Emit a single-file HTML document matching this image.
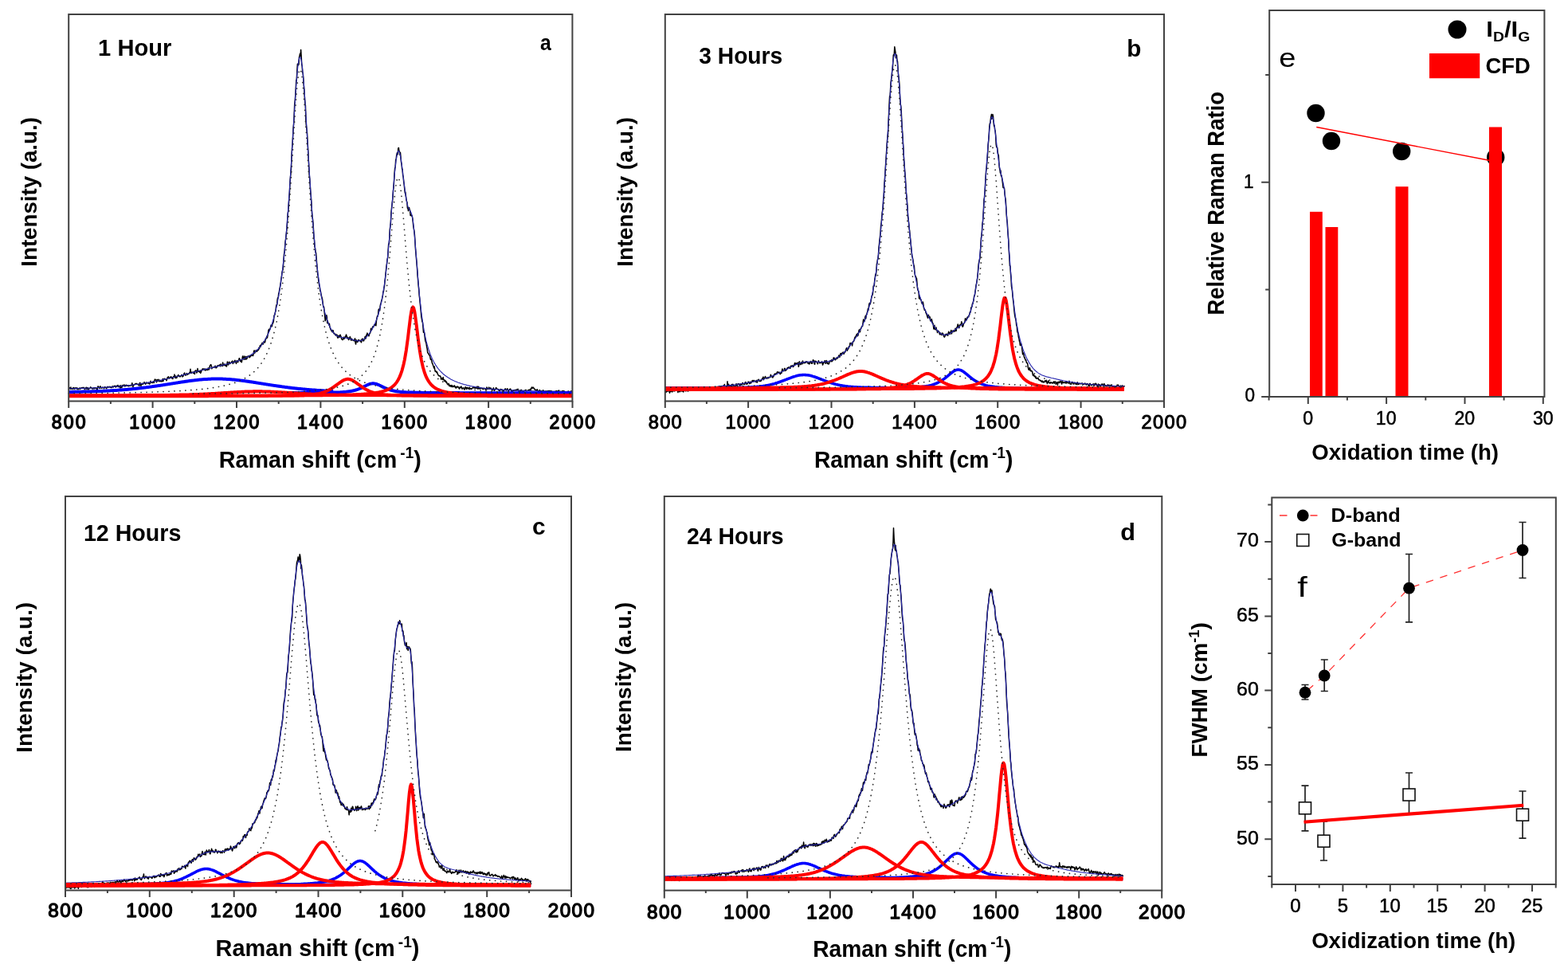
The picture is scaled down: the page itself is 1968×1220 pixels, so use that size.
<!DOCTYPE html>
<html lang="en"><head><meta charset="utf-8"><title>Raman spectra of oxidized carbon</title>
<style>
html,body{margin:0;padding:0;background:#fff;}
body{width:1968px;height:1220px;overflow:hidden;}
svg{display:block;font-family:'Liberation Sans', 'DejaVu Sans', sans-serif;filter:blur(0.5px);}
</style></head><body>
<svg width="1968" height="1220" viewBox="0 0 1968 1220">
<rect width="1968" height="1220" fill="#fff"/>
<g>
<polyline points="86.2,489 86.8,487.8 87.3,487.1 87.8,486.6 88.4,488.1 88.9,486.1 89.4,488.4 89.9,487.7 90.5,487.7 91,487.6 91.5,488.8 92,486.4 92.6,486.6 93.1,487.2 93.6,488.5 94.2,487.1 94.7,487 95.2,486.8 95.7,487.3 96.3,488.1 96.8,486.8 97.3,488.1 97.8,488.7 98.4,488.3 98.9,488.5 99.4,487.2 99.9,487.1 100.5,488.2 101,486.9 101.5,487.8 102.1,487 102.6,486.8 103.1,486.6 103.6,486.4 104.2,486.5 104.7,487.1 105.2,486.4 105.7,487.1 106.3,488.8 106.8,488.5 107.3,487.4 107.9,486.4 108.4,486.2 108.9,488.4 109.4,487.9 110,486.6 110.5,487.1 111,489 111.5,488 112.1,487.7 112.6,487.6 113.1,486.9 113.6,485.9 114.2,486.3 114.7,486.7 115.2,487.4 115.8,487.9 116.3,488.1 116.8,487.5 117.3,487.8 117.9,486.5 118.4,487.7 118.9,487.8 119.4,486.7 120,487.1 120.5,486.9 121,487.7 121.6,488.5 122.1,489.2 122.6,486.3 123.1,484.8 123.7,485.6 124.2,486.5 124.7,487.4 125.2,487.2 125.8,484.8 126.3,485.4 126.8,487.1 127.3,487 127.9,487.2 128.4,486.5 128.9,486.1 129.5,486.4 130,486.7 130.5,487.8 131,486.4 131.6,485.6 132.1,486.2 132.6,486.4 133.1,487.2 133.7,487.6 134.2,486.7 134.7,485.7 135.2,485.2 135.8,486.1 136.3,486.1 136.8,485.6 137.4,485.7 137.9,485.2 138.4,486.1 138.9,485.6 139.5,486.6 140,486.5 140.5,486.3 141,484.8 141.6,485.2 142.1,486.2 142.6,484.9 143.2,484.8 143.7,485.3 144.2,484.1 144.7,485 145.3,486.1 145.8,484.7 146.3,485.1 146.8,484 147.4,484.5 147.9,483.5 148.4,485.4 148.9,485.7 149.5,485 150,484.1 150.5,485.7 151.1,487.1 151.6,483.7 152.1,485 152.6,486.6 153.2,485.5 153.7,483.5 154.2,484.8 154.7,484.6 155.3,483.7 155.8,482.9 156.3,484.2 156.9,485.1 157.4,483.8 157.9,484.3 158.4,483.1 159,484.2 159.5,484.3 160,483.7 160.5,483.6 161.1,484.5 161.6,484.7 162.1,484.4 162.6,483.9 163.2,483.6 163.7,484 164.2,483.8 164.8,484 165.3,483.2 165.8,480.7 166.3,483.1 166.9,485.6 167.4,484.3 167.9,483 168.4,482.6 169,482.6 169.5,482.6 170,481.5 170.6,481.6 171.1,481.3 171.6,482.2 172.1,482.1 172.7,482.6 173.2,482.2 173.7,483 174.2,482.6 174.8,484.2 175.3,480.9 175.8,480.4 176.3,482.3 176.9,484.5 177.4,482.4 177.9,481.4 178.5,481.2 179,482.5 179.5,481.5 180,481.7 180.6,481 181.1,479.6 181.6,480.7 182.1,481.5 182.7,482.2 183.2,481.1 183.7,479.9 184.2,480.8 184.8,480.9 185.3,480.7 185.8,480.2 186.4,481.3 186.9,480.9 187.4,482 187.9,481.8 188.5,480.9 189,478.3 189.5,479.5 190,480.1 190.6,480.4 191.1,480.7 191.6,479.2 192.2,479.7 192.7,478.8 193.2,480.6 193.7,478.3 194.3,476.3 194.8,476.1 195.3,476.8 195.8,476.8 196.4,479.8 196.9,478.7 197.4,476.5 197.9,478.5 198.5,477.7 199,476.2 199.5,478 200.1,478.6 200.6,477.2 201.1,478.6 201.6,478 202.2,478.8 202.7,478.2 203.2,478.7 203.7,477.6 204.3,475.4 204.8,478.6 205.3,476.9 205.9,475.8 206.4,475.3 206.9,475.5 207.4,476.1 208,476.2 208.5,476.5 209,477.8 209.5,476.2 210.1,474 210.6,473.4 211.1,473.8 211.6,472.9 212.2,475 212.7,474.6 213.2,474.1 213.8,474.4 214.3,472.9 214.8,472.7 215.3,474.5 215.9,475 216.4,473.7 216.9,475.5 217.4,473.1 218,472.5 218.5,473 219,470.1 219.5,474 220.1,474.3 220.6,471.9 221.1,474.5 221.7,474.3 222.2,473.3 222.7,471.9 223.2,472.1 223.8,470.5 224.3,472.1 224.8,471.8 225.3,471.7 225.9,473 226.4,472.4 226.9,471.8 227.5,471.6 228,470.4 228.5,471.5 229,472.9 229.6,472.3 230.1,471.9 230.6,469.8 231.1,468.8 231.7,468.1 232.2,470.7 232.7,470.2 233.2,471.2 233.8,469.4 234.3,468.6 234.8,469.2 235.4,470.3 235.9,469.6 236.4,469.2 236.9,468.9 237.5,468.9 238,467.3 238.5,467.9 239,463.3 239.6,467.9 240.1,468.5 240.6,467.3 241.2,467.3 241.7,467.2 242.2,467.8 242.7,468.4 243.3,466.4 243.8,467.2 244.3,469.6 244.8,466.1 245.4,464.9 245.9,465 246.4,465.6 246.9,468 247.5,466.9 248,462.5 248.5,466.2 249.1,465.3 249.6,466.6 250.1,466.3 250.6,467.1 251.2,465.1 251.7,468.3 252.2,467.4 252.7,465.9 253.3,464.9 253.8,463.6 254.3,462.9 254.8,463.6 255.4,463 255.9,463.9 256.4,463 257,464 257.5,465 258,463.1 258.5,464.4 259.1,463.5 259.6,464.3 260.1,464 260.6,464.4 261.2,462 261.7,461.9 262.2,464.1 262.8,462.3 263.3,459.3 263.8,458.6 264.3,457.8 264.9,457.8 265.4,460 265.9,462.8 266.4,461.5 267,461.4 267.5,461.1 268,460.9 268.5,460.6 269.1,460.4 269.6,461.1 270.1,459.3 270.7,461 271.2,461.9 271.7,460.3 272.2,460.9 272.8,459.4 273.3,458.7 273.8,459.5 274.3,459.3 274.9,458.7 275.4,458.1 275.9,458 276.5,459.8 277,456.9 277.5,458.1 278,458.5 278.6,459.2 279.1,459.4 279.6,455 280.1,457.3 280.7,458.7 281.2,458 281.7,457.1 282.2,458.4 282.8,457.4 283.3,459.4 283.8,458.9 284.4,460 284.9,457.1 285.4,454.1 285.9,456.6 286.5,458 287,456.9 287.5,454.3 288,454.7 288.6,456.5 289.1,455.9 289.6,455.4 290.2,455.2 290.7,454.1 291.2,454 291.7,453 292.3,456.4 292.8,455.1 293.3,455 293.8,453.4 294.4,454.8 294.9,452.2 295.4,454.1 295.9,454.3 296.5,456.4 297,453 297.5,452.7 298.1,453.7 298.6,454.8 299.1,452.9 299.6,452.5 300.2,449.7 300.7,450 301.2,452.2 301.7,453.5 302.3,451.9 302.8,454 303.3,454.7 303.8,451.9 304.4,447.6 304.9,446.9 305.4,448.4 306,451.2 306.5,451 307,447.1 307.5,448 308.1,451.2 308.6,449.4 309.1,447.5 309.6,450.7 310.2,449.4 310.7,447.3 311.2,447.8 311.8,447.5 312.3,446.5 312.8,448.1 313.3,448.6 313.9,447.9 314.4,446.1 314.9,446.9 315.4,445.7 316,445.4 316.5,446.1 317,445.7 317.5,446.6 318.1,444.9 318.6,440.8 319.1,439.9 319.7,443.2 320.2,441.9 320.7,441.5 321.2,439.7 321.8,441.1 322.3,439.8 322.8,441.1 323.3,438.9 323.9,439.5 324.4,439.3 324.9,436.5 325.5,437.6 326,435.3 326.5,433.6 327,435.2 327.6,433.6 328.1,432.1 328.6,431.8 329.1,430.3 329.7,432.1 330.2,432 330.7,429.9 331.2,428.6 331.8,428.6 332.3,430 332.8,428.7 333.4,425.1 333.9,425.2 334.4,423.7 334.9,422 335.5,424 336,420.8 336.5,418 337,414.6 337.6,413.2 338.1,415.2 338.6,413.3 339.1,413.1 339.7,409.9 340.2,407.9 340.7,408.9 341.3,409.6 341.8,407.1 342.3,405.8 342.8,405.3 343.4,402.8 343.9,397.3 344.4,395.3 344.9,395 345.5,391.7 346,390.2 346.5,385.1 347.1,382.5 347.6,382.9 348.1,376.5 348.6,373.7 349.2,373.7 349.7,368.6 350.2,367.4 350.7,364.1 351.3,361.1 351.8,358.2 352.3,355.5 352.8,350.7 353.4,347.5 353.9,342.7 354.4,340.2 355,339 355.5,332.6 356,326.6 356.5,319.1 357.1,316.5 357.6,309.9 358.1,303.1 358.6,300.1 359.2,294.6 359.7,290.1 360.2,285.3 360.8,274.8 361.3,267.6 361.8,264.8 362.3,257.3 362.9,248.5 363.4,242 363.9,230.3 364.4,223.2 365,217.9 365.5,210.8 366,196.8 366.5,186.9 367.1,180.3 367.6,170.5 368.1,160.8 368.7,154.6 369.2,144.6 369.7,131.4 370.2,127.1 370.8,119.5 371.3,110.3 371.8,100.6 372.3,99.8 372.9,88.1 373.4,80.4 373.9,80.1 374.5,81.8 375,80.7 375.5,71.8 376,70.2 376.6,67.2 377.1,70.5 377.6,62.4 378.1,69.3 378.7,81.1 379.2,82.9 379.7,90.6 380.2,91.7 380.8,98.3 381.3,107.5 381.8,112.6 382.4,123 382.9,130.4 383.4,132.1 383.9,152.3 384.5,158.6 385,162.5 385.5,167 386,177.9 386.6,187 387.1,197.8 387.6,206.9 388.1,218.6 388.7,224.4 389.2,231.7 389.7,239.8 390.3,246.2 390.8,253.2 391.3,263.4 391.8,271 392.4,274.5 392.9,278.9 393.4,287.1 393.9,296.8 394.5,301.4 395,309.7 395.5,311.6 396.1,316.6 396.6,317.3 397.1,323.8 397.6,330.7 398.2,337 398.7,344.3 399.2,346.2 399.7,351.5 400.3,355 400.8,358.6 401.3,359.7 401.8,365.3 402.4,365.5 402.9,369.5 403.4,371.1 404,373.6 404.5,375 405,378.5 405.5,383.2 406.1,385.5 406.6,385.3 407.1,391.2 407.6,395.5 408.2,402.7 408.7,401.2 409.2,396.9 409.8,395.5 410.3,397.9 410.8,405.4 411.3,402.9 411.9,405.8 412.4,406.1 412.9,408 413.4,406.3 414,410.7 414.5,411.9 415,413.5 415.5,414 416.1,415.4 416.6,415.2 417.1,416.7 417.7,414.5 418.2,415 418.7,418.1 419.2,418.7 419.8,418.5 420.3,419 420.8,420.5 421.3,419.8 421.9,421.1 422.4,420 422.9,420.2 423.4,423 424,424.3 424.5,421.3 425,423 425.6,421.7 426.1,423.3 426.6,420.6 427.1,420.2 427.7,421.8 428.2,422.8 428.7,425.5 429.2,425.8 429.8,426.6 430.3,426.5 430.8,424.1 431.4,423.2 431.9,425.3 432.4,424.7 432.9,423.8 433.5,421.9 434,423.1 434.5,419.9 435,421.8 435.6,422.6 436.1,424.9 436.6,424.3 437.1,423.9 437.7,426.6 438.2,424.2 438.7,424.9 439.3,422.6 439.8,424.3 440.3,426.2 440.8,427.3 441.4,425.1 441.9,426 442.4,427 442.9,426.6 443.5,426.9 444,427.6 444.5,427.9 445.1,425.9 445.6,424.9 446.1,430.4 446.6,432 447.2,426.8 447.7,427.5 448.2,429 448.7,429.4 449.3,428.6 449.8,426.6 450.3,427 450.8,427 451.4,427.7 451.9,427.4 452.4,427.2 453,428.9 453.5,429.8 454,426.2 454.5,425.5 455.1,425.2 455.6,427.7 456.1,426.8 456.6,427.8 457.2,425.6 457.7,424.7 458.2,422.5 458.8,425.2 459.3,423.9 459.8,420.6 460.3,420.7 460.9,418.1 461.4,419.4 461.9,420.9 462.4,420.6 463,421.8 463.5,419.2 464,418.9 464.5,418.1 465.1,416.2 465.6,412.2 466.1,414.7 466.7,413.6 467.2,412.5 467.7,409.9 468.2,410.5 468.8,410.3 469.3,409 469.8,407.6 470.3,408.2 470.9,407.7 471.4,406.1 471.9,408.8 472.4,402.9 473,399.1 473.5,396.8 474,397.1 474.6,394.7 475.1,388.8 475.6,388 476.1,389.3 476.7,389.8 477.2,383.9 477.7,381.4 478.2,380.5 478.8,377.3 479.3,376.4 479.8,373.7 480.4,370.9 480.9,366.1 481.4,366.1 481.9,361.6 482.5,359.2 483,353.2 483.5,349.7 484,344 484.6,338 485.1,333.6 485.6,330.2 486.1,325.4 486.7,323.4 487.2,314.1 487.7,306.3 488.3,306.1 488.8,300.3 489.3,287.9 489.8,284.3 490.4,279.3 490.9,267.4 491.4,262.2 491.9,257.9 492.5,253.2 493,247.7 493.5,239.4 494.1,234.3 494.6,226.4 495.1,217.6 495.6,211.2 496.2,209.4 496.7,200.4 497.2,200 497.7,194.9 498.3,192 498.8,192.6 499.3,193.7 499.8,186.1 500.4,185.5 500.9,189.3 501.4,189.9 502,194.6 502.5,191.5 503,197.3 503.5,203.3 504.1,206.2 504.6,212.3 505.1,212.2 505.6,219.7 506.2,222.2 506.7,228.1 507.2,231.5 507.8,237.3 508.3,242.3 508.8,241 509.3,245.3 509.9,249.9 510.4,252.5 510.9,253.7 511.4,261.1 512,261.8 512.5,264.7 513,262.5 513.5,260.5 514.1,263.5 514.6,263.9 515.1,270.5 515.7,269.5 516.2,270.7 516.7,270.2 517.2,270.9 517.8,274.1 518.3,278.6 518.8,284 519.3,287 519.9,290.2 520.4,294.8 520.9,302.7 521.4,311.4 522,318.5 522.5,324.4 523,329.8 523.6,337.6 524.1,345.7 524.6,351.5 525.1,357.6 525.7,363.3 526.2,370.8 526.7,374.7 527.2,380.1 527.8,385.9 528.3,391.3 528.8,397.3 529.4,400.6 529.9,403.9 530.4,404.3 530.9,409.7 531.5,417.2 532,416.6 532.5,417.2 533,421.2 533.6,426.3 534.1,428.9 534.6,429.6 535.1,431.9 535.7,436 536.2,438.2 536.7,442.5 537.3,443.4 537.8,443.5 538.3,445.2 538.8,445.7 539.4,445.9 539.9,448.6 540.4,451.2 540.9,450.3 541.5,451.8 542,453.8 542.5,456 543.1,456.9 543.6,458.7 544.1,459.8 544.6,461.9 545.2,459.9 545.7,463.7 546.2,466.2 546.7,465.3 547.3,466.2 547.8,467.4 548.3,466.6 548.8,467.8 549.4,469.8 549.9,470.3 550.4,471.6 551,471.7 551.5,471.9 552,471.5 552.5,472.3 553.1,473 553.6,476.1 554.1,476 554.6,474.4 555.2,476 555.7,476.5 556.2,473.5 556.7,476.6 557.3,476.5 557.8,478.4 558.3,478.2 558.9,477.3 559.4,479.7 559.9,478.8 560.4,479.4 561,480.9 561.5,482.1 562,482.7 562.5,482.3 563.1,481.3 563.6,484.2 564.1,483.1 564.7,484.8 565.2,483.7 565.7,484.6 566.2,485.5 566.8,483.4 567.3,484.2 567.8,485.4 568.3,485.7 568.9,484.9 569.4,485.2 569.9,484.9 570.4,483.9 571,485.9 571.5,485.4 572,486.9 572.6,487 573.1,485.3 573.6,485.5 574.1,485.7 574.7,485.2 575.2,486.4 575.7,486.1 576.2,487.9 576.8,488.1 577.3,486 577.8,486.2 578.4,486.4 578.9,485 579.4,487 579.9,488.1 580.5,488.1 581,486.8 581.5,487.7 582,487.1 582.6,487.7 583.1,489.1 583.6,487.9 584.1,485.7 584.7,486.1 585.2,487.5 585.7,488.5 586.3,486.5 586.8,486.4 587.3,487.2 587.8,487.6 588.4,488.1 588.9,486.6 589.4,486.3 589.9,487.9 590.5,487.9 591,487.7 591.5,488.4 592,487.7 592.6,487.7 593.1,487.1 593.6,485.8 594.2,485.5 594.7,486.8 595.2,487.1 595.7,486.6 596.3,487.3 596.8,486.6 597.3,487.1 597.8,487.3 598.4,486.6 598.9,485 599.4,487.8 600,488.2 600.5,485.2 601,486 601.5,487.7 602.1,487.4 602.6,487.9 603.1,486.9 603.6,487.4 604.2,487.6 604.7,487.4 605.2,487.4 605.7,487.8 606.3,488.6 606.8,487.6 607.3,487.2 607.9,487.8 608.4,487.8 608.9,488.2 609.4,488.7 610,489.3 610.5,488.3 611,486 611.5,487.1 612.1,488.4 612.6,488.1 613.1,487.9 613.7,486.1 614.2,487.8 614.7,488.2 615.2,486.9 615.8,487 616.3,487.3 616.8,488.6 617.3,489.1 617.9,489.9 618.4,489.6 618.9,487.6 619.4,486.9 620,489 620.5,490.3 621,489 621.6,489.1 622.1,487.7 622.6,486.6 623.1,487.2 623.7,488.1 624.2,488.3 624.7,488.5 625.2,488.5 625.8,489.4 626.3,490.4 626.8,489.6 627.4,490.7 627.9,489.3 628.4,488.5 628.9,489.3 629.5,489 630,490 630.5,489.1 631,490.1 631.6,489.9 632.1,491.4 632.6,489.9 633.1,489.1 633.7,489.5 634.2,487.8 634.7,489.2 635.3,490.1 635.8,489.8 636.3,488.4 636.8,487.8 637.4,489.5 637.9,490.7 638.4,491.3 638.9,489.5 639.5,488.6 640,489.2 640.5,488.1 641,488.6 641.6,490.2 642.1,491.3 642.6,490.6 643.2,491.2 643.7,490.7 644.2,490.2 644.7,489.8 645.3,490 645.8,489.8 646.3,489.8 646.8,489.4 647.4,490 647.9,490.1 648.4,488.9 649,489.4 649.5,489.4 650,488.3 650.5,489.8 651.1,491.5 651.6,492.4 652.1,492.1 652.6,490.1 653.2,490.8 653.7,491.4 654.2,489.2 654.7,490.3 655.3,491 655.8,490.6 656.3,490.6 656.9,493.8 657.4,491.5 657.9,490.6 658.4,490.1 659,490.3 659.5,490.6 660,489.2 660.5,490.8 661.1,490.8 661.6,490.6 662.1,490.4 662.7,489.8 663.2,489.4 663.7,489.4 664.2,489.3 664.8,489.7 665.3,489.1 665.8,488.2 666.3,489.2 666.9,487.3 667.4,486 667.9,487.1 668.4,487.2 669,486 669.5,486.7 670,487.1 670.6,488.5 671.1,488.2 671.6,489.2 672.1,489.7 672.7,489.4 673.2,489.7 673.7,490.3 674.2,488.7 674.8,490 675.3,490.4 675.8,491.8 676.4,490.8 676.9,491.4 677.4,489.5 677.9,490.7 678.5,491.4 679,490.9 679.5,490.8 680,492.5 680.6,491.2 681.1,491.1 681.6,489.8 682.1,490.4 682.7,492.6 683.2,491.8 683.7,491.3 684.3,490.9 684.8,491.1 685.3,491.3 685.8,491 686.4,491.7 686.9,490.8 687.4,490.8 687.9,491.5 688.5,491.2 689,490.3 689.5,491.3 690,490.8 690.6,490.7 691.1,490.6 691.6,491 692.2,491 692.7,490.9 693.2,491.7 693.7,492.8 694.3,491.7 694.8,491.7 695.3,491.3 695.8,491.4 696.4,492.3 696.9,491.8 697.4,490.9 698,490.7 698.5,490.8 699,491.3 699.5,492.1 700.1,490.8 700.6,490.4 701.1,490.6 701.6,490.1 702.2,492 702.7,492 703.2,492.9 703.7,491.2 704.3,492.1 704.8,491.5 705.3,491.2 705.9,490.9 706.4,490.7 706.9,490.5 707.4,491.5 708,490.9 708.5,491.2 709,491.7 709.5,492.2 710.1,492 710.6,492 711.1,492.3 711.7,492 712.2,492.1 712.7,491.3 713.2,491 713.8,493 714.3,492.4 714.8,491.4 715.3,492.7 715.9,492.2 716.4,491.4 716.9,490.7 717.4,492.1 718,491.4 718.5,491.3" fill="none" stroke="#000" stroke-width="1.5" stroke-linejoin="round"/>
<polyline points="86.2,487.8 87.3,487.8 88.4,487.7 89.4,487.7 90.5,487.7 91.5,487.7 92.6,487.7 93.6,487.6 94.7,487.6 95.7,487.6 96.8,487.6 97.8,487.5 98.9,487.5 99.9,487.5 101,487.4 102.1,487.4 103.1,487.4 104.2,487.4 105.2,487.3 106.3,487.3 107.3,487.3 108.4,487.2 109.4,487.2 110.5,487.2 111.5,487.1 112.6,487.1 113.6,487 114.7,487 115.8,487 116.8,486.9 117.9,486.9 118.9,486.8 120,486.8 121,486.7 122.1,486.7 123.1,486.6 124.2,486.6 125.2,486.5 126.3,486.5 127.3,486.4 128.4,486.4 129.5,486.3 130.5,486.3 131.6,486.2 132.6,486.1 133.7,486.1 134.7,486 135.8,485.9 136.8,485.9 137.9,485.8 138.9,485.7 140,485.6 141,485.6 142.1,485.5 143.2,485.4 144.2,485.3 145.3,485.2 146.3,485.1 147.4,485.1 148.4,485 149.5,484.9 150.5,484.8 151.6,484.7 152.6,484.6 153.7,484.5 154.7,484.4 155.8,484.3 156.9,484.2 157.9,484.1 159,483.9 160,483.8 161.1,483.7 162.1,483.6 163.2,483.5 164.2,483.3 165.3,483.2 166.3,483.1 167.4,482.9 168.4,482.8 169.5,482.7 170.6,482.5 171.6,482.4 172.7,482.2 173.7,482.1 174.8,481.9 175.8,481.8 176.9,481.6 177.9,481.5 179,481.3 180,481.2 181.1,481 182.1,480.8 183.2,480.6 184.2,480.5 185.3,480.3 186.4,480.1 187.4,479.9 188.5,479.7 189.5,479.5 190.6,479.4 191.6,479.2 192.7,479 193.7,478.8 194.8,478.6 195.8,478.4 196.9,478.2 197.9,477.9 199,477.7 200.1,477.5 201.1,477.3 202.2,477.1 203.2,476.9 204.3,476.6 205.3,476.4 206.4,476.2 207.4,475.9 208.5,475.7 209.5,475.5 210.6,475.2 211.6,475 212.7,474.8 213.8,474.5 214.8,474.3 215.9,474 216.9,473.8 218,473.5 219,473.3 220.1,473 221.1,472.8 222.2,472.5 223.2,472.2 224.3,472 225.3,471.7 226.4,471.5 227.5,471.2 228.5,470.9 229.6,470.7 230.6,470.4 231.7,470.1 232.7,469.9 233.8,469.6 234.8,469.3 235.9,469 236.9,468.8 238,468.5 239,468.2 240.1,468 241.2,467.7 242.2,467.4 243.3,467.1 244.3,466.9 245.4,466.6 246.4,466.3 247.5,466.1 248.5,465.8 249.6,465.5 250.6,465.3 251.7,465 252.7,464.7 253.8,464.5 254.8,464.2 255.9,463.9 257,463.7 258,463.4 259.1,463.2 260.1,462.9 261.2,462.6 262.2,462.4 263.3,462.1 264.3,461.9 265.4,461.6 266.4,461.4 267.5,461.1 268.5,460.9 269.6,460.6 270.7,460.3 271.7,460.1 272.8,459.8 273.8,459.6 274.9,459.3 275.9,459.1 277,458.8 278,458.6 279.1,458.3 280.1,458.1 281.2,457.8 282.2,457.6 283.3,457.3 284.4,457 285.4,456.8 286.5,456.5 287.5,456.2 288.6,455.9 289.6,455.7 290.7,455.4 291.7,455.1 292.8,454.8 293.8,454.5 294.9,454.1 295.9,453.8 297,453.5 298.1,453.1 299.1,452.8 300.2,452.4 301.2,452 302.3,451.7 303.3,451.2 304.4,450.8 305.4,450.4 306.5,449.9 307.5,449.5 308.6,449 309.6,448.4 310.7,447.9 311.8,447.3 312.8,446.7 313.9,446.1 314.9,445.4 316,444.8 317,444 318.1,443.3 319.1,442.5 320.2,441.6 321.2,440.7 322.3,439.7 323.3,438.7 324.4,437.7 325.5,436.5 326.5,435.3 327.6,434 328.6,432.7 329.7,431.2 330.7,429.7 331.8,428 332.8,426.2 333.9,424.4 334.9,422.3 336,420.2 337,417.9 338.1,415.4 339.1,412.7 340.2,409.9 341.3,406.8 342.3,403.5 343.4,399.9 344.4,396.1 345.5,391.9 346.5,387.4 347.6,382.6 348.6,377.3 349.7,371.7 350.7,365.5 351.8,358.9 352.8,351.6 353.9,343.8 355,335.3 356,326.1 357.1,316.1 358.1,305.4 359.2,293.8 360.2,281.2 361.3,267.8 362.3,253.5 363.4,238.3 364.4,222.3 365.5,205.6 366.5,188.4 367.6,170.8 368.7,153.3 369.7,136.3 370.8,120.2 371.8,105.5 372.9,92.9 373.9,82.8 375,75.7 376,72 377.1,71.9 378.1,75.4 379.2,82.3 380.2,92.3 381.3,104.9 382.4,119.5 383.4,135.7 384.5,152.8 385.5,170.3 386.6,188 387.6,205.4 388.7,222.2 389.7,238.4 390.8,253.8 391.8,268.3 392.9,281.8 393.9,294.4 395,306.2 396.1,317 397.1,327 398.2,336.3 399.2,344.8 400.3,352.6 401.3,359.8 402.4,366.3 403.4,372.4 404.5,377.9 405.5,383 406.6,387.6 407.6,391.8 408.7,395.6 409.8,399.1 410.8,402.3 411.9,405.2 412.9,407.8 414,410.1 415,412.2 416.1,414 417.1,415.6 418.2,417.1 419.2,418.3 420.3,419.4 421.3,420.3 422.4,421.1 423.4,421.7 424.5,422.3 425.6,422.7 426.6,423 427.7,423.3 428.7,423.5 429.8,423.6 430.8,423.7 431.9,423.9 432.9,424 434,424.1 435,424.3 436.1,424.4 437.1,424.7 438.2,424.9 439.3,425.2 440.3,425.6 441.4,425.9 442.4,426.3 443.5,426.6 444.5,427 445.6,427.3 446.6,427.5 447.7,427.7 448.7,427.9 449.8,427.9 450.8,427.9 451.9,427.7 453,427.5 454,427.1 455.1,426.7 456.1,426.1 457.2,425.4 458.2,424.5 459.3,423.6 460.3,422.5 461.4,421.3 462.4,420 463.5,418.6 464.5,417.1 465.6,415.5 466.7,413.8 467.7,411.9 468.8,409.9 469.8,407.8 470.9,405.5 471.9,402.9 473,400.2 474,397.1 475.1,393.8 476.1,390 477.2,385.9 478.2,381.2 479.3,376 480.4,370.3 481.4,363.9 482.5,356.8 483.5,349 484.6,340.3 485.6,330.9 486.7,320.6 487.7,309.4 488.8,297.5 489.8,284.9 490.9,271.7 491.9,258.3 493,244.8 494.1,231.8 495.1,219.7 496.2,209 497.2,200.3 498.3,193.9 499.3,190.2 500.4,189.3 501.4,191.2 502.5,195.5 503.5,201.8 504.6,209.5 505.6,218.1 506.7,226.9 507.8,235.5 508.8,243.2 509.9,249.9 510.9,255.2 512,259.2 513,261.8 514.1,263.6 515.1,265.2 516.2,267.3 517.2,271 518.3,277 519.3,285.5 520.4,296.5 521.4,309.1 522.5,322.7 523.6,336.3 524.6,349.4 525.7,361.7 526.7,372.9 527.8,382.9 528.8,391.9 529.9,399.9 530.9,407 532,413.4 533,419 534.1,424.1 535.1,428.6 536.2,432.7 537.3,436.4 538.3,439.8 539.4,442.8 540.4,445.6 541.5,448.1 542.5,450.5 543.6,452.6 544.6,454.6 545.7,456.4 546.7,458.1 547.8,459.7 548.8,461.2 549.9,462.6 551,463.9 552,465.1 553.1,466.2 554.1,467.3 555.2,468.3 556.2,469.3 557.3,470.2 558.3,471 559.4,471.8 560.4,472.6 561.5,473.3 562.5,474 563.6,474.6 564.7,475.3 565.7,475.9 566.8,476.4 567.8,477 568.9,477.5 569.9,478 571,478.5 572,478.9 573.1,479.3 574.1,479.8 575.2,480.2 576.2,480.5 577.3,480.9 578.4,481.3 579.4,481.6 580.5,481.9 581.5,482.2 582.6,482.6 583.6,482.8 584.7,483.1 585.7,483.4 586.8,483.7 587.8,483.9 588.9,484.1 589.9,484.4 591,484.6 592,484.8 593.1,485 594.2,485.2 595.2,485.4 596.3,485.6 597.3,485.8 598.4,486 599.4,486.1 600.5,486.3 601.5,486.5 602.6,486.6 603.6,486.8 604.7,486.9 605.7,487 606.8,487.2 607.9,487.3 608.9,487.4 610,487.6 611,487.7 612.1,487.8 613.1,487.9 614.2,488 615.2,488.1 616.3,488.2 617.3,488.3 618.4,488.4 619.4,488.5 620.5,488.5 621.6,488.6 622.6,488.7 623.7,488.8 624.7,488.9 625.8,488.9 626.8,489 627.9,489.1 628.9,489.1 630,489.2 631,489.3 632.1,489.3 633.1,489.4 634.2,489.4 635.3,489.5 636.3,489.5 637.4,489.6 638.4,489.6 639.5,489.7 640.5,489.7 641.6,489.8 642.6,489.8 643.7,489.9 644.7,489.9 645.8,490 646.8,490 647.9,490 649,490.1 650,490.1 651.1,490.1 652.1,490.2 653.2,490.2 654.2,490.3 655.3,490.3 656.3,490.3 657.4,490.4 658.4,490.4 659.5,490.4 660.5,490.5 661.6,490.5 662.7,490.5 663.7,490.6 664.8,490.6 665.8,490.6 666.9,490.6 667.9,490.7 669,490.7 670,490.7 671.1,490.8 672.1,490.8 673.2,490.8 674.2,490.9 675.3,490.9 676.4,490.9 677.4,490.9 678.5,491 679.5,491 680.6,491 681.6,491.1 682.7,491.1 683.7,491.1 684.8,491.1 685.8,491.2 686.9,491.2 687.9,491.2 689,491.3 690,491.3 691.1,491.3 692.2,491.3 693.2,491.4 694.3,491.4 695.3,491.4 696.4,491.4 697.4,491.5 698.5,491.5 699.5,491.5 700.6,491.5 701.6,491.6 702.7,491.6 703.7,491.6 704.8,491.7 705.9,491.7 706.9,491.7 708,491.7 709,491.8 710.1,491.8 711.1,491.8 712.2,491.8 713.2,491.9 714.3,491.9 715.3,491.9 716.4,491.9 717.4,492 718.5,492" fill="none" stroke="#2a2ab0" stroke-width="1.15" stroke-linejoin="round"/>
<polyline points="86.2,491.9 87.3,491.9 88.4,491.9 89.4,491.9 90.5,491.9 91.5,491.9 92.6,491.9 93.6,491.8 94.7,491.8 95.7,491.8 96.8,491.8 97.8,491.8 98.9,491.7 99.9,491.7 101,491.7 102.1,491.7 103.1,491.7 104.2,491.6 105.2,491.6 106.3,491.6 107.3,491.6 108.4,491.5 109.4,491.5 110.5,491.5 111.5,491.4 112.6,491.4 113.6,491.4 114.7,491.4 115.8,491.3 116.8,491.3 117.9,491.3 118.9,491.2 120,491.2 121,491.1 122.1,491.1 123.1,491.1 124.2,491 125.2,491 126.3,490.9 127.3,490.9 128.4,490.9 129.5,490.8 130.5,490.8 131.6,490.7 132.6,490.7 133.7,490.6 134.7,490.6 135.8,490.5 136.8,490.4 137.9,490.4 138.9,490.3 140,490.3 141,490.2 142.1,490.1 143.2,490.1 144.2,490 145.3,489.9 146.3,489.9 147.4,489.8 148.4,489.7 149.5,489.6 150.5,489.6 151.6,489.5 152.6,489.4 153.7,489.3 154.7,489.2 155.8,489.2 156.9,489.1 157.9,489 159,488.9 160,488.8 161.1,488.7 162.1,488.6 163.2,488.5 164.2,488.4 165.3,488.3 166.3,488.2 167.4,488.1 168.4,488 169.5,487.9 170.6,487.8 171.6,487.7 172.7,487.5 173.7,487.4 174.8,487.3 175.8,487.2 176.9,487.1 177.9,486.9 179,486.8 180,486.7 181.1,486.5 182.1,486.4 183.2,486.3 184.2,486.1 185.3,486 186.4,485.9 187.4,485.7 188.5,485.6 189.5,485.4 190.6,485.3 191.6,485.1 192.7,485 193.7,484.8 194.8,484.7 195.8,484.5 196.9,484.4 197.9,484.2 199,484.1 200.1,483.9 201.1,483.8 202.2,483.6 203.2,483.4 204.3,483.3 205.3,483.1 206.4,482.9 207.4,482.8 208.5,482.6 209.5,482.4 210.6,482.3 211.6,482.1 212.7,481.9 213.8,481.8 214.8,481.6 215.9,481.4 216.9,481.3 218,481.1 219,480.9 220.1,480.8 221.1,480.6 222.2,480.4 223.2,480.3 224.3,480.1 225.3,480 226.4,479.8 227.5,479.6 228.5,479.5 229.6,479.3 230.6,479.2 231.7,479 232.7,478.8 233.8,478.7 234.8,478.5 235.9,478.4 236.9,478.2 238,478.1 239,478 240.1,477.8 241.2,477.7 242.2,477.6 243.3,477.4 244.3,477.3 245.4,477.2 246.4,477.1 247.5,476.9 248.5,476.8 249.6,476.7 250.6,476.6 251.7,476.5 252.7,476.4 253.8,476.3 254.8,476.2 255.9,476.1 257,476.1 258,476 259.1,475.9 260.1,475.9 261.2,475.8 262.2,475.7 263.3,475.7 264.3,475.7 265.4,475.6 266.4,475.6 267.5,475.6 268.5,475.5 269.6,475.5 270.7,475.5 271.7,475.5 272.8,475.5 273.8,475.5 274.9,475.5 275.9,475.5 277,475.6 278,475.6 279.1,475.6 280.1,475.7 281.2,475.7 282.2,475.7 283.3,475.8 284.4,475.9 285.4,475.9 286.5,476 287.5,476.1 288.6,476.1 289.6,476.2 290.7,476.3 291.7,476.4 292.8,476.5 293.8,476.6 294.9,476.7 295.9,476.8 297,476.9 298.1,477.1 299.1,477.2 300.2,477.3 301.2,477.4 302.3,477.6 303.3,477.7 304.4,477.8 305.4,478 306.5,478.1 307.5,478.2 308.6,478.4 309.6,478.5 310.7,478.7 311.8,478.8 312.8,479 313.9,479.2 314.9,479.3 316,479.5 317,479.6 318.1,479.8 319.1,480 320.2,480.1 321.2,480.3 322.3,480.4 323.3,480.6 324.4,480.8 325.5,480.9 326.5,481.1 327.6,481.3 328.6,481.4 329.7,481.6 330.7,481.8 331.8,481.9 332.8,482.1 333.9,482.3 334.9,482.4 336,482.6 337,482.8 338.1,482.9 339.1,483.1 340.2,483.3 341.3,483.4 342.3,483.6 343.4,483.8 344.4,483.9 345.5,484.1 346.5,484.2 347.6,484.4 348.6,484.5 349.7,484.7 350.7,484.8 351.8,485 352.8,485.1 353.9,485.3 355,485.4 356,485.6 357.1,485.7 358.1,485.9 359.2,486 360.2,486.1 361.3,486.3 362.3,486.4 363.4,486.5 364.4,486.7 365.5,486.8 366.5,486.9 367.6,487.1 368.7,487.2 369.7,487.3 370.8,487.4 371.8,487.5 372.9,487.7 373.9,487.8 375,487.9 376,488 377.1,488.1 378.1,488.2 379.2,488.3 380.2,488.4 381.3,488.5 382.4,488.6 383.4,488.7 384.5,488.8 385.5,488.9 386.6,489 387.6,489.1 388.7,489.2 389.7,489.2 390.8,489.3 391.8,489.4 392.9,489.5 393.9,489.6 395,489.6 396.1,489.7 397.1,489.8 398.2,489.9 399.2,489.9 400.3,490 401.3,490.1 402.4,490.1 403.4,490.2 404.5,490.3 405.5,490.3 406.6,490.4 407.6,490.4 408.7,490.5 409.8,490.6 410.8,490.6 411.9,490.7 412.9,490.7 414,490.8 415,490.8 416.1,490.9 417.1,490.9 418.2,490.9" fill="none" stroke="#0000ff" stroke-width="4" stroke-linejoin="round"/>
<polyline points="365.5,493.1 366.5,493.1 367.6,493.1 368.7,493.1 369.7,493.1 370.8,493.1 371.8,493.1 372.9,493.1 373.9,493.1 375,493.1 376,493.1 377.1,493.1 378.1,493.1 379.2,493.1 380.2,493.1 381.3,493.1 382.4,493.1 383.4,493.1 384.5,493.1 385.5,493 386.6,493 387.6,493 388.7,493 389.7,493 390.8,493 391.8,493 392.9,493 393.9,493 395,493 396.1,493 397.1,493 398.2,493 399.2,492.9 400.3,492.9 401.3,492.9 402.4,492.9 403.4,492.9 404.5,492.9 405.5,492.9 406.6,492.9 407.6,492.8 408.7,492.8 409.8,492.8 410.8,492.8 411.9,492.8 412.9,492.8 414,492.7 415,492.7 416.1,492.7 417.1,492.7 418.2,492.6 419.2,492.6 420.3,492.6 421.3,492.6 422.4,492.5 423.4,492.5 424.5,492.4 425.6,492.4 426.6,492.4 427.7,492.3 428.7,492.2 429.8,492.2 430.8,492.1 431.9,492 432.9,491.9 434,491.9 435,491.7 436.1,491.6 437.1,491.5 438.2,491.3 439.3,491.2 440.3,491 441.4,490.8 442.4,490.6 443.5,490.3 444.5,490.1 445.6,489.8 446.6,489.5 447.7,489.1 448.7,488.8 449.8,488.4 450.8,488 451.9,487.5 453,487.1 454,486.6 455.1,486.1 456.1,485.6 457.2,485.1 458.2,484.5 459.3,484 460.3,483.5 461.4,483 462.4,482.6 463.5,482.2 464.5,481.8 465.6,481.6 466.7,481.4 467.7,481.3 468.8,481.3 469.8,481.4 470.9,481.6 471.9,481.8 473,482.2 474,482.6 475.1,483 476.1,483.5 477.2,484 478.2,484.5 479.3,485.1 480.4,485.6 481.4,486.1 482.5,486.6 483.5,487.1 484.6,487.5 485.6,488 486.7,488.4 487.7,488.8 488.8,489.1 489.8,489.5 490.9,489.8 491.9,490.1 493,490.3 494.1,490.6 495.1,490.8 496.2,491 497.2,491.2 498.3,491.3 499.3,491.5 500.4,491.6 501.4,491.7 502.5,491.9 503.5,491.9 504.6,492 505.6,492.1 506.7,492.2 507.8,492.2 508.8,492.3 509.9,492.4 510.9,492.4 512,492.4 513,492.5 514.1,492.5 515.1,492.6 516.2,492.6 517.2,492.6 518.3,492.6 519.3,492.7 520.4,492.7 521.4,492.7 522.5,492.7 523.6,492.8 524.6,492.8 525.7,492.8 526.7,492.8 527.8,492.8 528.8,492.8 529.9,492.9 530.9,492.9 532,492.9 533,492.9 534.1,492.9 535.1,492.9 536.2,492.9 537.3,492.9 538.3,493 539.4,493 540.4,493 541.5,493 542.5,493 543.6,493 544.6,493 545.7,493 546.7,493 547.8,493 548.8,493 549.9,493 551,493 552,493.1 553.1,493.1 554.1,493.1 555.2,493.1 556.2,493.1 557.3,493.1 558.3,493.1 559.4,493.1 560.4,493.1 561.5,493.1 562.5,493.1 563.6,493.1 564.7,493.1 565.7,493.1 566.8,493.1 567.8,493.1 568.9,493.1 569.9,493.1 571,493.1 572,493.1 573.1,493.1 574.1,493.1 575.2,493.1 576.2,493.1 577.3,493.2 578.4,493.2 579.4,493.2 580.5,493.2 581.5,493.2 582.6,493.2 583.6,493.2 584.7,493.2 585.7,493.2 586.8,493.2 587.8,493.2 588.9,493.2 589.9,493.2 591,493.2 592,493.2 593.1,493.2 594.2,493.2 595.2,493.2 596.3,493.2 597.3,493.2 598.4,493.2 599.4,493.2 600.5,493.2 601.5,493.2 602.6,493.2 603.6,493.2 604.7,493.2 605.7,493.2 606.8,493.2 607.9,493.2 608.9,493.2 610,493.2 611,493.2 612.1,493.2 613.1,493.2 614.2,493.2 615.2,493.2 616.3,493.2 617.3,493.2 618.4,493.2 619.4,493.2 620.5,493.2 621.6,493.2 622.6,493.2 623.7,493.2 624.7,493.2 625.8,493.2 626.8,493.2 627.9,493.2 628.9,493.2 630,493.2 631,493.2 632.1,493.2 633.1,493.2 634.2,493.2 635.3,493.2 636.3,493.2 637.4,493.2 638.4,493.2 639.5,493.2 640.5,493.2 641.6,493.2 642.6,493.2 643.7,493.2 644.7,493.2 645.8,493.2 646.8,493.2 647.9,493.2 649,493.2 650,493.2 651.1,493.2 652.1,493.2 653.2,493.2 654.2,493.2 655.3,493.2 656.3,493.2 657.4,493.3 658.4,493.3 659.5,493.3 660.5,493.3 661.6,493.3 662.7,493.3 663.7,493.3 664.8,493.3 665.8,493.3 666.9,493.3 667.9,493.3 669,493.3 670,493.3 671.1,493.3 672.1,493.3 673.2,493.3 674.2,493.3 675.3,493.3 676.4,493.3 677.4,493.3 678.5,493.3 679.5,493.3 680.6,493.3 681.6,493.3 682.7,493.3 683.7,493.3 684.8,493.3 685.8,493.3 686.9,493.3 687.9,493.3 689,493.3 690,493.3 691.1,493.3 692.2,493.3 693.2,493.3 694.3,493.3 695.3,493.3 696.4,493.3 697.4,493.3 698.5,493.3 699.5,493.3 700.6,493.3 701.6,493.3 702.7,493.3 703.7,493.3 704.8,493.3 705.9,493.3 706.9,493.3 708,493.3 709,493.3 710.1,493.3 711.1,493.3 712.2,493.3 713.2,493.3 714.3,493.3 715.3,493.3 716.4,493.3 717.4,493.3 718.5,493.3" fill="none" stroke="#0000ff" stroke-width="4" stroke-linejoin="round"/>
<polyline points="86.2,496.2 87.3,496.2 88.4,496.2 89.4,496.2 90.5,496.2 91.5,496.2 92.6,496.2 93.6,496.2 94.7,496.2 95.7,496.2 96.8,496.2 97.8,496.2 98.9,496.2 99.9,496.2 101,496.2 102.1,496.2 103.1,496.2 104.2,496.2 105.2,496.2 106.3,496.2 107.3,496.2 108.4,496.2 109.4,496.2 110.5,496.2 111.5,496.2 112.6,496.2 113.6,496.2 114.7,496.2 115.8,496.2 116.8,496.2 117.9,496.2 118.9,496.2 120,496.2 121,496.2 122.1,496.2 123.1,496.2 124.2,496.2 125.2,496.2 126.3,496.2 127.3,496.2 128.4,496.2 129.5,496.2 130.5,496.2 131.6,496.2 132.6,496.2 133.7,496.2 134.7,496.2 135.8,496.2 136.8,496.2 137.9,496.2 138.9,496.2 140,496.2 141,496.2 142.1,496.2 143.2,496.2 144.2,496.2 145.3,496.2 146.3,496.2 147.4,496.2 148.4,496.2 149.5,496.2 150.5,496.2 151.6,496.2 152.6,496.2 153.7,496.2 154.7,496.2 155.8,496.2 156.9,496.2 157.9,496.2 159,496.2 160,496.2 161.1,496.2 162.1,496.1 163.2,496.1 164.2,496.1 165.3,496.1 166.3,496.1 167.4,496.1 168.4,496.1 169.5,496.1 170.6,496.1 171.6,496.1 172.7,496.1 173.7,496.1 174.8,496.1 175.8,496.1 176.9,496.1 177.9,496.1 179,496.1 180,496.1 181.1,496.1 182.1,496.1 183.2,496.1 184.2,496.1 185.3,496.1 186.4,496.1 187.4,496.1 188.5,496.1 189.5,496.1 190.6,496.1 191.6,496 192.7,496 193.7,496 194.8,496 195.8,496 196.9,496 197.9,496 199,496 200.1,496 201.1,496 202.2,496 203.2,496 204.3,496 205.3,495.9 206.4,495.9 207.4,495.9 208.5,495.9 209.5,495.9 210.6,495.9 211.6,495.9 212.7,495.9 213.8,495.8 214.8,495.8 215.9,495.8 216.9,495.8 218,495.8 219,495.8 220.1,495.7 221.1,495.7 222.2,495.7 223.2,495.7 224.3,495.7 225.3,495.6 226.4,495.6 227.5,495.6 228.5,495.6 229.6,495.6 230.6,495.5 231.7,495.5 232.7,495.5 233.8,495.4 234.8,495.4 235.9,495.4 236.9,495.4 238,495.3 239,495.3 240.1,495.3 241.2,495.2 242.2,495.2 243.3,495.1 244.3,495.1 245.4,495.1 246.4,495 247.5,495 248.5,494.9 249.6,494.9 250.6,494.8 251.7,494.8 252.7,494.8 253.8,494.7 254.8,494.7 255.9,494.6 257,494.6 258,494.5 259.1,494.4 260.1,494.4 261.2,494.3 262.2,494.3 263.3,494.2 264.3,494.2 265.4,494.1 266.4,494 267.5,494 268.5,493.9 269.6,493.9 270.7,493.8 271.7,493.7 272.8,493.7 273.8,493.6 274.9,493.5 275.9,493.5 277,493.4 278,493.3 279.1,493.3 280.1,493.2 281.2,493.1 282.2,493.1 283.3,493 284.4,492.9 285.4,492.9 286.5,492.8 287.5,492.7 288.6,492.7 289.6,492.6 290.7,492.5 291.7,492.5 292.8,492.4 293.8,492.3 294.9,492.3 295.9,492.2 297,492.2 298.1,492.1 299.1,492 300.2,492 301.2,491.9 302.3,491.9 303.3,491.8 304.4,491.8 305.4,491.7 306.5,491.7 307.5,491.6 308.6,491.6 309.6,491.6 310.7,491.5 311.8,491.5 312.8,491.5 313.9,491.4 314.9,491.4 316,491.4 317,491.4 318.1,491.3 319.1,491.3 320.2,491.3 321.2,491.3 322.3,491.3 323.3,491.3 324.4,491.3 325.5,491.3 326.5,491.3 327.6,491.3 328.6,491.3 329.7,491.4 330.7,491.4 331.8,491.4 332.8,491.4 333.9,491.5 334.9,491.5 336,491.5 337,491.6 338.1,491.6 339.1,491.6 340.2,491.7 341.3,491.7 342.3,491.8 343.4,491.8 344.4,491.9 345.5,491.9 346.5,492 347.6,492 348.6,492.1 349.7,492.2 350.7,492.2 351.8,492.3 352.8,492.3 353.9,492.4 355,492.5 356,492.5 357.1,492.6 358.1,492.7 359.2,492.7 360.2,492.8 361.3,492.9 362.3,492.9 363.4,493 364.4,493.1 365.5,493.1 366.5,493.2 367.6,493.3 368.7,493.3 369.7,493.4 370.8,493.5 371.8,493.5 372.9,493.6 373.9,493.7 375,493.7 376,493.8 377.1,493.9 378.1,493.9 379.2,494 380.2,494 381.3,494.1 382.4,494.2 383.4,494.2 384.5,494.3 385.5,494.3 386.6,494.4 387.6,494.4 388.7,494.5 389.7,494.6 390.8,494.6 391.8,494.7 392.9,494.7 393.9,494.8 395,494.8 396.1,494.8 397.1,494.9 398.2,494.9 399.2,495 400.3,495 401.3,495.1 402.4,495.1 403.4,495.1 404.5,495.2 405.5,495.2 406.6,495.3 407.6,495.3 408.7,495.3 409.8,495.4 410.8,495.4 411.9,495.4 412.9,495.4 414,495.5 415,495.5 416.1,495.5 417.1,495.6 418.2,495.6 419.2,495.6 420.3,495.6 421.3,495.6 422.4,495.7 423.4,495.7 424.5,495.7 425.6,495.7 426.6,495.7 427.7,495.8 428.7,495.8 429.8,495.8 430.8,495.8 431.9,495.8 432.9,495.8 434,495.9 435,495.9 436.1,495.9 437.1,495.9 438.2,495.9 439.3,495.9 440.3,495.9 441.4,495.9 442.4,496 443.5,496 444.5,496 445.6,496 446.6,496 447.7,496 448.7,496 449.8,496 450.8,496 451.9,496 453,496 454,496 455.1,496 456.1,496.1 457.2,496.1 458.2,496.1 459.3,496.1 460.3,496.1 461.4,496.1 462.4,496.1 463.5,496.1 464.5,496.1 465.6,496.1 466.7,496.1 467.7,496.1 468.8,496.1 469.8,496.1 470.9,496.1 471.9,496.1 473,496.1 474,496.1 475.1,496.1 476.1,496.1 477.2,496.1 478.2,496.1 479.3,496.1 480.4,496.1 481.4,496.1 482.5,496.1 483.5,496.1 484.6,496.1 485.6,496.2 486.7,496.2 487.7,496.2 488.8,496.2 489.8,496.2 490.9,496.2 491.9,496.2 493,496.2 494.1,496.2 495.1,496.2 496.2,496.2 497.2,496.2 498.3,496.2 499.3,496.2 500.4,496.2 501.4,496.2 502.5,496.2 503.5,496.2 504.6,496.2 505.6,496.2 506.7,496.2 507.8,496.2 508.8,496.2 509.9,496.2 510.9,496.2 512,496.2 513,496.2 514.1,496.2 515.1,496.2 516.2,496.2 517.2,496.2 518.3,496.2 519.3,496.2 520.4,496.2 521.4,496.2 522.5,496.2 523.6,496.2 524.6,496.2 525.7,496.2 526.7,496.2 527.8,496.2 528.8,496.2 529.9,496.2 530.9,496.2 532,496.2 533,496.2 534.1,496.2 535.1,496.2 536.2,496.2 537.3,496.2 538.3,496.2 539.4,496.2 540.4,496.2 541.5,496.2 542.5,496.2 543.6,496.2 544.6,496.2 545.7,496.2 546.7,496.2 547.8,496.2 548.8,496.2 549.9,496.2 551,496.2 552,496.2 553.1,496.2 554.1,496.2 555.2,496.2 556.2,496.2 557.3,496.2 558.3,496.2 559.4,496.2 560.4,496.2 561.5,496.2 562.5,496.2 563.6,496.2 564.7,496.2 565.7,496.2 566.8,496.2 567.8,496.2 568.9,496.2 569.9,496.2 571,496.2 572,496.2 573.1,496.2 574.1,496.2 575.2,496.2 576.2,496.2 577.3,496.2 578.4,496.2 579.4,496.2 580.5,496.2 581.5,496.2 582.6,496.2 583.6,496.2 584.7,496.2 585.7,496.2 586.8,496.2 587.8,496.2 588.9,496.2 589.9,496.2 591,496.2 592,496.2 593.1,496.2 594.2,496.2 595.2,496.2 596.3,496.2 597.3,496.2 598.4,496.2 599.4,496.2 600.5,496.2 601.5,496.2 602.6,496.2 603.6,496.2 604.7,496.2 605.7,496.2 606.8,496.2 607.9,496.3 608.9,496.3 610,496.3 611,496.3 612.1,496.3 613.1,496.3 614.2,496.3 615.2,496.3 616.3,496.3 617.3,496.3 618.4,496.3 619.4,496.3 620.5,496.3 621.6,496.3 622.6,496.3 623.7,496.3 624.7,496.3 625.8,496.3 626.8,496.3 627.9,496.3 628.9,496.3 630,496.3 631,496.3 632.1,496.3 633.1,496.3 634.2,496.3 635.3,496.3 636.3,496.3 637.4,496.3 638.4,496.3 639.5,496.3 640.5,496.3 641.6,496.3 642.6,496.3 643.7,496.3 644.7,496.3 645.8,496.3 646.8,496.3 647.9,496.3 649,496.3 650,496.3 651.1,496.3 652.1,496.3 653.2,496.3 654.2,496.3 655.3,496.3 656.3,496.3 657.4,496.3 658.4,496.3 659.5,496.3 660.5,496.3 661.6,496.3 662.7,496.3 663.7,496.3 664.8,496.3 665.8,496.3 666.9,496.3 667.9,496.3 669,496.3 670,496.3 671.1,496.3 672.1,496.3 673.2,496.3 674.2,496.3 675.3,496.3 676.4,496.3 677.4,496.3 678.5,496.3 679.5,496.3 680.6,496.3 681.6,496.3 682.7,496.3 683.7,496.3 684.8,496.3 685.8,496.3 686.9,496.3 687.9,496.3 689,496.3 690,496.3 691.1,496.3 692.2,496.3 693.2,496.3 694.3,496.3 695.3,496.3 696.4,496.3 697.4,496.3 698.5,496.3 699.5,496.3 700.6,496.3 701.6,496.3 702.7,496.3 703.7,496.3 704.8,496.3 705.9,496.3 706.9,496.3 708,496.3 709,496.3 710.1,496.3 711.1,496.3 712.2,496.3 713.2,496.3 714.3,496.3 715.3,496.3 716.4,496.3 717.4,496.3 718.5,496.3" fill="none" stroke="#ff0000" stroke-width="4" stroke-linejoin="round"/>
<polyline points="86.2,497.3 87.3,497.3 88.4,497.3 89.4,497.3 90.5,497.3 91.5,497.3 92.6,497.3 93.6,497.3 94.7,497.3 95.7,497.3 96.8,497.3 97.8,497.3 98.9,497.3 99.9,497.3 101,497.3 102.1,497.3 103.1,497.3 104.2,497.3 105.2,497.3 106.3,497.3 107.3,497.3 108.4,497.3 109.4,497.3 110.5,497.3 111.5,497.3 112.6,497.3 113.6,497.3 114.7,497.3 115.8,497.3 116.8,497.3 117.9,497.3 118.9,497.3 120,497.3 121,497.3 122.1,497.3 123.1,497.3 124.2,497.3 125.2,497.3 126.3,497.3 127.3,497.3 128.4,497.3 129.5,497.3 130.5,497.3 131.6,497.3 132.6,497.2 133.7,497.2 134.7,497.2 135.8,497.2 136.8,497.2 137.9,497.2 138.9,497.2 140,497.2 141,497.2 142.1,497.2 143.2,497.2 144.2,497.2 145.3,497.2 146.3,497.2 147.4,497.2 148.4,497.2 149.5,497.2 150.5,497.2 151.6,497.2 152.6,497.2 153.7,497.2 154.7,497.2 155.8,497.2 156.9,497.2 157.9,497.2 159,497.2 160,497.2 161.1,497.2 162.1,497.2 163.2,497.2 164.2,497.2 165.3,497.2 166.3,497.2 167.4,497.2 168.4,497.2 169.5,497.2 170.6,497.2 171.6,497.2 172.7,497.2 173.7,497.2 174.8,497.2 175.8,497.2 176.9,497.2 177.9,497.2 179,497.2 180,497.2 181.1,497.2 182.1,497.2 183.2,497.2 184.2,497.2 185.3,497.2 186.4,497.2 187.4,497.2 188.5,497.2 189.5,497.2 190.6,497.2 191.6,497.2 192.7,497.2 193.7,497.2 194.8,497.2 195.8,497.2 196.9,497.2 197.9,497.2 199,497.2 200.1,497.2 201.1,497.2 202.2,497.2 203.2,497.2 204.3,497.2 205.3,497.2 206.4,497.2 207.4,497.2 208.5,497.2 209.5,497.2 210.6,497.2 211.6,497.2 212.7,497.2 213.8,497.2 214.8,497.2 215.9,497.2 216.9,497.2 218,497.2 219,497.2 220.1,497.2 221.1,497.2 222.2,497.2 223.2,497.2 224.3,497.2 225.3,497.2 226.4,497.2 227.5,497.2 228.5,497.2 229.6,497.2 230.6,497.2 231.7,497.2 232.7,497.2 233.8,497.2 234.8,497.2 235.9,497.2 236.9,497.2 238,497.2 239,497.2 240.1,497.2 241.2,497.2 242.2,497.2 243.3,497.2 244.3,497.2 245.4,497.2 246.4,497.2 247.5,497.2 248.5,497.2 249.6,497.2 250.6,497.2 251.7,497.2 252.7,497.2 253.8,497.2 254.8,497.2 255.9,497.2 257,497.2 258,497.2 259.1,497.2 260.1,497.2 261.2,497.2 262.2,497.1 263.3,497.1 264.3,497.1 265.4,497.1 266.4,497.1 267.5,497.1 268.5,497.1 269.6,497.1 270.7,497.1 271.7,497.1 272.8,497.1 273.8,497.1 274.9,497.1 275.9,497.1 277,497.1 278,497.1 279.1,497.1 280.1,497.1 281.2,497.1 282.2,497.1 283.3,497.1 284.4,497.1 285.4,497.1 286.5,497.1 287.5,497.1 288.6,497.1 289.6,497.1 290.7,497.1 291.7,497.1 292.8,497.1 293.8,497.1 294.9,497.1 295.9,497.1 297,497.1 298.1,497.1 299.1,497.1 300.2,497.1 301.2,497.1 302.3,497 303.3,497 304.4,497 305.4,497 306.5,497 307.5,497 308.6,497 309.6,497 310.7,497 311.8,497 312.8,497 313.9,497 314.9,497 316,497 317,497 318.1,497 319.1,497 320.2,497 321.2,497 322.3,497 323.3,496.9 324.4,496.9 325.5,496.9 326.5,496.9 327.6,496.9 328.6,496.9 329.7,496.9 330.7,496.9 331.8,496.9 332.8,496.9 333.9,496.9 334.9,496.9 336,496.9 337,496.8 338.1,496.8 339.1,496.8 340.2,496.8 341.3,496.8 342.3,496.8 343.4,496.8 344.4,496.8 345.5,496.8 346.5,496.8 347.6,496.7 348.6,496.7 349.7,496.7 350.7,496.7 351.8,496.7 352.8,496.7 353.9,496.7 355,496.6 356,496.6 357.1,496.6 358.1,496.6 359.2,496.6 360.2,496.6 361.3,496.5 362.3,496.5 363.4,496.5 364.4,496.5 365.5,496.4 366.5,496.4 367.6,496.4 368.7,496.4 369.7,496.3 370.8,496.3 371.8,496.3 372.9,496.2 373.9,496.2 375,496.2 376,496.1 377.1,496.1 378.1,496.1 379.2,496 380.2,496 381.3,495.9 382.4,495.9 383.4,495.8 384.5,495.7 385.5,495.7 386.6,495.6 387.6,495.5 388.7,495.5 389.7,495.4 390.8,495.3 391.8,495.2 392.9,495 393.9,494.9 395,494.8 396.1,494.6 397.1,494.5 398.2,494.3 399.2,494.1 400.3,493.9 401.3,493.6 402.4,493.4 403.4,493.1 404.5,492.8 405.5,492.5 406.6,492.1 407.6,491.7 408.7,491.3 409.8,490.9 410.8,490.4 411.9,489.9 412.9,489.4 414,488.8 415,488.2 416.1,487.6 417.1,486.9 418.2,486.2 419.2,485.5 420.3,484.7 421.3,484 422.4,483.2 423.4,482.4 424.5,481.7 425.6,480.9 426.6,480.1 427.7,479.4 428.7,478.7 429.8,478 430.8,477.4 431.9,476.9 432.9,476.5 434,476.2 435,475.9 436.1,475.8 437.1,475.8 438.2,475.9 439.3,476.2 440.3,476.5 441.4,476.9 442.4,477.4 443.5,478 444.5,478.7 445.6,479.4 446.6,480.1 447.7,480.9 448.7,481.7 449.8,482.4 450.8,483.2 451.9,484 453,484.7 454,485.5 455.1,486.2 456.1,486.9 457.2,487.6 458.2,488.2 459.3,488.8 460.3,489.4 461.4,489.9 462.4,490.4 463.5,490.9 464.5,491.3 465.6,491.7 466.7,492.1 467.7,492.5 468.8,492.8 469.8,493.1 470.9,493.4 471.9,493.6 473,493.9 474,494.1 475.1,494.3 476.1,494.5 477.2,494.6 478.2,494.8 479.3,494.9 480.4,495 481.4,495.2 482.5,495.3 483.5,495.4 484.6,495.5 485.6,495.5 486.7,495.6 487.7,495.7 488.8,495.7 489.8,495.8 490.9,495.9 491.9,495.9 493,496 494.1,496 495.1,496.1 496.2,496.1 497.2,496.1 498.3,496.2 499.3,496.2 500.4,496.2 501.4,496.3 502.5,496.3 503.5,496.3 504.6,496.4 505.6,496.4 506.7,496.4 507.8,496.4 508.8,496.5 509.9,496.5 510.9,496.5 512,496.5 513,496.6 514.1,496.6 515.1,496.6 516.2,496.6 517.2,496.6 518.3,496.6 519.3,496.7 520.4,496.7 521.4,496.7 522.5,496.7 523.6,496.7 524.6,496.7 525.7,496.7 526.7,496.8 527.8,496.8 528.8,496.8 529.9,496.8 530.9,496.8 532,496.8 533,496.8 534.1,496.8 535.1,496.8 536.2,496.8 537.3,496.9 538.3,496.9 539.4,496.9 540.4,496.9 541.5,496.9 542.5,496.9 543.6,496.9 544.6,496.9 545.7,496.9 546.7,496.9 547.8,496.9 548.8,496.9 549.9,496.9 551,497 552,497 553.1,497 554.1,497 555.2,497 556.2,497 557.3,497 558.3,497 559.4,497 560.4,497 561.5,497 562.5,497 563.6,497 564.7,497 565.7,497 566.8,497 567.8,497 568.9,497 569.9,497 571,497 572,497.1 573.1,497.1 574.1,497.1 575.2,497.1 576.2,497.1 577.3,497.1 578.4,497.1 579.4,497.1 580.5,497.1 581.5,497.1 582.6,497.1 583.6,497.1 584.7,497.1 585.7,497.1 586.8,497.1 587.8,497.1 588.9,497.1 589.9,497.1 591,497.1 592,497.1 593.1,497.1 594.2,497.1 595.2,497.1 596.3,497.1 597.3,497.1 598.4,497.1 599.4,497.1 600.5,497.1 601.5,497.1 602.6,497.1 603.6,497.1 604.7,497.1 605.7,497.1 606.8,497.1 607.9,497.1 608.9,497.1 610,497.1 611,497.1 612.1,497.2 613.1,497.2 614.2,497.2 615.2,497.2 616.3,497.2 617.3,497.2 618.4,497.2 619.4,497.2 620.5,497.2 621.6,497.2 622.6,497.2 623.7,497.2 624.7,497.2 625.8,497.2 626.8,497.2 627.9,497.2 628.9,497.2 630,497.2 631,497.2 632.1,497.2 633.1,497.2 634.2,497.2 635.3,497.2 636.3,497.2 637.4,497.2 638.4,497.2 639.5,497.2 640.5,497.2 641.6,497.2 642.6,497.2 643.7,497.2 644.7,497.2 645.8,497.2 646.8,497.2 647.9,497.2 649,497.2 650,497.2 651.1,497.2 652.1,497.2 653.2,497.2 654.2,497.2 655.3,497.2 656.3,497.2 657.4,497.2 658.4,497.2 659.5,497.2 660.5,497.2 661.6,497.2 662.7,497.2 663.7,497.2 664.8,497.2 665.8,497.2 666.9,497.2 667.9,497.2 669,497.2 670,497.2 671.1,497.2 672.1,497.2 673.2,497.2 674.2,497.2 675.3,497.2 676.4,497.2 677.4,497.2 678.5,497.2 679.5,497.2 680.6,497.2 681.6,497.2 682.7,497.2 683.7,497.2 684.8,497.2 685.8,497.2 686.9,497.2 687.9,497.2 689,497.2 690,497.2 691.1,497.2 692.2,497.2 693.2,497.2 694.3,497.2 695.3,497.2 696.4,497.2 697.4,497.2 698.5,497.2 699.5,497.2 700.6,497.2 701.6,497.2 702.7,497.2 703.7,497.2 704.8,497.2 705.9,497.2 706.9,497.2 708,497.2 709,497.2 710.1,497.2 711.1,497.2 712.2,497.2 713.2,497.2 714.3,497.2 715.3,497.2 716.4,497.2 717.4,497.2 718.5,497.2" fill="none" stroke="#ff0000" stroke-width="4" stroke-linejoin="round"/>
<polyline points="86.2,496.8 87.3,496.8 88.4,496.8 89.4,496.8 90.5,496.8 91.5,496.8 92.6,496.8 93.6,496.8 94.7,496.8 95.7,496.8 96.8,496.8 97.8,496.8 98.9,496.8 99.9,496.8 101,496.8 102.1,496.8 103.1,496.8 104.2,496.8 105.2,496.8 106.3,496.8 107.3,496.8 108.4,496.7 109.4,496.7 110.5,496.7 111.5,496.7 112.6,496.7 113.6,496.7 114.7,496.7 115.8,496.7 116.8,496.7 117.9,496.7 118.9,496.7 120,496.7 121,496.7 122.1,496.7 123.1,496.7 124.2,496.7 125.2,496.7 126.3,496.7 127.3,496.7 128.4,496.7 129.5,496.7 130.5,496.7 131.6,496.7 132.6,496.7 133.7,496.7 134.7,496.7 135.8,496.7 136.8,496.7 137.9,496.7 138.9,496.7 140,496.7 141,496.7 142.1,496.7 143.2,496.7 144.2,496.7 145.3,496.7 146.3,496.7 147.4,496.7 148.4,496.7 149.5,496.7 150.5,496.7 151.6,496.7 152.6,496.7 153.7,496.7 154.7,496.7 155.8,496.7 156.9,496.7 157.9,496.7 159,496.7 160,496.7 161.1,496.7 162.1,496.7 163.2,496.7 164.2,496.7 165.3,496.7 166.3,496.7 167.4,496.7 168.4,496.7 169.5,496.7 170.6,496.7 171.6,496.7 172.7,496.7 173.7,496.7 174.8,496.7 175.8,496.7 176.9,496.7 177.9,496.7 179,496.7 180,496.7 181.1,496.7 182.1,496.7 183.2,496.7 184.2,496.7 185.3,496.7 186.4,496.7 187.4,496.7 188.5,496.7 189.5,496.7 190.6,496.7 191.6,496.7 192.7,496.7 193.7,496.7 194.8,496.7 195.8,496.7 196.9,496.7 197.9,496.7 199,496.7 200.1,496.7 201.1,496.7 202.2,496.7 203.2,496.7 204.3,496.7 205.3,496.7 206.4,496.7 207.4,496.7 208.5,496.7 209.5,496.7 210.6,496.7 211.6,496.7 212.7,496.7 213.8,496.7 214.8,496.7 215.9,496.7 216.9,496.7 218,496.7 219,496.7 220.1,496.7 221.1,496.7 222.2,496.7 223.2,496.7 224.3,496.7 225.3,496.7 226.4,496.7 227.5,496.7 228.5,496.7 229.6,496.7 230.6,496.7 231.7,496.7 232.7,496.7 233.8,496.7 234.8,496.7 235.9,496.7 236.9,496.7 238,496.7 239,496.7 240.1,496.7 241.2,496.7 242.2,496.7 243.3,496.7 244.3,496.7 245.4,496.7 246.4,496.7 247.5,496.7 248.5,496.7 249.6,496.7 250.6,496.7 251.7,496.7 252.7,496.7 253.8,496.7 254.8,496.7 255.9,496.7 257,496.7 258,496.7 259.1,496.7 260.1,496.7 261.2,496.7 262.2,496.7 263.3,496.7 264.3,496.7 265.4,496.7 266.4,496.7 267.5,496.7 268.5,496.7 269.6,496.7 270.7,496.7 271.7,496.7 272.8,496.7 273.8,496.7 274.9,496.7 275.9,496.7 277,496.7 278,496.7 279.1,496.7 280.1,496.7 281.2,496.7 282.2,496.6 283.3,496.6 284.4,496.6 285.4,496.6 286.5,496.6 287.5,496.6 288.6,496.6 289.6,496.6 290.7,496.6 291.7,496.6 292.8,496.6 293.8,496.6 294.9,496.6 295.9,496.6 297,496.6 298.1,496.6 299.1,496.6 300.2,496.6 301.2,496.6 302.3,496.6 303.3,496.6 304.4,496.6 305.4,496.6 306.5,496.6 307.5,496.6 308.6,496.6 309.6,496.6 310.7,496.6 311.8,496.6 312.8,496.6 313.9,496.6 314.9,496.6 316,496.6 317,496.6 318.1,496.6 319.1,496.6 320.2,496.6 321.2,496.6 322.3,496.6 323.3,496.6 324.4,496.6 325.5,496.6 326.5,496.6 327.6,496.6 328.6,496.6 329.7,496.6 330.7,496.6 331.8,496.6 332.8,496.6 333.9,496.6 334.9,496.5 336,496.5 337,496.5 338.1,496.5 339.1,496.5 340.2,496.5 341.3,496.5 342.3,496.5 343.4,496.5 344.4,496.5 345.5,496.5 346.5,496.5 347.6,496.5 348.6,496.5 349.7,496.5 350.7,496.5 351.8,496.5 352.8,496.5 353.9,496.5 355,496.5 356,496.5 357.1,496.5 358.1,496.5 359.2,496.5 360.2,496.5 361.3,496.5 362.3,496.5 363.4,496.4 364.4,496.4 365.5,496.4 366.5,496.4 367.6,496.4 368.7,496.4 369.7,496.4 370.8,496.4 371.8,496.4 372.9,496.4 373.9,496.4 375,496.4 376,496.4 377.1,496.4 378.1,496.4 379.2,496.4 380.2,496.4 381.3,496.4 382.4,496.3 383.4,496.3 384.5,496.3 385.5,496.3 386.6,496.3 387.6,496.3 388.7,496.3 389.7,496.3 390.8,496.3 391.8,496.3 392.9,496.3 393.9,496.3 395,496.2 396.1,496.2 397.1,496.2 398.2,496.2 399.2,496.2 400.3,496.2 401.3,496.2 402.4,496.2 403.4,496.2 404.5,496.2 405.5,496.1 406.6,496.1 407.6,496.1 408.7,496.1 409.8,496.1 410.8,496.1 411.9,496.1 412.9,496 414,496 415,496 416.1,496 417.1,496 418.2,496 419.2,495.9 420.3,495.9 421.3,495.9 422.4,495.9 423.4,495.9 424.5,495.9 425.6,495.8 426.6,495.8 427.7,495.8 428.7,495.8 429.8,495.7 430.8,495.7 431.9,495.7 432.9,495.7 434,495.6 435,495.6 436.1,495.6 437.1,495.5 438.2,495.5 439.3,495.5 440.3,495.4 441.4,495.4 442.4,495.4 443.5,495.3 444.5,495.3 445.6,495.2 446.6,495.2 447.7,495.1 448.7,495.1 449.8,495 450.8,495 451.9,494.9 453,494.9 454,494.8 455.1,494.7 456.1,494.7 457.2,494.6 458.2,494.5 459.3,494.4 460.3,494.3 461.4,494.3 462.4,494.2 463.5,494.1 464.5,494 465.6,493.8 466.7,493.7 467.7,493.6 468.8,493.5 469.8,493.3 470.9,493.2 471.9,493 473,492.8 474,492.7 475.1,492.5 476.1,492.3 477.2,492 478.2,491.8 479.3,491.5 480.4,491.2 481.4,490.9 482.5,490.6 483.5,490.2 484.6,489.9 485.6,489.4 486.7,489 487.7,488.5 488.8,487.9 489.8,487.3 490.9,486.6 491.9,485.9 493,485 494.1,484.1 495.1,483.1 496.2,481.9 497.2,480.6 498.3,479.1 499.3,477.4 500.4,475.5 501.4,473.4 502.5,470.9 503.5,468.1 504.6,464.8 505.6,461 506.7,456.7 507.8,451.6 508.8,445.9 509.9,439.3 510.9,432 512,423.9 513,415.3 514.1,406.5 515.1,398.3 516.2,391.5 517.2,386.9 518.3,385.3 519.3,386.9 520.4,391.5 521.4,398.3 522.5,406.5 523.6,415.3 524.6,423.9 525.7,432 526.7,439.3 527.8,445.9 528.8,451.6 529.9,456.7 530.9,461 532,464.8 533,468.1 534.1,470.9 535.1,473.4 536.2,475.5 537.3,477.4 538.3,479.1 539.4,480.6 540.4,481.9 541.5,483.1 542.5,484.1 543.6,485 544.6,485.9 545.7,486.6 546.7,487.3 547.8,487.9 548.8,488.5 549.9,489 551,489.4 552,489.9 553.1,490.2 554.1,490.6 555.2,490.9 556.2,491.2 557.3,491.5 558.3,491.8 559.4,492 560.4,492.3 561.5,492.5 562.5,492.7 563.6,492.8 564.7,493 565.7,493.2 566.8,493.3 567.8,493.5 568.9,493.6 569.9,493.7 571,493.8 572,494 573.1,494.1 574.1,494.2 575.2,494.3 576.2,494.3 577.3,494.4 578.4,494.5 579.4,494.6 580.5,494.7 581.5,494.7 582.6,494.8 583.6,494.9 584.7,494.9 585.7,495 586.8,495 587.8,495.1 588.9,495.1 589.9,495.2 591,495.2 592,495.3 593.1,495.3 594.2,495.4 595.2,495.4 596.3,495.4 597.3,495.5 598.4,495.5 599.4,495.5 600.5,495.6 601.5,495.6 602.6,495.6 603.6,495.7 604.7,495.7 605.7,495.7 606.8,495.7 607.9,495.8 608.9,495.8 610,495.8 611,495.8 612.1,495.9 613.1,495.9 614.2,495.9 615.2,495.9 616.3,495.9 617.3,495.9 618.4,496 619.4,496 620.5,496 621.6,496 622.6,496 623.7,496 624.7,496.1 625.8,496.1 626.8,496.1 627.9,496.1 628.9,496.1 630,496.1 631,496.1 632.1,496.2 633.1,496.2 634.2,496.2 635.3,496.2 636.3,496.2 637.4,496.2 638.4,496.2 639.5,496.2 640.5,496.2 641.6,496.2 642.6,496.3 643.7,496.3 644.7,496.3 645.8,496.3 646.8,496.3 647.9,496.3 649,496.3 650,496.3 651.1,496.3 652.1,496.3 653.2,496.3 654.2,496.3 655.3,496.4 656.3,496.4 657.4,496.4 658.4,496.4 659.5,496.4 660.5,496.4 661.6,496.4 662.7,496.4 663.7,496.4 664.8,496.4 665.8,496.4 666.9,496.4 667.9,496.4 669,496.4 670,496.4 671.1,496.4 672.1,496.4 673.2,496.4 674.2,496.5 675.3,496.5 676.4,496.5 677.4,496.5 678.5,496.5 679.5,496.5 680.6,496.5 681.6,496.5 682.7,496.5 683.7,496.5 684.8,496.5 685.8,496.5 686.9,496.5 687.9,496.5 689,496.5 690,496.5 691.1,496.5 692.2,496.5 693.2,496.5 694.3,496.5 695.3,496.5 696.4,496.5 697.4,496.5 698.5,496.5 699.5,496.5 700.6,496.5 701.6,496.5 702.7,496.6 703.7,496.6 704.8,496.6 705.9,496.6 706.9,496.6 708,496.6 709,496.6 710.1,496.6 711.1,496.6 712.2,496.6 713.2,496.6 714.3,496.6 715.3,496.6 716.4,496.6 717.4,496.6 718.5,496.6" fill="none" stroke="#ff0000" stroke-width="4" stroke-linejoin="round"/>
<polyline points="86.2,493.8 86.8,493.8 87.3,493.8 87.8,493.8 88.4,493.8 88.9,493.8 89.4,493.8 89.9,493.8 90.5,493.8 91,493.8 91.5,493.8 92,493.7 92.6,493.7 93.1,493.7 93.6,493.7 94.2,493.7 94.7,493.7 95.2,493.7 95.7,493.7 96.3,493.7 96.8,493.7 97.3,493.7 97.8,493.7 98.4,493.7 98.9,493.7 99.4,493.7 99.9,493.7 100.5,493.7 101,493.7 101.5,493.7 102.1,493.7 102.6,493.6 103.1,493.6 103.6,493.6 104.2,493.6 104.7,493.6 105.2,493.6 105.7,493.6 106.3,493.6 106.8,493.6 107.3,493.6 107.9,493.6 108.4,493.6 108.9,493.6 109.4,493.6 110,493.6 110.5,493.6 111,493.6 111.5,493.6 112.1,493.6 112.6,493.5 113.1,493.5 113.6,493.5 114.2,493.5 114.7,493.5 115.2,493.5 115.8,493.5 116.3,493.5 116.8,493.5 117.3,493.5 117.9,493.5 118.4,493.5 118.9,493.5 119.4,493.5 120,493.5 120.5,493.5 121,493.4 121.6,493.4 122.1,493.4 122.6,493.4 123.1,493.4 123.7,493.4 124.2,493.4 124.7,493.4 125.2,493.4 125.8,493.4 126.3,493.4 126.8,493.4 127.3,493.4 127.9,493.4 128.4,493.4 128.9,493.3 129.5,493.3 130,493.3 130.5,493.3 131,493.3 131.6,493.3 132.1,493.3 132.6,493.3 133.1,493.3 133.7,493.3 134.2,493.3 134.7,493.3 135.2,493.3 135.8,493.3 136.3,493.2 136.8,493.2 137.4,493.2 137.9,493.2 138.4,493.2 138.9,493.2 139.5,493.2 140,493.2 140.5,493.2 141,493.2 141.6,493.2 142.1,493.2 142.6,493.1 143.2,493.1 143.7,493.1 144.2,493.1 144.7,493.1 145.3,493.1 145.8,493.1 146.3,493.1 146.8,493.1 147.4,493.1 147.9,493.1 148.4,493.1 148.9,493 149.5,493 150,493 150.5,493 151.1,493 151.6,493 152.1,493 152.6,493 153.2,493 153.7,493 154.2,493 154.7,492.9 155.3,492.9 155.8,492.9 156.3,492.9 156.9,492.9 157.4,492.9 157.9,492.9 158.4,492.9 159,492.9 159.5,492.9 160,492.8 160.5,492.8 161.1,492.8 161.6,492.8 162.1,492.8 162.6,492.8 163.2,492.8 163.7,492.8 164.2,492.8 164.8,492.7 165.3,492.7 165.8,492.7 166.3,492.7 166.9,492.7 167.4,492.7 167.9,492.7 168.4,492.7 169,492.7 169.5,492.6 170,492.6 170.6,492.6 171.1,492.6 171.6,492.6 172.1,492.6 172.7,492.6 173.2,492.6 173.7,492.5 174.2,492.5 174.8,492.5 175.3,492.5 175.8,492.5 176.3,492.5 176.9,492.5 177.4,492.5 177.9,492.4 178.5,492.4 179,492.4 179.5,492.4 180,492.4 180.6,492.4 181.1,492.4 181.6,492.3 182.1,492.3 182.7,492.3 183.2,492.3 183.7,492.3 184.2,492.3 184.8,492.3 185.3,492.2 185.8,492.2 186.4,492.2 186.9,492.2 187.4,492.2 187.9,492.2 188.5,492.1 189,492.1 189.5,492.1 190,492.1 190.6,492.1 191.1,492.1 191.6,492 192.2,492 192.7,492 193.2,492 193.7,492 194.3,492 194.8,491.9 195.3,491.9 195.8,491.9 196.4,491.9 196.9,491.9 197.4,491.9 197.9,491.8 198.5,491.8 199,491.8 199.5,491.8 200.1,491.8 200.6,491.7 201.1,491.7 201.6,491.7 202.2,491.7 202.7,491.7 203.2,491.6 203.7,491.6 204.3,491.6 204.8,491.6 205.3,491.6 205.9,491.5 206.4,491.5 206.9,491.5 207.4,491.5 208,491.5 208.5,491.4 209,491.4 209.5,491.4 210.1,491.4 210.6,491.3 211.1,491.3 211.6,491.3 212.2,491.3 212.7,491.2 213.2,491.2 213.8,491.2 214.3,491.2 214.8,491.1 215.3,491.1 215.9,491.1 216.4,491.1 216.9,491 217.4,491 218,491 218.5,491 219,490.9 219.5,490.9 220.1,490.9 220.6,490.9 221.1,490.8 221.7,490.8 222.2,490.8 222.7,490.7 223.2,490.7 223.8,490.7 224.3,490.7 224.8,490.6 225.3,490.6 225.9,490.6 226.4,490.5 226.9,490.5 227.5,490.5 228,490.4 228.5,490.4 229,490.4 229.6,490.3 230.1,490.3 230.6,490.3 231.1,490.2 231.7,490.2 232.2,490.2 232.7,490.1 233.2,490.1 233.8,490.1 234.3,490 234.8,490 235.4,490 235.9,489.9 236.4,489.9 236.9,489.8 237.5,489.8 238,489.8 238.5,489.7 239,489.7 239.6,489.7 240.1,489.6 240.6,489.6 241.2,489.5 241.7,489.5 242.2,489.4 242.7,489.4 243.3,489.4 243.8,489.3 244.3,489.3 244.8,489.2 245.4,489.2 245.9,489.1 246.4,489.1 246.9,489 247.5,489 248,488.9 248.5,488.9 249.1,488.8 249.6,488.8 250.1,488.7 250.6,488.7 251.2,488.6 251.7,488.6 252.2,488.5 252.7,488.5 253.3,488.4 253.8,488.4 254.3,488.3 254.8,488.2 255.4,488.2 255.9,488.1 256.4,488.1 257,488 257.5,488 258,487.9 258.5,487.8 259.1,487.8 259.6,487.7 260.1,487.6 260.6,487.6 261.2,487.5 261.7,487.4 262.2,487.4 262.8,487.3 263.3,487.2 263.8,487.2 264.3,487.1 264.9,487 265.4,486.9 265.9,486.9 266.4,486.8 267,486.7 267.5,486.6 268,486.5 268.5,486.5 269.1,486.4 269.6,486.3 270.1,486.2 270.7,486.1 271.2,486 271.7,486 272.2,485.9 272.8,485.8 273.3,485.7 273.8,485.6 274.3,485.5 274.9,485.4 275.4,485.3 275.9,485.2 276.5,485.1 277,485 277.5,484.9 278,484.8 278.6,484.7 279.1,484.6 279.6,484.5 280.1,484.3 280.7,484.2 281.2,484.1 281.7,484 282.2,483.9 282.8,483.8 283.3,483.6 283.8,483.5 284.4,483.4 284.9,483.3 285.4,483.1 285.9,483 286.5,482.8 287,482.7 287.5,482.6 288,482.4 288.6,482.3 289.1,482.1 289.6,482 290.2,481.8 290.7,481.7 291.2,481.5 291.7,481.3 292.3,481.2 292.8,481 293.3,480.8 293.8,480.7 294.4,480.5 294.9,480.3 295.4,480.1 295.9,479.9 296.5,479.7 297,479.5 297.5,479.4 298.1,479.1 298.6,478.9 299.1,478.7 299.6,478.5 300.2,478.3 300.7,478.1 301.2,477.8 301.7,477.6 302.3,477.4 302.8,477.1 303.3,476.9 303.8,476.6 304.4,476.4 304.9,476.1 305.4,475.9 306,475.6 306.5,475.3 307,475 307.5,474.7 308.1,474.4 308.6,474.1 309.1,473.8 309.6,473.5 310.2,473.2 310.7,472.8 311.2,472.5 311.8,472.2 312.3,471.8 312.8,471.4 313.3,471.1 313.9,470.7 314.4,470.3 314.9,469.9 315.4,469.5 316,469.1 316.5,468.7 317,468.2 317.5,467.8 318.1,467.3 318.6,466.8 319.1,466.4 319.7,465.9 320.2,465.4 320.7,464.8 321.2,464.3 321.8,463.8 322.3,463.2 322.8,462.6 323.3,462 323.9,461.4 324.4,460.8 324.9,460.2 325.5,459.5 326,458.8 326.5,458.1 327,457.4 327.6,456.7 328.1,455.9 328.6,455.1 329.1,454.3 329.7,453.5 330.2,452.7 330.7,451.8 331.2,450.9 331.8,450 332.3,449 332.8,448 333.4,447 333.9,446 334.4,444.9 334.9,443.8 335.5,442.6 336,441.4 336.5,440.2 337,438.9 337.6,437.6 338.1,436.3 338.6,434.9 339.1,433.4 339.7,431.9 340.2,430.4 340.7,428.8 341.3,427.1 341.8,425.4 342.3,423.6 342.8,421.8 343.4,419.9 343.9,417.9 344.4,415.8 344.9,413.7 345.5,411.5 346,409.2 346.5,406.8 347.1,404.4 347.6,401.8 348.1,399.1 348.6,396.4 349.2,393.5 349.7,390.5 350.2,387.4 350.7,384.2 351.3,380.8 351.8,377.4 352.3,373.7 352.8,370 353.4,366 353.9,361.9 354.4,357.7 355,353.3 355.5,348.7 356,343.9 356.5,339 357.1,333.8 357.6,328.4 358.1,322.9 358.6,317.1 359.2,311.1 359.7,304.9 360.2,298.4 360.8,291.8 361.3,284.9 361.8,277.8 362.3,270.4 362.9,262.9 363.4,255.1 363.9,247.1 364.4,238.9 365,230.6 365.5,222.1 366,213.5 366.5,204.7 367.1,195.9 367.6,187.1 368.1,178.2 368.7,169.5 369.2,160.8 369.7,152.3 370.2,144.1 370.8,136.1 371.3,128.5 371.8,121.3 372.3,114.7 372.9,108.6 373.4,103.1 373.9,98.4 374.5,94.4 375,91.2 375.5,88.9 376,87.5 376.6,86.9 377.1,87.3 377.6,88.6 378.1,90.7 378.7,93.7 379.2,97.6 379.7,102.2 380.2,107.5 380.8,113.5 381.3,120 381.8,127.1 382.4,134.7 382.9,142.6 383.4,150.8 383.9,159.2 384.5,167.9 385,176.6 385.5,185.4 386,194.3 386.6,203.1 387.1,211.8 387.6,220.5 388.1,229 388.7,237.4 389.2,245.6 389.7,253.6 390.3,261.4 390.8,269 391.3,276.4 391.8,283.6 392.4,290.5 392.9,297.2 393.4,303.7 393.9,310 394.5,316 395,321.8 395.5,327.4 396.1,332.8 396.6,338 397.1,343 397.6,347.8 398.2,352.5 398.7,356.9 399.2,361.2 399.7,365.3 400.3,369.2 400.8,373 401.3,376.7 401.8,380.2 402.4,383.6 402.9,386.8 403.4,390 404,393 404.5,395.9 405,398.6 405.5,401.3 406.1,403.9 406.6,406.4 407.1,408.8 407.6,411.1 408.2,413.3 408.7,415.4 409.2,417.5 409.8,419.5 410.3,421.4 410.8,423.3 411.3,425.1 411.9,426.8 412.4,428.5 412.9,430.1 413.4,431.6 414,433.1 414.5,434.6 415,436 415.5,437.4 416.1,438.7 416.6,440 417.1,441.2 417.7,442.4 418.2,443.5 418.7,444.7 419.2,445.8 419.8,446.8 420.3,447.8 420.8,448.8 421.3,449.8 421.9,450.7 422.4,451.6 422.9,452.5 423.4,453.4 424,454.2 424.5,455 425,455.8 425.6,456.5 426.1,457.3 426.6,458 427.1,458.7 427.7,459.4 428.2,460 428.7,460.7 429.2,461.3 429.8,461.9 430.3,462.5 430.8,463.1 431.4,463.7 431.9,464.2 432.4,464.7 432.9,465.3 433.5,465.8 434,466.3 434.5,466.8 435,467.2 435.6,467.7 436.1,468.1 436.6,468.6 437.1,469 437.7,469.4 438.2,469.8 438.7,470.2 439.3,470.6 439.8,471 440.3,471.4 440.8,471.7 441.4,472.1 441.9,472.4 442.4,472.8 442.9,473.1 443.5,473.4 444,473.8 444.5,474.1 445.1,474.4 445.6,474.7 446.1,475 446.6,475.3 447.2,475.5 447.7,475.8 448.2,476.1 448.7,476.3 449.3,476.6 449.8,476.8 450.3,477.1 450.8,477.3 451.4,477.6 451.9,477.8 452.4,478 453,478.3 453.5,478.5 454,478.7 454.5,478.9 455.1,479.1 455.6,479.3 456.1,479.5 456.6,479.7 457.2,479.9 457.7,480.1 458.2,480.3 458.8,480.5 459.3,480.6 459.8,480.8 460.3,481 460.9,481.1 461.4,481.3 461.9,481.5 462.4,481.6 463,481.8 463.5,482 464,482.1 464.5,482.3 465.1,482.4 465.6,482.5 466.1,482.7 466.7,482.8 467.2,483 467.7,483.1 468.2,483.2 468.8,483.4 469.3,483.5 469.8,483.6 470.3,483.7 470.9,483.9 471.4,484 471.9,484.1 472.4,484.2 473,484.3 473.5,484.4 474,484.6 474.6,484.7 475.1,484.8 475.6,484.9 476.1,485 476.7,485.1 477.2,485.2 477.7,485.3 478.2,485.4 478.8,485.5 479.3,485.6 479.8,485.7 480.4,485.8 480.9,485.9 481.4,485.9 481.9,486 482.5,486.1 483,486.2 483.5,486.3 484,486.4 484.6,486.5 485.1,486.5 485.6,486.6 486.1,486.7 486.7,486.8 487.2,486.8 487.7,486.9 488.3,487 488.8,487.1 489.3,487.1 489.8,487.2 490.4,487.3 490.9,487.4 491.4,487.4 491.9,487.5 492.5,487.6 493,487.6 493.5,487.7 494.1,487.8 494.6,487.8 495.1,487.9 495.6,487.9 496.2,488 496.7,488.1 497.2,488.1 497.7,488.2 498.3,488.2 498.8,488.3 499.3,488.4 499.8,488.4 500.4,488.5 500.9,488.5 501.4,488.6 502,488.6 502.5,488.7 503,488.7 503.5,488.8 504.1,488.8 504.6,488.9 505.1,488.9 505.6,489 506.2,489 506.7,489.1 507.2,489.1 507.8,489.2 508.3,489.2 508.8,489.3 509.3,489.3 509.9,489.3 510.4,489.4 510.9,489.4 511.4,489.5 512,489.5 512.5,489.6 513,489.6 513.5,489.6 514.1,489.7 514.6,489.7 515.1,489.8 515.7,489.8 516.2,489.8 516.7,489.9 517.2,489.9 517.8,490 518.3,490 518.8,490 519.3,490.1 519.9,490.1 520.4,490.1 520.9,490.2 521.4,490.2 522,490.2 522.5,490.3 523,490.3 523.6,490.3 524.1,490.4 524.6,490.4 525.1,490.4 525.7,490.5 526.2,490.5 526.7,490.5 527.2,490.6 527.8,490.6 528.3,490.6 528.8,490.7 529.4,490.7 529.9,490.7 530.4,490.7 530.9,490.8 531.5,490.8 532,490.8 532.5,490.9 533,490.9 533.6,490.9 534.1,490.9 534.6,491 535.1,491 535.7,491 536.2,491 536.7,491.1 537.3,491.1 537.8,491.1 538.3,491.1 538.8,491.2 539.4,491.2 539.9,491.2 540.4,491.2 540.9,491.3 541.5,491.3 542,491.3 542.5,491.3 543.1,491.4 543.6,491.4 544.1,491.4 544.6,491.4 545.2,491.4 545.7,491.5 546.2,491.5 546.7,491.5 547.3,491.5 547.8,491.6 548.3,491.6 548.8,491.6 549.4,491.6 549.9,491.6 550.4,491.7 551,491.7 551.5,491.7 552,491.7 552.5,491.7 553.1,491.8 553.6,491.8 554.1,491.8 554.6,491.8 555.2,491.8 555.7,491.9 556.2,491.9 556.7,491.9 557.3,491.9 557.8,491.9 558.3,491.9 558.9,492 559.4,492 559.9,492 560.4,492 561,492 561.5,492 562,492.1 562.5,492.1 563.1,492.1 563.6,492.1 564.1,492.1 564.7,492.1 565.2,492.2 565.7,492.2 566.2,492.2 566.8,492.2 567.3,492.2 567.8,492.2 568.3,492.3 568.9,492.3 569.4,492.3 569.9,492.3 570.4,492.3 571,492.3 571.5,492.3 572,492.4 572.6,492.4 573.1,492.4 573.6,492.4 574.1,492.4 574.7,492.4 575.2,492.4 575.7,492.4 576.2,492.5 576.8,492.5 577.3,492.5 577.8,492.5 578.4,492.5 578.9,492.5 579.4,492.5 579.9,492.6 580.5,492.6 581,492.6 581.5,492.6 582,492.6 582.6,492.6 583.1,492.6 583.6,492.6 584.1,492.7 584.7,492.7 585.2,492.7 585.7,492.7 586.3,492.7 586.8,492.7 587.3,492.7 587.8,492.7 588.4,492.7 588.9,492.8 589.4,492.8 589.9,492.8 590.5,492.8 591,492.8 591.5,492.8 592,492.8 592.6,492.8 593.1,492.8 593.6,492.9 594.2,492.9 594.7,492.9 595.2,492.9 595.7,492.9 596.3,492.9 596.8,492.9 597.3,492.9 597.8,492.9 598.4,492.9 598.9,493 599.4,493 600,493 600.5,493 601,493 601.5,493 602.1,493 602.6,493 603.1,493 603.6,493 604.2,493 604.7,493.1 605.2,493.1 605.7,493.1 606.3,493.1 606.8,493.1 607.3,493.1 607.9,493.1 608.4,493.1 608.9,493.1 609.4,493.1 610,493.1 610.5,493.1 611,493.2 611.5,493.2 612.1,493.2 612.6,493.2 613.1,493.2 613.7,493.2 614.2,493.2 614.7,493.2 615.2,493.2 615.8,493.2 616.3,493.2 616.8,493.2 617.3,493.3 617.9,493.3 618.4,493.3 618.9,493.3 619.4,493.3 620,493.3 620.5,493.3 621,493.3 621.6,493.3 622.1,493.3 622.6,493.3 623.1,493.3 623.7,493.3 624.2,493.3 624.7,493.4 625.2,493.4 625.8,493.4 626.3,493.4 626.8,493.4 627.4,493.4 627.9,493.4 628.4,493.4 628.9,493.4 629.5,493.4 630,493.4 630.5,493.4 631,493.4 631.6,493.4 632.1,493.4 632.6,493.5 633.1,493.5 633.7,493.5 634.2,493.5 634.7,493.5 635.3,493.5 635.8,493.5 636.3,493.5 636.8,493.5 637.4,493.5 637.9,493.5 638.4,493.5 638.9,493.5 639.5,493.5 640,493.5 640.5,493.5 641,493.5 641.6,493.6 642.1,493.6 642.6,493.6 643.2,493.6 643.7,493.6 644.2,493.6 644.7,493.6 645.3,493.6 645.8,493.6 646.3,493.6 646.8,493.6 647.4,493.6 647.9,493.6 648.4,493.6 649,493.6 649.5,493.6 650,493.6 650.5,493.6 651.1,493.7 651.6,493.7 652.1,493.7 652.6,493.7 653.2,493.7 653.7,493.7 654.2,493.7 654.7,493.7 655.3,493.7 655.8,493.7 656.3,493.7 656.9,493.7 657.4,493.7 657.9,493.7 658.4,493.7 659,493.7 659.5,493.7 660,493.7 660.5,493.7 661.1,493.7 661.6,493.8 662.1,493.8 662.7,493.8 663.2,493.8 663.7,493.8 664.2,493.8 664.8,493.8 665.3,493.8 665.8,493.8 666.3,493.8 666.9,493.8 667.4,493.8 667.9,493.8 668.4,493.8 669,493.8 669.5,493.8 670,493.8 670.6,493.8 671.1,493.8 671.6,493.8 672.1,493.8 672.7,493.8 673.2,493.8 673.7,493.9 674.2,493.9 674.8,493.9 675.3,493.9 675.8,493.9 676.4,493.9 676.9,493.9 677.4,493.9 677.9,493.9 678.5,493.9 679,493.9 679.5,493.9 680,493.9 680.6,493.9 681.1,493.9 681.6,493.9 682.1,493.9 682.7,493.9 683.2,493.9 683.7,493.9 684.3,493.9 684.8,493.9 685.3,493.9 685.8,493.9 686.4,493.9 686.9,493.9 687.4,493.9 687.9,494 688.5,494 689,494 689.5,494 690,494 690.6,494 691.1,494 691.6,494 692.2,494 692.7,494 693.2,494 693.7,494 694.3,494 694.8,494 695.3,494 695.8,494 696.4,494 696.9,494 697.4,494 698,494 698.5,494 699,494 699.5,494 700.1,494 700.6,494 701.1,494 701.6,494 702.2,494 702.7,494 703.2,494 703.7,494.1 704.3,494.1 704.8,494.1 705.3,494.1 705.9,494.1 706.4,494.1 706.9,494.1 707.4,494.1 708,494.1 708.5,494.1 709,494.1 709.5,494.1 710.1,494.1 710.6,494.1 711.1,494.1 711.7,494.1 712.2,494.1 712.7,494.1 713.2,494.1 713.8,494.1 714.3,494.1 714.8,494.1 715.3,494.1 715.9,494.1 716.4,494.1 716.9,494.1 717.4,494.1 718,494.1 718.5,494.1" fill="none" stroke="#2a2a2a" stroke-width="1.7" stroke-linejoin="round" stroke-dasharray="0.1 6.9" stroke-linecap="round"/>
<polyline points="242.2,494.2 242.7,494.2 243.3,494.2 243.8,494.2 244.3,494.2 244.8,494.2 245.4,494.2 245.9,494.2 246.4,494.2 246.9,494.2 247.5,494.2 248,494.2 248.5,494.2 249.1,494.2 249.6,494.2 250.1,494.1 250.6,494.1 251.2,494.1 251.7,494.1 252.2,494.1 252.7,494.1 253.3,494.1 253.8,494.1 254.3,494.1 254.8,494.1 255.4,494.1 255.9,494.1 256.4,494.1 257,494.1 257.5,494.1 258,494.1 258.5,494.1 259.1,494.1 259.6,494.1 260.1,494.1 260.6,494.1 261.2,494.1 261.7,494.1 262.2,494.1 262.8,494.1 263.3,494.1 263.8,494 264.3,494 264.9,494 265.4,494 265.9,494 266.4,494 267,494 267.5,494 268,494 268.5,494 269.1,494 269.6,494 270.1,494 270.7,494 271.2,494 271.7,494 272.2,494 272.8,494 273.3,494 273.8,494 274.3,494 274.9,494 275.4,493.9 275.9,493.9 276.5,493.9 277,493.9 277.5,493.9 278,493.9 278.6,493.9 279.1,493.9 279.6,493.9 280.1,493.9 280.7,493.9 281.2,493.9 281.7,493.9 282.2,493.9 282.8,493.9 283.3,493.9 283.8,493.9 284.4,493.9 284.9,493.9 285.4,493.8 285.9,493.8 286.5,493.8 287,493.8 287.5,493.8 288,493.8 288.6,493.8 289.1,493.8 289.6,493.8 290.2,493.8 290.7,493.8 291.2,493.8 291.7,493.8 292.3,493.8 292.8,493.8 293.3,493.8 293.8,493.7 294.4,493.7 294.9,493.7 295.4,493.7 295.9,493.7 296.5,493.7 297,493.7 297.5,493.7 298.1,493.7 298.6,493.7 299.1,493.7 299.6,493.7 300.2,493.7 300.7,493.7 301.2,493.7 301.7,493.6 302.3,493.6 302.8,493.6 303.3,493.6 303.8,493.6 304.4,493.6 304.9,493.6 305.4,493.6 306,493.6 306.5,493.6 307,493.6 307.5,493.6 308.1,493.6 308.6,493.5 309.1,493.5 309.6,493.5 310.2,493.5 310.7,493.5 311.2,493.5 311.8,493.5 312.3,493.5 312.8,493.5 313.3,493.5 313.9,493.5 314.4,493.5 314.9,493.4 315.4,493.4 316,493.4 316.5,493.4 317,493.4 317.5,493.4 318.1,493.4 318.6,493.4 319.1,493.4 319.7,493.4 320.2,493.4 320.7,493.3 321.2,493.3 321.8,493.3 322.3,493.3 322.8,493.3 323.3,493.3 323.9,493.3 324.4,493.3 324.9,493.3 325.5,493.3 326,493.2 326.5,493.2 327,493.2 327.6,493.2 328.1,493.2 328.6,493.2 329.1,493.2 329.7,493.2 330.2,493.2 330.7,493.1 331.2,493.1 331.8,493.1 332.3,493.1 332.8,493.1 333.4,493.1 333.9,493.1 334.4,493.1 334.9,493.1 335.5,493 336,493 336.5,493 337,493 337.6,493 338.1,493 338.6,493 339.1,492.9 339.7,492.9 340.2,492.9 340.7,492.9 341.3,492.9 341.8,492.9 342.3,492.9 342.8,492.9 343.4,492.8 343.9,492.8 344.4,492.8 344.9,492.8 345.5,492.8 346,492.8 346.5,492.7 347.1,492.7 347.6,492.7 348.1,492.7 348.6,492.7 349.2,492.7 349.7,492.7 350.2,492.6 350.7,492.6 351.3,492.6 351.8,492.6 352.3,492.6 352.8,492.6 353.4,492.5 353.9,492.5 354.4,492.5 355,492.5 355.5,492.5 356,492.4 356.5,492.4 357.1,492.4 357.6,492.4 358.1,492.4 358.6,492.3 359.2,492.3 359.7,492.3 360.2,492.3 360.8,492.3 361.3,492.2 361.8,492.2 362.3,492.2 362.9,492.2 363.4,492.2 363.9,492.1 364.4,492.1 365,492.1 365.5,492.1 366,492.1 366.5,492 367.1,492 367.6,492 368.1,492 368.7,491.9 369.2,491.9 369.7,491.9 370.2,491.9 370.8,491.8 371.3,491.8 371.8,491.8 372.3,491.8 372.9,491.7 373.4,491.7 373.9,491.7 374.5,491.6 375,491.6 375.5,491.6 376,491.6 376.6,491.5 377.1,491.5 377.6,491.5 378.1,491.4 378.7,491.4 379.2,491.4 379.7,491.3 380.2,491.3 380.8,491.3 381.3,491.3 381.8,491.2 382.4,491.2 382.9,491.2 383.4,491.1 383.9,491.1 384.5,491 385,491 385.5,491 386,490.9 386.6,490.9 387.1,490.9 387.6,490.8 388.1,490.8 388.7,490.7 389.2,490.7 389.7,490.7 390.3,490.6 390.8,490.6 391.3,490.5 391.8,490.5 392.4,490.5 392.9,490.4 393.4,490.4 393.9,490.3 394.5,490.3 395,490.2 395.5,490.2 396.1,490.1 396.6,490.1 397.1,490 397.6,490 398.2,489.9 398.7,489.9 399.2,489.8 399.7,489.8 400.3,489.7 400.8,489.7 401.3,489.6 401.8,489.5 402.4,489.5 402.9,489.4 403.4,489.4 404,489.3 404.5,489.2 405,489.2 405.5,489.1 406.1,489.1 406.6,489 407.1,488.9 407.6,488.9 408.2,488.8 408.7,488.7 409.2,488.6 409.8,488.6 410.3,488.5 410.8,488.4 411.3,488.3 411.9,488.3 412.4,488.2 412.9,488.1 413.4,488 414,487.9 414.5,487.9 415,487.8 415.5,487.7 416.1,487.6 416.6,487.5 417.1,487.4 417.7,487.3 418.2,487.2 418.7,487.1 419.2,487 419.8,486.9 420.3,486.8 420.8,486.7 421.3,486.6 421.9,486.5 422.4,486.4 422.9,486.2 423.4,486.1 424,486 424.5,485.9 425,485.8 425.6,485.6 426.1,485.5 426.6,485.4 427.1,485.2 427.7,485.1 428.2,485 428.7,484.8 429.2,484.7 429.8,484.5 430.3,484.4 430.8,484.2 431.4,484 431.9,483.9 432.4,483.7 432.9,483.5 433.5,483.4 434,483.2 434.5,483 435,482.8 435.6,482.6 436.1,482.4 436.6,482.2 437.1,482 437.7,481.8 438.2,481.6 438.7,481.4 439.3,481.1 439.8,480.9 440.3,480.7 440.8,480.4 441.4,480.2 441.9,479.9 442.4,479.7 442.9,479.4 443.5,479.1 444,478.8 444.5,478.5 445.1,478.2 445.6,477.9 446.1,477.6 446.6,477.3 447.2,477 447.7,476.6 448.2,476.3 448.7,475.9 449.3,475.5 449.8,475.1 450.3,474.7 450.8,474.3 451.4,473.9 451.9,473.5 452.4,473 453,472.6 453.5,472.1 454,471.6 454.5,471.1 455.1,470.6 455.6,470.1 456.1,469.5 456.6,469 457.2,468.4 457.7,467.8 458.2,467.1 458.8,466.5 459.3,465.8 459.8,465.1 460.3,464.4 460.9,463.7 461.4,462.9 461.9,462.1 462.4,461.3 463,460.4 463.5,459.6 464,458.6 464.5,457.7 465.1,456.7 465.6,455.7 466.1,454.6 466.7,453.5 467.2,452.4 467.7,451.2 468.2,450 468.8,448.7 469.3,447.3 469.8,445.9 470.3,444.5 470.9,443 471.4,441.4 471.9,439.8 472.4,438.1 473,436.3 473.5,434.4 474,432.5 474.6,430.4 475.1,428.3 475.6,426.1 476.1,423.8 476.7,421.4 477.2,418.9 477.7,416.2 478.2,413.5 478.8,410.6 479.3,407.6 479.8,404.5 480.4,401.2 480.9,397.7 481.4,394.2 481.9,390.4 482.5,386.5 483,382.4 483.5,378.1 484,373.7 484.6,369 485.1,364.2 485.6,359.2 486.1,354 486.7,348.6 487.2,343 487.7,337.2 488.3,331.2 488.8,325.1 489.3,318.8 489.8,312.4 490.4,305.9 490.9,299.3 491.4,292.6 491.9,286 492.5,279.3 493,272.8 493.5,266.4 494.1,260.2 494.6,254.2 495.1,248.6 495.6,243.4 496.2,238.6 496.7,234.3 497.2,230.7 497.7,227.6 498.3,225.3 498.8,223.7 499.3,222.9 499.8,222.8 500.4,223.5 500.9,225 501.4,227.2 502,230.1 502.5,233.6 503,237.7 503.5,242.4 504.1,247.6 504.6,253.1 505.1,259 505.6,265.2 506.2,271.6 506.7,278.1 507.2,284.7 507.8,291.4 508.3,298 508.8,304.7 509.3,311.2 509.9,317.6 510.4,323.9 510.9,330.1 511.4,336.1 512,341.9 512.5,347.5 513,353 513.5,358.2 514.1,363.3 514.6,368.1 515.1,372.8 515.7,377.3 516.2,381.6 516.7,385.7 517.2,389.7 517.8,393.5 518.3,397.1 518.8,400.5 519.3,403.9 519.9,407 520.4,410.1 520.9,413 521.4,415.7 522,418.4 522.5,420.9 523,423.4 523.6,425.7 524.1,427.9 524.6,430.1 525.1,432.1 525.7,434.1 526.2,435.9 526.7,437.7 527.2,439.4 527.8,441.1 528.3,442.7 528.8,444.2 529.4,445.7 529.9,447.1 530.4,448.4 530.9,449.7 531.5,451 532,452.2 532.5,453.3 533,454.4 533.6,455.5 534.1,456.5 534.6,457.5 535.1,458.5 535.7,459.4 536.2,460.3 536.7,461.1 537.3,462 537.8,462.8 538.3,463.5 538.8,464.3 539.4,465 539.9,465.7 540.4,466.4 540.9,467 541.5,467.7 542,468.3 542.5,468.9 543.1,469.4 543.6,470 544.1,470.5 544.6,471 545.2,471.5 545.7,472 546.2,472.5 546.7,473 547.3,473.4 547.8,473.8 548.3,474.3 548.8,474.7 549.4,475.1 549.9,475.5 550.4,475.8 551,476.2 551.5,476.5 552,476.9 552.5,477.2 553.1,477.6 553.6,477.9 554.1,478.2 554.6,478.5 555.2,478.8 555.7,479.1 556.2,479.3 556.7,479.6 557.3,479.9 557.8,480.1 558.3,480.4 558.9,480.6 559.4,480.9 559.9,481.1 560.4,481.3 561,481.6 561.5,481.8 562,482 562.5,482.2 563.1,482.4 563.6,482.6 564.1,482.8 564.7,483 565.2,483.2 565.7,483.3 566.2,483.5 566.8,483.7 567.3,483.9 567.8,484 568.3,484.2 568.9,484.3 569.4,484.5 569.9,484.6 570.4,484.8 571,484.9 571.5,485.1 572,485.2 572.6,485.3 573.1,485.5 573.6,485.6 574.1,485.7 574.7,485.9 575.2,486 575.7,486.1 576.2,486.2 576.8,486.3 577.3,486.5 577.8,486.6 578.4,486.7 578.9,486.8 579.4,486.9 579.9,487 580.5,487.1 581,487.2 581.5,487.3 582,487.4 582.6,487.5 583.1,487.6 583.6,487.7 584.1,487.7 584.7,487.8 585.2,487.9 585.7,488 586.3,488.1 586.8,488.2 587.3,488.2 587.8,488.3 588.4,488.4 588.9,488.5 589.4,488.6 589.9,488.6 590.5,488.7 591,488.8 591.5,488.8 592,488.9 592.6,489 593.1,489 593.6,489.1 594.2,489.2 594.7,489.2 595.2,489.3 595.7,489.4 596.3,489.4 596.8,489.5 597.3,489.5 597.8,489.6 598.4,489.6 598.9,489.7 599.4,489.8 600,489.8 600.5,489.9 601,489.9 601.5,490 602.1,490 602.6,490.1 603.1,490.1 603.6,490.2 604.2,490.2 604.7,490.3 605.2,490.3 605.7,490.4 606.3,490.4 606.8,490.4 607.3,490.5 607.9,490.5 608.4,490.6 608.9,490.6 609.4,490.7 610,490.7 610.5,490.7 611,490.8 611.5,490.8 612.1,490.9 612.6,490.9 613.1,490.9 613.7,491 614.2,491 614.7,491 615.2,491.1 615.8,491.1 616.3,491.1 616.8,491.2 617.3,491.2 617.9,491.2 618.4,491.3 618.9,491.3 619.4,491.3 620,491.4 620.5,491.4 621,491.4 621.6,491.5 622.1,491.5 622.6,491.5 623.1,491.6 623.7,491.6 624.2,491.6 624.7,491.6 625.2,491.7 625.8,491.7 626.3,491.7 626.8,491.7 627.4,491.8 627.9,491.8 628.4,491.8 628.9,491.9 629.5,491.9 630,491.9 630.5,491.9 631,492 631.6,492 632.1,492 632.6,492 633.1,492 633.7,492.1 634.2,492.1 634.7,492.1 635.3,492.1 635.8,492.2 636.3,492.2 636.8,492.2 637.4,492.2 637.9,492.2 638.4,492.3 638.9,492.3 639.5,492.3 640,492.3 640.5,492.3 641,492.4 641.6,492.4 642.1,492.4 642.6,492.4 643.2,492.4 643.7,492.5 644.2,492.5 644.7,492.5 645.3,492.5 645.8,492.5 646.3,492.5 646.8,492.6 647.4,492.6 647.9,492.6 648.4,492.6 649,492.6 649.5,492.7 650,492.7 650.5,492.7 651.1,492.7 651.6,492.7 652.1,492.7 652.6,492.7 653.2,492.8 653.7,492.8 654.2,492.8 654.7,492.8 655.3,492.8 655.8,492.8 656.3,492.8 656.9,492.9 657.4,492.9 657.9,492.9 658.4,492.9 659,492.9 659.5,492.9 660,492.9 660.5,493 661.1,493 661.6,493 662.1,493 662.7,493 663.2,493 663.7,493 664.2,493 664.8,493.1 665.3,493.1 665.8,493.1 666.3,493.1 666.9,493.1 667.4,493.1 667.9,493.1 668.4,493.1 669,493.2 669.5,493.2 670,493.2 670.6,493.2 671.1,493.2 671.6,493.2 672.1,493.2 672.7,493.2 673.2,493.2 673.7,493.3 674.2,493.3 674.8,493.3 675.3,493.3 675.8,493.3 676.4,493.3 676.9,493.3 677.4,493.3 677.9,493.3 678.5,493.3 679,493.4 679.5,493.4 680,493.4 680.6,493.4 681.1,493.4 681.6,493.4 682.1,493.4 682.7,493.4 683.2,493.4 683.7,493.4 684.3,493.4 684.8,493.5 685.3,493.5 685.8,493.5 686.4,493.5 686.9,493.5 687.4,493.5 687.9,493.5 688.5,493.5 689,493.5 689.5,493.5 690,493.5 690.6,493.5 691.1,493.6 691.6,493.6 692.2,493.6 692.7,493.6 693.2,493.6 693.7,493.6 694.3,493.6 694.8,493.6 695.3,493.6 695.8,493.6 696.4,493.6 696.9,493.6 697.4,493.6 698,493.7 698.5,493.7 699,493.7 699.5,493.7 700.1,493.7 700.6,493.7 701.1,493.7 701.6,493.7 702.2,493.7 702.7,493.7 703.2,493.7 703.7,493.7 704.3,493.7 704.8,493.7 705.3,493.7 705.9,493.8 706.4,493.8 706.9,493.8 707.4,493.8 708,493.8 708.5,493.8 709,493.8 709.5,493.8 710.1,493.8 710.6,493.8 711.1,493.8 711.7,493.8 712.2,493.8 712.7,493.8 713.2,493.8 713.8,493.8 714.3,493.8 714.8,493.9 715.3,493.9 715.9,493.9 716.4,493.9 716.9,493.9 717.4,493.9 718,493.9 718.5,493.9" fill="none" stroke="#2a2a2a" stroke-width="1.7" stroke-linejoin="round" stroke-dasharray="0.1 6.9" stroke-linecap="round"/>
<rect x="86.2" y="18" width="632.2" height="485.5" fill="none" stroke="#424242" stroke-width="2"/>
<path d="M86.2 503.5v8.5M138.9 503.5v3.5M191.6 503.5v8.5M244.3 503.5v3.5M297 503.5v8.5M349.7 503.5v3.5M402.4 503.5v8.5M455.1 503.5v3.5M507.8 503.5v8.5M560.4 503.5v3.5M613.1 503.5v8.5M665.8 503.5v3.5M718.5 503.5v8.5" stroke="#424242" stroke-width="2" fill="none"/>
<text x="64.86" y="537.90" font-size="23.1" font-weight="normal" fill="#000" stroke="#000" stroke-width="1.3" stroke-linejoin="round" letter-spacing="2.1">800</text>
<text x="162.37" y="537.90" font-size="23.1" font-weight="normal" fill="#000" stroke="#000" stroke-width="1.3" stroke-linejoin="round" letter-spacing="2.1">1000</text>
<text x="267.75" y="537.90" font-size="23.1" font-weight="normal" fill="#000" stroke="#000" stroke-width="1.3" stroke-linejoin="round" letter-spacing="2.1">1200</text>
<text x="373.12" y="537.90" font-size="23.1" font-weight="normal" fill="#000" stroke="#000" stroke-width="1.3" stroke-linejoin="round" letter-spacing="2.1">1400</text>
<text x="478.50" y="537.90" font-size="23.1" font-weight="normal" fill="#000" stroke="#000" stroke-width="1.3" stroke-linejoin="round" letter-spacing="2.1">1600</text>
<text x="583.87" y="537.90" font-size="23.1" font-weight="normal" fill="#000" stroke="#000" stroke-width="1.3" stroke-linejoin="round" letter-spacing="2.1">1800</text>
<text x="689.54" y="537.90" font-size="23.1" font-weight="normal" fill="#000" stroke="#000" stroke-width="1.3" stroke-linejoin="round" letter-spacing="2.1">2000</text>
<text transform="translate(274.63 587.00) scale(0.9752 1.0000)" font-size="29.5" font-weight="bold" fill="#000" xml:space="preserve">Raman shift (cm<tspan font-size="14.8"> </tspan><tspan font-size="19.5" dy="-11.8">-1</tspan><tspan dy="11.8">)</tspan></text>
<text transform="translate(45.60 334.70) rotate(-90) scale(0.9545 0.9600)" font-size="29" font-weight="bold" fill="#000" xml:space="preserve">Intensity (a.u.)</text>
<text transform="translate(678.01 63.00) scale(0.9006 1.0000)" font-size="27.5" font-weight="bold" fill="#000" xml:space="preserve">a</text>
<text transform="translate(123.11 70.30) scale(0.9709 1.0000)" font-size="30" font-weight="bold" fill="#000" xml:space="preserve">1 Hour</text>
</g>
<g>
<polyline points="834.8,490.5 835.3,491 835.8,492.5 836.3,491.8 836.8,490.3 837.4,489.8 837.9,491.3 838.4,490.3 838.9,489.8 839.4,490 840,491.2 840.5,493.2 841,491.9 841.5,490.1 842.1,491.1 842.6,490.7 843.1,490.8 843.6,492 844.1,490.7 844.7,490.7 845.2,490.2 845.7,490.4 846.2,491 846.8,490.1 847.3,490.2 847.8,490.5 848.3,490.1 848.8,489.5 849.4,489.1 849.9,490 850.4,490.4 850.9,492.5 851.5,489.4 852,489.8 852.5,490.9 853,491.8 853.5,491.4 854.1,489.9 854.6,490.1 855.1,490.9 855.6,490.3 856.1,490.9 856.7,489 857.2,491.1 857.7,492 858.2,490.5 858.8,490.6 859.3,490.4 859.8,489.4 860.3,489.9 860.8,491 861.4,490.1 861.9,489.5 862.4,489.7 862.9,490.3 863.5,491.1 864,489.8 864.5,490 865,490.1 865.5,488.2 866.1,488.6 866.6,489.4 867.1,489.5 867.6,489.8 868.1,487.9 868.7,488.8 869.2,488.9 869.7,487.9 870.2,489.3 870.8,490.1 871.3,489 871.8,489.7 872.3,489.2 872.8,489 873.4,488.1 873.9,490 874.4,487.2 874.9,487.9 875.5,489.5 876,487.3 876.5,487.9 877,488.6 877.5,489.4 878.1,490.1 878.6,488.7 879.1,487.2 879.6,489.2 880.2,490.1 880.7,488.5 881.2,488.5 881.7,488.8 882.2,488.9 882.8,488.6 883.3,489.5 883.8,487.1 884.3,488.3 884.9,488.7 885.4,487.9 885.9,488.9 886.4,486.2 886.9,487.9 887.5,488.5 888,486.8 888.5,487.6 889,487.4 889.5,489.7 890.1,490.1 890.6,488.5 891.1,486.8 891.6,486.5 892.2,486.7 892.7,486.5 893.2,486.1 893.7,486.1 894.2,486.5 894.8,486.3 895.3,486 895.8,485.7 896.3,488.7 896.9,486.3 897.4,485.1 897.9,486.5 898.4,486.4 898.9,486.7 899.5,487.3 900,487.8 900.5,487.4 901,485.6 901.5,486.7 902.1,484.9 902.6,485.2 903.1,485.4 903.6,484.7 904.2,485.9 904.7,485.8 905.2,486.5 905.7,484.6 906.2,485.7 906.8,486.3 907.3,485.7 907.8,484 908.3,484.4 908.9,483.6 909.4,482.5 909.9,487.3 910.4,487.2 910.9,487 911.5,485.2 912,485.2 912.5,485.6 913,478.7 913.6,484.8 914.1,484.3 914.6,482.3 915.1,484.1 915.6,484.9 916.2,485.4 916.7,484.3 917.2,485.6 917.7,484.2 918.2,482.5 918.8,484.2 919.3,483.7 919.8,482.3 920.3,483.2 920.9,484.3 921.4,484 921.9,483.9 922.4,487.5 922.9,485.7 923.5,484.9 924,481.7 924.5,482.5 925,483.8 925.6,482.8 926.1,481.7 926.6,482.6 927.1,482.4 927.6,481.7 928.2,483.2 928.7,484.1 929.2,483.1 929.7,481.8 930.3,482.3 930.8,483 931.3,482.8 931.8,480.6 932.3,480.7 932.9,481.8 933.4,482.3 933.9,482.6 934.4,482.5 935,480.4 935.5,479.9 936,479.5 936.5,482.2 937,481.8 937.6,481.4 938.1,481.9 938.6,480.7 939.1,479.1 939.6,479.4 940.2,479.9 940.7,481.6 941.2,481.6 941.7,479.2 942.3,480 942.8,480.8 943.3,478.9 943.8,478.9 944.3,477.5 944.9,478.8 945.4,479 945.9,477.5 946.4,477.6 947,478.8 947.5,478.3 948,478.7 948.5,479.2 949,477.7 949.6,477.5 950.1,480.2 950.6,479.1 951.1,477 951.6,477.4 952.2,476.2 952.7,478.1 953.2,478.2 953.7,478.5 954.3,478.5 954.8,477.7 955.3,478 955.8,477.3 956.3,475.9 956.9,474.9 957.4,475.2 957.9,473.1 958.4,476.7 959,474.7 959.5,474.7 960,473.9 960.5,472.4 961,474 961.6,474.5 962.1,474.4 962.6,475.1 963.1,473.9 963.7,474.3 964.2,474.7 964.7,473.7 965.2,473.2 965.7,473.9 966.3,473.6 966.8,473.3 967.3,470.3 967.8,471.6 968.4,472.9 968.9,472.3 969.4,472.3 969.9,474.1 970.4,472.6 971,472.2 971.5,470.5 972,469.6 972.5,469.7 973,469.1 973.6,469.7 974.1,468.9 974.6,469.1 975.1,467.8 975.7,466.7 976.2,467.4 976.7,467.2 977.2,467.3 977.7,467.3 978.3,467.3 978.8,468.8 979.3,469.7 979.8,468.8 980.4,466.9 980.9,468.3 981.4,465.4 981.9,463 982.4,465.2 983,465.8 983.5,465.2 984,465.4 984.5,462.9 985,462.4 985.6,465.2 986.1,465.3 986.6,463.4 987.1,464.2 987.7,462.9 988.2,461.7 988.7,462.7 989.2,461.1 989.7,460.9 990.3,461.4 990.8,461 991.3,462.2 991.8,462.3 992.4,459.8 992.9,459.1 993.4,460.1 993.9,460 994.4,458.8 995,459.6 995.5,460.5 996,458.7 996.5,459.4 997.1,456.9 997.6,455.4 998.1,457.8 998.6,457.1 999.1,455.9 999.7,456.6 1000.2,456.2 1000.7,457.1 1001.2,455.2 1001.8,455.4 1002.3,460.3 1002.8,458.1 1003.3,453.7 1003.8,455.6 1004.4,456.8 1004.9,457.7 1005.4,456.4 1005.9,454.6 1006.4,456.6 1007,456.8 1007.5,453 1008,454.8 1008.5,454.9 1009.1,455.9 1009.6,454.7 1010.1,455.3 1010.6,454.1 1011.1,455.2 1011.7,454.6 1012.2,453.7 1012.7,454 1013.2,455 1013.8,455 1014.3,456.4 1014.8,455.5 1015.3,455.1 1015.8,457.1 1016.4,455.3 1016.9,454.7 1017.4,453.5 1017.9,453.7 1018.5,456.2 1019,455.3 1019.5,456.1 1020,453.5 1020.5,451.7 1021.1,453.7 1021.6,452.5 1022.1,456.8 1022.6,457.3 1023.1,453.3 1023.7,453.3 1024.2,453.4 1024.7,454.5 1025.2,454.5 1025.8,455.5 1026.3,456.8 1026.8,454.9 1027.3,452.8 1027.8,454.5 1028.4,454.5 1028.9,455.8 1029.4,454.9 1029.9,455.4 1030.5,455.3 1031,454.4 1031.5,453.8 1032,455.1 1032.5,458.1 1033.1,456.9 1033.6,454.7 1034.1,455.2 1034.6,454.8 1035.2,452.6 1035.7,453.9 1036.2,456.3 1036.7,454.5 1037.2,452.4 1037.8,453.9 1038.3,456.4 1038.8,455.9 1039.3,455.4 1039.8,457 1040.4,456.8 1040.9,455.1 1041.4,453.2 1041.9,453 1042.5,452.7 1043,453.7 1043.5,451.8 1044,453.8 1044.5,453.1 1045.1,451.4 1045.6,452.5 1046.1,449.2 1046.6,448.9 1047.2,449.6 1047.7,451.4 1048.2,450.3 1048.7,451.8 1049.2,450.1 1049.8,450 1050.3,448.7 1050.8,450.1 1051.3,449 1051.8,448.9 1052.4,447.6 1052.9,445.9 1053.4,446.3 1053.9,448.2 1054.5,445.7 1055,443.4 1055.5,444.4 1056,446.1 1056.5,443.8 1057.1,443 1057.6,443.8 1058.1,442 1058.6,443.2 1059.2,444.3 1059.7,442.7 1060.2,441.4 1060.7,442 1061.2,440.8 1061.8,438.5 1062.3,437.3 1062.8,436.6 1063.3,440.2 1063.9,438.7 1064.4,437.8 1064.9,437.7 1065.4,434.9 1065.9,435.4 1066.5,434.1 1067,430.5 1067.5,431.6 1068,430.8 1068.5,430.6 1069.1,431.4 1069.6,433.9 1070.1,430.4 1070.6,428.4 1071.2,428.7 1071.7,428 1072.2,426.6 1072.7,424.2 1073.2,423 1073.8,423.4 1074.3,421.6 1074.8,420.9 1075.3,419.5 1075.9,421.9 1076.4,418.5 1076.9,421.1 1077.4,418.6 1077.9,415.4 1078.5,413.9 1079,415.9 1079.5,416.6 1080,412.8 1080.6,412.4 1081.1,411.4 1081.6,409.8 1082.1,409.3 1082.6,409.4 1083.2,404.4 1083.7,400.9 1084.2,403.3 1084.7,403.3 1085.2,403 1085.8,398.3 1086.3,396.4 1086.8,399.7 1087.3,395.3 1087.9,394.5 1088.4,392.2 1088.9,390.4 1089.4,387.4 1089.9,389.3 1090.5,384.1 1091,381.2 1091.5,380.3 1092,382.1 1092.6,380 1093.1,377.9 1093.6,374.7 1094.1,372.3 1094.6,370.5 1095.2,370.1 1095.7,366 1096.2,359.1 1096.7,359.7 1097.3,358.7 1097.8,350.7 1098.3,348.3 1098.8,344.2 1099.3,345.8 1099.9,340.1 1100.4,331.2 1100.9,330.3 1101.4,325.9 1102,324.8 1102.5,319.9 1103,310.5 1103.5,306.6 1104,301.5 1104.6,296.4 1105.1,291.5 1105.6,283.1 1106.1,280.7 1106.6,274.4 1107.2,267.1 1107.7,264.2 1108.2,261.5 1108.7,250.2 1109.3,246.5 1109.8,232.4 1110.3,227.1 1110.8,219.3 1111.3,211.4 1111.9,201.7 1112.4,193.5 1112.9,186.3 1113.4,178.1 1114,171.4 1114.5,168.5 1115,154.8 1115.5,144.4 1116,132.6 1116.6,120.7 1117.1,122.1 1117.6,111.8 1118.1,103 1118.7,98.9 1119.2,95.8 1119.7,89.5 1120.2,87.9 1120.7,79.7 1121.3,69.1 1121.8,69.6 1122.3,67.5 1122.8,58.7 1123.3,61.9 1123.9,65.6 1124.4,72.8 1124.9,71.1 1125.4,69.1 1126,76.4 1126.5,77 1127,85.6 1127.5,93.7 1128,96.6 1128.6,102.6 1129.1,109.9 1129.6,123.1 1130.1,130.2 1130.7,132.8 1131.2,139.2 1131.7,150.4 1132.2,160.2 1132.7,166.9 1133.3,177.1 1133.8,185.4 1134.3,196.2 1134.8,204.1 1135.3,210.2 1135.9,218.1 1136.4,223.6 1136.9,234.2 1137.4,242 1138,246.8 1138.5,254.1 1139,259.8 1139.5,272.1 1140,274.7 1140.6,280.1 1141.1,286.3 1141.6,289.3 1142.1,295.2 1142.7,300.3 1143.2,306.1 1143.7,311.3 1144.2,316.7 1144.7,321.5 1145.3,323.2 1145.8,325.9 1146.3,329.5 1146.8,332.5 1147.4,334 1147.9,341 1148.4,344.8 1148.9,347 1149.4,347 1150,348.9 1150.5,349.7 1151,355.8 1151.5,361.5 1152,364.2 1152.6,365 1153.1,366.8 1153.6,374.8 1154.1,374 1154.7,373.5 1155.2,375.9 1155.7,375.7 1156.2,376.9 1156.7,379.8 1157.3,381.3 1157.8,381.4 1158.3,378.9 1158.8,381.3 1159.4,386.2 1159.9,387.3 1160.4,389.3 1160.9,388.8 1161.4,389.7 1162,392.3 1162.5,393.6 1163,394.1 1163.5,396.1 1164.1,398 1164.6,399.2 1165.1,395.2 1165.6,396 1166.1,398 1166.7,399 1167.2,397.9 1167.7,402.7 1168.2,401.9 1168.8,403 1169.3,400.6 1169.8,402.9 1170.3,405.4 1170.8,405.4 1171.4,408.4 1171.9,413 1172.4,409.7 1172.9,408.3 1173.4,413.2 1174,413.8 1174.5,412.3 1175,410.9 1175.5,414.1 1176.1,415.2 1176.6,417.5 1177.1,415.2 1177.6,415.2 1178.1,416 1178.7,416.5 1179.2,419 1179.7,419.9 1180.2,417.9 1180.8,418.1 1181.3,420 1181.8,420.4 1182.3,419.8 1182.8,417.9 1183.4,418.6 1183.9,419.8 1184.4,421.5 1184.9,422.8 1185.5,423.1 1186,421.8 1186.5,419.8 1187,420.9 1187.5,420.4 1188.1,419.1 1188.6,420.1 1189.1,420.7 1189.6,421.3 1190.1,418.7 1190.7,416.2 1191.2,418.8 1191.7,417.7 1192.2,419.4 1192.8,417.2 1193.3,416.3 1193.8,414.4 1194.3,419.1 1194.8,417.5 1195.4,416 1195.9,415.2 1196.4,414.9 1196.9,416.4 1197.5,415.5 1198,414.5 1198.5,415.8 1199,412.3 1199.5,414 1200.1,415.4 1200.6,411.3 1201.1,411.5 1201.6,409.8 1202.2,407 1202.7,408.1 1203.2,410.7 1203.7,411.7 1204.2,409.7 1204.8,407.8 1205.3,407.8 1205.8,407.3 1206.3,406.8 1206.8,403.7 1207.4,405.5 1207.9,410 1208.4,410.1 1208.9,408.9 1209.5,406.1 1210,405.4 1210.5,405.4 1211,403.3 1211.5,399.8 1212.1,400.4 1212.6,401.4 1213.1,401.6 1213.6,399.6 1214.2,397.9 1214.7,397.8 1215.2,397.8 1215.7,397.8 1216.2,395.7 1216.8,395 1217.3,391.8 1217.8,392.3 1218.3,390.7 1218.8,386.2 1219.4,385.4 1219.9,385 1220.4,381.3 1220.9,381.4 1221.5,378.7 1222,377 1222.5,372.5 1223,371.1 1223.5,370 1224.1,365.3 1224.6,361.7 1225.1,357.9 1225.6,355.8 1226.2,352.3 1226.7,349.1 1227.2,344.3 1227.7,337.3 1228.2,331.7 1228.8,328.5 1229.3,326.1 1229.8,325.2 1230.3,318.6 1230.9,308.7 1231.4,298.6 1231.9,296.4 1232.4,291.2 1232.9,281.5 1233.5,277.9 1234,270.9 1234.5,261.8 1235,250.6 1235.5,247.9 1236.1,241 1236.6,231.6 1237.1,221.8 1237.6,214.6 1238.2,211.2 1238.7,203.6 1239.2,199 1239.7,191.2 1240.2,181.8 1240.8,176.1 1241.3,169.1 1241.8,159.2 1242.3,155 1242.9,154.4 1243.4,149.1 1243.9,146.1 1244.4,143.6 1244.9,149.5 1245.5,145.2 1246,143.6 1246.5,145.9 1247,153 1247.6,158.2 1248.1,157.6 1248.6,162.4 1249.1,164.1 1249.6,169.2 1250.2,181.1 1250.7,184.4 1251.2,184.9 1251.7,185.4 1252.2,191 1252.8,193.9 1253.3,194.8 1253.8,204.3 1254.3,210.4 1254.9,212.6 1255.4,216.8 1255.9,213.9 1256.4,220.6 1256.9,220 1257.5,223 1258,226.6 1258.5,230.3 1259,235.4 1259.6,235.3 1260.1,235.2 1260.6,236.7 1261.1,243.5 1261.6,247.4 1262.2,250.9 1262.7,259.3 1263.2,269 1263.7,274.9 1264.3,279.9 1264.8,289.5 1265.3,295.5 1265.8,301.5 1266.3,315 1266.9,322.6 1267.4,333.7 1267.9,334 1268.4,342.7 1269,348.9 1269.5,359.4 1270,362.2 1270.5,365 1271,371.7 1271.6,376.9 1272.1,380.3 1272.6,386.7 1273.1,391.5 1273.6,395.6 1274.2,398.7 1274.7,400.1 1275.2,402.8 1275.7,408.1 1276.3,409.6 1276.8,415.7 1277.3,417.6 1277.8,417.9 1278.3,422.7 1278.9,424.7 1279.4,428.1 1279.9,429.6 1280.4,433.4 1281,433.3 1281.5,431.2 1282,433 1282.5,435.1 1283,439.9 1283.6,444.7 1284.1,444.2 1284.6,443 1285.1,446.6 1285.7,449 1286.2,449.1 1286.7,451.1 1287.2,452.3 1287.7,451.8 1288.3,454.8 1288.8,455.5 1289.3,455.4 1289.8,457.2 1290.3,461 1290.9,463.6 1291.4,464.1 1291.9,462.3 1292.4,461.6 1293,463.9 1293.5,464.9 1294,465.9 1294.5,465.3 1295,465.7 1295.6,466.4 1296.1,469.3 1296.6,471.3 1297.1,470 1297.7,471.3 1298.2,472.6 1298.7,471.6 1299.2,472.4 1299.7,474.2 1300.3,473 1300.8,475.2 1301.3,475.1 1301.8,475.1 1302.3,475.3 1302.9,474.1 1303.4,476 1303.9,476.9 1304.4,476.6 1305,476.9 1305.5,478 1306,477.9 1306.5,477.5 1307,478.2 1307.6,479.5 1308.1,479.2 1308.6,478.1 1309.1,479.7 1309.7,479.3 1310.2,479.9 1310.7,479.6 1311.2,478.5 1311.7,477.8 1312.3,478.2 1312.8,479.2 1313.3,477.3 1313.8,479.4 1314.4,481.5 1314.9,480.4 1315.4,478.8 1315.9,477.8 1316.4,479.7 1317,480.8 1317.5,480.5 1318,481.1 1318.5,479.9 1319,479.7 1319.6,480.5 1320.1,480.2 1320.6,480.8 1321.1,481.1 1321.7,480.3 1322.2,479.2 1322.7,479.1 1323.2,481.2 1323.7,479.5 1324.3,479.8 1324.8,479.3 1325.3,482.3 1325.8,480.7 1326.4,480.7 1326.9,479.5 1327.4,483.2 1327.9,480.3 1328.4,480 1329,479.1 1329.5,480.6 1330,479.3 1330.5,479.2 1331.1,478.4 1331.6,479.1 1332.1,480.1 1332.6,482.1 1333.1,478.6 1333.7,479.8 1334.2,480.6 1334.7,479.7 1335.2,479.8 1335.8,480.6 1336.3,480.4 1336.8,480.3 1337.3,479.5 1337.8,479.2 1338.4,480.7 1338.9,479.6 1339.4,479.5 1339.9,480.3 1340.4,480.8 1341,481 1341.5,480.4 1342,478.3 1342.5,480.4 1343.1,481.9 1343.6,482.2 1344.1,481.5 1344.6,481.6 1345.1,480.7 1345.7,479.4 1346.2,480.1 1346.7,480.4 1347.2,481.7 1347.8,482.1 1348.3,480.7 1348.8,480.2 1349.3,480.7 1349.8,481 1350.4,482.5 1350.9,481.2 1351.4,482.2 1351.9,480.3 1352.4,479.9 1353,482.6 1353.5,482.3 1354,481.5 1354.5,481.9 1355.1,481.4 1355.6,481.4 1356.1,481.7 1356.6,481.8 1357.1,481.6 1357.7,481.1 1358.2,481.7 1358.7,481.1 1359.2,482 1359.8,481.8 1360.3,482 1360.8,482.2 1361.3,481.3 1361.8,481.1 1362.4,481.6 1362.9,482.4 1363.4,483.2 1363.9,482.4 1364.5,481.5 1365,482.1 1365.5,482.3 1366,483 1366.5,483.8 1367.1,484.8 1367.6,481.6 1368.1,481.3 1368.6,482.2 1369.2,483.3 1369.7,483.6 1370.2,483 1370.7,483.4 1371.2,482.5 1371.8,482.2 1372.3,482.9 1372.8,481.9 1373.3,483.9 1373.8,482.8 1374.4,481.5 1374.9,482.8 1375.4,481.3 1375.9,481.9 1376.5,482.8 1377,484.3 1377.5,486.6 1378,484.6 1378.5,482.1 1379.1,483 1379.6,484.1 1380.1,482.8 1380.6,483.4 1381.2,485.1 1381.7,484.6 1382.2,483 1382.7,482.7 1383.2,481.8 1383.8,482.5 1384.3,482.9 1384.8,484.8 1385.3,482.8 1385.8,481.6 1386.4,483.3 1386.9,484.4 1387.4,483.6 1387.9,483.8 1388.5,484.6 1389,484.9 1389.5,484.6 1390,484.6 1390.5,482.8 1391.1,484.2 1391.6,484.5 1392.1,483.4 1392.6,483.4 1393.2,483.7 1393.7,483.6 1394.2,483.8 1394.7,483.8 1395.2,482.8 1395.8,485.7 1396.3,485.5 1396.8,486.6 1397.3,485 1397.9,485.8 1398.4,484.9 1398.9,485.9 1399.4,486 1399.9,485.6 1400.5,484.7 1401,484.7 1401.5,485.9 1402,483.3 1402.5,483.2 1403.1,483.2 1403.6,483.3 1404.1,484.9 1404.6,485.7 1405.2,484.9 1405.7,485.7 1406.2,484.6 1406.7,484 1407.2,484.7 1407.8,485.3 1408.3,484.9 1408.8,483.9 1409.3,485 1409.9,486.7 1410.4,485.3 1410.9,484.9 1411.4,484" fill="none" stroke="#000" stroke-width="1.5" stroke-linejoin="round"/>
<polyline points="834.8,488.2 835.8,488.2 836.8,488.2 837.9,488.2 838.9,488.1 840,488.1 841,488.1 842.1,488.1 843.1,488 844.1,488 845.2,488 846.2,488 847.3,487.9 848.3,487.9 849.4,487.9 850.4,487.9 851.5,487.8 852.5,487.8 853.5,487.8 854.6,487.7 855.6,487.7 856.7,487.7 857.7,487.6 858.8,487.6 859.8,487.6 860.8,487.5 861.9,487.5 862.9,487.5 864,487.4 865,487.4 866.1,487.3 867.1,487.3 868.1,487.3 869.2,487.2 870.2,487.2 871.3,487.1 872.3,487.1 873.4,487 874.4,487 875.5,486.9 876.5,486.9 877.5,486.8 878.6,486.8 879.6,486.7 880.7,486.7 881.7,486.6 882.8,486.5 883.8,486.5 884.9,486.4 885.9,486.3 886.9,486.3 888,486.2 889,486.1 890.1,486.1 891.1,486 892.2,485.9 893.2,485.8 894.2,485.8 895.3,485.7 896.3,485.6 897.4,485.5 898.4,485.4 899.5,485.3 900.5,485.2 901.5,485.1 902.6,485.1 903.6,485 904.7,484.9 905.7,484.8 906.8,484.7 907.8,484.5 908.9,484.4 909.9,484.3 910.9,484.2 912,484.1 913,484 914.1,483.9 915.1,483.8 916.2,483.6 917.2,483.5 918.2,483.4 919.3,483.2 920.3,483.1 921.4,483 922.4,482.8 923.5,482.7 924.5,482.6 925.6,482.4 926.6,482.3 927.6,482.1 928.7,482 929.7,481.8 930.8,481.7 931.8,481.5 932.9,481.3 933.9,481.2 935,481 936,480.8 937,480.6 938.1,480.5 939.1,480.3 940.2,480.1 941.2,479.9 942.3,479.7 943.3,479.5 944.3,479.3 945.4,479.1 946.4,478.8 947.5,478.6 948.5,478.4 949.6,478.1 950.6,477.9 951.6,477.6 952.7,477.4 953.7,477.1 954.8,476.8 955.8,476.6 956.9,476.3 957.9,476 959,475.7 960,475.3 961,475 962.1,474.7 963.1,474.3 964.2,474 965.2,473.6 966.3,473.2 967.3,472.8 968.4,472.4 969.4,472 970.4,471.6 971.5,471.1 972.5,470.7 973.6,470.2 974.6,469.7 975.7,469.3 976.7,468.8 977.7,468.3 978.8,467.8 979.8,467.3 980.9,466.7 981.9,466.2 983,465.7 984,465.1 985,464.6 986.1,464 987.1,463.5 988.2,462.9 989.2,462.4 990.3,461.9 991.3,461.3 992.4,460.8 993.4,460.3 994.4,459.8 995.5,459.3 996.5,458.8 997.6,458.3 998.6,457.9 999.7,457.4 1000.7,457 1001.8,456.6 1002.8,456.3 1003.8,455.9 1004.9,455.6 1005.9,455.3 1007,455.1 1008,454.8 1009.1,454.6 1010.1,454.5 1011.1,454.3 1012.2,454.2 1013.2,454.1 1014.3,454.1 1015.3,454 1016.4,454 1017.4,454 1018.5,454 1019.5,454.1 1020.5,454.1 1021.6,454.1 1022.6,454.2 1023.7,454.2 1024.7,454.3 1025.8,454.3 1026.8,454.4 1027.8,454.4 1028.9,454.4 1029.9,454.5 1031,454.5 1032,454.4 1033.1,454.4 1034.1,454.3 1035.2,454.2 1036.2,454.1 1037.2,454 1038.3,453.8 1039.3,453.6 1040.4,453.4 1041.4,453.1 1042.5,452.8 1043.5,452.5 1044.5,452.1 1045.6,451.7 1046.6,451.2 1047.7,450.7 1048.7,450.2 1049.8,449.6 1050.8,449 1051.8,448.3 1052.9,447.6 1053.9,446.9 1055,446.1 1056,445.2 1057.1,444.4 1058.1,443.4 1059.2,442.5 1060.2,441.5 1061.2,440.4 1062.3,439.3 1063.3,438.2 1064.4,437 1065.4,435.8 1066.5,434.5 1067.5,433.2 1068.5,431.8 1069.6,430.4 1070.6,429 1071.7,427.5 1072.7,425.9 1073.8,424.3 1074.8,422.7 1075.9,421 1076.9,419.2 1077.9,417.4 1079,415.5 1080,413.5 1081.1,411.4 1082.1,409.2 1083.2,406.9 1084.2,404.5 1085.2,402 1086.3,399.3 1087.3,396.4 1088.4,393.3 1089.4,390 1090.5,386.5 1091.5,382.7 1092.6,378.6 1093.6,374.2 1094.6,369.5 1095.7,364.3 1096.7,358.8 1097.8,352.7 1098.8,346.2 1099.9,339.1 1100.9,331.4 1102,323 1103,313.9 1104,304.1 1105.1,293.5 1106.1,282.1 1107.2,269.8 1108.2,256.7 1109.3,242.6 1110.3,227.8 1111.3,212.2 1112.4,195.9 1113.4,179.2 1114.5,162.3 1115.5,145.5 1116.6,129.1 1117.6,113.7 1118.7,99.7 1119.7,87.7 1120.7,78 1121.8,71.3 1122.8,67.8 1123.9,67.6 1124.9,70.8 1126,77.2 1127,86.5 1128,98.3 1129.1,112.1 1130.1,127.4 1131.2,143.6 1132.2,160.3 1133.3,177.2 1134.3,193.8 1135.3,210 1136.4,225.5 1137.4,240.3 1138.5,254.2 1139.5,267.2 1140.6,279.4 1141.6,290.6 1142.7,301 1143.7,310.5 1144.7,319.3 1145.8,327.3 1146.8,334.6 1147.9,341.3 1148.9,347.4 1150,353 1151,358 1152,362.6 1153.1,366.7 1154.1,370.5 1155.2,374 1156.2,377.1 1157.3,380 1158.3,382.7 1159.4,385.2 1160.4,387.6 1161.4,389.8 1162.5,391.9 1163.5,394 1164.6,396 1165.6,397.9 1166.7,399.8 1167.7,401.7 1168.8,403.5 1169.8,405.3 1170.8,407 1171.9,408.7 1172.9,410.3 1174,411.7 1175,413.1 1176.1,414.4 1177.1,415.5 1178.1,416.6 1179.2,417.5 1180.2,418.3 1181.3,419 1182.3,419.5 1183.4,419.9 1184.4,420.2 1185.5,420.3 1186.5,420.4 1187.5,420.3 1188.6,420.1 1189.6,419.8 1190.7,419.3 1191.7,418.8 1192.8,418.2 1193.8,417.6 1194.8,416.8 1195.9,416.1 1196.9,415.3 1198,414.4 1199,413.6 1200.1,412.8 1201.1,412 1202.2,411.3 1203.2,410.5 1204.2,409.8 1205.3,409.1 1206.3,408.4 1207.4,407.6 1208.4,406.8 1209.5,405.9 1210.5,404.9 1211.5,403.7 1212.6,402.3 1213.6,400.8 1214.7,399 1215.7,396.9 1216.8,394.5 1217.8,391.8 1218.8,388.6 1219.9,385.1 1220.9,381 1222,376.5 1223,371.3 1224.1,365.6 1225.1,359.2 1226.2,352 1227.2,344.1 1228.2,335.3 1229.3,325.6 1230.3,314.9 1231.4,303.3 1232.4,290.7 1233.5,277.2 1234.5,262.8 1235.5,247.7 1236.6,232.1 1237.6,216.4 1238.7,201.1 1239.7,186.6 1240.8,173.6 1241.8,162.6 1242.9,154.2 1243.9,148.8 1244.9,146.6 1246,147.5 1247,151.4 1248.1,157.6 1249.1,165.6 1250.2,174.6 1251.2,183.9 1252.2,192.9 1253.3,201.1 1254.3,208.1 1255.4,213.9 1256.4,218.6 1257.5,222.7 1258.5,226.8 1259.6,231.9 1260.6,238.8 1261.6,248.2 1262.7,260.1 1263.7,274 1264.8,289 1265.8,304.5 1266.9,319.5 1267.9,333.7 1269,346.8 1270,358.7 1271,369.3 1272.1,378.8 1273.1,387.3 1274.2,394.9 1275.2,401.7 1276.3,407.8 1277.3,413.3 1278.3,418.2 1279.4,422.7 1280.4,426.8 1281.5,430.5 1282.5,434 1283.6,437.2 1284.6,440.1 1285.7,442.8 1286.7,445.3 1287.7,447.7 1288.8,449.9 1289.8,451.9 1290.9,453.8 1291.9,455.6 1293,457.3 1294,458.8 1295,460.2 1296.1,461.6 1297.1,462.8 1298.2,464 1299.2,465 1300.3,466 1301.3,466.8 1302.3,467.6 1303.4,468.4 1304.4,469 1305.5,469.6 1306.5,470.2 1307.6,470.7 1308.6,471.1 1309.7,471.5 1310.7,471.9 1311.7,472.2 1312.8,472.6 1313.8,472.9 1314.9,473.2 1315.9,473.4 1317,473.7 1318,473.9 1319,474.2 1320.1,474.5 1321.1,474.7 1322.2,474.9 1323.2,475.2 1324.3,475.4 1325.3,475.7 1326.4,475.9 1327.4,476.2 1328.4,476.4 1329.5,476.6 1330.5,476.9 1331.6,477.1 1332.6,477.3 1333.7,477.5 1334.7,477.8 1335.8,478 1336.8,478.2 1337.8,478.4 1338.9,478.6 1339.9,478.8 1341,479 1342,479.1 1343.1,479.3 1344.1,479.5 1345.1,479.7 1346.2,479.8 1347.2,480 1348.3,480.1 1349.3,480.3 1350.4,480.4 1351.4,480.6 1352.4,480.7 1353.5,480.9 1354.5,481 1355.6,481.1 1356.6,481.2 1357.7,481.4 1358.7,481.5 1359.8,481.6 1360.8,481.7 1361.8,481.8 1362.9,481.9 1363.9,482 1365,482.1 1366,482.2 1367.1,482.3 1368.1,482.4 1369.2,482.5 1370.2,482.6 1371.2,482.7 1372.3,482.8 1373.3,482.9 1374.4,483 1375.4,483 1376.5,483.1 1377.5,483.2 1378.5,483.3 1379.6,483.3 1380.6,483.4 1381.7,483.5 1382.7,483.6 1383.8,483.6 1384.8,483.7 1385.8,483.8 1386.9,483.8 1387.9,483.9 1389,483.9 1390,484 1391.1,484.1 1392.1,484.1 1393.2,484.2 1394.2,484.2 1395.2,484.3 1396.3,484.3 1397.3,484.4 1398.4,484.4 1399.4,484.5 1400.5,484.5 1401.5,484.6 1402.5,484.6 1403.6,484.7 1404.6,484.7 1405.7,484.8 1406.7,484.8 1407.8,484.9 1408.8,484.9 1409.9,485 1410.9,485" fill="none" stroke="#2a2ab0" stroke-width="1.15" stroke-linejoin="round"/>
<polyline points="834.8,486.9 835.8,486.9 836.8,486.9 837.9,486.9 838.9,486.9 840,486.9 841,486.9 842.1,486.9 843.1,486.9 844.1,486.9 845.2,486.9 846.2,486.9 847.3,486.8 848.3,486.8 849.4,486.8 850.4,486.8 851.5,486.8 852.5,486.8 853.5,486.8 854.6,486.8 855.6,486.8 856.7,486.8 857.7,486.8 858.8,486.8 859.8,486.8 860.8,486.8 861.9,486.8 862.9,486.8 864,486.8 865,486.8 866.1,486.8 867.1,486.8 868.1,486.8 869.2,486.8 870.2,486.8 871.3,486.8 872.3,486.8 873.4,486.8 874.4,486.8 875.5,486.8 876.5,486.8 877.5,486.8 878.6,486.8 879.6,486.8 880.7,486.8 881.7,486.8 882.8,486.8 883.8,486.8 884.9,486.7 885.9,486.7 886.9,486.7 888,486.7 889,486.7 890.1,486.7 891.1,486.7 892.2,486.7 893.2,486.7 894.2,486.7 895.3,486.7 896.3,486.7 897.4,486.7 898.4,486.7 899.5,486.7 900.5,486.7 901.5,486.7 902.6,486.7 903.6,486.7 904.7,486.7 905.7,486.6 906.8,486.6 907.8,486.6 908.9,486.6 909.9,486.6 910.9,486.6 912,486.6 913,486.6 914.1,486.6 915.1,486.6 916.2,486.6 917.2,486.6 918.2,486.5 919.3,486.5 920.3,486.5 921.4,486.5 922.4,486.5 923.5,486.5 924.5,486.5 925.6,486.4 926.6,486.4 927.6,486.4 928.7,486.4 929.7,486.4 930.8,486.3 931.8,486.3 932.9,486.3 933.9,486.3 935,486.2 936,486.2 937,486.2 938.1,486.1 939.1,486.1 940.2,486.1 941.2,486 942.3,486 943.3,485.9 944.3,485.8 945.4,485.8 946.4,485.7 947.5,485.6 948.5,485.6 949.6,485.5 950.6,485.4 951.6,485.3 952.7,485.2 953.7,485.1 954.8,484.9 955.8,484.8 956.9,484.7 957.9,484.5 959,484.4 960,484.2 961,484 962.1,483.8 963.1,483.7 964.2,483.4 965.2,483.2 966.3,483 967.3,482.7 968.4,482.5 969.4,482.2 970.4,481.9 971.5,481.7 972.5,481.4 973.6,481 974.6,480.7 975.7,480.4 976.7,480 977.7,479.7 978.8,479.3 979.8,478.9 980.9,478.6 981.9,478.2 983,477.8 984,477.4 985,477 986.1,476.6 987.1,476.2 988.2,475.8 989.2,475.4 990.3,475 991.3,474.6 992.4,474.2 993.4,473.8 994.4,473.4 995.5,473.1 996.5,472.7 997.6,472.4 998.6,472.1 999.7,471.8 1000.7,471.5 1001.8,471.3 1002.8,471.1 1003.8,470.9 1004.9,470.8 1005.9,470.7 1007,470.6 1008,470.5 1009.1,470.5 1010.1,470.5 1011.1,470.6 1012.2,470.7 1013.2,470.8 1014.3,470.9 1015.3,471.1 1016.4,471.3 1017.4,471.5 1018.5,471.8 1019.5,472.1 1020.5,472.4 1021.6,472.7 1022.6,473.1 1023.7,473.4 1024.7,473.8 1025.8,474.2 1026.8,474.6 1027.8,475 1028.9,475.4 1029.9,475.8 1031,476.2 1032,476.6 1033.1,477 1034.1,477.4 1035.2,477.8 1036.2,478.2 1037.2,478.6 1038.3,478.9 1039.3,479.3 1040.4,479.7 1041.4,480 1042.5,480.4 1043.5,480.7 1044.5,481 1045.6,481.4 1046.6,481.7 1047.7,481.9 1048.7,482.2 1049.8,482.5 1050.8,482.7 1051.8,483 1052.9,483.2 1053.9,483.4 1055,483.7 1056,483.8 1057.1,484 1058.1,484.2 1059.2,484.4 1060.2,484.5 1061.2,484.7 1062.3,484.8 1063.3,484.9 1064.4,485.1 1065.4,485.2 1066.5,485.3 1067.5,485.4 1068.5,485.5 1069.6,485.6 1070.6,485.6 1071.7,485.7 1072.7,485.8 1073.8,485.8 1074.8,485.9 1075.9,486 1076.9,486 1077.9,486.1 1079,486.1 1080,486.1 1081.1,486.2 1082.1,486.2 1083.2,486.2 1084.2,486.3 1085.2,486.3 1086.3,486.3 1087.3,486.3 1088.4,486.4 1089.4,486.4 1090.5,486.4 1091.5,486.4 1092.6,486.4 1093.6,486.5 1094.6,486.5 1095.7,486.5 1096.7,486.5 1097.8,486.5 1098.8,486.5 1099.9,486.5 1100.9,486.6 1102,486.6 1103,486.6 1104,486.6 1105.1,486.6 1106.1,486.6 1107.2,486.6 1108.2,486.6 1109.3,486.6 1110.3,486.6 1111.3,486.6 1112.4,486.6 1113.4,486.7 1114.5,486.7 1115.5,486.7 1116.6,486.7 1117.6,486.7 1118.7,486.7 1119.7,486.7 1120.7,486.7 1121.8,486.7 1122.8,486.7 1123.9,486.7 1124.9,486.7 1126,486.7 1127,486.7 1128,486.7 1129.1,486.7 1130.1,486.7 1131.2,486.7 1132.2,486.7 1133.3,486.7 1134.3,486.8 1135.3,486.8 1136.4,486.8 1137.4,486.8 1138.5,486.8 1139.5,486.8 1140.6,486.8 1141.6,486.8 1142.7,486.8 1143.7,486.8 1144.7,486.8 1145.8,486.8 1146.8,486.8 1147.9,486.8 1148.9,486.8 1150,486.8 1151,486.8 1152,486.8 1153.1,486.8 1154.1,486.8 1155.2,486.8 1156.2,486.8 1157.3,486.8 1158.3,486.8 1159.4,486.8 1160.4,486.8 1161.4,486.8 1162.5,486.8 1163.5,486.8 1164.6,486.8 1165.6,486.8 1166.7,486.8 1167.7,486.8 1168.8,486.8 1169.8,486.8 1170.8,486.8 1171.9,486.9 1172.9,486.9 1174,486.9" fill="none" stroke="#0000ff" stroke-width="3.6" stroke-linejoin="round"/>
<polyline points="1095.7,487.9 1096.7,487.9 1097.8,487.9 1098.8,487.9 1099.9,487.9 1100.9,487.9 1102,487.8 1103,487.8 1104,487.8 1105.1,487.8 1106.1,487.8 1107.2,487.8 1108.2,487.8 1109.3,487.7 1110.3,487.7 1111.3,487.7 1112.4,487.7 1113.4,487.7 1114.5,487.6 1115.5,487.6 1116.6,487.6 1117.6,487.6 1118.7,487.6 1119.7,487.5 1120.7,487.5 1121.8,487.5 1122.8,487.5 1123.9,487.4 1124.9,487.4 1126,487.4 1127,487.4 1128,487.3 1129.1,487.3 1130.1,487.3 1131.2,487.2 1132.2,487.2 1133.3,487.2 1134.3,487.1 1135.3,487.1 1136.4,487 1137.4,487 1138.5,487 1139.5,486.9 1140.6,486.9 1141.6,486.8 1142.7,486.7 1143.7,486.7 1144.7,486.6 1145.8,486.6 1146.8,486.5 1147.9,486.4 1148.9,486.3 1150,486.3 1151,486.2 1152,486.1 1153.1,486 1154.1,485.9 1155.2,485.8 1156.2,485.7 1157.3,485.5 1158.3,485.4 1159.4,485.3 1160.4,485.1 1161.4,485 1162.5,484.8 1163.5,484.6 1164.6,484.4 1165.6,484.2 1166.7,483.9 1167.7,483.7 1168.8,483.4 1169.8,483.1 1170.8,482.8 1171.9,482.4 1172.9,482 1174,481.6 1175,481.2 1176.1,480.8 1177.1,480.3 1178.1,479.7 1179.2,479.2 1180.2,478.6 1181.3,478 1182.3,477.3 1183.4,476.6 1184.4,475.9 1185.5,475.1 1186.5,474.3 1187.5,473.5 1188.6,472.6 1189.6,471.8 1190.7,470.9 1191.7,470 1192.8,469.1 1193.8,468.3 1194.8,467.5 1195.9,466.7 1196.9,466 1198,465.4 1199,464.8 1200.1,464.4 1201.1,464.2 1202.2,464 1203.2,464 1204.2,464.2 1205.3,464.4 1206.3,464.8 1207.4,465.4 1208.4,466 1209.5,466.7 1210.5,467.5 1211.5,468.3 1212.6,469.1 1213.6,470 1214.7,470.9 1215.7,471.8 1216.8,472.6 1217.8,473.5 1218.8,474.3 1219.9,475.1 1220.9,475.9 1222,476.6 1223,477.3 1224.1,478 1225.1,478.6 1226.2,479.2 1227.2,479.7 1228.2,480.3 1229.3,480.8 1230.3,481.2 1231.4,481.6 1232.4,482 1233.5,482.4 1234.5,482.8 1235.5,483.1 1236.6,483.4 1237.6,483.7 1238.7,483.9 1239.7,484.2 1240.8,484.4 1241.8,484.6 1242.9,484.8 1243.9,485 1244.9,485.1 1246,485.3 1247,485.4 1248.1,485.5 1249.1,485.7 1250.2,485.8 1251.2,485.9 1252.2,486 1253.3,486.1 1254.3,486.2 1255.4,486.3 1256.4,486.3 1257.5,486.4 1258.5,486.5 1259.6,486.6 1260.6,486.6 1261.6,486.7 1262.7,486.7 1263.7,486.8 1264.8,486.9 1265.8,486.9 1266.9,487 1267.9,487 1269,487 1270,487.1 1271,487.1 1272.1,487.2 1273.1,487.2 1274.2,487.2 1275.2,487.3 1276.3,487.3 1277.3,487.3 1278.3,487.4 1279.4,487.4 1280.4,487.4 1281.5,487.4 1282.5,487.5 1283.6,487.5 1284.6,487.5 1285.7,487.5 1286.7,487.6 1287.7,487.6 1288.8,487.6 1289.8,487.6 1290.9,487.6 1291.9,487.7 1293,487.7 1294,487.7 1295,487.7 1296.1,487.7 1297.1,487.8 1298.2,487.8 1299.2,487.8 1300.3,487.8 1301.3,487.8 1302.3,487.8 1303.4,487.8 1304.4,487.9 1305.5,487.9 1306.5,487.9 1307.6,487.9 1308.6,487.9 1309.7,487.9 1310.7,487.9 1311.7,487.9 1312.8,487.9 1313.8,488 1314.9,488 1315.9,488 1317,488 1318,488 1319,488 1320.1,488 1321.1,488 1322.2,488 1323.2,488 1324.3,488 1325.3,488.1 1326.4,488.1 1327.4,488.1 1328.4,488.1 1329.5,488.1 1330.5,488.1 1331.6,488.1 1332.6,488.1 1333.7,488.1 1334.7,488.1 1335.8,488.1 1336.8,488.1 1337.8,488.1 1338.9,488.1 1339.9,488.1 1341,488.1 1342,488.2 1343.1,488.2 1344.1,488.2 1345.1,488.2 1346.2,488.2 1347.2,488.2 1348.3,488.2 1349.3,488.2 1350.4,488.2 1351.4,488.2 1352.4,488.2 1353.5,488.2 1354.5,488.2 1355.6,488.2 1356.6,488.2 1357.7,488.2 1358.7,488.2 1359.8,488.2 1360.8,488.2 1361.8,488.2 1362.9,488.2 1363.9,488.2 1365,488.2 1366,488.2 1367.1,488.2 1368.1,488.3 1369.2,488.3 1370.2,488.3 1371.2,488.3 1372.3,488.3 1373.3,488.3 1374.4,488.3 1375.4,488.3 1376.5,488.3 1377.5,488.3 1378.5,488.3 1379.6,488.3 1380.6,488.3 1381.7,488.3 1382.7,488.3 1383.8,488.3 1384.8,488.3 1385.8,488.3 1386.9,488.3 1387.9,488.3 1389,488.3 1390,488.3 1391.1,488.3 1392.1,488.3 1393.2,488.3 1394.2,488.3 1395.2,488.3 1396.3,488.3 1397.3,488.3 1398.4,488.3 1399.4,488.3 1400.5,488.3 1401.5,488.3 1402.5,488.3 1403.6,488.3 1404.6,488.3 1405.7,488.3 1406.7,488.3 1407.8,488.3 1408.8,488.3 1409.9,488.3 1410.9,488.3" fill="none" stroke="#0000ff" stroke-width="3.6" stroke-linejoin="round"/>
<polyline points="834.8,487.3 835.8,487.3 836.8,487.3 837.9,487.3 838.9,487.3 840,487.3 841,487.3 842.1,487.3 843.1,487.3 844.1,487.3 845.2,487.3 846.2,487.3 847.3,487.3 848.3,487.3 849.4,487.3 850.4,487.3 851.5,487.3 852.5,487.3 853.5,487.3 854.6,487.3 855.6,487.3 856.7,487.3 857.7,487.2 858.8,487.2 859.8,487.2 860.8,487.2 861.9,487.2 862.9,487.2 864,487.2 865,487.2 866.1,487.2 867.1,487.2 868.1,487.2 869.2,487.2 870.2,487.2 871.3,487.2 872.3,487.2 873.4,487.2 874.4,487.2 875.5,487.2 876.5,487.2 877.5,487.2 878.6,487.2 879.6,487.2 880.7,487.2 881.7,487.2 882.8,487.2 883.8,487.2 884.9,487.2 885.9,487.2 886.9,487.2 888,487.2 889,487.2 890.1,487.2 891.1,487.2 892.2,487.2 893.2,487.1 894.2,487.1 895.3,487.1 896.3,487.1 897.4,487.1 898.4,487.1 899.5,487.1 900.5,487.1 901.5,487.1 902.6,487.1 903.6,487.1 904.7,487.1 905.7,487.1 906.8,487.1 907.8,487.1 908.9,487.1 909.9,487.1 910.9,487.1 912,487.1 913,487.1 914.1,487.1 915.1,487.1 916.2,487 917.2,487 918.2,487 919.3,487 920.3,487 921.4,487 922.4,487 923.5,487 924.5,487 925.6,487 926.6,487 927.6,487 928.7,487 929.7,487 930.8,487 931.8,486.9 932.9,486.9 933.9,486.9 935,486.9 936,486.9 937,486.9 938.1,486.9 939.1,486.9 940.2,486.9 941.2,486.9 942.3,486.9 943.3,486.9 944.3,486.8 945.4,486.8 946.4,486.8 947.5,486.8 948.5,486.8 949.6,486.8 950.6,486.8 951.6,486.8 952.7,486.8 953.7,486.8 954.8,486.7 955.8,486.7 956.9,486.7 957.9,486.7 959,486.7 960,486.7 961,486.7 962.1,486.7 963.1,486.6 964.2,486.6 965.2,486.6 966.3,486.6 967.3,486.6 968.4,486.6 969.4,486.5 970.4,486.5 971.5,486.5 972.5,486.5 973.6,486.5 974.6,486.5 975.7,486.4 976.7,486.4 977.7,486.4 978.8,486.4 979.8,486.3 980.9,486.3 981.9,486.3 983,486.3 984,486.2 985,486.2 986.1,486.2 987.1,486.2 988.2,486.1 989.2,486.1 990.3,486.1 991.3,486 992.4,486 993.4,486 994.4,485.9 995.5,485.9 996.5,485.8 997.6,485.8 998.6,485.8 999.7,485.7 1000.7,485.7 1001.8,485.6 1002.8,485.6 1003.8,485.5 1004.9,485.4 1005.9,485.4 1007,485.3 1008,485.2 1009.1,485.2 1010.1,485.1 1011.1,485 1012.2,484.9 1013.2,484.8 1014.3,484.7 1015.3,484.6 1016.4,484.5 1017.4,484.4 1018.5,484.3 1019.5,484.1 1020.5,484 1021.6,483.9 1022.6,483.7 1023.7,483.5 1024.7,483.4 1025.8,483.2 1026.8,483 1027.8,482.8 1028.9,482.6 1029.9,482.4 1031,482.2 1032,482 1033.1,481.7 1034.1,481.5 1035.2,481.2 1036.2,480.9 1037.2,480.6 1038.3,480.3 1039.3,480 1040.4,479.7 1041.4,479.4 1042.5,479 1043.5,478.7 1044.5,478.3 1045.6,477.9 1046.6,477.6 1047.7,477.2 1048.7,476.8 1049.8,476.3 1050.8,475.9 1051.8,475.5 1052.9,475 1053.9,474.6 1055,474.1 1056,473.7 1057.1,473.2 1058.1,472.7 1059.2,472.2 1060.2,471.8 1061.2,471.3 1062.3,470.9 1063.3,470.4 1064.4,469.9 1065.4,469.5 1066.5,469.1 1067.5,468.7 1068.5,468.3 1069.6,467.9 1070.6,467.6 1071.7,467.3 1072.7,467 1073.8,466.7 1074.8,466.5 1075.9,466.3 1076.9,466.2 1077.9,466.1 1079,466 1080,466 1081.1,466 1082.1,466.1 1083.2,466.2 1084.2,466.3 1085.2,466.5 1086.3,466.7 1087.3,467 1088.4,467.3 1089.4,467.6 1090.5,467.9 1091.5,468.3 1092.6,468.7 1093.6,469.1 1094.6,469.5 1095.7,469.9 1096.7,470.4 1097.8,470.9 1098.8,471.3 1099.9,471.8 1100.9,472.2 1102,472.7 1103,473.2 1104,473.7 1105.1,474.1 1106.1,474.6 1107.2,475 1108.2,475.5 1109.3,475.9 1110.3,476.3 1111.3,476.8 1112.4,477.2 1113.4,477.6 1114.5,477.9 1115.5,478.3 1116.6,478.7 1117.6,479 1118.7,479.4 1119.7,479.7 1120.7,480 1121.8,480.3 1122.8,480.6 1123.9,480.9 1124.9,481.2 1126,481.5 1127,481.7 1128,482 1129.1,482.2 1130.1,482.4 1131.2,482.6 1132.2,482.8 1133.3,483 1134.3,483.2 1135.3,483.4 1136.4,483.5 1137.4,483.7 1138.5,483.9 1139.5,484 1140.6,484.1 1141.6,484.3 1142.7,484.4 1143.7,484.5 1144.7,484.6 1145.8,484.7 1146.8,484.8 1147.9,484.9 1148.9,485 1150,485.1 1151,485.2 1152,485.2 1153.1,485.3 1154.1,485.4 1155.2,485.4 1156.2,485.5 1157.3,485.6 1158.3,485.6 1159.4,485.7 1160.4,485.7 1161.4,485.8 1162.5,485.8 1163.5,485.8 1164.6,485.9 1165.6,485.9 1166.7,486 1167.7,486 1168.8,486 1169.8,486.1 1170.8,486.1 1171.9,486.1 1172.9,486.2 1174,486.2 1175,486.2 1176.1,486.2 1177.1,486.3 1178.1,486.3 1179.2,486.3 1180.2,486.3 1181.3,486.4 1182.3,486.4 1183.4,486.4 1184.4,486.4 1185.5,486.5 1186.5,486.5 1187.5,486.5 1188.6,486.5 1189.6,486.5 1190.7,486.5 1191.7,486.6 1192.8,486.6 1193.8,486.6 1194.8,486.6 1195.9,486.6 1196.9,486.6 1198,486.7 1199,486.7 1200.1,486.7 1201.1,486.7 1202.2,486.7 1203.2,486.7 1204.2,486.7 1205.3,486.7 1206.3,486.8 1207.4,486.8 1208.4,486.8 1209.5,486.8 1210.5,486.8 1211.5,486.8 1212.6,486.8 1213.6,486.8 1214.7,486.8 1215.7,486.8 1216.8,486.9 1217.8,486.9 1218.8,486.9 1219.9,486.9 1220.9,486.9 1222,486.9 1223,486.9 1224.1,486.9 1225.1,486.9 1226.2,486.9 1227.2,486.9 1228.2,486.9 1229.3,487 1230.3,487 1231.4,487 1232.4,487 1233.5,487 1234.5,487 1235.5,487 1236.6,487 1237.6,487 1238.7,487 1239.7,487 1240.8,487 1241.8,487 1242.9,487 1243.9,487 1244.9,487.1 1246,487.1 1247,487.1 1248.1,487.1 1249.1,487.1 1250.2,487.1 1251.2,487.1 1252.2,487.1 1253.3,487.1 1254.3,487.1 1255.4,487.1 1256.4,487.1 1257.5,487.1 1258.5,487.1 1259.6,487.1 1260.6,487.1 1261.6,487.1 1262.7,487.1 1263.7,487.1 1264.8,487.1 1265.8,487.1 1266.9,487.1 1267.9,487.2 1269,487.2 1270,487.2 1271,487.2 1272.1,487.2 1273.1,487.2 1274.2,487.2 1275.2,487.2 1276.3,487.2 1277.3,487.2 1278.3,487.2 1279.4,487.2 1280.4,487.2 1281.5,487.2 1282.5,487.2 1283.6,487.2 1284.6,487.2 1285.7,487.2 1286.7,487.2 1287.7,487.2 1288.8,487.2 1289.8,487.2 1290.9,487.2 1291.9,487.2 1293,487.2 1294,487.2 1295,487.2 1296.1,487.2 1297.1,487.2 1298.2,487.2 1299.2,487.2 1300.3,487.2 1301.3,487.2 1302.3,487.2 1303.4,487.3 1304.4,487.3 1305.5,487.3 1306.5,487.3 1307.6,487.3 1308.6,487.3 1309.7,487.3 1310.7,487.3 1311.7,487.3 1312.8,487.3 1313.8,487.3 1314.9,487.3 1315.9,487.3 1317,487.3 1318,487.3 1319,487.3 1320.1,487.3 1321.1,487.3 1322.2,487.3 1323.2,487.3 1324.3,487.3 1325.3,487.3 1326.4,487.3 1327.4,487.3 1328.4,487.3 1329.5,487.3 1330.5,487.3 1331.6,487.3 1332.6,487.3 1333.7,487.3 1334.7,487.3 1335.8,487.3 1336.8,487.3 1337.8,487.3 1338.9,487.3 1339.9,487.3 1341,487.3 1342,487.3 1343.1,487.3 1344.1,487.3 1345.1,487.3 1346.2,487.3 1347.2,487.3 1348.3,487.3 1349.3,487.3 1350.4,487.3 1351.4,487.3 1352.4,487.3 1353.5,487.3 1354.5,487.3 1355.6,487.3 1356.6,487.3 1357.7,487.3 1358.7,487.3 1359.8,487.3 1360.8,487.3 1361.8,487.3 1362.9,487.3 1363.9,487.3 1365,487.3 1366,487.3 1367.1,487.3 1368.1,487.3 1369.2,487.4 1370.2,487.4 1371.2,487.4 1372.3,487.4 1373.3,487.4 1374.4,487.4 1375.4,487.4 1376.5,487.4 1377.5,487.4 1378.5,487.4 1379.6,487.4 1380.6,487.4 1381.7,487.4 1382.7,487.4 1383.8,487.4 1384.8,487.4 1385.8,487.4 1386.9,487.4 1387.9,487.4 1389,487.4 1390,487.4 1391.1,487.4 1392.1,487.4 1393.2,487.4 1394.2,487.4 1395.2,487.4 1396.3,487.4 1397.3,487.4 1398.4,487.4 1399.4,487.4 1400.5,487.4 1401.5,487.4 1402.5,487.4 1403.6,487.4 1404.6,487.4 1405.7,487.4 1406.7,487.4 1407.8,487.4 1408.8,487.4 1409.9,487.4 1410.9,487.4" fill="none" stroke="#ff0000" stroke-width="4" stroke-linejoin="round"/>
<polyline points="834.8,489 835.8,489 836.8,489 837.9,488.9 838.9,488.9 840,488.9 841,488.9 842.1,488.9 843.1,488.9 844.1,488.9 845.2,488.9 846.2,488.9 847.3,488.9 848.3,488.9 849.4,488.9 850.4,488.9 851.5,488.9 852.5,488.9 853.5,488.9 854.6,488.9 855.6,488.9 856.7,488.9 857.7,488.9 858.8,488.9 859.8,488.9 860.8,488.9 861.9,488.9 862.9,488.9 864,488.9 865,488.9 866.1,488.9 867.1,488.9 868.1,488.9 869.2,488.9 870.2,488.9 871.3,488.9 872.3,488.9 873.4,488.9 874.4,488.9 875.5,488.9 876.5,488.9 877.5,488.9 878.6,488.9 879.6,488.9 880.7,488.9 881.7,488.9 882.8,488.9 883.8,488.9 884.9,488.9 885.9,488.9 886.9,488.9 888,488.9 889,488.9 890.1,488.9 891.1,488.9 892.2,488.9 893.2,488.9 894.2,488.9 895.3,488.9 896.3,488.9 897.4,488.9 898.4,488.9 899.5,488.9 900.5,488.9 901.5,488.9 902.6,488.9 903.6,488.9 904.7,488.9 905.7,488.9 906.8,488.9 907.8,488.9 908.9,488.9 909.9,488.9 910.9,488.9 912,488.9 913,488.9 914.1,488.9 915.1,488.9 916.2,488.9 917.2,488.9 918.2,488.9 919.3,488.9 920.3,488.9 921.4,488.9 922.4,488.9 923.5,488.9 924.5,488.9 925.6,488.9 926.6,488.9 927.6,488.9 928.7,488.9 929.7,488.9 930.8,488.9 931.8,488.9 932.9,488.9 933.9,488.9 935,488.9 936,488.9 937,488.9 938.1,488.9 939.1,488.9 940.2,488.9 941.2,488.9 942.3,488.9 943.3,488.9 944.3,488.9 945.4,488.9 946.4,488.9 947.5,488.9 948.5,488.9 949.6,488.9 950.6,488.9 951.6,488.9 952.7,488.9 953.7,488.9 954.8,488.9 955.8,488.9 956.9,488.9 957.9,488.9 959,488.9 960,488.9 961,488.9 962.1,488.9 963.1,488.9 964.2,488.9 965.2,488.9 966.3,488.9 967.3,488.9 968.4,488.9 969.4,488.9 970.4,488.9 971.5,488.9 972.5,488.9 973.6,488.9 974.6,488.9 975.7,488.9 976.7,488.8 977.7,488.8 978.8,488.8 979.8,488.8 980.9,488.8 981.9,488.8 983,488.8 984,488.8 985,488.8 986.1,488.8 987.1,488.8 988.2,488.8 989.2,488.8 990.3,488.8 991.3,488.8 992.4,488.8 993.4,488.8 994.4,488.8 995.5,488.8 996.5,488.8 997.6,488.8 998.6,488.8 999.7,488.8 1000.7,488.8 1001.8,488.8 1002.8,488.8 1003.8,488.8 1004.9,488.8 1005.9,488.8 1007,488.8 1008,488.8 1009.1,488.8 1010.1,488.8 1011.1,488.8 1012.2,488.8 1013.2,488.8 1014.3,488.8 1015.3,488.8 1016.4,488.8 1017.4,488.8 1018.5,488.8 1019.5,488.7 1020.5,488.7 1021.6,488.7 1022.6,488.7 1023.7,488.7 1024.7,488.7 1025.8,488.7 1026.8,488.7 1027.8,488.7 1028.9,488.7 1029.9,488.7 1031,488.7 1032,488.7 1033.1,488.7 1034.1,488.7 1035.2,488.7 1036.2,488.7 1037.2,488.7 1038.3,488.7 1039.3,488.7 1040.4,488.7 1041.4,488.7 1042.5,488.6 1043.5,488.6 1044.5,488.6 1045.6,488.6 1046.6,488.6 1047.7,488.6 1048.7,488.6 1049.8,488.6 1050.8,488.6 1051.8,488.6 1052.9,488.6 1053.9,488.6 1055,488.6 1056,488.6 1057.1,488.5 1058.1,488.5 1059.2,488.5 1060.2,488.5 1061.2,488.5 1062.3,488.5 1063.3,488.5 1064.4,488.5 1065.4,488.5 1066.5,488.5 1067.5,488.4 1068.5,488.4 1069.6,488.4 1070.6,488.4 1071.7,488.4 1072.7,488.4 1073.8,488.4 1074.8,488.4 1075.9,488.3 1076.9,488.3 1077.9,488.3 1079,488.3 1080,488.3 1081.1,488.3 1082.1,488.2 1083.2,488.2 1084.2,488.2 1085.2,488.2 1086.3,488.2 1087.3,488.1 1088.4,488.1 1089.4,488.1 1090.5,488.1 1091.5,488 1092.6,488 1093.6,488 1094.6,488 1095.7,487.9 1096.7,487.9 1097.8,487.9 1098.8,487.8 1099.9,487.8 1100.9,487.8 1102,487.7 1103,487.7 1104,487.6 1105.1,487.6 1106.1,487.5 1107.2,487.5 1108.2,487.4 1109.3,487.4 1110.3,487.3 1111.3,487.3 1112.4,487.2 1113.4,487.1 1114.5,487.1 1115.5,487 1116.6,486.9 1117.6,486.8 1118.7,486.7 1119.7,486.6 1120.7,486.5 1121.8,486.4 1122.8,486.3 1123.9,486.1 1124.9,486 1126,485.8 1127,485.6 1128,485.5 1129.1,485.3 1130.1,485 1131.2,484.8 1132.2,484.6 1133.3,484.3 1134.3,484 1135.3,483.7 1136.4,483.3 1137.4,483 1138.5,482.6 1139.5,482.1 1140.6,481.7 1141.6,481.2 1142.7,480.7 1143.7,480.2 1144.7,479.6 1145.8,479 1146.8,478.4 1147.9,477.7 1148.9,477 1150,476.3 1151,475.6 1152,474.9 1153.1,474.1 1154.1,473.4 1155.2,472.7 1156.2,472 1157.3,471.3 1158.3,470.7 1159.4,470.2 1160.4,469.7 1161.4,469.4 1162.5,469.1 1163.5,469 1164.6,469 1165.6,469.1 1166.7,469.4 1167.7,469.7 1168.8,470.2 1169.8,470.7 1170.8,471.3 1171.9,472 1172.9,472.7 1174,473.4 1175,474.1 1176.1,474.9 1177.1,475.6 1178.1,476.3 1179.2,477 1180.2,477.7 1181.3,478.4 1182.3,479 1183.4,479.6 1184.4,480.2 1185.5,480.7 1186.5,481.2 1187.5,481.7 1188.6,482.1 1189.6,482.6 1190.7,483 1191.7,483.3 1192.8,483.7 1193.8,484 1194.8,484.3 1195.9,484.6 1196.9,484.8 1198,485 1199,485.3 1200.1,485.5 1201.1,485.6 1202.2,485.8 1203.2,486 1204.2,486.1 1205.3,486.3 1206.3,486.4 1207.4,486.5 1208.4,486.6 1209.5,486.7 1210.5,486.8 1211.5,486.9 1212.6,487 1213.6,487.1 1214.7,487.1 1215.7,487.2 1216.8,487.3 1217.8,487.3 1218.8,487.4 1219.9,487.4 1220.9,487.5 1222,487.5 1223,487.6 1224.1,487.6 1225.1,487.7 1226.2,487.7 1227.2,487.8 1228.2,487.8 1229.3,487.8 1230.3,487.9 1231.4,487.9 1232.4,487.9 1233.5,488 1234.5,488 1235.5,488 1236.6,488 1237.6,488.1 1238.7,488.1 1239.7,488.1 1240.8,488.1 1241.8,488.2 1242.9,488.2 1243.9,488.2 1244.9,488.2 1246,488.2 1247,488.3 1248.1,488.3 1249.1,488.3 1250.2,488.3 1251.2,488.3 1252.2,488.3 1253.3,488.4 1254.3,488.4 1255.4,488.4 1256.4,488.4 1257.5,488.4 1258.5,488.4 1259.6,488.4 1260.6,488.4 1261.6,488.5 1262.7,488.5 1263.7,488.5 1264.8,488.5 1265.8,488.5 1266.9,488.5 1267.9,488.5 1269,488.5 1270,488.5 1271,488.5 1272.1,488.6 1273.1,488.6 1274.2,488.6 1275.2,488.6 1276.3,488.6 1277.3,488.6 1278.3,488.6 1279.4,488.6 1280.4,488.6 1281.5,488.6 1282.5,488.6 1283.6,488.6 1284.6,488.6 1285.7,488.6 1286.7,488.7 1287.7,488.7 1288.8,488.7 1289.8,488.7 1290.9,488.7 1291.9,488.7 1293,488.7 1294,488.7 1295,488.7 1296.1,488.7 1297.1,488.7 1298.2,488.7 1299.2,488.7 1300.3,488.7 1301.3,488.7 1302.3,488.7 1303.4,488.7 1304.4,488.7 1305.5,488.7 1306.5,488.7 1307.6,488.7 1308.6,488.7 1309.7,488.8 1310.7,488.8 1311.7,488.8 1312.8,488.8 1313.8,488.8 1314.9,488.8 1315.9,488.8 1317,488.8 1318,488.8 1319,488.8 1320.1,488.8 1321.1,488.8 1322.2,488.8 1323.2,488.8 1324.3,488.8 1325.3,488.8 1326.4,488.8 1327.4,488.8 1328.4,488.8 1329.5,488.8 1330.5,488.8 1331.6,488.8 1332.6,488.8 1333.7,488.8 1334.7,488.8 1335.8,488.8 1336.8,488.8 1337.8,488.8 1338.9,488.8 1339.9,488.8 1341,488.8 1342,488.8 1343.1,488.8 1344.1,488.8 1345.1,488.8 1346.2,488.8 1347.2,488.8 1348.3,488.8 1349.3,488.8 1350.4,488.8 1351.4,488.8 1352.4,488.9 1353.5,488.9 1354.5,488.9 1355.6,488.9 1356.6,488.9 1357.7,488.9 1358.7,488.9 1359.8,488.9 1360.8,488.9 1361.8,488.9 1362.9,488.9 1363.9,488.9 1365,488.9 1366,488.9 1367.1,488.9 1368.1,488.9 1369.2,488.9 1370.2,488.9 1371.2,488.9 1372.3,488.9 1373.3,488.9 1374.4,488.9 1375.4,488.9 1376.5,488.9 1377.5,488.9 1378.5,488.9 1379.6,488.9 1380.6,488.9 1381.7,488.9 1382.7,488.9 1383.8,488.9 1384.8,488.9 1385.8,488.9 1386.9,488.9 1387.9,488.9 1389,488.9 1390,488.9 1391.1,488.9 1392.1,488.9 1393.2,488.9 1394.2,488.9 1395.2,488.9 1396.3,488.9 1397.3,488.9 1398.4,488.9 1399.4,488.9 1400.5,488.9 1401.5,488.9 1402.5,488.9 1403.6,488.9 1404.6,488.9 1405.7,488.9 1406.7,488.9 1407.8,488.9 1408.8,488.9 1409.9,488.9 1410.9,488.9" fill="none" stroke="#ff0000" stroke-width="4" stroke-linejoin="round"/>
<polyline points="834.8,488.5 835.8,488.5 836.8,488.5 837.9,488.5 838.9,488.5 840,488.5 841,488.5 842.1,488.5 843.1,488.5 844.1,488.5 845.2,488.5 846.2,488.5 847.3,488.5 848.3,488.4 849.4,488.4 850.4,488.4 851.5,488.4 852.5,488.4 853.5,488.4 854.6,488.4 855.6,488.4 856.7,488.4 857.7,488.4 858.8,488.4 859.8,488.4 860.8,488.4 861.9,488.4 862.9,488.4 864,488.4 865,488.4 866.1,488.4 867.1,488.4 868.1,488.4 869.2,488.4 870.2,488.4 871.3,488.4 872.3,488.4 873.4,488.4 874.4,488.4 875.5,488.4 876.5,488.4 877.5,488.4 878.6,488.4 879.6,488.4 880.7,488.4 881.7,488.4 882.8,488.4 883.8,488.4 884.9,488.4 885.9,488.4 886.9,488.4 888,488.4 889,488.4 890.1,488.4 891.1,488.4 892.2,488.4 893.2,488.4 894.2,488.4 895.3,488.4 896.3,488.4 897.4,488.4 898.4,488.4 899.5,488.4 900.5,488.4 901.5,488.4 902.6,488.4 903.6,488.4 904.7,488.4 905.7,488.4 906.8,488.4 907.8,488.4 908.9,488.4 909.9,488.4 910.9,488.4 912,488.4 913,488.4 914.1,488.4 915.1,488.4 916.2,488.4 917.2,488.4 918.2,488.4 919.3,488.4 920.3,488.4 921.4,488.4 922.4,488.4 923.5,488.4 924.5,488.4 925.6,488.4 926.6,488.4 927.6,488.4 928.7,488.4 929.7,488.4 930.8,488.4 931.8,488.4 932.9,488.4 933.9,488.4 935,488.4 936,488.4 937,488.4 938.1,488.4 939.1,488.4 940.2,488.4 941.2,488.4 942.3,488.4 943.3,488.4 944.3,488.4 945.4,488.4 946.4,488.4 947.5,488.4 948.5,488.4 949.6,488.4 950.6,488.4 951.6,488.4 952.7,488.4 953.7,488.4 954.8,488.4 955.8,488.4 956.9,488.4 957.9,488.4 959,488.4 960,488.4 961,488.4 962.1,488.4 963.1,488.4 964.2,488.4 965.2,488.4 966.3,488.4 967.3,488.4 968.4,488.4 969.4,488.4 970.4,488.4 971.5,488.4 972.5,488.4 973.6,488.4 974.6,488.4 975.7,488.4 976.7,488.4 977.7,488.4 978.8,488.4 979.8,488.4 980.9,488.4 981.9,488.4 983,488.4 984,488.4 985,488.4 986.1,488.4 987.1,488.4 988.2,488.4 989.2,488.4 990.3,488.4 991.3,488.4 992.4,488.4 993.4,488.4 994.4,488.4 995.5,488.4 996.5,488.4 997.6,488.4 998.6,488.4 999.7,488.4 1000.7,488.4 1001.8,488.4 1002.8,488.4 1003.8,488.4 1004.9,488.4 1005.9,488.4 1007,488.4 1008,488.4 1009.1,488.4 1010.1,488.4 1011.1,488.4 1012.2,488.4 1013.2,488.4 1014.3,488.4 1015.3,488.4 1016.4,488.4 1017.4,488.4 1018.5,488.4 1019.5,488.4 1020.5,488.4 1021.6,488.4 1022.6,488.4 1023.7,488.3 1024.7,488.3 1025.8,488.3 1026.8,488.3 1027.8,488.3 1028.9,488.3 1029.9,488.3 1031,488.3 1032,488.3 1033.1,488.3 1034.1,488.3 1035.2,488.3 1036.2,488.3 1037.2,488.3 1038.3,488.3 1039.3,488.3 1040.4,488.3 1041.4,488.3 1042.5,488.3 1043.5,488.3 1044.5,488.3 1045.6,488.3 1046.6,488.3 1047.7,488.3 1048.7,488.3 1049.8,488.3 1050.8,488.3 1051.8,488.3 1052.9,488.3 1053.9,488.3 1055,488.3 1056,488.3 1057.1,488.3 1058.1,488.3 1059.2,488.3 1060.2,488.3 1061.2,488.3 1062.3,488.3 1063.3,488.3 1064.4,488.3 1065.4,488.3 1066.5,488.3 1067.5,488.3 1068.5,488.3 1069.6,488.3 1070.6,488.3 1071.7,488.3 1072.7,488.3 1073.8,488.3 1074.8,488.3 1075.9,488.3 1076.9,488.2 1077.9,488.2 1079,488.2 1080,488.2 1081.1,488.2 1082.1,488.2 1083.2,488.2 1084.2,488.2 1085.2,488.2 1086.3,488.2 1087.3,488.2 1088.4,488.2 1089.4,488.2 1090.5,488.2 1091.5,488.2 1092.6,488.2 1093.6,488.2 1094.6,488.2 1095.7,488.2 1096.7,488.2 1097.8,488.2 1098.8,488.2 1099.9,488.2 1100.9,488.2 1102,488.2 1103,488.2 1104,488.2 1105.1,488.2 1106.1,488.1 1107.2,488.1 1108.2,488.1 1109.3,488.1 1110.3,488.1 1111.3,488.1 1112.4,488.1 1113.4,488.1 1114.5,488.1 1115.5,488.1 1116.6,488.1 1117.6,488.1 1118.7,488.1 1119.7,488.1 1120.7,488.1 1121.8,488.1 1122.8,488.1 1123.9,488 1124.9,488 1126,488 1127,488 1128,488 1129.1,488 1130.1,488 1131.2,488 1132.2,488 1133.3,488 1134.3,488 1135.3,488 1136.4,488 1137.4,487.9 1138.5,487.9 1139.5,487.9 1140.6,487.9 1141.6,487.9 1142.7,487.9 1143.7,487.9 1144.7,487.9 1145.8,487.9 1146.8,487.9 1147.9,487.8 1148.9,487.8 1150,487.8 1151,487.8 1152,487.8 1153.1,487.8 1154.1,487.8 1155.2,487.7 1156.2,487.7 1157.3,487.7 1158.3,487.7 1159.4,487.7 1160.4,487.7 1161.4,487.6 1162.5,487.6 1163.5,487.6 1164.6,487.6 1165.6,487.6 1166.7,487.6 1167.7,487.5 1168.8,487.5 1169.8,487.5 1170.8,487.5 1171.9,487.4 1172.9,487.4 1174,487.4 1175,487.4 1176.1,487.3 1177.1,487.3 1178.1,487.3 1179.2,487.2 1180.2,487.2 1181.3,487.2 1182.3,487.1 1183.4,487.1 1184.4,487.1 1185.5,487 1186.5,487 1187.5,486.9 1188.6,486.9 1189.6,486.9 1190.7,486.8 1191.7,486.8 1192.8,486.7 1193.8,486.6 1194.8,486.6 1195.9,486.5 1196.9,486.5 1198,486.4 1199,486.3 1200.1,486.3 1201.1,486.2 1202.2,486.1 1203.2,486 1204.2,485.9 1205.3,485.8 1206.3,485.7 1207.4,485.6 1208.4,485.5 1209.5,485.4 1210.5,485.3 1211.5,485.1 1212.6,485 1213.6,484.8 1214.7,484.7 1215.7,484.5 1216.8,484.3 1217.8,484.1 1218.8,483.9 1219.9,483.7 1220.9,483.5 1222,483.2 1223,482.9 1224.1,482.6 1225.1,482.3 1226.2,481.9 1227.2,481.5 1228.2,481.1 1229.3,480.7 1230.3,480.2 1231.4,479.6 1232.4,479 1233.5,478.3 1234.5,477.6 1235.5,476.8 1236.6,475.9 1237.6,474.9 1238.7,473.7 1239.7,472.5 1240.8,471 1241.8,469.4 1242.9,467.6 1243.9,465.5 1244.9,463.1 1246,460.4 1247,457.2 1248.1,453.6 1249.1,449.4 1250.2,444.6 1251.2,439.1 1252.2,432.7 1253.3,425.5 1254.3,417.5 1255.4,408.9 1256.4,399.9 1257.5,391 1258.5,383.2 1259.6,377.2 1260.6,373.9 1261.6,373.9 1262.7,377.2 1263.7,383.2 1264.8,391 1265.8,399.9 1266.9,408.9 1267.9,417.5 1269,425.5 1270,432.7 1271,439.1 1272.1,444.6 1273.1,449.4 1274.2,453.6 1275.2,457.2 1276.3,460.4 1277.3,463.1 1278.3,465.5 1279.4,467.6 1280.4,469.4 1281.5,471 1282.5,472.5 1283.6,473.7 1284.6,474.9 1285.7,475.9 1286.7,476.8 1287.7,477.6 1288.8,478.3 1289.8,479 1290.9,479.6 1291.9,480.2 1293,480.7 1294,481.1 1295,481.5 1296.1,481.9 1297.1,482.3 1298.2,482.6 1299.2,482.9 1300.3,483.2 1301.3,483.5 1302.3,483.7 1303.4,483.9 1304.4,484.1 1305.5,484.3 1306.5,484.5 1307.6,484.7 1308.6,484.8 1309.7,485 1310.7,485.1 1311.7,485.3 1312.8,485.4 1313.8,485.5 1314.9,485.6 1315.9,485.7 1317,485.8 1318,485.9 1319,486 1320.1,486.1 1321.1,486.2 1322.2,486.3 1323.2,486.3 1324.3,486.4 1325.3,486.5 1326.4,486.5 1327.4,486.6 1328.4,486.6 1329.5,486.7 1330.5,486.8 1331.6,486.8 1332.6,486.9 1333.7,486.9 1334.7,486.9 1335.8,487 1336.8,487 1337.8,487.1 1338.9,487.1 1339.9,487.1 1341,487.2 1342,487.2 1343.1,487.2 1344.1,487.3 1345.1,487.3 1346.2,487.3 1347.2,487.4 1348.3,487.4 1349.3,487.4 1350.4,487.4 1351.4,487.5 1352.4,487.5 1353.5,487.5 1354.5,487.5 1355.6,487.6 1356.6,487.6 1357.7,487.6 1358.7,487.6 1359.8,487.6 1360.8,487.6 1361.8,487.7 1362.9,487.7 1363.9,487.7 1365,487.7 1366,487.7 1367.1,487.7 1368.1,487.8 1369.2,487.8 1370.2,487.8 1371.2,487.8 1372.3,487.8 1373.3,487.8 1374.4,487.8 1375.4,487.9 1376.5,487.9 1377.5,487.9 1378.5,487.9 1379.6,487.9 1380.6,487.9 1381.7,487.9 1382.7,487.9 1383.8,487.9 1384.8,487.9 1385.8,488 1386.9,488 1387.9,488 1389,488 1390,488 1391.1,488 1392.1,488 1393.2,488 1394.2,488 1395.2,488 1396.3,488 1397.3,488 1398.4,488 1399.4,488.1 1400.5,488.1 1401.5,488.1 1402.5,488.1 1403.6,488.1 1404.6,488.1 1405.7,488.1 1406.7,488.1 1407.8,488.1 1408.8,488.1 1409.9,488.1 1410.9,488.1" fill="none" stroke="#ff0000" stroke-width="4" stroke-linejoin="round"/>
<polyline points="834.8,486.3 835.3,486.2 835.8,486.2 836.3,486.2 836.8,486.2 837.4,486.2 837.9,486.2 838.4,486.2 838.9,486.2 839.4,486.2 840,486.2 840.5,486.2 841,486.2 841.5,486.2 842.1,486.2 842.6,486.2 843.1,486.2 843.6,486.2 844.1,486.2 844.7,486.2 845.2,486.2 845.7,486.2 846.2,486.1 846.8,486.1 847.3,486.1 847.8,486.1 848.3,486.1 848.8,486.1 849.4,486.1 849.9,486.1 850.4,486.1 850.9,486.1 851.5,486.1 852,486.1 852.5,486.1 853,486.1 853.5,486.1 854.1,486.1 854.6,486.1 855.1,486.1 855.6,486 856.1,486 856.7,486 857.2,486 857.7,486 858.2,486 858.8,486 859.3,486 859.8,486 860.3,486 860.8,486 861.4,486 861.9,486 862.4,486 862.9,486 863.5,486 864,486 864.5,485.9 865,485.9 865.5,485.9 866.1,485.9 866.6,485.9 867.1,485.9 867.6,485.9 868.1,485.9 868.7,485.9 869.2,485.9 869.7,485.9 870.2,485.9 870.8,485.9 871.3,485.9 871.8,485.9 872.3,485.9 872.8,485.8 873.4,485.8 873.9,485.8 874.4,485.8 874.9,485.8 875.5,485.8 876,485.8 876.5,485.8 877,485.8 877.5,485.8 878.1,485.8 878.6,485.8 879.1,485.8 879.6,485.8 880.2,485.7 880.7,485.7 881.2,485.7 881.7,485.7 882.2,485.7 882.8,485.7 883.3,485.7 883.8,485.7 884.3,485.7 884.9,485.7 885.4,485.7 885.9,485.7 886.4,485.6 886.9,485.6 887.5,485.6 888,485.6 888.5,485.6 889,485.6 889.5,485.6 890.1,485.6 890.6,485.6 891.1,485.6 891.6,485.6 892.2,485.6 892.7,485.5 893.2,485.5 893.7,485.5 894.2,485.5 894.8,485.5 895.3,485.5 895.8,485.5 896.3,485.5 896.9,485.5 897.4,485.5 897.9,485.5 898.4,485.4 898.9,485.4 899.5,485.4 900,485.4 900.5,485.4 901,485.4 901.5,485.4 902.1,485.4 902.6,485.4 903.1,485.4 903.6,485.3 904.2,485.3 904.7,485.3 905.2,485.3 905.7,485.3 906.2,485.3 906.8,485.3 907.3,485.3 907.8,485.3 908.3,485.3 908.9,485.2 909.4,485.2 909.9,485.2 910.4,485.2 910.9,485.2 911.5,485.2 912,485.2 912.5,485.2 913,485.2 913.6,485.1 914.1,485.1 914.6,485.1 915.1,485.1 915.6,485.1 916.2,485.1 916.7,485.1 917.2,485.1 917.7,485 918.2,485 918.8,485 919.3,485 919.8,485 920.3,485 920.9,485 921.4,485 921.9,484.9 922.4,484.9 922.9,484.9 923.5,484.9 924,484.9 924.5,484.9 925,484.9 925.6,484.9 926.1,484.8 926.6,484.8 927.1,484.8 927.6,484.8 928.2,484.8 928.7,484.8 929.2,484.8 929.7,484.7 930.3,484.7 930.8,484.7 931.3,484.7 931.8,484.7 932.3,484.7 932.9,484.6 933.4,484.6 933.9,484.6 934.4,484.6 935,484.6 935.5,484.6 936,484.5 936.5,484.5 937,484.5 937.6,484.5 938.1,484.5 938.6,484.5 939.1,484.4 939.6,484.4 940.2,484.4 940.7,484.4 941.2,484.4 941.7,484.4 942.3,484.3 942.8,484.3 943.3,484.3 943.8,484.3 944.3,484.3 944.9,484.3 945.4,484.2 945.9,484.2 946.4,484.2 947,484.2 947.5,484.2 948,484.1 948.5,484.1 949,484.1 949.6,484.1 950.1,484.1 950.6,484 951.1,484 951.6,484 952.2,484 952.7,483.9 953.2,483.9 953.7,483.9 954.3,483.9 954.8,483.9 955.3,483.8 955.8,483.8 956.3,483.8 956.9,483.8 957.4,483.7 957.9,483.7 958.4,483.7 959,483.7 959.5,483.7 960,483.6 960.5,483.6 961,483.6 961.6,483.6 962.1,483.5 962.6,483.5 963.1,483.5 963.7,483.4 964.2,483.4 964.7,483.4 965.2,483.4 965.7,483.3 966.3,483.3 966.8,483.3 967.3,483.3 967.8,483.2 968.4,483.2 968.9,483.2 969.4,483.1 969.9,483.1 970.4,483.1 971,483.1 971.5,483 972,483 972.5,483 973,482.9 973.6,482.9 974.1,482.9 974.6,482.8 975.1,482.8 975.7,482.8 976.2,482.7 976.7,482.7 977.2,482.7 977.7,482.6 978.3,482.6 978.8,482.6 979.3,482.5 979.8,482.5 980.4,482.5 980.9,482.4 981.4,482.4 981.9,482.4 982.4,482.3 983,482.3 983.5,482.2 984,482.2 984.5,482.2 985,482.1 985.6,482.1 986.1,482 986.6,482 987.1,482 987.7,481.9 988.2,481.9 988.7,481.8 989.2,481.8 989.7,481.7 990.3,481.7 990.8,481.6 991.3,481.6 991.8,481.6 992.4,481.5 992.9,481.5 993.4,481.4 993.9,481.4 994.4,481.3 995,481.3 995.5,481.2 996,481.2 996.5,481.1 997.1,481.1 997.6,481 998.1,481 998.6,480.9 999.1,480.8 999.7,480.8 1000.2,480.7 1000.7,480.7 1001.2,480.6 1001.8,480.6 1002.3,480.5 1002.8,480.4 1003.3,480.4 1003.8,480.3 1004.4,480.3 1004.9,480.2 1005.4,480.1 1005.9,480.1 1006.4,480 1007,479.9 1007.5,479.9 1008,479.8 1008.5,479.7 1009.1,479.7 1009.6,479.6 1010.1,479.5 1010.6,479.5 1011.1,479.4 1011.7,479.3 1012.2,479.2 1012.7,479.2 1013.2,479.1 1013.8,479 1014.3,478.9 1014.8,478.8 1015.3,478.8 1015.8,478.7 1016.4,478.6 1016.9,478.5 1017.4,478.4 1017.9,478.3 1018.5,478.2 1019,478.1 1019.5,478.1 1020,478 1020.5,477.9 1021.1,477.8 1021.6,477.7 1022.1,477.6 1022.6,477.5 1023.1,477.4 1023.7,477.3 1024.2,477.2 1024.7,477.1 1025.2,476.9 1025.8,476.8 1026.3,476.7 1026.8,476.6 1027.3,476.5 1027.8,476.4 1028.4,476.3 1028.9,476.1 1029.4,476 1029.9,475.9 1030.5,475.8 1031,475.6 1031.5,475.5 1032,475.4 1032.5,475.2 1033.1,475.1 1033.6,475 1034.1,474.8 1034.6,474.7 1035.2,474.5 1035.7,474.4 1036.2,474.2 1036.7,474.1 1037.2,473.9 1037.8,473.7 1038.3,473.6 1038.8,473.4 1039.3,473.2 1039.8,473.1 1040.4,472.9 1040.9,472.7 1041.4,472.5 1041.9,472.4 1042.5,472.2 1043,472 1043.5,471.8 1044,471.6 1044.5,471.4 1045.1,471.2 1045.6,471 1046.1,470.7 1046.6,470.5 1047.2,470.3 1047.7,470.1 1048.2,469.8 1048.7,469.6 1049.2,469.4 1049.8,469.1 1050.3,468.9 1050.8,468.6 1051.3,468.3 1051.8,468.1 1052.4,467.8 1052.9,467.5 1053.4,467.2 1053.9,467 1054.5,466.7 1055,466.4 1055.5,466 1056,465.7 1056.5,465.4 1057.1,465.1 1057.6,464.7 1058.1,464.4 1058.6,464 1059.2,463.7 1059.7,463.3 1060.2,462.9 1060.7,462.6 1061.2,462.2 1061.8,461.8 1062.3,461.3 1062.8,460.9 1063.3,460.5 1063.9,460 1064.4,459.6 1064.9,459.1 1065.4,458.6 1065.9,458.2 1066.5,457.7 1067,457.1 1067.5,456.6 1068,456.1 1068.5,455.5 1069.1,455 1069.6,454.4 1070.1,453.8 1070.6,453.2 1071.2,452.5 1071.7,451.9 1072.2,451.2 1072.7,450.5 1073.2,449.8 1073.8,449.1 1074.3,448.4 1074.8,447.6 1075.3,446.8 1075.9,446 1076.4,445.2 1076.9,444.3 1077.4,443.5 1077.9,442.6 1078.5,441.6 1079,440.7 1079.5,439.7 1080,438.7 1080.6,437.6 1081.1,436.5 1081.6,435.4 1082.1,434.3 1082.6,433.1 1083.2,431.8 1083.7,430.6 1084.2,429.3 1084.7,427.9 1085.2,426.5 1085.8,425.1 1086.3,423.6 1086.8,422.1 1087.3,420.5 1087.9,418.8 1088.4,417.1 1088.9,415.4 1089.4,413.5 1089.9,411.6 1090.5,409.7 1091,407.6 1091.5,405.5 1092,403.4 1092.6,401.1 1093.1,398.8 1093.6,396.3 1094.1,393.8 1094.6,391.2 1095.2,388.5 1095.7,385.6 1096.2,382.7 1096.7,379.7 1097.3,376.5 1097.8,373.2 1098.3,369.8 1098.8,366.3 1099.3,362.6 1099.9,358.8 1100.4,354.8 1100.9,350.7 1101.4,346.4 1102,341.9 1102.5,337.3 1103,332.5 1103.5,327.5 1104,322.3 1104.6,316.9 1105.1,311.3 1105.6,305.6 1106.1,299.6 1106.6,293.4 1107.2,286.9 1107.7,280.3 1108.2,273.5 1108.7,266.4 1109.3,259.1 1109.8,251.7 1110.3,244 1110.8,236.1 1111.3,228.1 1111.9,219.9 1112.4,211.6 1112.9,203.2 1113.4,194.7 1114,186.1 1114.5,177.5 1115,169 1115.5,160.5 1116,152.2 1116.6,144 1117.1,136.1 1117.6,128.4 1118.1,121.2 1118.7,114.3 1119.2,108 1119.7,102.2 1120.2,97 1120.7,92.5 1121.3,88.7 1121.8,85.7 1122.3,83.5 1122.8,82.1 1123.3,81.6 1123.9,82 1124.4,83.2 1124.9,85.2 1125.4,88.1 1126,91.7 1126.5,96.1 1127,101.1 1127.5,106.8 1128,113.1 1128.6,119.8 1129.1,127 1129.6,134.6 1130.1,142.5 1130.7,150.6 1131.2,158.9 1131.7,167.4 1132.2,175.9 1132.7,184.5 1133.3,193 1133.8,201.6 1134.3,210 1134.8,218.4 1135.3,226.6 1135.9,234.6 1136.4,242.5 1136.9,250.2 1137.4,257.7 1138,265 1138.5,272.1 1139,279 1139.5,285.7 1140,292.2 1140.6,298.4 1141.1,304.4 1141.6,310.3 1142.1,315.9 1142.7,321.3 1143.2,326.5 1143.7,331.5 1144.2,336.4 1144.7,341.1 1145.3,345.5 1145.8,349.9 1146.3,354 1146.8,358 1147.4,361.9 1147.9,365.6 1148.4,369.2 1148.9,372.6 1149.4,375.9 1150,379.1 1150.5,382.1 1151,385.1 1151.5,387.9 1152,390.7 1152.6,393.3 1153.1,395.8 1153.6,398.3 1154.1,400.7 1154.7,402.9 1155.2,405.1 1155.7,407.2 1156.2,409.3 1156.7,411.3 1157.3,413.2 1157.8,415 1158.3,416.8 1158.8,418.5 1159.4,420.2 1159.9,421.8 1160.4,423.3 1160.9,424.8 1161.4,426.3 1162,427.7 1162.5,429 1163,430.3 1163.5,431.6 1164.1,432.8 1164.6,434 1165.1,435.2 1165.6,436.3 1166.1,437.4 1166.7,438.5 1167.2,439.5 1167.7,440.5 1168.2,441.4 1168.8,442.4 1169.3,443.3 1169.8,444.2 1170.3,445 1170.8,445.9 1171.4,446.7 1171.9,447.5 1172.4,448.2 1172.9,449 1173.4,449.7 1174,450.4 1174.5,451.1 1175,451.8 1175.5,452.4 1176.1,453 1176.6,453.7 1177.1,454.3 1177.6,454.8 1178.1,455.4 1178.7,456 1179.2,456.5 1179.7,457 1180.2,457.6 1180.8,458.1 1181.3,458.6 1181.8,459 1182.3,459.5 1182.8,460 1183.4,460.4 1183.9,460.8 1184.4,461.3 1184.9,461.7 1185.5,462.1 1186,462.5 1186.5,462.9 1187,463.2 1187.5,463.6 1188.1,464 1188.6,464.3 1189.1,464.7 1189.6,465 1190.1,465.3 1190.7,465.7 1191.2,466 1191.7,466.3 1192.2,466.6 1192.8,466.9 1193.3,467.2 1193.8,467.5 1194.3,467.8 1194.8,468 1195.4,468.3 1195.9,468.6 1196.4,468.8 1196.9,469.1 1197.5,469.3 1198,469.6 1198.5,469.8 1199,470 1199.5,470.3 1200.1,470.5 1200.6,470.7 1201.1,470.9 1201.6,471.1 1202.2,471.3 1202.7,471.5 1203.2,471.7 1203.7,471.9 1204.2,472.1 1204.8,472.3 1205.3,472.5 1205.8,472.7 1206.3,472.9 1206.8,473 1207.4,473.2 1207.9,473.4 1208.4,473.6 1208.9,473.7 1209.5,473.9 1210,474 1210.5,474.2 1211,474.3 1211.5,474.5 1212.1,474.6 1212.6,474.8 1213.1,474.9 1213.6,475.1 1214.2,475.2 1214.7,475.3 1215.2,475.5 1215.7,475.6 1216.2,475.7 1216.8,475.9 1217.3,476 1217.8,476.1 1218.3,476.2 1218.8,476.4 1219.4,476.5 1219.9,476.6 1220.4,476.7 1220.9,476.8 1221.5,476.9 1222,477 1222.5,477.1 1223,477.2 1223.5,477.4 1224.1,477.5 1224.6,477.6 1225.1,477.7 1225.6,477.8 1226.2,477.8 1226.7,477.9 1227.2,478 1227.7,478.1 1228.2,478.2 1228.8,478.3 1229.3,478.4 1229.8,478.5 1230.3,478.6 1230.9,478.7 1231.4,478.7 1231.9,478.8 1232.4,478.9 1232.9,479 1233.5,479.1 1234,479.1 1234.5,479.2 1235,479.3 1235.5,479.4 1236.1,479.4 1236.6,479.5 1237.1,479.6 1237.6,479.7 1238.2,479.7 1238.7,479.8 1239.2,479.9 1239.7,479.9 1240.2,480 1240.8,480.1 1241.3,480.1 1241.8,480.2 1242.3,480.3 1242.9,480.3 1243.4,480.4 1243.9,480.4 1244.4,480.5 1244.9,480.6 1245.5,480.6 1246,480.7 1246.5,480.7 1247,480.8 1247.6,480.8 1248.1,480.9 1248.6,480.9 1249.1,481 1249.6,481.1 1250.2,481.1 1250.7,481.2 1251.2,481.2 1251.7,481.3 1252.2,481.3 1252.8,481.4 1253.3,481.4 1253.8,481.5 1254.3,481.5 1254.9,481.5 1255.4,481.6 1255.9,481.6 1256.4,481.7 1256.9,481.7 1257.5,481.8 1258,481.8 1258.5,481.9 1259,481.9 1259.6,481.9 1260.1,482 1260.6,482 1261.1,482.1 1261.6,482.1 1262.2,482.1 1262.7,482.2 1263.2,482.2 1263.7,482.3 1264.3,482.3 1264.8,482.3 1265.3,482.4 1265.8,482.4 1266.3,482.5 1266.9,482.5 1267.4,482.5 1267.9,482.6 1268.4,482.6 1269,482.6 1269.5,482.7 1270,482.7 1270.5,482.7 1271,482.8 1271.6,482.8 1272.1,482.8 1272.6,482.9 1273.1,482.9 1273.6,482.9 1274.2,483 1274.7,483 1275.2,483 1275.7,483.1 1276.3,483.1 1276.8,483.1 1277.3,483.1 1277.8,483.2 1278.3,483.2 1278.9,483.2 1279.4,483.3 1279.9,483.3 1280.4,483.3 1281,483.3 1281.5,483.4 1282,483.4 1282.5,483.4 1283,483.4 1283.6,483.5 1284.1,483.5 1284.6,483.5 1285.1,483.5 1285.7,483.6 1286.2,483.6 1286.7,483.6 1287.2,483.6 1287.7,483.7 1288.3,483.7 1288.8,483.7 1289.3,483.7 1289.8,483.8 1290.3,483.8 1290.9,483.8 1291.4,483.8 1291.9,483.9 1292.4,483.9 1293,483.9 1293.5,483.9 1294,483.9 1294.5,484 1295,484 1295.6,484 1296.1,484 1296.6,484 1297.1,484.1 1297.7,484.1 1298.2,484.1 1298.7,484.1 1299.2,484.2 1299.7,484.2 1300.3,484.2 1300.8,484.2 1301.3,484.2 1301.8,484.2 1302.3,484.3 1302.9,484.3 1303.4,484.3 1303.9,484.3 1304.4,484.3 1305,484.4 1305.5,484.4 1306,484.4 1306.5,484.4 1307,484.4 1307.6,484.4 1308.1,484.5 1308.6,484.5 1309.1,484.5 1309.7,484.5 1310.2,484.5 1310.7,484.5 1311.2,484.6 1311.7,484.6 1312.3,484.6 1312.8,484.6 1313.3,484.6 1313.8,484.6 1314.4,484.7 1314.9,484.7 1315.4,484.7 1315.9,484.7 1316.4,484.7 1317,484.7 1317.5,484.7 1318,484.8 1318.5,484.8 1319,484.8 1319.6,484.8 1320.1,484.8 1320.6,484.8 1321.1,484.8 1321.7,484.9 1322.2,484.9 1322.7,484.9 1323.2,484.9 1323.7,484.9 1324.3,484.9 1324.8,484.9 1325.3,485 1325.8,485 1326.4,485 1326.9,485 1327.4,485 1327.9,485 1328.4,485 1329,485 1329.5,485.1 1330,485.1 1330.5,485.1 1331.1,485.1 1331.6,485.1 1332.1,485.1 1332.6,485.1 1333.1,485.1 1333.7,485.2 1334.2,485.2 1334.7,485.2 1335.2,485.2 1335.8,485.2 1336.3,485.2 1336.8,485.2 1337.3,485.2 1337.8,485.2 1338.4,485.3 1338.9,485.3 1339.4,485.3 1339.9,485.3 1340.4,485.3 1341,485.3 1341.5,485.3 1342,485.3 1342.5,485.3 1343.1,485.3 1343.6,485.4 1344.1,485.4 1344.6,485.4 1345.1,485.4 1345.7,485.4 1346.2,485.4 1346.7,485.4 1347.2,485.4 1347.8,485.4 1348.3,485.4 1348.8,485.5 1349.3,485.5 1349.8,485.5 1350.4,485.5 1350.9,485.5 1351.4,485.5 1351.9,485.5 1352.4,485.5 1353,485.5 1353.5,485.5 1354,485.5 1354.5,485.6 1355.1,485.6 1355.6,485.6 1356.1,485.6 1356.6,485.6 1357.1,485.6 1357.7,485.6 1358.2,485.6 1358.7,485.6 1359.2,485.6 1359.8,485.6 1360.3,485.6 1360.8,485.7 1361.3,485.7 1361.8,485.7 1362.4,485.7 1362.9,485.7 1363.4,485.7 1363.9,485.7 1364.5,485.7 1365,485.7 1365.5,485.7 1366,485.7 1366.5,485.7 1367.1,485.7 1367.6,485.8 1368.1,485.8 1368.6,485.8 1369.2,485.8 1369.7,485.8 1370.2,485.8 1370.7,485.8 1371.2,485.8 1371.8,485.8 1372.3,485.8 1372.8,485.8 1373.3,485.8 1373.8,485.8 1374.4,485.8 1374.9,485.9 1375.4,485.9 1375.9,485.9 1376.5,485.9 1377,485.9 1377.5,485.9 1378,485.9 1378.5,485.9 1379.1,485.9 1379.6,485.9 1380.1,485.9 1380.6,485.9 1381.2,485.9 1381.7,485.9 1382.2,485.9 1382.7,486 1383.2,486 1383.8,486 1384.3,486 1384.8,486 1385.3,486 1385.8,486 1386.4,486 1386.9,486 1387.4,486 1387.9,486 1388.5,486 1389,486 1389.5,486 1390,486 1390.5,486 1391.1,486 1391.6,486.1 1392.1,486.1 1392.6,486.1 1393.2,486.1 1393.7,486.1 1394.2,486.1 1394.7,486.1 1395.2,486.1 1395.8,486.1 1396.3,486.1 1396.8,486.1 1397.3,486.1 1397.9,486.1 1398.4,486.1 1398.9,486.1 1399.4,486.1 1399.9,486.1 1400.5,486.1 1401,486.1 1401.5,486.2 1402,486.2 1402.5,486.2 1403.1,486.2 1403.6,486.2 1404.1,486.2 1404.6,486.2 1405.2,486.2 1405.7,486.2 1406.2,486.2 1406.7,486.2 1407.2,486.2 1407.8,486.2 1408.3,486.2 1408.8,486.2 1409.3,486.2 1409.9,486.2 1410.4,486.2 1410.9,486.2 1411.4,486.2" fill="none" stroke="#2a2a2a" stroke-width="1.7" stroke-linejoin="round" stroke-dasharray="0.1 6.9" stroke-linecap="round"/>
<polyline points="978.3,486.7 978.8,486.7 979.3,486.7 979.8,486.7 980.4,486.7 980.9,486.7 981.4,486.7 981.9,486.7 982.4,486.7 983,486.7 983.5,486.7 984,486.7 984.5,486.7 985,486.7 985.6,486.7 986.1,486.6 986.6,486.6 987.1,486.6 987.7,486.6 988.2,486.6 988.7,486.6 989.2,486.6 989.7,486.6 990.3,486.6 990.8,486.6 991.3,486.6 991.8,486.6 992.4,486.6 992.9,486.6 993.4,486.6 993.9,486.6 994.4,486.6 995,486.6 995.5,486.6 996,486.6 996.5,486.6 997.1,486.6 997.6,486.6 998.1,486.6 998.6,486.6 999.1,486.6 999.7,486.6 1000.2,486.5 1000.7,486.5 1001.2,486.5 1001.8,486.5 1002.3,486.5 1002.8,486.5 1003.3,486.5 1003.8,486.5 1004.4,486.5 1004.9,486.5 1005.4,486.5 1005.9,486.5 1006.4,486.5 1007,486.5 1007.5,486.5 1008,486.5 1008.5,486.5 1009.1,486.5 1009.6,486.5 1010.1,486.5 1010.6,486.5 1011.1,486.5 1011.7,486.5 1012.2,486.4 1012.7,486.4 1013.2,486.4 1013.8,486.4 1014.3,486.4 1014.8,486.4 1015.3,486.4 1015.8,486.4 1016.4,486.4 1016.9,486.4 1017.4,486.4 1017.9,486.4 1018.5,486.4 1019,486.4 1019.5,486.4 1020,486.4 1020.5,486.4 1021.1,486.4 1021.6,486.4 1022.1,486.4 1022.6,486.3 1023.1,486.3 1023.7,486.3 1024.2,486.3 1024.7,486.3 1025.2,486.3 1025.8,486.3 1026.3,486.3 1026.8,486.3 1027.3,486.3 1027.8,486.3 1028.4,486.3 1028.9,486.3 1029.4,486.3 1029.9,486.3 1030.5,486.3 1031,486.3 1031.5,486.2 1032,486.2 1032.5,486.2 1033.1,486.2 1033.6,486.2 1034.1,486.2 1034.6,486.2 1035.2,486.2 1035.7,486.2 1036.2,486.2 1036.7,486.2 1037.2,486.2 1037.8,486.2 1038.3,486.2 1038.8,486.2 1039.3,486.2 1039.8,486.1 1040.4,486.1 1040.9,486.1 1041.4,486.1 1041.9,486.1 1042.5,486.1 1043,486.1 1043.5,486.1 1044,486.1 1044.5,486.1 1045.1,486.1 1045.6,486.1 1046.1,486.1 1046.6,486 1047.2,486 1047.7,486 1048.2,486 1048.7,486 1049.2,486 1049.8,486 1050.3,486 1050.8,486 1051.3,486 1051.8,486 1052.4,486 1052.9,486 1053.4,485.9 1053.9,485.9 1054.5,485.9 1055,485.9 1055.5,485.9 1056,485.9 1056.5,485.9 1057.1,485.9 1057.6,485.9 1058.1,485.9 1058.6,485.9 1059.2,485.8 1059.7,485.8 1060.2,485.8 1060.7,485.8 1061.2,485.8 1061.8,485.8 1062.3,485.8 1062.8,485.8 1063.3,485.8 1063.9,485.8 1064.4,485.8 1064.9,485.7 1065.4,485.7 1065.9,485.7 1066.5,485.7 1067,485.7 1067.5,485.7 1068,485.7 1068.5,485.7 1069.1,485.7 1069.6,485.6 1070.1,485.6 1070.6,485.6 1071.2,485.6 1071.7,485.6 1072.2,485.6 1072.7,485.6 1073.2,485.6 1073.8,485.6 1074.3,485.5 1074.8,485.5 1075.3,485.5 1075.9,485.5 1076.4,485.5 1076.9,485.5 1077.4,485.5 1077.9,485.5 1078.5,485.4 1079,485.4 1079.5,485.4 1080,485.4 1080.6,485.4 1081.1,485.4 1081.6,485.4 1082.1,485.4 1082.6,485.3 1083.2,485.3 1083.7,485.3 1084.2,485.3 1084.7,485.3 1085.2,485.3 1085.8,485.3 1086.3,485.2 1086.8,485.2 1087.3,485.2 1087.9,485.2 1088.4,485.2 1088.9,485.2 1089.4,485.1 1089.9,485.1 1090.5,485.1 1091,485.1 1091.5,485.1 1092,485.1 1092.6,485 1093.1,485 1093.6,485 1094.1,485 1094.6,485 1095.2,485 1095.7,484.9 1096.2,484.9 1096.7,484.9 1097.3,484.9 1097.8,484.9 1098.3,484.9 1098.8,484.8 1099.3,484.8 1099.9,484.8 1100.4,484.8 1100.9,484.8 1101.4,484.7 1102,484.7 1102.5,484.7 1103,484.7 1103.5,484.7 1104,484.6 1104.6,484.6 1105.1,484.6 1105.6,484.6 1106.1,484.5 1106.6,484.5 1107.2,484.5 1107.7,484.5 1108.2,484.5 1108.7,484.4 1109.3,484.4 1109.8,484.4 1110.3,484.4 1110.8,484.3 1111.3,484.3 1111.9,484.3 1112.4,484.3 1112.9,484.2 1113.4,484.2 1114,484.2 1114.5,484.2 1115,484.1 1115.5,484.1 1116,484.1 1116.6,484.1 1117.1,484 1117.6,484 1118.1,484 1118.7,483.9 1119.2,483.9 1119.7,483.9 1120.2,483.8 1120.7,483.8 1121.3,483.8 1121.8,483.8 1122.3,483.7 1122.8,483.7 1123.3,483.7 1123.9,483.6 1124.4,483.6 1124.9,483.6 1125.4,483.5 1126,483.5 1126.5,483.5 1127,483.4 1127.5,483.4 1128,483.3 1128.6,483.3 1129.1,483.3 1129.6,483.2 1130.1,483.2 1130.7,483.2 1131.2,483.1 1131.7,483.1 1132.2,483 1132.7,483 1133.3,483 1133.8,482.9 1134.3,482.9 1134.8,482.8 1135.3,482.8 1135.9,482.7 1136.4,482.7 1136.9,482.6 1137.4,482.6 1138,482.6 1138.5,482.5 1139,482.5 1139.5,482.4 1140,482.4 1140.6,482.3 1141.1,482.3 1141.6,482.2 1142.1,482.1 1142.7,482.1 1143.2,482 1143.7,482 1144.2,481.9 1144.7,481.9 1145.3,481.8 1145.8,481.7 1146.3,481.7 1146.8,481.6 1147.4,481.6 1147.9,481.5 1148.4,481.4 1148.9,481.4 1149.4,481.3 1150,481.2 1150.5,481.2 1151,481.1 1151.5,481 1152,481 1152.6,480.9 1153.1,480.8 1153.6,480.7 1154.1,480.7 1154.7,480.6 1155.2,480.5 1155.7,480.4 1156.2,480.3 1156.7,480.3 1157.3,480.2 1157.8,480.1 1158.3,480 1158.8,479.9 1159.4,479.8 1159.9,479.7 1160.4,479.6 1160.9,479.5 1161.4,479.4 1162,479.3 1162.5,479.2 1163,479.1 1163.5,479 1164.1,478.9 1164.6,478.8 1165.1,478.7 1165.6,478.6 1166.1,478.5 1166.7,478.4 1167.2,478.2 1167.7,478.1 1168.2,478 1168.8,477.9 1169.3,477.7 1169.8,477.6 1170.3,477.5 1170.8,477.3 1171.4,477.2 1171.9,477 1172.4,476.9 1172.9,476.7 1173.4,476.6 1174,476.4 1174.5,476.3 1175,476.1 1175.5,475.9 1176.1,475.8 1176.6,475.6 1177.1,475.4 1177.6,475.2 1178.1,475.1 1178.7,474.9 1179.2,474.7 1179.7,474.5 1180.2,474.3 1180.8,474.1 1181.3,473.8 1181.8,473.6 1182.3,473.4 1182.8,473.2 1183.4,472.9 1183.9,472.7 1184.4,472.5 1184.9,472.2 1185.5,471.9 1186,471.7 1186.5,471.4 1187,471.1 1187.5,470.8 1188.1,470.6 1188.6,470.3 1189.1,469.9 1189.6,469.6 1190.1,469.3 1190.7,469 1191.2,468.6 1191.7,468.3 1192.2,467.9 1192.8,467.5 1193.3,467.2 1193.8,466.8 1194.3,466.4 1194.8,466 1195.4,465.5 1195.9,465.1 1196.4,464.6 1196.9,464.2 1197.5,463.7 1198,463.2 1198.5,462.7 1199,462.2 1199.5,461.6 1200.1,461.1 1200.6,460.5 1201.1,459.9 1201.6,459.3 1202.2,458.6 1202.7,458 1203.2,457.3 1203.7,456.6 1204.2,455.9 1204.8,455.1 1205.3,454.4 1205.8,453.5 1206.3,452.7 1206.8,451.9 1207.4,451 1207.9,450.1 1208.4,449.1 1208.9,448.1 1209.5,447.1 1210,446 1210.5,444.9 1211,443.8 1211.5,442.6 1212.1,441.3 1212.6,440 1213.1,438.7 1213.6,437.3 1214.2,435.9 1214.7,434.3 1215.2,432.8 1215.7,431.1 1216.2,429.4 1216.8,427.7 1217.3,425.8 1217.8,423.9 1218.3,421.9 1218.8,419.7 1219.4,417.5 1219.9,415.3 1220.4,412.9 1220.9,410.4 1221.5,407.7 1222,405 1222.5,402.1 1223,399.1 1223.5,396 1224.1,392.7 1224.6,389.3 1225.1,385.7 1225.6,382 1226.2,378.1 1226.7,373.9 1227.2,369.7 1227.7,365.2 1228.2,360.5 1228.8,355.6 1229.3,350.5 1229.8,345.2 1230.3,339.7 1230.9,333.9 1231.4,327.9 1231.9,321.7 1232.4,315.3 1232.9,308.6 1233.5,301.8 1234,294.8 1234.5,287.6 1235,280.2 1235.5,272.8 1236.1,265.2 1236.6,257.6 1237.1,250 1237.6,242.5 1238.2,235.1 1238.7,227.8 1239.2,220.8 1239.7,214.2 1240.2,207.9 1240.8,202.2 1241.3,197 1241.8,192.4 1242.3,188.6 1242.9,185.5 1243.4,183.3 1243.9,181.9 1244.4,181.4 1244.9,181.7 1245.5,183 1246,185.2 1246.5,188.1 1247,191.9 1247.6,196.3 1248.1,201.5 1248.6,207.1 1249.1,213.3 1249.6,219.9 1250.2,226.9 1250.7,234.1 1251.2,241.5 1251.7,249 1252.2,256.6 1252.8,264.2 1253.3,271.8 1253.8,279.2 1254.3,286.6 1254.9,293.8 1255.4,300.9 1255.9,307.7 1256.4,314.4 1256.9,320.9 1257.5,327.1 1258,333.1 1258.5,338.9 1259,344.5 1259.6,349.8 1260.1,354.9 1260.6,359.9 1261.1,364.6 1261.6,369.1 1262.2,373.4 1262.7,377.5 1263.2,381.5 1263.7,385.2 1264.3,388.8 1264.8,392.3 1265.3,395.6 1265.8,398.7 1266.3,401.7 1266.9,404.6 1267.4,407.4 1267.9,410 1268.4,412.5 1269,414.9 1269.5,417.2 1270,419.5 1270.5,421.6 1271,423.6 1271.6,425.5 1272.1,427.4 1272.6,429.2 1273.1,430.9 1273.6,432.6 1274.2,434.1 1274.7,435.7 1275.2,437.1 1275.7,438.5 1276.3,439.9 1276.8,441.2 1277.3,442.4 1277.8,443.6 1278.3,444.8 1278.9,445.9 1279.4,446.9 1279.9,448 1280.4,449 1281,449.9 1281.5,450.9 1282,451.7 1282.5,452.6 1283,453.4 1283.6,454.2 1284.1,455 1284.6,455.8 1285.1,456.5 1285.7,457.2 1286.2,457.9 1286.7,458.5 1287.2,459.2 1287.7,459.8 1288.3,460.4 1288.8,461 1289.3,461.5 1289.8,462.1 1290.3,462.6 1290.9,463.1 1291.4,463.6 1291.9,464.1 1292.4,464.6 1293,465 1293.5,465.5 1294,465.9 1294.5,466.3 1295,466.7 1295.6,467.1 1296.1,467.5 1296.6,467.9 1297.1,468.2 1297.7,468.6 1298.2,468.9 1298.7,469.3 1299.2,469.6 1299.7,469.9 1300.3,470.2 1300.8,470.5 1301.3,470.8 1301.8,471.1 1302.3,471.4 1302.9,471.6 1303.4,471.9 1303.9,472.2 1304.4,472.4 1305,472.7 1305.5,472.9 1306,473.1 1306.5,473.4 1307,473.6 1307.6,473.8 1308.1,474 1308.6,474.2 1309.1,474.4 1309.7,474.6 1310.2,474.8 1310.7,475 1311.2,475.2 1311.7,475.4 1312.3,475.6 1312.8,475.8 1313.3,475.9 1313.8,476.1 1314.4,476.3 1314.9,476.4 1315.4,476.6 1315.9,476.7 1316.4,476.9 1317,477 1317.5,477.2 1318,477.3 1318.5,477.4 1319,477.6 1319.6,477.7 1320.1,477.8 1320.6,478 1321.1,478.1 1321.7,478.2 1322.2,478.3 1322.7,478.5 1323.2,478.6 1323.7,478.7 1324.3,478.8 1324.8,478.9 1325.3,479 1325.8,479.1 1326.4,479.2 1326.9,479.3 1327.4,479.4 1327.9,479.5 1328.4,479.6 1329,479.7 1329.5,479.8 1330,479.9 1330.5,480 1331.1,480.1 1331.6,480.2 1332.1,480.2 1332.6,480.3 1333.1,480.4 1333.7,480.5 1334.2,480.6 1334.7,480.7 1335.2,480.7 1335.8,480.8 1336.3,480.9 1336.8,481 1337.3,481 1337.8,481.1 1338.4,481.2 1338.9,481.2 1339.4,481.3 1339.9,481.4 1340.4,481.4 1341,481.5 1341.5,481.6 1342,481.6 1342.5,481.7 1343.1,481.7 1343.6,481.8 1344.1,481.9 1344.6,481.9 1345.1,482 1345.7,482 1346.2,482.1 1346.7,482.1 1347.2,482.2 1347.8,482.2 1348.3,482.3 1348.8,482.3 1349.3,482.4 1349.8,482.4 1350.4,482.5 1350.9,482.5 1351.4,482.6 1351.9,482.6 1352.4,482.7 1353,482.7 1353.5,482.8 1354,482.8 1354.5,482.9 1355.1,482.9 1355.6,482.9 1356.1,483 1356.6,483 1357.1,483.1 1357.7,483.1 1358.2,483.2 1358.7,483.2 1359.2,483.2 1359.8,483.3 1360.3,483.3 1360.8,483.3 1361.3,483.4 1361.8,483.4 1362.4,483.5 1362.9,483.5 1363.4,483.5 1363.9,483.6 1364.5,483.6 1365,483.6 1365.5,483.7 1366,483.7 1366.5,483.7 1367.1,483.8 1367.6,483.8 1368.1,483.8 1368.6,483.8 1369.2,483.9 1369.7,483.9 1370.2,483.9 1370.7,484 1371.2,484 1371.8,484 1372.3,484 1372.8,484.1 1373.3,484.1 1373.8,484.1 1374.4,484.2 1374.9,484.2 1375.4,484.2 1375.9,484.2 1376.5,484.3 1377,484.3 1377.5,484.3 1378,484.3 1378.5,484.4 1379.1,484.4 1379.6,484.4 1380.1,484.4 1380.6,484.5 1381.2,484.5 1381.7,484.5 1382.2,484.5 1382.7,484.5 1383.2,484.6 1383.8,484.6 1384.3,484.6 1384.8,484.6 1385.3,484.7 1385.8,484.7 1386.4,484.7 1386.9,484.7 1387.4,484.7 1387.9,484.8 1388.5,484.8 1389,484.8 1389.5,484.8 1390,484.8 1390.5,484.8 1391.1,484.9 1391.6,484.9 1392.1,484.9 1392.6,484.9 1393.2,484.9 1393.7,485 1394.2,485 1394.7,485 1395.2,485 1395.8,485 1396.3,485 1396.8,485.1 1397.3,485.1 1397.9,485.1 1398.4,485.1 1398.9,485.1 1399.4,485.1 1399.9,485.2 1400.5,485.2 1401,485.2 1401.5,485.2 1402,485.2 1402.5,485.2 1403.1,485.2 1403.6,485.3 1404.1,485.3 1404.6,485.3 1405.2,485.3 1405.7,485.3 1406.2,485.3 1406.7,485.3 1407.2,485.4 1407.8,485.4 1408.3,485.4 1408.8,485.4 1409.3,485.4 1409.9,485.4 1410.4,485.4 1410.9,485.5 1411.4,485.5" fill="none" stroke="#2a2a2a" stroke-width="1.7" stroke-linejoin="round" stroke-dasharray="0.1 6.9" stroke-linecap="round"/>
<rect x="834.8" y="18" width="626.2" height="485.5" fill="none" stroke="#424242" stroke-width="2"/>
<path d="M834.8 503.5v8.5M886.9 503.5v3.5M939.1 503.5v8.5M991.3 503.5v3.5M1043.5 503.5v8.5M1095.7 503.5v3.5M1147.9 503.5v8.5M1200.1 503.5v3.5M1252.2 503.5v8.5M1304.4 503.5v3.5M1356.6 503.5v8.5M1408.8 503.5v3.5M1461 503.5v8.5" stroke="#424242" stroke-width="2" fill="none"/>
<text x="813.66" y="537.80" font-size="23.7" font-weight="normal" fill="#000" stroke="#000" stroke-width="1" stroke-linejoin="round" letter-spacing="1.3">800</text>
<text x="910.39" y="537.80" font-size="23.7" font-weight="normal" fill="#000" stroke="#000" stroke-width="1" stroke-linejoin="round" letter-spacing="1.3">1000</text>
<text x="1014.77" y="537.80" font-size="23.7" font-weight="normal" fill="#000" stroke="#000" stroke-width="1" stroke-linejoin="round" letter-spacing="1.3">1200</text>
<text x="1119.14" y="537.80" font-size="23.7" font-weight="normal" fill="#000" stroke="#000" stroke-width="1" stroke-linejoin="round" letter-spacing="1.3">1400</text>
<text x="1223.52" y="537.80" font-size="23.7" font-weight="normal" fill="#000" stroke="#000" stroke-width="1" stroke-linejoin="round" letter-spacing="1.3">1600</text>
<text x="1327.89" y="537.80" font-size="23.7" font-weight="normal" fill="#000" stroke="#000" stroke-width="1" stroke-linejoin="round" letter-spacing="1.3">1800</text>
<text x="1432.57" y="537.80" font-size="23.7" font-weight="normal" fill="#000" stroke="#000" stroke-width="1" stroke-linejoin="round" letter-spacing="1.3">2000</text>
<text transform="translate(1021.92 587.00) scale(0.9567 1.0000)" font-size="29.5" font-weight="bold" fill="#000" xml:space="preserve">Raman shift (cm<tspan font-size="14.8"> </tspan><tspan font-size="19.5" dy="-11.8">-1</tspan><tspan dy="11.8">)</tspan></text>
<text transform="translate(794.35 334.70) rotate(-90) scale(0.9545 0.9600)" font-size="29" font-weight="bold" fill="#000" xml:space="preserve">Intensity (a.u.)</text>
<text transform="translate(1414.32 71.00) scale(1.0242 1.0000)" font-size="29" font-weight="bold" fill="#000" xml:space="preserve">b</text>
<text transform="translate(877.30 80.40) scale(0.9394 1.0000)" font-size="30" font-weight="bold" fill="#000" xml:space="preserve">3 Hours</text>
</g>
<g>
<polyline points="82,1115.5 82.5,1115.2 83.1,1114.4 83.6,1112.6 84.1,1113.2 84.6,1113.7 85.2,1113.9 85.7,1113.5 86.2,1113.8 86.8,1113.6 87.3,1112.7 87.8,1114.3 88.3,1115.1 88.9,1115.5 89.4,1114.6 89.9,1113.5 90.5,1113.2 91,1112.2 91.5,1114.1 92.1,1113.1 92.6,1112.2 93.1,1113 93.6,1114.9 94.2,1114.4 94.7,1112.7 95.2,1112.5 95.8,1113.8 96.3,1113.5 96.8,1112.7 97.3,1112.9 97.9,1113.9 98.4,1115.3 98.9,1112.9 99.5,1112.2 100,1112.2 100.5,1110.6 101,1111.3 101.6,1111.7 102.1,1113.6 102.6,1113.2 103.2,1111.3 103.7,1112.7 104.2,1112.7 104.8,1111 105.3,1111.4 105.8,1111.8 106.3,1111.5 106.9,1112.2 107.4,1110.4 107.9,1111.2 108.5,1113.1 109,1113.4 109.5,1113.5 110,1113.5 110.6,1113.8 111.1,1111.6 111.6,1112.3 112.2,1110.5 112.7,1110.5 113.2,1109.8 113.8,1111.9 114.3,1113.2 114.8,1111.9 115.3,1113 115.9,1111.5 116.4,1111.2 116.9,1111.5 117.5,1110.3 118,1111.1 118.5,1113 119,1110.8 119.6,1111.3 120.1,1111.1 120.6,1112.3 121.2,1111.8 121.7,1111.4 122.2,1111.4 122.7,1111 123.3,1109.2 123.8,1111.1 124.3,1109.6 124.9,1109.9 125.4,1110.8 125.9,1109.5 126.5,1109.8 127,1111 127.5,1110.3 128,1108.9 128.6,1106.6 129.1,1107.6 129.6,1108.6 130.2,1108.7 130.7,1108.3 131.2,1109.3 131.7,1108.8 132.3,1108.8 132.8,1109.7 133.3,1108.5 133.9,1108.3 134.4,1110.7 134.9,1110.4 135.4,1107.8 136,1108 136.5,1109 137,1109.8 137.6,1109 138.1,1107.9 138.6,1107.3 139.2,1108.4 139.7,1108.6 140.2,1107.6 140.7,1107.5 141.3,1107.4 141.8,1108.3 142.3,1107.3 142.9,1107.8 143.4,1108.5 143.9,1108.2 144.4,1106.8 145,1108.2 145.5,1107.1 146,1107.2 146.6,1106.5 147.1,1105 147.6,1106.4 148.1,1107.2 148.7,1106.8 149.2,1106.9 149.7,1106.1 150.3,1105.5 150.8,1105.9 151.3,1108.1 151.8,1107.8 152.4,1106 152.9,1106.4 153.4,1105.8 154,1105.3 154.5,1106.5 155,1105.6 155.6,1103.9 156.1,1104.1 156.6,1105.3 157.1,1105.6 157.7,1106.6 158.2,1105.1 158.7,1105.6 159.3,1105.9 159.8,1105.1 160.3,1105.8 160.8,1105.8 161.4,1104.2 161.9,1105.5 162.4,1104 163,1104.2 163.5,1104.6 164,1104.9 164.6,1103.9 165.1,1104 165.6,1104.1 166.1,1105.1 166.7,1103.7 167.2,1103.7 167.7,1103.7 168.3,1102.5 168.8,1105.8 169.3,1104.7 169.8,1102.1 170.4,1104.3 170.9,1103 171.4,1103.3 172,1104.3 172.5,1102.9 173,1102.4 173.5,1102.3 174.1,1102.6 174.6,1101.2 175.1,1100.9 175.7,1102.1 176.2,1103.6 176.7,1103.7 177.2,1104.5 177.8,1103.9 178.3,1102.1 178.8,1101.9 179.4,1100.1 179.9,1100.3 180.4,1096.9 181,1101.8 181.5,1102.6 182,1101.5 182.5,1100.9 183.1,1099.8 183.6,1100.8 184.1,1101.7 184.7,1102 185.2,1100.7 185.7,1102.9 186.2,1103.2 186.8,1101.5 187.3,1100.4 187.8,1100.3 188.4,1100.8 188.9,1100.8 189.4,1101.1 189.9,1101.5 190.5,1102.2 191,1102.2 191.5,1100.7 192.1,1100.5 192.6,1099.9 193.1,1099.2 193.7,1101.6 194.2,1100.2 194.7,1101.6 195.2,1100.2 195.8,1099.7 196.3,1100.7 196.8,1099.9 197.4,1099.7 197.9,1099.1 198.4,1098.4 198.9,1098.6 199.5,1098.1 200,1100.2 200.5,1099.2 201.1,1100.3 201.6,1096.4 202.1,1097.1 202.7,1098.8 203.2,1098 203.7,1099 204.2,1099 204.8,1097.7 205.3,1097.9 205.8,1100.7 206.4,1098.9 206.9,1097.7 207.4,1096.8 207.9,1096.9 208.5,1095.5 209,1095.9 209.5,1099.1 210.1,1098.7 210.6,1097.4 211.1,1097.6 211.6,1098.5 212.2,1097.3 212.7,1098.2 213.2,1097.6 213.8,1096 214.3,1097.1 214.8,1097.3 215.3,1093 215.9,1094.6 216.4,1093.5 216.9,1093.6 217.5,1093.2 218,1092.8 218.5,1096.3 219.1,1095.4 219.6,1093.4 220.1,1094.4 220.6,1093.1 221.2,1093.4 221.7,1093.1 222.2,1094.1 222.8,1091 223.3,1091.8 223.8,1091.9 224.3,1089.8 224.9,1091.5 225.4,1090.1 225.9,1091.7 226.5,1091.4 227,1090.8 227.5,1089.9 228.1,1090.3 228.6,1087.2 229.1,1087.7 229.6,1087.6 230.2,1088 230.7,1087.8 231.2,1088 231.8,1086.3 232.3,1088.5 232.8,1090.1 233.3,1087 233.9,1085.6 234.4,1085.7 234.9,1086.7 235.5,1087.6 236,1083.8 236.5,1082.6 237,1082 237.6,1081.3 238.1,1080.2 238.6,1082 239.2,1080.8 239.7,1082.9 240.2,1083.2 240.8,1080.2 241.3,1078.7 241.8,1078.9 242.3,1081.2 242.9,1079.1 243.4,1076.7 243.9,1077.8 244.5,1078.7 245,1077.2 245.5,1079.2 246,1078.3 246.6,1077.5 247.1,1075.5 247.6,1075.5 248.2,1075.4 248.7,1072.3 249.2,1074.1 249.7,1072.4 250.3,1073.2 250.8,1072 251.3,1075.4 251.9,1074.8 252.4,1074.3 252.9,1074.4 253.4,1071.2 254,1068.4 254.5,1070.1 255,1072.6 255.6,1072 256.1,1072.2 256.6,1072.6 257.2,1069.2 257.7,1070 258.2,1073.1 258.7,1070.5 259.3,1067 259.8,1068.4 260.3,1068.9 260.9,1069.9 261.4,1068.5 261.9,1069 262.4,1066.4 263,1069.1 263.5,1071.7 264,1071.7 264.6,1067.7 265.1,1068.5 265.6,1065.2 266.1,1067.6 266.7,1069 267.2,1067.5 267.7,1068.8 268.3,1069.3 268.8,1070.2 269.3,1069.6 269.9,1069.3 270.4,1066.4 270.9,1066.2 271.4,1067.6 272,1069.1 272.5,1069.1 273,1070.9 273.6,1068.6 274.1,1068.1 274.6,1069.1 275.1,1068.8 275.7,1069.5 276.2,1068.4 276.7,1070.5 277.3,1069.2 277.8,1070.1 278.3,1069.4 278.9,1070.7 279.4,1067.7 279.9,1068.5 280.4,1068.3 281,1068.5 281.5,1070.1 282,1067.4 282.6,1065.7 283.1,1065.9 283.6,1067.7 284.1,1065.4 284.7,1066.7 285.2,1065.8 285.7,1065 286.3,1065.9 286.8,1067.2 287.3,1066.1 287.8,1065.5 288.4,1065.9 288.9,1065.6 289.4,1062 290,1063.4 290.5,1065.1 291,1066.5 291.6,1068.1 292.1,1066.4 292.6,1064.5 293.1,1062.4 293.7,1062.9 294.2,1064.1 294.7,1064.8 295.3,1061.7 295.8,1061.6 296.3,1062.6 296.8,1064 297.4,1060 297.9,1059.4 298.4,1058.3 299,1058.2 299.5,1057.5 300,1058.9 300.5,1059.6 301.1,1058.7 301.6,1058.7 302.1,1056 302.7,1055.7 303.2,1054.5 303.7,1054 304.2,1055.4 304.8,1053.7 305.3,1049.6 305.8,1050.2 306.4,1049.9 306.9,1047.7 307.4,1047.6 308,1049.9 308.5,1051.4 309,1048 309.5,1048.1 310.1,1048.5 310.6,1044.4 311.1,1043.8 311.7,1043.8 312.2,1043.3 312.7,1040 313.2,1039.9 313.8,1042 314.3,1042.4 314.8,1042.6 315.4,1038.8 315.9,1039.9 316.4,1038.6 317,1033.8 317.5,1034.8 318,1033.6 318.5,1033.3 319.1,1032 319.6,1032.7 320.1,1031.1 320.7,1028.6 321.2,1029.2 321.7,1028 322.2,1025.4 322.8,1026.6 323.3,1024.1 323.8,1021.5 324.4,1020.4 324.9,1017.9 325.4,1017.6 325.9,1021.1 326.5,1017.2 327,1015.6 327.5,1013.2 328.1,1012.1 328.6,1014.8 329.1,1014.1 329.6,1009.9 330.2,1008.7 330.7,1006.5 331.2,1004.6 331.8,1003.2 332.3,1001.8 332.8,1002.5 333.4,1002.6 333.9,1001.2 334.4,998.6 334.9,994.6 335.5,994.4 336,992.4 336.5,993.4 337.1,992.6 337.6,991.1 338.1,987.7 338.6,982.5 339.2,984.7 339.7,985.5 340.2,979 340.8,978 341.3,979.3 341.8,974 342.4,975.4 342.9,971.7 343.4,966.5 343.9,968.2 344.5,965.9 345,960.9 345.5,960.6 346.1,953.9 346.6,956.2 347.1,951.6 347.6,948.7 348.2,945.4 348.7,943.5 349.2,942 349.8,935.8 350.3,934.3 350.8,930.1 351.3,924.8 351.9,921.7 352.4,916.7 352.9,912.5 353.5,912.3 354,907.4 354.5,904.8 355.1,900 355.6,891.6 356.1,883.6 356.6,880.4 357.2,878.5 357.7,873.6 358.2,866.2 358.8,863.9 359.3,853.8 359.8,846.4 360.3,844.1 360.9,844.1 361.4,835.9 361.9,824.5 362.5,820.4 363,815.7 363.5,809.9 364,800.3 364.6,791.3 365.1,786.5 365.6,781.6 366.2,778.3 366.7,774.3 367.2,761.4 367.8,752.6 368.3,748 368.8,742.2 369.3,738.3 369.9,733.9 370.4,728.4 370.9,726.5 371.5,719.7 372,712 372.5,706.4 373,704.6 373.6,703 374.1,699.1 374.6,703.9 375.2,705.1 375.7,701.2 376.2,695.7 376.7,697.6 377.3,703.3 377.8,713.7 378.3,708.9 378.9,713.8 379.4,721.7 379.9,724.9 380.4,727.5 381,734.5 381.5,736 382,743.5 382.6,753.1 383.1,753.4 383.6,757.1 384.2,765.6 384.7,774.8 385.2,782.5 385.7,787.3 386.3,789.2 386.8,792.7 387.3,801.4 387.9,809 388.4,811.3 388.9,818.1 389.4,825.5 390,832.7 390.5,833.9 391,840.5 391.6,843 392.1,847.8 392.6,854 393.1,862.4 393.7,872.3 394.2,871.3 394.7,872.9 395.3,878.2 395.8,877.2 396.3,882.1 396.9,884.4 397.4,892.2 397.9,897.7 398.4,898.7 399,898.1 399.5,905.2 400,907.3 400.6,908.6 401.1,912.2 401.6,910.6 402.1,915.6 402.7,921.3 403.2,923 403.7,924.5 404.3,924.6 404.8,929.3 405.3,934.9 405.9,942.8 406.4,939.4 406.9,939.6 407.4,943.9 408,944.8 408.5,947.4 409,950.9 409.6,954 410.1,953.8 410.6,954 411.1,955.4 411.7,958.2 412.2,961.7 412.7,965 413.3,964.8 413.8,966.9 414.3,967.2 414.8,972.5 415.4,973.2 415.9,975.1 416.4,975.6 417,977.4 417.5,978.8 418,984.6 418.6,985.7 419.1,985.4 419.6,985.2 420.1,986.8 420.7,990.7 421.2,995.1 421.7,991.9 422.3,991.8 422.8,994.9 423.3,996 423.8,995.1 424.4,998.5 424.9,1002.1 425.4,999.8 426,1002.2 426.5,1005.9 427,1007.4 427.5,1006 428.1,1010.5 428.6,1010.3 429.1,1007.6 429.7,1010.4 430.2,1008.8 430.7,1011.4 431.2,1009.8 431.8,1012.3 432.3,1012.1 432.8,1014.4 433.4,1015.5 433.9,1015.2 434.4,1014.7 435,1016.5 435.5,1012.7 436,1014.7 436.5,1016.5 437.1,1017 437.6,1017.7 438.1,1022.8 438.7,1019 439.2,1017.7 439.7,1017.2 440.2,1019.2 440.8,1014.3 441.3,1017.9 441.8,1016.6 442.4,1012.2 442.9,1013 443.4,1015.3 443.9,1016.5 444.5,1016.3 445,1017.4 445.5,1016.6 446.1,1015.8 446.6,1012.2 447.1,1015 447.7,1017.7 448.2,1015.6 448.7,1012.1 449.2,1011.8 449.8,1017.1 450.3,1015.4 450.8,1013.6 451.4,1013.3 451.9,1015.6 452.4,1014.5 452.9,1013.2 453.5,1011.9 454,1013.7 454.5,1016.6 455.1,1015.4 455.6,1016.3 456.1,1015.9 456.6,1015.3 457.2,1015.3 457.7,1015.1 458.2,1016.6 458.8,1016.4 459.3,1014.1 459.8,1014.5 460.4,1014.5 460.9,1015.2 461.4,1014.9 461.9,1014.9 462.5,1011.7 463,1013.2 463.5,1015.7 464.1,1011.6 464.6,1014.2 465.1,1013.7 465.6,1011.5 466.2,1007.9 466.7,1011 467.2,1008.9 467.8,1007.5 468.3,1008.8 468.8,1006 469.4,1004 469.9,1002.7 470.4,1003.2 470.9,1004 471.5,1002.9 472,1001.4 472.5,998.7 473.1,997.4 473.6,994.7 474.1,997 474.6,994 475.2,986.8 475.7,984.6 476.2,987.9 476.8,982.3 477.3,979.1 477.8,978.8 478.3,973.9 478.9,973.9 479.4,973.7 479.9,966.3 480.5,964.6 481,958.9 481.5,953.3 482.1,951.8 482.6,948.8 483.1,942.9 483.6,940.7 484.2,932.7 484.7,927.2 485.2,922.4 485.8,920.8 486.3,917.3 486.8,911.6 487.3,901.8 487.9,897.2 488.4,893.3 488.9,883.1 489.5,876.7 490,874.4 490.5,869.6 491,862.3 491.6,856.1 492.1,849.5 492.6,842.6 493.2,835.5 493.7,827.3 494.2,822.1 494.8,816.6 495.3,817.4 495.8,810.1 496.3,802.5 496.9,797.3 497.4,793.3 497.9,789.5 498.5,788.4 499,785.3 499.5,784.9 500,780.7 500.6,780.8 501.1,782.9 501.6,778.7 502.2,780.5 502.7,783.3 503.2,783.5 503.7,784.5 504.3,783.1 504.8,791.5 505.3,792.2 505.9,792 506.4,799 506.9,797.6 507.4,804.3 508,808.2 508.5,810.1 509,810.2 509.6,808.3 510.1,806.6 510.6,814.6 511.2,813.7 511.7,811.6 512.2,816.4 512.7,813.1 513.3,811.8 513.8,812.6 514.3,813.9 514.9,813.9 515.4,817.2 515.9,826.5 516.4,832.9 517,830.7 517.5,837.6 518,853 518.6,864 519.1,873.2 519.6,886.4 520.2,891.9 520.7,905.7 521.2,915.9 521.7,925.1 522.3,933.8 522.8,943.1 523.3,949.3 523.9,955.3 524.4,964.5 524.9,970.9 525.4,973.9 526,983.3 526.5,990.5 527,995.8 527.6,1001 528.1,1002.3 528.6,1005.4 529.1,1007.9 529.7,1013.1 530.2,1017.6 530.7,1019.7 531.3,1026.5 531.8,1025.8 532.3,1021.6 532.9,1031.3 533.4,1037.2 533.9,1038.7 534.4,1040.1 535,1041.6 535.5,1043.7 536,1045.2 536.6,1050.5 537.1,1053.4 537.6,1055.6 538.1,1055.4 538.7,1060.8 539.2,1059.5 539.7,1057.6 540.3,1061.1 540.8,1064.4 541.3,1067 541.8,1066.5 542.4,1069.1 542.9,1072.9 543.4,1071.4 544,1071.4 544.5,1071.5 545,1074.7 545.5,1077.7 546.1,1079.1 546.6,1080.2 547.1,1082 547.7,1081.6 548.2,1082.9 548.7,1081.8 549.3,1081.8 549.8,1084 550.3,1084 550.8,1085.9 551.4,1088.3 551.9,1088.2 552.4,1087 553,1086.9 553.5,1090 554,1089 554.5,1085.7 555.1,1090 555.6,1090.6 556.1,1092.4 556.7,1091.3 557.2,1089.8 557.7,1093 558.2,1093.3 558.8,1093.5 559.3,1093.2 559.8,1093.9 560.4,1095.1 560.9,1095.6 561.4,1093.9 562,1093.1 562.5,1094.1 563,1094.3 563.5,1094.7 564.1,1093.5 564.6,1091.1 565.1,1093.5 565.7,1095.3 566.2,1095.4 566.7,1096.5 567.2,1096.1 567.8,1094.3 568.3,1095.3 568.8,1094.7 569.4,1095.7 569.9,1095.2 570.4,1094.9 571,1094.8 571.5,1094.5 572,1092.6 572.5,1093.6 573.1,1091.7 573.6,1093.7 574.1,1095.6 574.7,1097 575.2,1095.6 575.7,1093.6 576.2,1092.1 576.8,1095.6 577.3,1093.5 577.8,1094.5 578.4,1092 578.9,1093 579.4,1094.9 579.9,1094.8 580.5,1094.3 581,1093.2 581.5,1092.8 582.1,1094.9 582.6,1095.2 583.1,1094.3 583.7,1094.4 584.2,1093.4 584.7,1095 585.2,1096.2 585.8,1094.1 586.3,1094.1 586.8,1095.6 587.4,1094.2 587.9,1096.4 588.4,1097.1 588.9,1095 589.5,1095.5 590,1096.9 590.5,1094.1 591.1,1094.8 591.6,1094.9 592.1,1094.5 592.6,1095.5 593.2,1094.7 593.7,1093.3 594.2,1092.9 594.8,1094.4 595.3,1095.8 595.8,1095.4 596.4,1095.1 596.9,1095.2 597.4,1096.7 597.9,1096.5 598.5,1094.9 599,1094.9 599.5,1096.7 600.1,1095.6 600.6,1095 601.1,1095.6 601.6,1094.7 602.2,1096.4 602.7,1094.1 603.2,1096.6 603.8,1096.3 604.3,1094.7 604.8,1096 605.3,1094.7 605.9,1096.2 606.4,1097.5 606.9,1096.3 607.5,1095.9 608,1097.5 608.5,1096.5 609,1096.5 609.6,1097.3 610.1,1098.7 610.6,1097.2 611.2,1096.9 611.7,1098.4 612.2,1095.2 612.8,1096 613.3,1095.4 613.8,1094.8 614.3,1098.8 614.9,1098.7 615.4,1099.3 615.9,1098.2 616.5,1098.4 617,1097.8 617.5,1097.4 618,1097.9 618.6,1098.4 619.1,1099.9 619.6,1098.9 620.2,1098.8 620.7,1098.5 621.2,1098.8 621.8,1097.6 622.3,1099.4 622.8,1098.9 623.3,1098.9 623.9,1099 624.4,1100.2 624.9,1100.3 625.5,1099.7 626,1099.7 626.5,1100.1 627,1100.6 627.6,1100.7 628.1,1101.4 628.6,1102.1 629.2,1101.4 629.7,1099.2 630.2,1101.5 630.7,1103.2 631.3,1101 631.8,1100 632.3,1098.5 632.9,1100.7 633.4,1100.2 633.9,1102.3 634.5,1099.4 635,1100.2 635.5,1101.9 636,1101.3 636.6,1100.5 637.1,1101.5 637.6,1101.2 638.2,1101.2 638.7,1101.6 639.2,1101.4 639.7,1101.6 640.3,1102.8 640.8,1102.1 641.3,1102.3 641.9,1101.7 642.4,1100.8 642.9,1101.7 643.4,1103 644,1100.2 644.5,1100.7 645,1101 645.6,1103.3 646.1,1103.7 646.6,1102 647.1,1102.1 647.7,1104.3 648.2,1103.9 648.7,1103.9 649.3,1102.3 649.8,1101.6 650.3,1103.6 650.9,1106.1 651.4,1104.2 651.9,1104.2 652.4,1103.3 653,1104.9 653.5,1104.2 654,1103.6 654.6,1102.3 655.1,1103.1 655.6,1104.4 656.1,1105.8 656.7,1103.9 657.2,1105 657.7,1104.7 658.3,1104.3 658.8,1103.7 659.3,1102.8 659.9,1103 660.4,1105.9 660.9,1104.5 661.4,1104.1 662,1105.9 662.5,1103.6 663,1104.7 663.6,1104.9 664.1,1105.2 664.6,1106.2 665.1,1105.6 665.7,1107.8 666.2,1106 666.7,1106.4" fill="none" stroke="#000" stroke-width="1.5" stroke-linejoin="round"/>
<polyline points="82,1108.2 83.1,1108.2 84.1,1108.1 85.2,1108.1 86.2,1108.1 87.3,1108 88.3,1108 89.4,1108 90.5,1107.9 91.5,1107.9 92.6,1107.9 93.6,1107.8 94.7,1107.8 95.8,1107.8 96.8,1107.7 97.9,1107.7 98.9,1107.6 100,1107.6 101,1107.6 102.1,1107.5 103.2,1107.5 104.2,1107.4 105.3,1107.4 106.3,1107.3 107.4,1107.3 108.5,1107.2 109.5,1107.2 110.6,1107.1 111.6,1107.1 112.7,1107 113.8,1107 114.8,1106.9 115.9,1106.9 116.9,1106.8 118,1106.8 119,1106.7 120.1,1106.7 121.2,1106.6 122.2,1106.6 123.3,1106.5 124.3,1106.4 125.4,1106.4 126.5,1106.3 127.5,1106.2 128.6,1106.2 129.6,1106.1 130.7,1106 131.7,1106 132.8,1105.9 133.9,1105.8 134.9,1105.8 136,1105.7 137,1105.6 138.1,1105.5 139.2,1105.5 140.2,1105.4 141.3,1105.3 142.3,1105.2 143.4,1105.1 144.4,1105.1 145.5,1105 146.6,1104.9 147.6,1104.8 148.7,1104.7 149.7,1104.6 150.8,1104.6 151.8,1104.5 152.9,1104.4 154,1104.3 155,1104.2 156.1,1104.1 157.1,1104 158.2,1103.9 159.3,1103.8 160.3,1103.7 161.4,1103.6 162.4,1103.5 163.5,1103.4 164.6,1103.3 165.6,1103.2 166.7,1103.1 167.7,1102.9 168.8,1102.8 169.8,1102.7 170.9,1102.6 172,1102.5 173,1102.4 174.1,1102.2 175.1,1102.1 176.2,1102 177.2,1101.9 178.3,1101.8 179.4,1101.6 180.4,1101.5 181.5,1101.4 182.5,1101.2 183.6,1101.1 184.7,1100.9 185.7,1100.8 186.8,1100.7 187.8,1100.5 188.9,1100.4 189.9,1100.2 191,1100.1 192.1,1099.9 193.1,1099.7 194.2,1099.6 195.2,1099.4 196.3,1099.2 197.4,1099 198.4,1098.8 199.5,1098.7 200.5,1098.5 201.6,1098.2 202.7,1098 203.7,1097.8 204.8,1097.6 205.8,1097.3 206.9,1097.1 207.9,1096.8 209,1096.6 210.1,1096.3 211.1,1096 212.2,1095.7 213.2,1095.4 214.3,1095 215.3,1094.7 216.4,1094.3 217.5,1094 218.5,1093.6 219.6,1093.1 220.6,1092.7 221.7,1092.3 222.8,1091.8 223.8,1091.3 224.9,1090.8 225.9,1090.3 227,1089.7 228.1,1089.1 229.1,1088.6 230.2,1088 231.2,1087.3 232.3,1086.7 233.3,1086 234.4,1085.3 235.5,1084.6 236.5,1083.9 237.6,1083.2 238.6,1082.4 239.7,1081.7 240.8,1080.9 241.8,1080.2 242.9,1079.4 243.9,1078.6 245,1077.9 246,1077.1 247.1,1076.4 248.2,1075.6 249.2,1074.9 250.3,1074.2 251.3,1073.6 252.4,1073 253.4,1072.4 254.5,1071.8 255.6,1071.3 256.6,1070.9 257.7,1070.5 258.7,1070.1 259.8,1069.8 260.9,1069.6 261.9,1069.4 263,1069.2 264,1069.1 265.1,1069 266.1,1068.9 267.2,1068.9 268.3,1068.9 269.3,1068.9 270.4,1068.9 271.4,1068.9 272.5,1068.9 273.6,1068.9 274.6,1068.9 275.7,1068.9 276.7,1068.9 277.8,1068.8 278.9,1068.7 279.9,1068.6 281,1068.5 282,1068.3 283.1,1068 284.1,1067.8 285.2,1067.5 286.3,1067.1 287.3,1066.7 288.4,1066.3 289.4,1065.8 290.5,1065.2 291.6,1064.6 292.6,1064 293.7,1063.3 294.7,1062.6 295.8,1061.8 296.8,1060.9 297.9,1060 299,1059.1 300,1058.1 301.1,1057.1 302.1,1056 303.2,1054.8 304.2,1053.6 305.3,1052.4 306.4,1051.1 307.4,1049.7 308.5,1048.3 309.5,1046.9 310.6,1045.4 311.7,1043.9 312.7,1042.3 313.8,1040.6 314.8,1039 315.9,1037.2 317,1035.5 318,1033.6 319.1,1031.8 320.1,1029.9 321.2,1027.9 322.2,1025.9 323.3,1023.8 324.4,1021.7 325.4,1019.6 326.5,1017.4 327.5,1015.1 328.6,1012.7 329.6,1010.3 330.7,1007.8 331.8,1005.3 332.8,1002.6 333.9,999.9 334.9,997.1 336,994.1 337.1,991 338.1,987.7 339.2,984.3 340.2,980.8 341.3,977 342.4,973 343.4,968.7 344.5,964.2 345.5,959.4 346.6,954.3 347.6,948.8 348.7,943 349.8,936.7 350.8,930 351.9,922.8 352.9,915.1 354,906.8 355.1,898 356.1,888.6 357.2,878.6 358.2,868 359.3,856.8 360.3,845 361.4,832.7 362.5,820 363.5,806.9 364.6,793.7 365.6,780.4 366.7,767.3 367.8,754.8 368.8,742.9 369.9,732.1 370.9,722.7 372,714.9 373,709.1 374.1,705.3 375.2,703.8 376.2,704.6 377.3,707.6 378.3,712.7 379.4,719.6 380.4,728.1 381.5,738 382.6,748.8 383.6,760.3 384.7,772.1 385.7,784.2 386.8,796.1 387.9,807.8 388.9,819.1 390,830 391,840.2 392.1,849.9 393.1,859 394.2,867.5 395.3,875.5 396.3,882.9 397.4,889.8 398.4,896.3 399.5,902.4 400.6,908.1 401.6,913.6 402.7,918.9 403.7,923.9 404.8,928.8 405.9,933.7 406.9,938.4 408,943 409,947.5 410.1,952 411.1,956.4 412.2,960.7 413.3,964.9 414.3,968.9 415.4,972.9 416.4,976.7 417.5,980.3 418.6,983.8 419.6,987.1 420.7,990.2 421.7,993.1 422.8,995.9 423.8,998.4 424.9,1000.8 426,1003 427,1005 428.1,1006.9 429.1,1008.5 430.2,1010 431.2,1011.3 432.3,1012.5 433.4,1013.4 434.4,1014.3 435.5,1015 436.5,1015.5 437.6,1015.9 438.7,1016.2 439.7,1016.4 440.8,1016.5 441.8,1016.5 442.9,1016.4 443.9,1016.3 445,1016.1 446.1,1015.9 447.1,1015.7 448.2,1015.6 449.2,1015.4 450.3,1015.2 451.4,1015.1 452.4,1015 453.5,1015 454.5,1015 455.6,1015 456.6,1014.9 457.7,1014.9 458.8,1014.8 459.8,1014.7 460.9,1014.4 461.9,1014.1 463,1013.6 464.1,1012.9 465.1,1012.1 466.2,1011 467.2,1009.8 468.3,1008.2 469.4,1006.4 470.4,1004.3 471.5,1001.8 472.5,999 473.6,995.8 474.6,992.1 475.7,988.1 476.8,983.5 477.8,978.4 478.9,972.8 479.9,966.5 481,959.6 482.1,952.1 483.1,943.9 484.2,935 485.2,925.3 486.3,915 487.3,903.9 488.4,892.2 489.5,880 490.5,867.4 491.6,854.6 492.6,841.9 493.7,829.5 494.8,817.8 495.8,807.1 496.9,797.8 497.9,790.3 499,784.8 500,781.5 501.1,780.4 502.2,781.3 503.2,784.1 504.3,788.2 505.3,793.3 506.4,798.7 507.4,803.8 508.5,808.2 509.6,811.3 510.6,813 511.7,813.3 512.7,812.9 513.8,813.3 514.9,816.4 515.9,823.9 517,836.7 518,854 519.1,873.9 520.2,894.5 521.2,914.3 522.3,932.4 523.3,948.7 524.4,963 525.4,975.6 526.5,986.6 527.6,996.4 528.6,1005 529.7,1012.7 530.7,1019.7 531.8,1025.9 532.9,1031.6 533.9,1036.8 535,1041.5 536,1045.9 537.1,1049.9 538.1,1053.6 539.2,1057.1 540.3,1060.3 541.3,1063.3 542.4,1066 543.4,1068.6 544.5,1070.9 545.5,1073.1 546.6,1075.1 547.7,1076.9 548.7,1078.6 549.8,1080.1 550.8,1081.5 551.9,1082.8 553,1083.9 554,1084.9 555.1,1085.8 556.1,1086.6 557.2,1087.3 558.2,1087.9 559.3,1088.5 560.4,1088.9 561.4,1089.4 562.5,1089.8 563.5,1090.1 564.6,1090.4 565.7,1090.7 566.7,1091 567.8,1091.2 568.8,1091.5 569.9,1091.8 571,1092 572,1092.3 573.1,1092.5 574.1,1092.8 575.2,1093 576.2,1093.3 577.3,1093.6 578.4,1093.9 579.4,1094.1 580.5,1094.4 581.5,1094.7 582.6,1095 583.7,1095.3 584.7,1095.6 585.8,1095.8 586.8,1096.1 587.9,1096.4 588.9,1096.7 590,1096.9 591.1,1097.2 592.1,1097.4 593.2,1097.7 594.2,1097.9 595.3,1098.2 596.4,1098.4 597.4,1098.6 598.5,1098.9 599.5,1099.1 600.6,1099.3 601.6,1099.5 602.7,1099.7 603.8,1099.9 604.8,1100.1 605.9,1100.3 606.9,1100.4 608,1100.6 609,1100.8 610.1,1100.9 611.2,1101.1 612.2,1101.3 613.3,1101.4 614.3,1101.6 615.4,1101.7 616.5,1101.9 617.5,1102 618.6,1102.1 619.6,1102.3 620.7,1102.4 621.8,1102.5 622.8,1102.6 623.9,1102.8 624.9,1102.9 626,1103 627,1103.1 628.1,1103.2 629.2,1103.3 630.2,1103.4 631.3,1103.5 632.3,1103.6 633.4,1103.7 634.5,1103.8 635.5,1103.9 636.6,1104 637.6,1104.1 638.7,1104.2 639.7,1104.3 640.8,1104.4 641.9,1104.5 642.9,1104.5 644,1104.6 645,1104.7 646.1,1104.8 647.1,1104.9 648.2,1104.9 649.3,1105 650.3,1105.1 651.4,1105.1 652.4,1105.2 653.5,1105.3 654.6,1105.4 655.6,1105.4 656.7,1105.5 657.7,1105.5 658.8,1105.6 659.9,1105.7 660.9,1105.7 662,1105.8 663,1105.8 664.1,1105.9 665.1,1106 666.2,1106" fill="none" stroke="#2a2ab0" stroke-width="1.15" stroke-linejoin="round"/>
<polyline points="82,1110.3 83.1,1110.3 84.1,1110.3 85.2,1110.3 86.2,1110.3 87.3,1110.3 88.3,1110.3 89.4,1110.3 90.5,1110.3 91.5,1110.3 92.6,1110.3 93.6,1110.3 94.7,1110.3 95.8,1110.3 96.8,1110.3 97.9,1110.3 98.9,1110.3 100,1110.3 101,1110.3 102.1,1110.3 103.2,1110.3 104.2,1110.2 105.3,1110.2 106.3,1110.2 107.4,1110.2 108.5,1110.2 109.5,1110.2 110.6,1110.2 111.6,1110.2 112.7,1110.2 113.8,1110.2 114.8,1110.2 115.9,1110.2 116.9,1110.2 118,1110.2 119,1110.2 120.1,1110.2 121.2,1110.2 122.2,1110.2 123.3,1110.2 124.3,1110.2 125.4,1110.2 126.5,1110.2 127.5,1110.2 128.6,1110.1 129.6,1110.1 130.7,1110.1 131.7,1110.1 132.8,1110.1 133.9,1110.1 134.9,1110.1 136,1110.1 137,1110.1 138.1,1110.1 139.2,1110.1 140.2,1110.1 141.3,1110.1 142.3,1110.1 143.4,1110.1 144.4,1110 145.5,1110 146.6,1110 147.6,1110 148.7,1110 149.7,1110 150.8,1110 151.8,1110 152.9,1110 154,1110 155,1110 156.1,1109.9 157.1,1109.9 158.2,1109.9 159.3,1109.9 160.3,1109.9 161.4,1109.9 162.4,1109.9 163.5,1109.9 164.6,1109.8 165.6,1109.8 166.7,1109.8 167.7,1109.8 168.8,1109.8 169.8,1109.8 170.9,1109.8 172,1109.7 173,1109.7 174.1,1109.7 175.1,1109.7 176.2,1109.7 177.2,1109.6 178.3,1109.6 179.4,1109.6 180.4,1109.6 181.5,1109.5 182.5,1109.5 183.6,1109.5 184.7,1109.5 185.7,1109.4 186.8,1109.4 187.8,1109.4 188.9,1109.3 189.9,1109.3 191,1109.3 192.1,1109.2 193.1,1109.2 194.2,1109.1 195.2,1109.1 196.3,1109 197.4,1108.9 198.4,1108.9 199.5,1108.8 200.5,1108.7 201.6,1108.7 202.7,1108.6 203.7,1108.5 204.8,1108.4 205.8,1108.3 206.9,1108.1 207.9,1108 209,1107.9 210.1,1107.7 211.1,1107.6 212.2,1107.4 213.2,1107.2 214.3,1107 215.3,1106.8 216.4,1106.6 217.5,1106.4 218.5,1106.1 219.6,1105.8 220.6,1105.5 221.7,1105.2 222.8,1104.9 223.8,1104.6 224.9,1104.2 225.9,1103.9 227,1103.5 228.1,1103.1 229.1,1102.6 230.2,1102.2 231.2,1101.7 232.3,1101.2 233.3,1100.8 234.4,1100.2 235.5,1099.7 236.5,1099.2 237.6,1098.6 238.6,1098.1 239.7,1097.5 240.8,1097 241.8,1096.4 242.9,1095.9 243.9,1095.3 245,1094.8 246,1094.2 247.1,1093.7 248.2,1093.2 249.2,1092.7 250.3,1092.3 251.3,1091.9 252.4,1091.6 253.4,1091.2 254.5,1091 255.6,1090.8 256.6,1090.6 257.7,1090.5 258.7,1090.5 259.8,1090.5 260.9,1090.6 261.9,1090.8 263,1091 264,1091.2 265.1,1091.6 266.1,1091.9 267.2,1092.3 268.3,1092.7 269.3,1093.2 270.4,1093.7 271.4,1094.2 272.5,1094.8 273.6,1095.3 274.6,1095.9 275.7,1096.4 276.7,1097 277.8,1097.5 278.9,1098.1 279.9,1098.6 281,1099.2 282,1099.7 283.1,1100.2 284.1,1100.8 285.2,1101.2 286.3,1101.7 287.3,1102.2 288.4,1102.6 289.4,1103.1 290.5,1103.5 291.6,1103.9 292.6,1104.2 293.7,1104.6 294.7,1104.9 295.8,1105.2 296.8,1105.5 297.9,1105.8 299,1106.1 300,1106.4 301.1,1106.6 302.1,1106.8 303.2,1107 304.2,1107.2 305.3,1107.4 306.4,1107.6 307.4,1107.7 308.5,1107.9 309.5,1108 310.6,1108.1 311.7,1108.3 312.7,1108.4 313.8,1108.5 314.8,1108.6 315.9,1108.7 317,1108.7 318,1108.8 319.1,1108.9 320.1,1108.9 321.2,1109 322.2,1109.1 323.3,1109.1 324.4,1109.2 325.4,1109.2 326.5,1109.3 327.5,1109.3 328.6,1109.3 329.6,1109.4 330.7,1109.4 331.8,1109.4 332.8,1109.5 333.9,1109.5 334.9,1109.5 336,1109.5 337.1,1109.6 338.1,1109.6 339.2,1109.6 340.2,1109.6 341.3,1109.7 342.4,1109.7 343.4,1109.7 344.5,1109.7 345.5,1109.7 346.6,1109.8 347.6,1109.8 348.7,1109.8 349.8,1109.8 350.8,1109.8 351.9,1109.8 352.9,1109.8 354,1109.9 355.1,1109.9 356.1,1109.9 357.2,1109.9 358.2,1109.9 359.3,1109.9 360.3,1109.9 361.4,1109.9 362.5,1110 363.5,1110 364.6,1110 365.6,1110 366.7,1110 367.8,1110 368.8,1110 369.9,1110 370.9,1110 372,1110 373,1110 374.1,1110.1 375.2,1110.1 376.2,1110.1 377.3,1110.1 378.3,1110.1 379.4,1110.1 380.4,1110.1 381.5,1110.1 382.6,1110.1 383.6,1110.1 384.7,1110.1 385.7,1110.1 386.8,1110.1 387.9,1110.1 388.9,1110.1 390,1110.2 391,1110.2 392.1,1110.2 393.1,1110.2 394.2,1110.2 395.3,1110.2 396.3,1110.2 397.4,1110.2 398.4,1110.2 399.5,1110.2 400.6,1110.2 401.6,1110.2 402.7,1110.2 403.7,1110.2 404.8,1110.2 405.9,1110.2 406.9,1110.2 408,1110.2 409,1110.2 410.1,1110.2 411.1,1110.2 412.2,1110.2 413.3,1110.2 414.3,1110.3 415.4,1110.3 416.4,1110.3 417.5,1110.3 418.6,1110.3 419.6,1110.3 420.7,1110.3 421.7,1110.3 422.8,1110.3 423.8,1110.3 424.9,1110.3 426,1110.3" fill="none" stroke="#0000ff" stroke-width="3.6" stroke-linejoin="round"/>
<polyline points="320.1,1110.9 321.2,1110.9 322.2,1110.9 323.3,1110.8 324.4,1110.8 325.4,1110.8 326.5,1110.8 327.5,1110.8 328.6,1110.8 329.6,1110.8 330.7,1110.8 331.8,1110.8 332.8,1110.7 333.9,1110.7 334.9,1110.7 336,1110.7 337.1,1110.7 338.1,1110.7 339.2,1110.7 340.2,1110.6 341.3,1110.6 342.4,1110.6 343.4,1110.6 344.5,1110.6 345.5,1110.6 346.6,1110.5 347.6,1110.5 348.7,1110.5 349.8,1110.5 350.8,1110.5 351.9,1110.4 352.9,1110.4 354,1110.4 355.1,1110.4 356.1,1110.3 357.2,1110.3 358.2,1110.3 359.3,1110.3 360.3,1110.2 361.4,1110.2 362.5,1110.2 363.5,1110.2 364.6,1110.1 365.6,1110.1 366.7,1110.1 367.8,1110 368.8,1110 369.9,1110 370.9,1109.9 372,1109.9 373,1109.8 374.1,1109.8 375.2,1109.7 376.2,1109.7 377.3,1109.7 378.3,1109.6 379.4,1109.6 380.4,1109.5 381.5,1109.4 382.6,1109.4 383.6,1109.3 384.7,1109.3 385.7,1109.2 386.8,1109.1 387.9,1109 388.9,1109 390,1108.9 391,1108.8 392.1,1108.7 393.1,1108.6 394.2,1108.5 395.3,1108.4 396.3,1108.3 397.4,1108.2 398.4,1108.1 399.5,1107.9 400.6,1107.8 401.6,1107.6 402.7,1107.5 403.7,1107.3 404.8,1107.1 405.9,1106.9 406.9,1106.7 408,1106.5 409,1106.3 410.1,1106 411.1,1105.8 412.2,1105.5 413.3,1105.2 414.3,1104.8 415.4,1104.5 416.4,1104.1 417.5,1103.7 418.6,1103.3 419.6,1102.8 420.7,1102.3 421.7,1101.8 422.8,1101.2 423.8,1100.7 424.9,1100 426,1099.4 427,1098.7 428.1,1098 429.1,1097.2 430.2,1096.4 431.2,1095.6 432.3,1094.7 433.4,1093.8 434.4,1092.9 435.5,1091.9 436.5,1090.9 437.6,1089.9 438.7,1088.9 439.7,1087.9 440.8,1086.9 441.8,1086 442.9,1085 443.9,1084.1 445,1083.3 446.1,1082.6 447.1,1081.9 448.2,1081.4 449.2,1080.9 450.3,1080.7 451.4,1080.5 452.4,1080.5 453.5,1080.7 454.5,1080.9 455.6,1081.4 456.6,1081.9 457.7,1082.6 458.8,1083.3 459.8,1084.1 460.9,1085 461.9,1086 463,1086.9 464.1,1087.9 465.1,1088.9 466.2,1089.9 467.2,1090.9 468.3,1091.9 469.4,1092.9 470.4,1093.8 471.5,1094.7 472.5,1095.6 473.6,1096.4 474.6,1097.2 475.7,1098 476.8,1098.7 477.8,1099.4 478.9,1100 479.9,1100.7 481,1101.2 482.1,1101.8 483.1,1102.3 484.2,1102.8 485.2,1103.3 486.3,1103.7 487.3,1104.1 488.4,1104.5 489.5,1104.8 490.5,1105.2 491.6,1105.5 492.6,1105.8 493.7,1106 494.8,1106.3 495.8,1106.5 496.9,1106.7 497.9,1106.9 499,1107.1 500,1107.3 501.1,1107.5 502.2,1107.6 503.2,1107.8 504.3,1107.9 505.3,1108.1 506.4,1108.2 507.4,1108.3 508.5,1108.4 509.6,1108.5 510.6,1108.6 511.7,1108.7 512.7,1108.8 513.8,1108.9 514.9,1109 515.9,1109 517,1109.1 518,1109.2 519.1,1109.3 520.2,1109.3 521.2,1109.4 522.3,1109.4 523.3,1109.5 524.4,1109.6 525.4,1109.6 526.5,1109.7 527.6,1109.7 528.6,1109.7 529.7,1109.8 530.7,1109.8 531.8,1109.9 532.9,1109.9 533.9,1110 535,1110 536,1110 537.1,1110.1 538.1,1110.1 539.2,1110.1 540.3,1110.2 541.3,1110.2 542.4,1110.2 543.4,1110.2 544.5,1110.3 545.5,1110.3 546.6,1110.3 547.7,1110.3 548.7,1110.4 549.8,1110.4 550.8,1110.4 551.9,1110.4 553,1110.5 554,1110.5 555.1,1110.5 556.1,1110.5 557.2,1110.5 558.2,1110.6 559.3,1110.6 560.4,1110.6 561.4,1110.6 562.5,1110.6 563.5,1110.6 564.6,1110.7 565.7,1110.7 566.7,1110.7 567.8,1110.7 568.8,1110.7 569.9,1110.7 571,1110.7 572,1110.8 573.1,1110.8 574.1,1110.8 575.2,1110.8 576.2,1110.8 577.3,1110.8 578.4,1110.8 579.4,1110.8 580.5,1110.8 581.5,1110.9 582.6,1110.9 583.7,1110.9 584.7,1110.9 585.8,1110.9 586.8,1110.9 587.9,1110.9 588.9,1110.9 590,1110.9 591.1,1110.9 592.1,1110.9 593.2,1111 594.2,1111 595.3,1111 596.4,1111 597.4,1111 598.5,1111 599.5,1111 600.6,1111 601.6,1111 602.7,1111 603.8,1111 604.8,1111 605.9,1111 606.9,1111 608,1111.1 609,1111.1 610.1,1111.1 611.2,1111.1 612.2,1111.1 613.3,1111.1 614.3,1111.1 615.4,1111.1 616.5,1111.1 617.5,1111.1 618.6,1111.1 619.6,1111.1 620.7,1111.1 621.8,1111.1 622.8,1111.1 623.9,1111.1 624.9,1111.1 626,1111.1 627,1111.1 628.1,1111.1 629.2,1111.2 630.2,1111.2 631.3,1111.2 632.3,1111.2 633.4,1111.2 634.5,1111.2 635.5,1111.2 636.6,1111.2 637.6,1111.2 638.7,1111.2 639.7,1111.2 640.8,1111.2 641.9,1111.2 642.9,1111.2 644,1111.2 645,1111.2 646.1,1111.2 647.1,1111.2 648.2,1111.2 649.3,1111.2 650.3,1111.2 651.4,1111.2 652.4,1111.2 653.5,1111.2 654.6,1111.2 655.6,1111.2 656.7,1111.2 657.7,1111.2 658.8,1111.2 659.9,1111.2 660.9,1111.2 662,1111.3 663,1111.3 664.1,1111.3 665.1,1111.3 666.2,1111.3" fill="none" stroke="#0000ff" stroke-width="3.6" stroke-linejoin="round"/>
<polyline points="82,1110.1 83.1,1110.1 84.1,1110.1 85.2,1110.1 86.2,1110.1 87.3,1110.1 88.3,1110.1 89.4,1110.1 90.5,1110.1 91.5,1110.1 92.6,1110.1 93.6,1110.1 94.7,1110.1 95.8,1110.1 96.8,1110.1 97.9,1110 98.9,1110 100,1110 101,1110 102.1,1110 103.2,1110 104.2,1110 105.3,1110 106.3,1110 107.4,1110 108.5,1110 109.5,1110 110.6,1110 111.6,1110 112.7,1110 113.8,1110 114.8,1110 115.9,1110 116.9,1110 118,1110 119,1110 120.1,1110 121.2,1109.9 122.2,1109.9 123.3,1109.9 124.3,1109.9 125.4,1109.9 126.5,1109.9 127.5,1109.9 128.6,1109.9 129.6,1109.9 130.7,1109.9 131.7,1109.9 132.8,1109.9 133.9,1109.9 134.9,1109.9 136,1109.9 137,1109.9 138.1,1109.9 139.2,1109.8 140.2,1109.8 141.3,1109.8 142.3,1109.8 143.4,1109.8 144.4,1109.8 145.5,1109.8 146.6,1109.8 147.6,1109.8 148.7,1109.8 149.7,1109.8 150.8,1109.8 151.8,1109.8 152.9,1109.7 154,1109.7 155,1109.7 156.1,1109.7 157.1,1109.7 158.2,1109.7 159.3,1109.7 160.3,1109.7 161.4,1109.7 162.4,1109.7 163.5,1109.7 164.6,1109.6 165.6,1109.6 166.7,1109.6 167.7,1109.6 168.8,1109.6 169.8,1109.6 170.9,1109.6 172,1109.6 173,1109.6 174.1,1109.5 175.1,1109.5 176.2,1109.5 177.2,1109.5 178.3,1109.5 179.4,1109.5 180.4,1109.5 181.5,1109.5 182.5,1109.4 183.6,1109.4 184.7,1109.4 185.7,1109.4 186.8,1109.4 187.8,1109.4 188.9,1109.4 189.9,1109.3 191,1109.3 192.1,1109.3 193.1,1109.3 194.2,1109.3 195.2,1109.3 196.3,1109.2 197.4,1109.2 198.4,1109.2 199.5,1109.2 200.5,1109.2 201.6,1109.1 202.7,1109.1 203.7,1109.1 204.8,1109.1 205.8,1109.1 206.9,1109 207.9,1109 209,1109 210.1,1109 211.1,1108.9 212.2,1108.9 213.2,1108.9 214.3,1108.9 215.3,1108.8 216.4,1108.8 217.5,1108.8 218.5,1108.7 219.6,1108.7 220.6,1108.7 221.7,1108.7 222.8,1108.6 223.8,1108.6 224.9,1108.5 225.9,1108.5 227,1108.5 228.1,1108.4 229.1,1108.4 230.2,1108.3 231.2,1108.3 232.3,1108.3 233.3,1108.2 234.4,1108.2 235.5,1108.1 236.5,1108 237.6,1108 238.6,1107.9 239.7,1107.9 240.8,1107.8 241.8,1107.7 242.9,1107.7 243.9,1107.6 245,1107.5 246,1107.4 247.1,1107.3 248.2,1107.2 249.2,1107.2 250.3,1107.1 251.3,1106.9 252.4,1106.8 253.4,1106.7 254.5,1106.6 255.6,1106.5 256.6,1106.3 257.7,1106.2 258.7,1106 259.8,1105.9 260.9,1105.7 261.9,1105.5 263,1105.3 264,1105.2 265.1,1104.9 266.1,1104.7 267.2,1104.5 268.3,1104.3 269.3,1104 270.4,1103.8 271.4,1103.5 272.5,1103.2 273.6,1102.9 274.6,1102.6 275.7,1102.3 276.7,1101.9 277.8,1101.6 278.9,1101.2 279.9,1100.8 281,1100.4 282,1100 283.1,1099.5 284.1,1099.1 285.2,1098.6 286.3,1098.1 287.3,1097.6 288.4,1097.1 289.4,1096.6 290.5,1096 291.6,1095.5 292.6,1094.9 293.7,1094.3 294.7,1093.6 295.8,1093 296.8,1092.4 297.9,1091.7 299,1091 300,1090.3 301.1,1089.6 302.1,1088.9 303.2,1088.2 304.2,1087.4 305.3,1086.7 306.4,1085.9 307.4,1085.2 308.5,1084.4 309.5,1083.6 310.6,1082.9 311.7,1082.1 312.7,1081.3 313.8,1080.6 314.8,1079.8 315.9,1079 317,1078.3 318,1077.6 319.1,1076.9 320.1,1076.2 321.2,1075.6 322.2,1074.9 323.3,1074.3 324.4,1073.8 325.4,1073.2 326.5,1072.7 327.5,1072.3 328.6,1071.9 329.6,1071.5 330.7,1071.2 331.8,1071 332.8,1070.8 333.9,1070.6 334.9,1070.5 336,1070.5 337.1,1070.5 338.1,1070.6 339.2,1070.8 340.2,1071 341.3,1071.2 342.4,1071.5 343.4,1071.9 344.5,1072.3 345.5,1072.7 346.6,1073.2 347.6,1073.8 348.7,1074.3 349.8,1074.9 350.8,1075.6 351.9,1076.2 352.9,1076.9 354,1077.6 355.1,1078.3 356.1,1079 357.2,1079.8 358.2,1080.6 359.3,1081.3 360.3,1082.1 361.4,1082.9 362.5,1083.6 363.5,1084.4 364.6,1085.2 365.6,1085.9 366.7,1086.7 367.8,1087.4 368.8,1088.2 369.9,1088.9 370.9,1089.6 372,1090.3 373,1091 374.1,1091.7 375.2,1092.4 376.2,1093 377.3,1093.6 378.3,1094.3 379.4,1094.9 380.4,1095.5 381.5,1096 382.6,1096.6 383.6,1097.1 384.7,1097.6 385.7,1098.1 386.8,1098.6 387.9,1099.1 388.9,1099.5 390,1100 391,1100.4 392.1,1100.8 393.1,1101.2 394.2,1101.6 395.3,1101.9 396.3,1102.3 397.4,1102.6 398.4,1102.9 399.5,1103.2 400.6,1103.5 401.6,1103.8 402.7,1104 403.7,1104.3 404.8,1104.5 405.9,1104.7 406.9,1104.9 408,1105.2 409,1105.3 410.1,1105.5 411.1,1105.7 412.2,1105.9 413.3,1106 414.3,1106.2 415.4,1106.3 416.4,1106.5 417.5,1106.6 418.6,1106.7 419.6,1106.8 420.7,1106.9 421.7,1107.1 422.8,1107.2 423.8,1107.2 424.9,1107.3 426,1107.4 427,1107.5 428.1,1107.6 429.1,1107.7 430.2,1107.7 431.2,1107.8 432.3,1107.9 433.4,1107.9 434.4,1108 435.5,1108 436.5,1108.1 437.6,1108.2 438.7,1108.2 439.7,1108.3 440.8,1108.3 441.8,1108.3 442.9,1108.4 443.9,1108.4 445,1108.5 446.1,1108.5 447.1,1108.5 448.2,1108.6 449.2,1108.6 450.3,1108.7 451.4,1108.7 452.4,1108.7 453.5,1108.7 454.5,1108.8 455.6,1108.8 456.6,1108.8 457.7,1108.9 458.8,1108.9 459.8,1108.9 460.9,1108.9 461.9,1109 463,1109 464.1,1109 465.1,1109 466.2,1109.1 467.2,1109.1 468.3,1109.1 469.4,1109.1 470.4,1109.1 471.5,1109.2 472.5,1109.2 473.6,1109.2 474.6,1109.2 475.7,1109.2 476.8,1109.3 477.8,1109.3 478.9,1109.3 479.9,1109.3 481,1109.3 482.1,1109.3 483.1,1109.4 484.2,1109.4 485.2,1109.4 486.3,1109.4 487.3,1109.4 488.4,1109.4 489.5,1109.4 490.5,1109.5 491.6,1109.5 492.6,1109.5 493.7,1109.5 494.8,1109.5 495.8,1109.5 496.9,1109.5 497.9,1109.5 499,1109.6 500,1109.6 501.1,1109.6 502.2,1109.6 503.2,1109.6 504.3,1109.6 505.3,1109.6 506.4,1109.6 507.4,1109.6 508.5,1109.7 509.6,1109.7 510.6,1109.7 511.7,1109.7 512.7,1109.7 513.8,1109.7 514.9,1109.7 515.9,1109.7 517,1109.7 518,1109.7 519.1,1109.7 520.2,1109.8 521.2,1109.8 522.3,1109.8 523.3,1109.8 524.4,1109.8 525.4,1109.8 526.5,1109.8 527.6,1109.8 528.6,1109.8 529.7,1109.8 530.7,1109.8 531.8,1109.8 532.9,1109.8 533.9,1109.9 535,1109.9 536,1109.9 537.1,1109.9 538.1,1109.9 539.2,1109.9 540.3,1109.9 541.3,1109.9 542.4,1109.9 543.4,1109.9 544.5,1109.9 545.5,1109.9 546.6,1109.9 547.7,1109.9 548.7,1109.9 549.8,1109.9 550.8,1109.9 551.9,1110 553,1110 554,1110 555.1,1110 556.1,1110 557.2,1110 558.2,1110 559.3,1110 560.4,1110 561.4,1110 562.5,1110 563.5,1110 564.6,1110 565.7,1110 566.7,1110 567.8,1110 568.8,1110 569.9,1110 571,1110 572,1110 573.1,1110 574.1,1110 575.2,1110.1 576.2,1110.1 577.3,1110.1 578.4,1110.1 579.4,1110.1 580.5,1110.1 581.5,1110.1 582.6,1110.1 583.7,1110.1 584.7,1110.1 585.8,1110.1 586.8,1110.1 587.9,1110.1 588.9,1110.1 590,1110.1 591.1,1110.1 592.1,1110.1 593.2,1110.1 594.2,1110.1 595.3,1110.1 596.4,1110.1 597.4,1110.1 598.5,1110.1 599.5,1110.1 600.6,1110.1 601.6,1110.1 602.7,1110.1 603.8,1110.1 604.8,1110.1 605.9,1110.1 606.9,1110.1 608,1110.2 609,1110.2 610.1,1110.2 611.2,1110.2 612.2,1110.2 613.3,1110.2 614.3,1110.2 615.4,1110.2 616.5,1110.2 617.5,1110.2 618.6,1110.2 619.6,1110.2 620.7,1110.2 621.8,1110.2 622.8,1110.2 623.9,1110.2 624.9,1110.2 626,1110.2 627,1110.2 628.1,1110.2 629.2,1110.2 630.2,1110.2 631.3,1110.2 632.3,1110.2 633.4,1110.2 634.5,1110.2 635.5,1110.2 636.6,1110.2 637.6,1110.2 638.7,1110.2 639.7,1110.2 640.8,1110.2 641.9,1110.2 642.9,1110.2 644,1110.2 645,1110.2 646.1,1110.2 647.1,1110.2 648.2,1110.2 649.3,1110.2 650.3,1110.2 651.4,1110.2 652.4,1110.2 653.5,1110.2 654.6,1110.2 655.6,1110.2 656.7,1110.2 657.7,1110.2 658.8,1110.3 659.9,1110.3 660.9,1110.3 662,1110.3 663,1110.3 664.1,1110.3 665.1,1110.3 666.2,1110.3" fill="none" stroke="#ff0000" stroke-width="4" stroke-linejoin="round"/>
<polyline points="82,1111.8 83.1,1111.8 84.1,1111.8 85.2,1111.8 86.2,1111.8 87.3,1111.8 88.3,1111.8 89.4,1111.8 90.5,1111.8 91.5,1111.8 92.6,1111.8 93.6,1111.8 94.7,1111.8 95.8,1111.8 96.8,1111.8 97.9,1111.8 98.9,1111.8 100,1111.8 101,1111.8 102.1,1111.8 103.2,1111.8 104.2,1111.8 105.3,1111.8 106.3,1111.8 107.4,1111.8 108.5,1111.8 109.5,1111.8 110.6,1111.8 111.6,1111.8 112.7,1111.8 113.8,1111.8 114.8,1111.8 115.9,1111.8 116.9,1111.8 118,1111.8 119,1111.8 120.1,1111.8 121.2,1111.8 122.2,1111.8 123.3,1111.8 124.3,1111.8 125.4,1111.7 126.5,1111.7 127.5,1111.7 128.6,1111.7 129.6,1111.7 130.7,1111.7 131.7,1111.7 132.8,1111.7 133.9,1111.7 134.9,1111.7 136,1111.7 137,1111.7 138.1,1111.7 139.2,1111.7 140.2,1111.7 141.3,1111.7 142.3,1111.7 143.4,1111.7 144.4,1111.7 145.5,1111.7 146.6,1111.7 147.6,1111.7 148.7,1111.7 149.7,1111.7 150.8,1111.7 151.8,1111.7 152.9,1111.7 154,1111.7 155,1111.7 156.1,1111.7 157.1,1111.7 158.2,1111.7 159.3,1111.7 160.3,1111.7 161.4,1111.7 162.4,1111.7 163.5,1111.7 164.6,1111.7 165.6,1111.7 166.7,1111.7 167.7,1111.7 168.8,1111.6 169.8,1111.6 170.9,1111.6 172,1111.6 173,1111.6 174.1,1111.6 175.1,1111.6 176.2,1111.6 177.2,1111.6 178.3,1111.6 179.4,1111.6 180.4,1111.6 181.5,1111.6 182.5,1111.6 183.6,1111.6 184.7,1111.6 185.7,1111.6 186.8,1111.6 187.8,1111.6 188.9,1111.6 189.9,1111.6 191,1111.6 192.1,1111.6 193.1,1111.6 194.2,1111.6 195.2,1111.6 196.3,1111.6 197.4,1111.5 198.4,1111.5 199.5,1111.5 200.5,1111.5 201.6,1111.5 202.7,1111.5 203.7,1111.5 204.8,1111.5 205.8,1111.5 206.9,1111.5 207.9,1111.5 209,1111.5 210.1,1111.5 211.1,1111.5 212.2,1111.5 213.2,1111.5 214.3,1111.5 215.3,1111.5 216.4,1111.5 217.5,1111.4 218.5,1111.4 219.6,1111.4 220.6,1111.4 221.7,1111.4 222.8,1111.4 223.8,1111.4 224.9,1111.4 225.9,1111.4 227,1111.4 228.1,1111.4 229.1,1111.4 230.2,1111.4 231.2,1111.4 232.3,1111.3 233.3,1111.3 234.4,1111.3 235.5,1111.3 236.5,1111.3 237.6,1111.3 238.6,1111.3 239.7,1111.3 240.8,1111.3 241.8,1111.3 242.9,1111.3 243.9,1111.3 245,1111.2 246,1111.2 247.1,1111.2 248.2,1111.2 249.2,1111.2 250.3,1111.2 251.3,1111.2 252.4,1111.2 253.4,1111.2 254.5,1111.1 255.6,1111.1 256.6,1111.1 257.7,1111.1 258.7,1111.1 259.8,1111.1 260.9,1111.1 261.9,1111.1 263,1111 264,1111 265.1,1111 266.1,1111 267.2,1111 268.3,1111 269.3,1111 270.4,1110.9 271.4,1110.9 272.5,1110.9 273.6,1110.9 274.6,1110.9 275.7,1110.8 276.7,1110.8 277.8,1110.8 278.9,1110.8 279.9,1110.8 281,1110.8 282,1110.7 283.1,1110.7 284.1,1110.7 285.2,1110.7 286.3,1110.6 287.3,1110.6 288.4,1110.6 289.4,1110.6 290.5,1110.5 291.6,1110.5 292.6,1110.5 293.7,1110.5 294.7,1110.4 295.8,1110.4 296.8,1110.4 297.9,1110.3 299,1110.3 300,1110.3 301.1,1110.2 302.1,1110.2 303.2,1110.2 304.2,1110.1 305.3,1110.1 306.4,1110.1 307.4,1110 308.5,1110 309.5,1109.9 310.6,1109.9 311.7,1109.8 312.7,1109.8 313.8,1109.7 314.8,1109.7 315.9,1109.6 317,1109.6 318,1109.5 319.1,1109.5 320.1,1109.4 321.2,1109.3 322.2,1109.3 323.3,1109.2 324.4,1109.1 325.4,1109.1 326.5,1109 327.5,1108.9 328.6,1108.8 329.6,1108.8 330.7,1108.7 331.8,1108.6 332.8,1108.5 333.9,1108.4 334.9,1108.3 336,1108.2 337.1,1108.1 338.1,1108 339.2,1107.8 340.2,1107.7 341.3,1107.6 342.4,1107.4 343.4,1107.3 344.5,1107.1 345.5,1107 346.6,1106.8 347.6,1106.6 348.7,1106.4 349.8,1106.2 350.8,1106 351.9,1105.8 352.9,1105.5 354,1105.3 355.1,1105 356.1,1104.7 357.2,1104.4 358.2,1104.1 359.3,1103.7 360.3,1103.3 361.4,1102.9 362.5,1102.5 363.5,1102 364.6,1101.6 365.6,1101 366.7,1100.5 367.8,1099.9 368.8,1099.2 369.9,1098.5 370.9,1097.8 372,1097 373,1096.1 374.1,1095.3 375.2,1094.3 376.2,1093.3 377.3,1092.2 378.3,1091.1 379.4,1089.9 380.4,1088.7 381.5,1087.3 382.6,1085.9 383.6,1084.5 384.7,1083 385.7,1081.4 386.8,1079.8 387.9,1078.1 388.9,1076.4 390,1074.6 391,1072.9 392.1,1071.1 393.1,1069.3 394.2,1067.6 395.3,1065.9 396.3,1064.2 397.4,1062.7 398.4,1061.3 399.5,1060.1 400.6,1059 401.6,1058.1 402.7,1057.5 403.7,1057.1 404.8,1057 405.9,1057.1 406.9,1057.5 408,1058.1 409,1059 410.1,1060.1 411.1,1061.3 412.2,1062.7 413.3,1064.2 414.3,1065.9 415.4,1067.6 416.4,1069.3 417.5,1071.1 418.6,1072.9 419.6,1074.6 420.7,1076.4 421.7,1078.1 422.8,1079.8 423.8,1081.4 424.9,1083 426,1084.5 427,1085.9 428.1,1087.3 429.1,1088.7 430.2,1089.9 431.2,1091.1 432.3,1092.2 433.4,1093.3 434.4,1094.3 435.5,1095.3 436.5,1096.1 437.6,1097 438.7,1097.8 439.7,1098.5 440.8,1099.2 441.8,1099.9 442.9,1100.5 443.9,1101 445,1101.6 446.1,1102 447.1,1102.5 448.2,1102.9 449.2,1103.3 450.3,1103.7 451.4,1104.1 452.4,1104.4 453.5,1104.7 454.5,1105 455.6,1105.3 456.6,1105.5 457.7,1105.8 458.8,1106 459.8,1106.2 460.9,1106.4 461.9,1106.6 463,1106.8 464.1,1107 465.1,1107.1 466.2,1107.3 467.2,1107.4 468.3,1107.6 469.4,1107.7 470.4,1107.8 471.5,1108 472.5,1108.1 473.6,1108.2 474.6,1108.3 475.7,1108.4 476.8,1108.5 477.8,1108.6 478.9,1108.7 479.9,1108.8 481,1108.8 482.1,1108.9 483.1,1109 484.2,1109.1 485.2,1109.1 486.3,1109.2 487.3,1109.3 488.4,1109.3 489.5,1109.4 490.5,1109.5 491.6,1109.5 492.6,1109.6 493.7,1109.6 494.8,1109.7 495.8,1109.7 496.9,1109.8 497.9,1109.8 499,1109.9 500,1109.9 501.1,1110 502.2,1110 503.2,1110.1 504.3,1110.1 505.3,1110.1 506.4,1110.2 507.4,1110.2 508.5,1110.2 509.6,1110.3 510.6,1110.3 511.7,1110.3 512.7,1110.4 513.8,1110.4 514.9,1110.4 515.9,1110.5 517,1110.5 518,1110.5 519.1,1110.5 520.2,1110.6 521.2,1110.6 522.3,1110.6 523.3,1110.6 524.4,1110.7 525.4,1110.7 526.5,1110.7 527.6,1110.7 528.6,1110.8 529.7,1110.8 530.7,1110.8 531.8,1110.8 532.9,1110.8 533.9,1110.8 535,1110.9 536,1110.9 537.1,1110.9 538.1,1110.9 539.2,1110.9 540.3,1111 541.3,1111 542.4,1111 543.4,1111 544.5,1111 545.5,1111 546.6,1111 547.7,1111.1 548.7,1111.1 549.8,1111.1 550.8,1111.1 551.9,1111.1 553,1111.1 554,1111.1 555.1,1111.1 556.1,1111.2 557.2,1111.2 558.2,1111.2 559.3,1111.2 560.4,1111.2 561.4,1111.2 562.5,1111.2 563.5,1111.2 564.6,1111.2 565.7,1111.3 566.7,1111.3 567.8,1111.3 568.8,1111.3 569.9,1111.3 571,1111.3 572,1111.3 573.1,1111.3 574.1,1111.3 575.2,1111.3 576.2,1111.3 577.3,1111.3 578.4,1111.4 579.4,1111.4 580.5,1111.4 581.5,1111.4 582.6,1111.4 583.7,1111.4 584.7,1111.4 585.8,1111.4 586.8,1111.4 587.9,1111.4 588.9,1111.4 590,1111.4 591.1,1111.4 592.1,1111.4 593.2,1111.5 594.2,1111.5 595.3,1111.5 596.4,1111.5 597.4,1111.5 598.5,1111.5 599.5,1111.5 600.6,1111.5 601.6,1111.5 602.7,1111.5 603.8,1111.5 604.8,1111.5 605.9,1111.5 606.9,1111.5 608,1111.5 609,1111.5 610.1,1111.5 611.2,1111.5 612.2,1111.5 613.3,1111.6 614.3,1111.6 615.4,1111.6 616.5,1111.6 617.5,1111.6 618.6,1111.6 619.6,1111.6 620.7,1111.6 621.8,1111.6 622.8,1111.6 623.9,1111.6 624.9,1111.6 626,1111.6 627,1111.6 628.1,1111.6 629.2,1111.6 630.2,1111.6 631.3,1111.6 632.3,1111.6 633.4,1111.6 634.5,1111.6 635.5,1111.6 636.6,1111.6 637.6,1111.6 638.7,1111.6 639.7,1111.6 640.8,1111.6 641.9,1111.7 642.9,1111.7 644,1111.7 645,1111.7 646.1,1111.7 647.1,1111.7 648.2,1111.7 649.3,1111.7 650.3,1111.7 651.4,1111.7 652.4,1111.7 653.5,1111.7 654.6,1111.7 655.6,1111.7 656.7,1111.7 657.7,1111.7 658.8,1111.7 659.9,1111.7 660.9,1111.7 662,1111.7 663,1111.7 664.1,1111.7 665.1,1111.7 666.2,1111.7" fill="none" stroke="#ff0000" stroke-width="4" stroke-linejoin="round"/>
<polyline points="82,1111.5 83.1,1111.5 84.1,1111.5 85.2,1111.5 86.2,1111.5 87.3,1111.5 88.3,1111.5 89.4,1111.5 90.5,1111.5 91.5,1111.5 92.6,1111.5 93.6,1111.5 94.7,1111.5 95.8,1111.5 96.8,1111.5 97.9,1111.5 98.9,1111.5 100,1111.5 101,1111.5 102.1,1111.5 103.2,1111.5 104.2,1111.5 105.3,1111.5 106.3,1111.5 107.4,1111.5 108.5,1111.5 109.5,1111.5 110.6,1111.5 111.6,1111.5 112.7,1111.5 113.8,1111.5 114.8,1111.5 115.9,1111.5 116.9,1111.5 118,1111.5 119,1111.5 120.1,1111.5 121.2,1111.5 122.2,1111.5 123.3,1111.5 124.3,1111.5 125.4,1111.5 126.5,1111.5 127.5,1111.5 128.6,1111.5 129.6,1111.5 130.7,1111.5 131.7,1111.5 132.8,1111.5 133.9,1111.5 134.9,1111.5 136,1111.5 137,1111.5 138.1,1111.5 139.2,1111.5 140.2,1111.5 141.3,1111.5 142.3,1111.5 143.4,1111.5 144.4,1111.5 145.5,1111.5 146.6,1111.5 147.6,1111.5 148.7,1111.5 149.7,1111.5 150.8,1111.5 151.8,1111.5 152.9,1111.5 154,1111.5 155,1111.5 156.1,1111.5 157.1,1111.5 158.2,1111.5 159.3,1111.5 160.3,1111.5 161.4,1111.5 162.4,1111.5 163.5,1111.5 164.6,1111.5 165.6,1111.5 166.7,1111.5 167.7,1111.5 168.8,1111.5 169.8,1111.4 170.9,1111.4 172,1111.4 173,1111.4 174.1,1111.4 175.1,1111.4 176.2,1111.4 177.2,1111.4 178.3,1111.4 179.4,1111.4 180.4,1111.4 181.5,1111.4 182.5,1111.4 183.6,1111.4 184.7,1111.4 185.7,1111.4 186.8,1111.4 187.8,1111.4 188.9,1111.4 189.9,1111.4 191,1111.4 192.1,1111.4 193.1,1111.4 194.2,1111.4 195.2,1111.4 196.3,1111.4 197.4,1111.4 198.4,1111.4 199.5,1111.4 200.5,1111.4 201.6,1111.4 202.7,1111.4 203.7,1111.4 204.8,1111.4 205.8,1111.4 206.9,1111.4 207.9,1111.4 209,1111.4 210.1,1111.4 211.1,1111.4 212.2,1111.4 213.2,1111.4 214.3,1111.4 215.3,1111.4 216.4,1111.4 217.5,1111.4 218.5,1111.4 219.6,1111.4 220.6,1111.4 221.7,1111.4 222.8,1111.4 223.8,1111.4 224.9,1111.4 225.9,1111.4 227,1111.4 228.1,1111.4 229.1,1111.4 230.2,1111.4 231.2,1111.4 232.3,1111.4 233.3,1111.4 234.4,1111.4 235.5,1111.4 236.5,1111.4 237.6,1111.4 238.6,1111.4 239.7,1111.4 240.8,1111.4 241.8,1111.4 242.9,1111.4 243.9,1111.4 245,1111.4 246,1111.4 247.1,1111.4 248.2,1111.4 249.2,1111.4 250.3,1111.4 251.3,1111.4 252.4,1111.4 253.4,1111.4 254.5,1111.4 255.6,1111.4 256.6,1111.4 257.7,1111.4 258.7,1111.4 259.8,1111.4 260.9,1111.4 261.9,1111.4 263,1111.4 264,1111.4 265.1,1111.4 266.1,1111.4 267.2,1111.4 268.3,1111.4 269.3,1111.4 270.4,1111.4 271.4,1111.4 272.5,1111.4 273.6,1111.4 274.6,1111.4 275.7,1111.4 276.7,1111.4 277.8,1111.4 278.9,1111.4 279.9,1111.4 281,1111.4 282,1111.4 283.1,1111.4 284.1,1111.4 285.2,1111.4 286.3,1111.4 287.3,1111.4 288.4,1111.4 289.4,1111.4 290.5,1111.4 291.6,1111.4 292.6,1111.4 293.7,1111.4 294.7,1111.4 295.8,1111.4 296.8,1111.4 297.9,1111.4 299,1111.4 300,1111.4 301.1,1111.4 302.1,1111.4 303.2,1111.4 304.2,1111.4 305.3,1111.4 306.4,1111.4 307.4,1111.4 308.5,1111.4 309.5,1111.4 310.6,1111.4 311.7,1111.4 312.7,1111.4 313.8,1111.4 314.8,1111.4 315.9,1111.3 317,1111.3 318,1111.3 319.1,1111.3 320.1,1111.3 321.2,1111.3 322.2,1111.3 323.3,1111.3 324.4,1111.3 325.4,1111.3 326.5,1111.3 327.5,1111.3 328.6,1111.3 329.6,1111.3 330.7,1111.3 331.8,1111.3 332.8,1111.3 333.9,1111.3 334.9,1111.3 336,1111.3 337.1,1111.3 338.1,1111.3 339.2,1111.3 340.2,1111.3 341.3,1111.3 342.4,1111.3 343.4,1111.3 344.5,1111.3 345.5,1111.3 346.6,1111.3 347.6,1111.3 348.7,1111.3 349.8,1111.3 350.8,1111.3 351.9,1111.3 352.9,1111.3 354,1111.3 355.1,1111.3 356.1,1111.3 357.2,1111.3 358.2,1111.3 359.3,1111.3 360.3,1111.3 361.4,1111.2 362.5,1111.2 363.5,1111.2 364.6,1111.2 365.6,1111.2 366.7,1111.2 367.8,1111.2 368.8,1111.2 369.9,1111.2 370.9,1111.2 372,1111.2 373,1111.2 374.1,1111.2 375.2,1111.2 376.2,1111.2 377.3,1111.2 378.3,1111.2 379.4,1111.2 380.4,1111.2 381.5,1111.2 382.6,1111.2 383.6,1111.2 384.7,1111.2 385.7,1111.1 386.8,1111.1 387.9,1111.1 388.9,1111.1 390,1111.1 391,1111.1 392.1,1111.1 393.1,1111.1 394.2,1111.1 395.3,1111.1 396.3,1111.1 397.4,1111.1 398.4,1111.1 399.5,1111.1 400.6,1111 401.6,1111 402.7,1111 403.7,1111 404.8,1111 405.9,1111 406.9,1111 408,1111 409,1111 410.1,1111 411.1,1111 412.2,1110.9 413.3,1110.9 414.3,1110.9 415.4,1110.9 416.4,1110.9 417.5,1110.9 418.6,1110.9 419.6,1110.9 420.7,1110.8 421.7,1110.8 422.8,1110.8 423.8,1110.8 424.9,1110.8 426,1110.8 427,1110.7 428.1,1110.7 429.1,1110.7 430.2,1110.7 431.2,1110.7 432.3,1110.6 433.4,1110.6 434.4,1110.6 435.5,1110.6 436.5,1110.6 437.6,1110.5 438.7,1110.5 439.7,1110.5 440.8,1110.4 441.8,1110.4 442.9,1110.4 443.9,1110.4 445,1110.3 446.1,1110.3 447.1,1110.2 448.2,1110.2 449.2,1110.2 450.3,1110.1 451.4,1110.1 452.4,1110 453.5,1110 454.5,1109.9 455.6,1109.9 456.6,1109.8 457.7,1109.8 458.8,1109.7 459.8,1109.6 460.9,1109.5 461.9,1109.5 463,1109.4 464.1,1109.3 465.1,1109.2 466.2,1109.1 467.2,1109 468.3,1108.9 469.4,1108.8 470.4,1108.7 471.5,1108.5 472.5,1108.4 473.6,1108.2 474.6,1108.1 475.7,1107.9 476.8,1107.7 477.8,1107.5 478.9,1107.3 479.9,1107 481,1106.8 482.1,1106.5 483.1,1106.2 484.2,1105.8 485.2,1105.4 486.3,1105 487.3,1104.5 488.4,1104 489.5,1103.5 490.5,1102.8 491.6,1102.1 492.6,1101.3 493.7,1100.4 494.8,1099.4 495.8,1098.2 496.9,1096.8 497.9,1095.3 499,1093.5 500,1091.4 501.1,1089 502.2,1086.1 503.2,1082.7 504.3,1078.6 505.3,1073.8 506.4,1068 507.4,1061 508.5,1052.7 509.6,1042.9 510.6,1031.7 511.7,1019.4 512.7,1006.8 513.8,995.5 514.9,987.4 515.9,984.5 517,987.4 518,995.5 519.1,1006.8 520.2,1019.4 521.2,1031.7 522.3,1042.9 523.3,1052.7 524.4,1061 525.4,1068 526.5,1073.8 527.6,1078.6 528.6,1082.7 529.7,1086.1 530.7,1089 531.8,1091.4 532.9,1093.5 533.9,1095.3 535,1096.8 536,1098.2 537.1,1099.4 538.1,1100.4 539.2,1101.3 540.3,1102.1 541.3,1102.8 542.4,1103.5 543.4,1104 544.5,1104.5 545.5,1105 546.6,1105.4 547.7,1105.8 548.7,1106.2 549.8,1106.5 550.8,1106.8 551.9,1107 553,1107.3 554,1107.5 555.1,1107.7 556.1,1107.9 557.2,1108.1 558.2,1108.2 559.3,1108.4 560.4,1108.5 561.4,1108.7 562.5,1108.8 563.5,1108.9 564.6,1109 565.7,1109.1 566.7,1109.2 567.8,1109.3 568.8,1109.4 569.9,1109.5 571,1109.5 572,1109.6 573.1,1109.7 574.1,1109.8 575.2,1109.8 576.2,1109.9 577.3,1109.9 578.4,1110 579.4,1110 580.5,1110.1 581.5,1110.1 582.6,1110.2 583.7,1110.2 584.7,1110.2 585.8,1110.3 586.8,1110.3 587.9,1110.4 588.9,1110.4 590,1110.4 591.1,1110.4 592.1,1110.5 593.2,1110.5 594.2,1110.5 595.3,1110.6 596.4,1110.6 597.4,1110.6 598.5,1110.6 599.5,1110.6 600.6,1110.7 601.6,1110.7 602.7,1110.7 603.8,1110.7 604.8,1110.7 605.9,1110.8 606.9,1110.8 608,1110.8 609,1110.8 610.1,1110.8 611.2,1110.8 612.2,1110.9 613.3,1110.9 614.3,1110.9 615.4,1110.9 616.5,1110.9 617.5,1110.9 618.6,1110.9 619.6,1110.9 620.7,1111 621.8,1111 622.8,1111 623.9,1111 624.9,1111 626,1111 627,1111 628.1,1111 629.2,1111 630.2,1111 631.3,1111 632.3,1111.1 633.4,1111.1 634.5,1111.1 635.5,1111.1 636.6,1111.1 637.6,1111.1 638.7,1111.1 639.7,1111.1 640.8,1111.1 641.9,1111.1 642.9,1111.1 644,1111.1 645,1111.1 646.1,1111.1 647.1,1111.2 648.2,1111.2 649.3,1111.2 650.3,1111.2 651.4,1111.2 652.4,1111.2 653.5,1111.2 654.6,1111.2 655.6,1111.2 656.7,1111.2 657.7,1111.2 658.8,1111.2 659.9,1111.2 660.9,1111.2 662,1111.2 663,1111.2 664.1,1111.2 665.1,1111.2 666.2,1111.2" fill="none" stroke="#ff0000" stroke-width="4" stroke-linejoin="round"/>
<polyline points="82,1109.1 82.5,1109.1 83.1,1109.1 83.6,1109.1 84.1,1109.1 84.6,1109.1 85.2,1109.1 85.7,1109.1 86.2,1109.1 86.8,1109 87.3,1109 87.8,1109 88.3,1109 88.9,1109 89.4,1109 89.9,1109 90.5,1109 91,1109 91.5,1109 92.1,1109 92.6,1109 93.1,1109 93.6,1109 94.2,1109 94.7,1109 95.2,1109 95.8,1109 96.3,1108.9 96.8,1108.9 97.3,1108.9 97.9,1108.9 98.4,1108.9 98.9,1108.9 99.5,1108.9 100,1108.9 100.5,1108.9 101,1108.9 101.6,1108.9 102.1,1108.9 102.6,1108.9 103.2,1108.9 103.7,1108.9 104.2,1108.9 104.8,1108.9 105.3,1108.8 105.8,1108.8 106.3,1108.8 106.9,1108.8 107.4,1108.8 107.9,1108.8 108.5,1108.8 109,1108.8 109.5,1108.8 110,1108.8 110.6,1108.8 111.1,1108.8 111.6,1108.8 112.2,1108.8 112.7,1108.8 113.2,1108.7 113.8,1108.7 114.3,1108.7 114.8,1108.7 115.3,1108.7 115.9,1108.7 116.4,1108.7 116.9,1108.7 117.5,1108.7 118,1108.7 118.5,1108.7 119,1108.7 119.6,1108.7 120.1,1108.6 120.6,1108.6 121.2,1108.6 121.7,1108.6 122.2,1108.6 122.7,1108.6 123.3,1108.6 123.8,1108.6 124.3,1108.6 124.9,1108.6 125.4,1108.6 125.9,1108.6 126.5,1108.6 127,1108.5 127.5,1108.5 128,1108.5 128.6,1108.5 129.1,1108.5 129.6,1108.5 130.2,1108.5 130.7,1108.5 131.2,1108.5 131.7,1108.5 132.3,1108.5 132.8,1108.4 133.3,1108.4 133.9,1108.4 134.4,1108.4 134.9,1108.4 135.4,1108.4 136,1108.4 136.5,1108.4 137,1108.4 137.6,1108.4 138.1,1108.4 138.6,1108.3 139.2,1108.3 139.7,1108.3 140.2,1108.3 140.7,1108.3 141.3,1108.3 141.8,1108.3 142.3,1108.3 142.9,1108.3 143.4,1108.3 143.9,1108.2 144.4,1108.2 145,1108.2 145.5,1108.2 146,1108.2 146.6,1108.2 147.1,1108.2 147.6,1108.2 148.1,1108.2 148.7,1108.2 149.2,1108.1 149.7,1108.1 150.3,1108.1 150.8,1108.1 151.3,1108.1 151.8,1108.1 152.4,1108.1 152.9,1108.1 153.4,1108.1 154,1108 154.5,1108 155,1108 155.6,1108 156.1,1108 156.6,1108 157.1,1108 157.7,1108 158.2,1107.9 158.7,1107.9 159.3,1107.9 159.8,1107.9 160.3,1107.9 160.8,1107.9 161.4,1107.9 161.9,1107.9 162.4,1107.8 163,1107.8 163.5,1107.8 164,1107.8 164.6,1107.8 165.1,1107.8 165.6,1107.8 166.1,1107.7 166.7,1107.7 167.2,1107.7 167.7,1107.7 168.3,1107.7 168.8,1107.7 169.3,1107.7 169.8,1107.6 170.4,1107.6 170.9,1107.6 171.4,1107.6 172,1107.6 172.5,1107.6 173,1107.6 173.5,1107.5 174.1,1107.5 174.6,1107.5 175.1,1107.5 175.7,1107.5 176.2,1107.5 176.7,1107.4 177.2,1107.4 177.8,1107.4 178.3,1107.4 178.8,1107.4 179.4,1107.4 179.9,1107.4 180.4,1107.3 181,1107.3 181.5,1107.3 182,1107.3 182.5,1107.3 183.1,1107.2 183.6,1107.2 184.1,1107.2 184.7,1107.2 185.2,1107.2 185.7,1107.2 186.2,1107.1 186.8,1107.1 187.3,1107.1 187.8,1107.1 188.4,1107.1 188.9,1107 189.4,1107 189.9,1107 190.5,1107 191,1107 191.5,1106.9 192.1,1106.9 192.6,1106.9 193.1,1106.9 193.7,1106.9 194.2,1106.8 194.7,1106.8 195.2,1106.8 195.8,1106.8 196.3,1106.8 196.8,1106.7 197.4,1106.7 197.9,1106.7 198.4,1106.7 198.9,1106.6 199.5,1106.6 200,1106.6 200.5,1106.6 201.1,1106.5 201.6,1106.5 202.1,1106.5 202.7,1106.5 203.2,1106.4 203.7,1106.4 204.2,1106.4 204.8,1106.4 205.3,1106.3 205.8,1106.3 206.4,1106.3 206.9,1106.3 207.4,1106.2 207.9,1106.2 208.5,1106.2 209,1106.2 209.5,1106.1 210.1,1106.1 210.6,1106.1 211.1,1106.1 211.6,1106 212.2,1106 212.7,1106 213.2,1105.9 213.8,1105.9 214.3,1105.9 214.8,1105.8 215.3,1105.8 215.9,1105.8 216.4,1105.8 216.9,1105.7 217.5,1105.7 218,1105.7 218.5,1105.6 219.1,1105.6 219.6,1105.6 220.1,1105.5 220.6,1105.5 221.2,1105.5 221.7,1105.4 222.2,1105.4 222.8,1105.4 223.3,1105.3 223.8,1105.3 224.3,1105.3 224.9,1105.2 225.4,1105.2 225.9,1105.1 226.5,1105.1 227,1105.1 227.5,1105 228.1,1105 228.6,1104.9 229.1,1104.9 229.6,1104.9 230.2,1104.8 230.7,1104.8 231.2,1104.7 231.8,1104.7 232.3,1104.7 232.8,1104.6 233.3,1104.6 233.9,1104.5 234.4,1104.5 234.9,1104.4 235.5,1104.4 236,1104.4 236.5,1104.3 237,1104.3 237.6,1104.2 238.1,1104.2 238.6,1104.1 239.2,1104.1 239.7,1104 240.2,1104 240.8,1103.9 241.3,1103.9 241.8,1103.8 242.3,1103.8 242.9,1103.7 243.4,1103.7 243.9,1103.6 244.5,1103.5 245,1103.5 245.5,1103.4 246,1103.4 246.6,1103.3 247.1,1103.3 247.6,1103.2 248.2,1103.1 248.7,1103.1 249.2,1103 249.7,1103 250.3,1102.9 250.8,1102.8 251.3,1102.8 251.9,1102.7 252.4,1102.6 252.9,1102.6 253.4,1102.5 254,1102.4 254.5,1102.4 255,1102.3 255.6,1102.2 256.1,1102.2 256.6,1102.1 257.2,1102 257.7,1101.9 258.2,1101.9 258.7,1101.8 259.3,1101.7 259.8,1101.6 260.3,1101.5 260.9,1101.5 261.4,1101.4 261.9,1101.3 262.4,1101.2 263,1101.1 263.5,1101 264,1100.9 264.6,1100.9 265.1,1100.8 265.6,1100.7 266.1,1100.6 266.7,1100.5 267.2,1100.4 267.7,1100.3 268.3,1100.2 268.8,1100.1 269.3,1100 269.9,1099.9 270.4,1099.8 270.9,1099.7 271.4,1099.6 272,1099.5 272.5,1099.4 273,1099.2 273.6,1099.1 274.1,1099 274.6,1098.9 275.1,1098.8 275.7,1098.7 276.2,1098.5 276.7,1098.4 277.3,1098.3 277.8,1098.2 278.3,1098 278.9,1097.9 279.4,1097.8 279.9,1097.6 280.4,1097.5 281,1097.3 281.5,1097.2 282,1097.1 282.6,1096.9 283.1,1096.8 283.6,1096.6 284.1,1096.4 284.7,1096.3 285.2,1096.1 285.7,1096 286.3,1095.8 286.8,1095.6 287.3,1095.5 287.8,1095.3 288.4,1095.1 288.9,1094.9 289.4,1094.7 290,1094.5 290.5,1094.4 291,1094.2 291.6,1094 292.1,1093.8 292.6,1093.6 293.1,1093.3 293.7,1093.1 294.2,1092.9 294.7,1092.7 295.3,1092.5 295.8,1092.2 296.3,1092 296.8,1091.8 297.4,1091.5 297.9,1091.3 298.4,1091 299,1090.8 299.5,1090.5 300,1090.2 300.5,1090 301.1,1089.7 301.6,1089.4 302.1,1089.1 302.7,1088.8 303.2,1088.5 303.7,1088.2 304.2,1087.9 304.8,1087.6 305.3,1087.3 305.8,1086.9 306.4,1086.6 306.9,1086.3 307.4,1085.9 308,1085.5 308.5,1085.2 309,1084.8 309.5,1084.4 310.1,1084 310.6,1083.6 311.1,1083.2 311.7,1082.8 312.2,1082.3 312.7,1081.9 313.2,1081.4 313.8,1081 314.3,1080.5 314.8,1080 315.4,1079.5 315.9,1079 316.4,1078.5 317,1078 317.5,1077.4 318,1076.9 318.5,1076.3 319.1,1075.7 319.6,1075.1 320.1,1074.5 320.7,1073.9 321.2,1073.2 321.7,1072.6 322.2,1071.9 322.8,1071.2 323.3,1070.5 323.8,1069.7 324.4,1069 324.9,1068.2 325.4,1067.4 325.9,1066.6 326.5,1065.8 327,1064.9 327.5,1064 328.1,1063.1 328.6,1062.2 329.1,1061.2 329.6,1060.2 330.2,1059.2 330.7,1058.1 331.2,1057.1 331.8,1056 332.3,1054.8 332.8,1053.6 333.4,1052.4 333.9,1051.2 334.4,1049.9 334.9,1048.6 335.5,1047.2 336,1045.8 336.5,1044.3 337.1,1042.8 337.6,1041.3 338.1,1039.7 338.6,1038 339.2,1036.3 339.7,1034.6 340.2,1032.8 340.8,1030.9 341.3,1029 341.8,1027 342.4,1024.9 342.9,1022.8 343.4,1020.6 343.9,1018.3 344.5,1016 345,1013.5 345.5,1011 346.1,1008.4 346.6,1005.7 347.1,1002.9 347.6,1000.1 348.2,997.1 348.7,994 349.2,990.8 349.8,987.5 350.3,984.1 350.8,980.6 351.3,977 351.9,973.2 352.4,969.3 352.9,965.3 353.5,961.2 354,956.9 354.5,952.5 355.1,947.9 355.6,943.2 356.1,938.3 356.6,933.4 357.2,928.2 357.7,922.9 358.2,917.5 358.8,912 359.3,906.3 359.8,900.4 360.3,894.5 360.9,888.4 361.4,882.2 361.9,875.9 362.5,869.6 363,863.1 363.5,856.6 364,850.1 364.6,843.6 365.1,837 365.6,830.5 366.2,824.1 366.7,817.7 367.2,811.5 367.8,805.4 368.3,799.6 368.8,793.9 369.3,788.6 369.9,783.5 370.4,778.8 370.9,774.5 371.5,770.6 372,767.2 372.5,764.2 373,761.8 373.6,759.9 374.1,758.5 374.6,757.7 375.2,757.5 375.7,757.9 376.2,758.8 376.7,760.3 377.3,762.3 377.8,764.9 378.3,768 378.9,771.6 379.4,775.6 379.9,780 380.4,784.8 381,789.9 381.5,795.3 382,801 382.6,807 383.1,813.1 383.6,819.3 384.2,825.7 384.7,832.2 385.2,838.7 385.7,845.2 386.3,851.8 386.8,858.3 387.3,864.8 387.9,871.2 388.4,877.6 388.9,883.8 389.4,890 390,896 390.5,901.9 391,907.7 391.6,913.4 392.1,918.9 392.6,924.3 393.1,929.5 393.7,934.6 394.2,939.6 394.7,944.4 395.3,949.1 395.8,953.6 396.3,958 396.9,962.2 397.4,966.3 397.9,970.3 398.4,974.2 399,977.9 399.5,981.5 400,985 400.6,988.4 401.1,991.6 401.6,994.8 402.1,997.9 402.7,1000.8 403.2,1003.7 403.7,1006.4 404.3,1009.1 404.8,1011.7 405.3,1014.2 405.9,1016.6 406.4,1018.9 406.9,1021.2 407.4,1023.3 408,1025.5 408.5,1027.5 409,1029.5 409.6,1031.4 410.1,1033.2 410.6,1035 411.1,1036.8 411.7,1038.5 412.2,1040.1 412.7,1041.7 413.3,1043.2 413.8,1044.7 414.3,1046.1 414.8,1047.5 415.4,1048.9 415.9,1050.2 416.4,1051.5 417,1052.7 417.5,1053.9 418,1055.1 418.6,1056.2 419.1,1057.3 419.6,1058.4 420.1,1059.5 420.7,1060.5 421.2,1061.4 421.7,1062.4 422.3,1063.3 422.8,1064.2 423.3,1065.1 423.8,1066 424.4,1066.8 424.9,1067.6 425.4,1068.4 426,1069.2 426.5,1069.9 427,1070.7 427.5,1071.4 428.1,1072.1 428.6,1072.7 429.1,1073.4 429.7,1074 430.2,1074.7 430.7,1075.3 431.2,1075.9 431.8,1076.5 432.3,1077 432.8,1077.6 433.4,1078.1 433.9,1078.6 434.4,1079.2 435,1079.7 435.5,1080.2 436,1080.6 436.5,1081.1 437.1,1081.6 437.6,1082 438.1,1082.4 438.7,1082.9 439.2,1083.3 439.7,1083.7 440.2,1084.1 440.8,1084.5 441.3,1084.9 441.8,1085.3 442.4,1085.6 442.9,1086 443.4,1086.3 443.9,1086.7 444.5,1087 445,1087.4 445.5,1087.7 446.1,1088 446.6,1088.3 447.1,1088.6 447.7,1088.9 448.2,1089.2 448.7,1089.5 449.2,1089.8 449.8,1090 450.3,1090.3 450.8,1090.6 451.4,1090.8 451.9,1091.1 452.4,1091.3 452.9,1091.6 453.5,1091.8 454,1092.1 454.5,1092.3 455.1,1092.5 455.6,1092.8 456.1,1093 456.6,1093.2 457.2,1093.4 457.7,1093.6 458.2,1093.8 458.8,1094 459.3,1094.2 459.8,1094.4 460.4,1094.6 460.9,1094.8 461.4,1095 461.9,1095.1 462.5,1095.3 463,1095.5 463.5,1095.7 464.1,1095.8 464.6,1096 465.1,1096.2 465.6,1096.3 466.2,1096.5 466.7,1096.6 467.2,1096.8 467.8,1096.9 468.3,1097.1 468.8,1097.2 469.4,1097.4 469.9,1097.5 470.4,1097.7 470.9,1097.8 471.5,1097.9 472,1098.1 472.5,1098.2 473.1,1098.3 473.6,1098.4 474.1,1098.6 474.6,1098.7 475.2,1098.8 475.7,1098.9 476.2,1099 476.8,1099.2 477.3,1099.3 477.8,1099.4 478.3,1099.5 478.9,1099.6 479.4,1099.7 479.9,1099.8 480.5,1099.9 481,1100 481.5,1100.1 482.1,1100.2 482.6,1100.3 483.1,1100.4 483.6,1100.5 484.2,1100.6 484.7,1100.7 485.2,1100.8 485.8,1100.9 486.3,1101 486.8,1101.1 487.3,1101.1 487.9,1101.2 488.4,1101.3 488.9,1101.4 489.5,1101.5 490,1101.6 490.5,1101.6 491,1101.7 491.6,1101.8 492.1,1101.9 492.6,1101.9 493.2,1102 493.7,1102.1 494.2,1102.2 494.8,1102.2 495.3,1102.3 495.8,1102.4 496.3,1102.5 496.9,1102.5 497.4,1102.6 497.9,1102.7 498.5,1102.7 499,1102.8 499.5,1102.8 500,1102.9 500.6,1103 501.1,1103 501.6,1103.1 502.2,1103.2 502.7,1103.2 503.2,1103.3 503.7,1103.3 504.3,1103.4 504.8,1103.4 505.3,1103.5 505.9,1103.6 506.4,1103.6 506.9,1103.7 507.4,1103.7 508,1103.8 508.5,1103.8 509,1103.9 509.6,1103.9 510.1,1104 510.6,1104 511.2,1104.1 511.7,1104.1 512.2,1104.2 512.7,1104.2 513.3,1104.3 513.8,1104.3 514.3,1104.4 514.9,1104.4 515.4,1104.5 515.9,1104.5 516.4,1104.5 517,1104.6 517.5,1104.6 518,1104.7 518.6,1104.7 519.1,1104.8 519.6,1104.8 520.2,1104.8 520.7,1104.9 521.2,1104.9 521.7,1105 522.3,1105 522.8,1105 523.3,1105.1 523.9,1105.1 524.4,1105.1 524.9,1105.2 525.4,1105.2 526,1105.3 526.5,1105.3 527,1105.3 527.6,1105.4 528.1,1105.4 528.6,1105.4 529.1,1105.5 529.7,1105.5 530.2,1105.5 530.7,1105.6 531.3,1105.6 531.8,1105.6 532.3,1105.7 532.9,1105.7 533.4,1105.7 533.9,1105.8 534.4,1105.8 535,1105.8 535.5,1105.9 536,1105.9 536.6,1105.9 537.1,1105.9 537.6,1106 538.1,1106 538.7,1106 539.2,1106.1 539.7,1106.1 540.3,1106.1 540.8,1106.1 541.3,1106.2 541.8,1106.2 542.4,1106.2 542.9,1106.3 543.4,1106.3 544,1106.3 544.5,1106.3 545,1106.4 545.5,1106.4 546.1,1106.4 546.6,1106.4 547.1,1106.5 547.7,1106.5 548.2,1106.5 548.7,1106.5 549.3,1106.6 549.8,1106.6 550.3,1106.6 550.8,1106.6 551.4,1106.6 551.9,1106.7 552.4,1106.7 553,1106.7 553.5,1106.7 554,1106.8 554.5,1106.8 555.1,1106.8 555.6,1106.8 556.1,1106.8 556.7,1106.9 557.2,1106.9 557.7,1106.9 558.2,1106.9 558.8,1106.9 559.3,1107 559.8,1107 560.4,1107 560.9,1107 561.4,1107 562,1107.1 562.5,1107.1 563,1107.1 563.5,1107.1 564.1,1107.1 564.6,1107.2 565.1,1107.2 565.7,1107.2 566.2,1107.2 566.7,1107.2 567.2,1107.3 567.8,1107.3 568.3,1107.3 568.8,1107.3 569.4,1107.3 569.9,1107.3 570.4,1107.4 571,1107.4 571.5,1107.4 572,1107.4 572.5,1107.4 573.1,1107.4 573.6,1107.5 574.1,1107.5 574.7,1107.5 575.2,1107.5 575.7,1107.5 576.2,1107.5 576.8,1107.5 577.3,1107.6 577.8,1107.6 578.4,1107.6 578.9,1107.6 579.4,1107.6 579.9,1107.6 580.5,1107.7 581,1107.7 581.5,1107.7 582.1,1107.7 582.6,1107.7 583.1,1107.7 583.7,1107.7 584.2,1107.8 584.7,1107.8 585.2,1107.8 585.8,1107.8 586.3,1107.8 586.8,1107.8 587.4,1107.8 587.9,1107.8 588.4,1107.9 588.9,1107.9 589.5,1107.9 590,1107.9 590.5,1107.9 591.1,1107.9 591.6,1107.9 592.1,1107.9 592.6,1108 593.2,1108 593.7,1108 594.2,1108 594.8,1108 595.3,1108 595.8,1108 596.4,1108 596.9,1108.1 597.4,1108.1 597.9,1108.1 598.5,1108.1 599,1108.1 599.5,1108.1 600.1,1108.1 600.6,1108.1 601.1,1108.1 601.6,1108.2 602.2,1108.2 602.7,1108.2 603.2,1108.2 603.8,1108.2 604.3,1108.2 604.8,1108.2 605.3,1108.2 605.9,1108.2 606.4,1108.3 606.9,1108.3 607.5,1108.3 608,1108.3 608.5,1108.3 609,1108.3 609.6,1108.3 610.1,1108.3 610.6,1108.3 611.2,1108.3 611.7,1108.4 612.2,1108.4 612.8,1108.4 613.3,1108.4 613.8,1108.4 614.3,1108.4 614.9,1108.4 615.4,1108.4 615.9,1108.4 616.5,1108.4 617,1108.4 617.5,1108.5 618,1108.5 618.6,1108.5 619.1,1108.5 619.6,1108.5 620.2,1108.5 620.7,1108.5 621.2,1108.5 621.8,1108.5 622.3,1108.5 622.8,1108.5 623.3,1108.5 623.9,1108.6 624.4,1108.6 624.9,1108.6 625.5,1108.6 626,1108.6 626.5,1108.6 627,1108.6 627.6,1108.6 628.1,1108.6 628.6,1108.6 629.2,1108.6 629.7,1108.6 630.2,1108.6 630.7,1108.7 631.3,1108.7 631.8,1108.7 632.3,1108.7 632.9,1108.7 633.4,1108.7 633.9,1108.7 634.5,1108.7 635,1108.7 635.5,1108.7 636,1108.7 636.6,1108.7 637.1,1108.7 637.6,1108.8 638.2,1108.8 638.7,1108.8 639.2,1108.8 639.7,1108.8 640.3,1108.8 640.8,1108.8 641.3,1108.8 641.9,1108.8 642.4,1108.8 642.9,1108.8 643.4,1108.8 644,1108.8 644.5,1108.8 645,1108.8 645.6,1108.9 646.1,1108.9 646.6,1108.9 647.1,1108.9 647.7,1108.9 648.2,1108.9 648.7,1108.9 649.3,1108.9 649.8,1108.9 650.3,1108.9 650.9,1108.9 651.4,1108.9 651.9,1108.9 652.4,1108.9 653,1108.9 653.5,1108.9 654,1109 654.6,1109 655.1,1109 655.6,1109 656.1,1109 656.7,1109 657.2,1109 657.7,1109 658.3,1109 658.8,1109 659.3,1109 659.9,1109 660.4,1109 660.9,1109 661.4,1109 662,1109 662.5,1109 663,1109 663.6,1109.1 664.1,1109.1 664.6,1109.1 665.1,1109.1 665.7,1109.1 666.2,1109.1 666.7,1109.1" fill="none" stroke="#2a2a2a" stroke-width="1.7" stroke-linejoin="round" stroke-dasharray="0.1 6.9" stroke-linecap="round"/>
<polyline points="470.9,1042.7 471.5,1040.8 472,1038.8 472.5,1036.7 473.1,1034.6 473.6,1032.3 474.1,1030 474.6,1027.6 475.2,1025 475.7,1022.4 476.2,1019.7 476.8,1016.9 477.3,1013.9 477.8,1010.9 478.3,1007.7 478.9,1004.4 479.4,1000.9 479.9,997.4 480.5,993.7 481,989.8 481.5,985.8 482.1,981.6 482.6,977.3 483.1,972.9 483.6,968.2 484.2,963.5 484.7,958.5 485.2,953.4 485.8,948.1 486.3,942.7 486.8,937.1 487.3,931.4 487.9,925.6 488.4,919.6 488.9,913.5 489.5,907.3 490,901.1 490.5,894.8 491,888.4 491.6,882.1 492.1,875.8 492.6,869.6 493.2,863.5 493.7,857.6 494.2,851.9 494.8,846.4 495.3,841.3 495.8,836.5 496.3,832.1 496.9,828.1 497.4,824.7 497.9,821.7 498.5,819.4 499,817.6 499.5,816.5 500,816 500.6,816.2 501.1,817 501.6,818.4 502.2,820.4 502.7,823.1 503.2,826.3 503.7,830 504.3,834.1 504.8,838.7 505.3,843.7 505.9,849 506.4,854.6 506.9,860.4 507.4,866.5 508,872.6 508.5,878.9 509,885.2 509.6,891.5 510.1,897.8 510.6,904.1 511.2,910.3 511.7,916.4 512.2,922.5 512.7,928.4 513.3,934.2 513.8,939.8 514.3,945.3 514.9,950.7 515.4,955.9 515.9,960.9 516.4,965.8 517,970.5 517.5,975 518,979.4 518.6,983.7 519.1,987.7 519.6,991.7 520.2,995.5 520.7,999.1 521.2,1002.6 521.7,1006 522.3,1009.2 522.8,1012.4 523.3,1015.4 523.9,1018.2 524.4,1021 524.9,1023.7 525.4,1026.3 526,1028.7 526.5,1031.1 527,1033.4 527.6,1035.6 528.1,1037.7 528.6,1039.8 529.1,1041.7 529.7,1043.6 530.2,1045.4 530.7,1047.2 531.3,1048.9 531.8,1050.5 532.3,1052.1 532.9,1053.6 533.4,1055 533.9,1056.5 534.4,1057.8 535,1059.1 535.5,1060.4 536,1061.6 536.6,1062.8 537.1,1064 537.6,1065.1 538.1,1066.1 538.7,1067.2 539.2,1068.2 539.7,1069.1 540.3,1070.1 540.8,1071 541.3,1071.8 541.8,1072.7 542.4,1073.5 542.9,1074.3 543.4,1075.1 544,1075.8 544.5,1076.6 545,1077.3 545.5,1078 546.1,1078.6 546.6,1079.3 547.1,1079.9 547.7,1080.5 548.2,1081.1 548.7,1081.7 549.3,1082.2 549.8,1082.8 550.3,1083.3 550.8,1083.8 551.4,1084.3 551.9,1084.8 552.4,1085.3 553,1085.7 553.5,1086.2 554,1086.6 554.5,1087.1 555.1,1087.5 555.6,1087.9 556.1,1088.3 556.7,1088.6 557.2,1089 557.7,1089.4 558.2,1089.7 558.8,1090.1 559.3,1090.4 559.8,1090.8 560.4,1091.1 560.9,1091.4 561.4,1091.7 562,1092 562.5,1092.3 563,1092.6 563.5,1092.9 564.1,1093.1 564.6,1093.4 565.1,1093.7 565.7,1093.9 566.2,1094.2 566.7,1094.4 567.2,1094.7 567.8,1094.9 568.3,1095.1 568.8,1095.3 569.4,1095.6 569.9,1095.8 570.4,1096 571,1096.2 571.5,1096.4 572,1096.6 572.5,1096.8 573.1,1097 573.6,1097.2 574.1,1097.3 574.7,1097.5 575.2,1097.7 575.7,1097.9 576.2,1098 576.8,1098.2 577.3,1098.4 577.8,1098.5 578.4,1098.7 578.9,1098.8 579.4,1099 579.9,1099.1 580.5,1099.3 581,1099.4 581.5,1099.5 582.1,1099.7 582.6,1099.8 583.1,1099.9 583.7,1100.1 584.2,1100.2 584.7,1100.3 585.2,1100.4 585.8,1100.6 586.3,1100.7 586.8,1100.8 587.4,1100.9 587.9,1101 588.4,1101.1 588.9,1101.2 589.5,1101.3 590,1101.5 590.5,1101.6 591.1,1101.7 591.6,1101.8 592.1,1101.9 592.6,1101.9 593.2,1102 593.7,1102.1 594.2,1102.2 594.8,1102.3 595.3,1102.4 595.8,1102.5 596.4,1102.6 596.9,1102.7 597.4,1102.7 597.9,1102.8 598.5,1102.9 599,1103 599.5,1103.1 600.1,1103.1 600.6,1103.2 601.1,1103.3 601.6,1103.4 602.2,1103.4 602.7,1103.5 603.2,1103.6 603.8,1103.6 604.3,1103.7 604.8,1103.8 605.3,1103.8 605.9,1103.9 606.4,1104 606.9,1104 607.5,1104.1 608,1104.2 608.5,1104.2 609,1104.3 609.6,1104.3 610.1,1104.4 610.6,1104.5 611.2,1104.5 611.7,1104.6 612.2,1104.6 612.8,1104.7 613.3,1104.7 613.8,1104.8 614.3,1104.8 614.9,1104.9 615.4,1104.9 615.9,1105 616.5,1105 617,1105.1 617.5,1105.1 618,1105.2 618.6,1105.2 619.1,1105.3 619.6,1105.3 620.2,1105.4 620.7,1105.4 621.2,1105.4 621.8,1105.5 622.3,1105.5 622.8,1105.6 623.3,1105.6 623.9,1105.7 624.4,1105.7 624.9,1105.7 625.5,1105.8 626,1105.8 626.5,1105.9 627,1105.9 627.6,1105.9 628.1,1106 628.6,1106 629.2,1106 629.7,1106.1 630.2,1106.1 630.7,1106.1 631.3,1106.2 631.8,1106.2 632.3,1106.3 632.9,1106.3 633.4,1106.3 633.9,1106.3 634.5,1106.4 635,1106.4 635.5,1106.4 636,1106.5 636.6,1106.5 637.1,1106.5 637.6,1106.6 638.2,1106.6 638.7,1106.6 639.2,1106.7 639.7,1106.7 640.3,1106.7 640.8,1106.7 641.3,1106.8 641.9,1106.8 642.4,1106.8 642.9,1106.9 643.4,1106.9 644,1106.9 644.5,1106.9 645,1107 645.6,1107 646.1,1107 646.6,1107 647.1,1107.1 647.7,1107.1 648.2,1107.1 648.7,1107.1 649.3,1107.2 649.8,1107.2 650.3,1107.2 650.9,1107.2 651.4,1107.2 651.9,1107.3 652.4,1107.3 653,1107.3 653.5,1107.3 654,1107.4 654.6,1107.4 655.1,1107.4 655.6,1107.4 656.1,1107.4 656.7,1107.5 657.2,1107.5 657.7,1107.5 658.3,1107.5 658.8,1107.5 659.3,1107.6 659.9,1107.6 660.4,1107.6 660.9,1107.6 661.4,1107.6 662,1107.7 662.5,1107.7 663,1107.7 663.6,1107.7 664.1,1107.7 664.6,1107.7 665.1,1107.8 665.7,1107.8 666.2,1107.8 666.7,1107.8" fill="none" stroke="#2a2a2a" stroke-width="1.7" stroke-linejoin="round" stroke-dasharray="0.1 6.9" stroke-linecap="round"/>
<rect x="82" y="623" width="635" height="494.5" fill="none" stroke="#424242" stroke-width="2"/>
<path d="M82 1117.5v8.5M134.9 1117.5v3.5M187.8 1117.5v8.5M240.8 1117.5v3.5M293.7 1117.5v8.5M346.6 1117.5v3.5M399.5 1117.5v8.5M452.4 1117.5v3.5M505.3 1117.5v8.5M558.2 1117.5v3.5M611.2 1117.5v8.5M664.1 1117.5v3.5M717 1117.5v8.5" stroke="#424242" stroke-width="2" fill="none"/>
<text x="60.31" y="1151.30" font-size="24.3" font-weight="normal" fill="#000" stroke="#000" stroke-width="1.3" stroke-linejoin="round" letter-spacing="1.4">800</text>
<text x="158.27" y="1151.30" font-size="24.3" font-weight="normal" fill="#000" stroke="#000" stroke-width="1.3" stroke-linejoin="round" letter-spacing="1.4">1000</text>
<text x="264.11" y="1151.30" font-size="24.3" font-weight="normal" fill="#000" stroke="#000" stroke-width="1.3" stroke-linejoin="round" letter-spacing="1.4">1200</text>
<text x="369.94" y="1151.30" font-size="24.3" font-weight="normal" fill="#000" stroke="#000" stroke-width="1.3" stroke-linejoin="round" letter-spacing="1.4">1400</text>
<text x="475.77" y="1151.30" font-size="24.3" font-weight="normal" fill="#000" stroke="#000" stroke-width="1.3" stroke-linejoin="round" letter-spacing="1.4">1600</text>
<text x="581.61" y="1151.30" font-size="24.3" font-weight="normal" fill="#000" stroke="#000" stroke-width="1.3" stroke-linejoin="round" letter-spacing="1.4">1800</text>
<text x="687.74" y="1151.30" font-size="24.3" font-weight="normal" fill="#000" stroke="#000" stroke-width="1.3" stroke-linejoin="round" letter-spacing="1.4">2000</text>
<text transform="translate(270.62 1200.40) scale(0.9810 1.0000)" font-size="29.5" font-weight="bold" fill="#000" xml:space="preserve">Raman shift (cm<tspan font-size="14.8"> </tspan><tspan font-size="19.5" dy="-11.8">-1</tspan><tspan dy="11.8">)</tspan></text>
<text transform="translate(40.10 944.71) rotate(-90) scale(0.9613 0.9600)" font-size="29" font-weight="bold" fill="#000" xml:space="preserve">Intensity (a.u.)</text>
<text transform="translate(668.05 671.25) scale(0.9966 1.0000)" font-size="30" font-weight="bold" fill="#000" xml:space="preserve">c</text>
<text transform="translate(104.89 678.80) scale(0.9541 1.0000)" font-size="30" font-weight="bold" fill="#000" xml:space="preserve">12 Hours</text>
</g>
<g>
<polyline points="833.8,1104.2 834.3,1104.7 834.8,1103.5 835.3,1104.4 835.8,1104.1 836.4,1102.6 836.9,1103 837.4,1104.4 837.9,1104.6 838.4,1103.2 839,1104.2 839.5,1104.2 840,1104.4 840.5,1104.5 841,1103.1 841.6,1103.8 842.1,1103.5 842.6,1105 843.1,1105.1 843.6,1104.2 844.2,1103 844.7,1103.5 845.2,1103.9 845.7,1102.7 846.2,1105.2 846.8,1104.9 847.3,1104.6 847.8,1103.3 848.3,1104.6 848.8,1103 849.4,1102.4 849.9,1103.7 850.4,1103.7 850.9,1101.3 851.4,1101.5 852,1103.6 852.5,1105.5 853,1105 853.5,1103.3 854,1103.8 854.6,1102.4 855.1,1103.1 855.6,1102 856.1,1102.5 856.6,1102.8 857.2,1103.6 857.7,1102.9 858.2,1103.8 858.7,1103 859.3,1103.4 859.8,1103.7 860.3,1101.3 860.8,1101.9 861.3,1102.6 861.9,1101.8 862.4,1102.3 862.9,1101.1 863.4,1102.2 863.9,1102.9 864.5,1102.7 865,1104.5 865.5,1103.4 866,1102.2 866.5,1101.4 867.1,1101.9 867.6,1101.1 868.1,1102.6 868.6,1101.7 869.1,1101.6 869.7,1103.5 870.2,1103.4 870.7,1102.2 871.2,1102.8 871.7,1101.9 872.3,1102.1 872.8,1101.6 873.3,1100.4 873.8,1101.2 874.3,1102.1 874.9,1101.1 875.4,1099.9 875.9,1100 876.4,1098.5 876.9,1099.3 877.5,1099.5 878,1102.1 878.5,1100.9 879,1098.9 879.5,1100.7 880.1,1100.6 880.6,1100.3 881.1,1100.5 881.6,1100.5 882.1,1099.9 882.7,1100.8 883.2,1100.9 883.7,1099.7 884.2,1099.6 884.8,1098.9 885.3,1099.7 885.8,1100.5 886.3,1100.6 886.8,1100.4 887.4,1099.7 887.9,1100.9 888.4,1099.8 888.9,1099.3 889.4,1099 890,1099.1 890.5,1098.9 891,1100.9 891.5,1100.2 892,1097.5 892.6,1097.8 893.1,1097.3 893.6,1099 894.1,1100.3 894.6,1098.7 895.2,1098.9 895.7,1098.5 896.2,1098.7 896.7,1100.1 897.2,1098.6 897.8,1096.9 898.3,1098.3 898.8,1098.8 899.3,1098.8 899.8,1099.2 900.4,1097.6 900.9,1097.9 901.4,1097.9 901.9,1097.7 902.4,1096.2 903,1095.9 903.5,1098 904,1098 904.5,1097.7 905,1098.2 905.6,1096.9 906.1,1095.7 906.6,1095.7 907.1,1095.5 907.6,1096.1 908.2,1095.8 908.7,1096.4 909.2,1096.2 909.7,1096.3 910.3,1097.1 910.8,1098.1 911.3,1098.5 911.8,1097.1 912.3,1096.5 912.9,1095.8 913.4,1096.9 913.9,1097.9 914.4,1096 914.9,1096.4 915.5,1095.8 916,1095.4 916.5,1095.8 917,1095.3 917.5,1096.2 918.1,1094.4 918.6,1094.1 919.1,1094.9 919.6,1094.2 920.1,1095.1 920.7,1093.8 921.2,1094.4 921.7,1093.6 922.2,1094.1 922.7,1095.3 923.3,1097.1 923.8,1096.7 924.3,1096.7 924.8,1095.3 925.3,1096.6 925.9,1095 926.4,1093.9 926.9,1092.8 927.4,1093.8 927.9,1095.2 928.5,1093.8 929,1093.3 929.5,1093.2 930,1093.2 930.5,1093 931.1,1092 931.6,1094.3 932.1,1092.1 932.6,1091.6 933.1,1093.2 933.7,1094.4 934.2,1093.4 934.7,1092.7 935.2,1092.9 935.8,1092.7 936.3,1093.6 936.8,1092.6 937.3,1091.4 937.8,1091.7 938.4,1092.4 938.9,1093.7 939.4,1094.5 939.9,1092.5 940.4,1090.5 941,1090 941.5,1093.5 942,1092.4 942.5,1092.1 943,1093.9 943.6,1091.7 944.1,1091 944.6,1090.7 945.1,1089.9 945.6,1091.6 946.2,1092.6 946.7,1089.5 947.2,1091.1 947.7,1091 948.2,1090.8 948.8,1090.9 949.3,1089.2 949.8,1089.5 950.3,1089.1 950.8,1091.7 951.4,1093.2 951.9,1091 952.4,1088.6 952.9,1090.4 953.4,1089.9 954,1091.2 954.5,1092.2 955,1091.9 955.5,1089.4 956,1087.7 956.6,1087.7 957.1,1088.3 957.6,1087.5 958.1,1089.3 958.6,1089.5 959.2,1088.4 959.7,1087.6 960.2,1088.4 960.7,1089.5 961.3,1086.1 961.8,1086.7 962.3,1087 962.8,1086.1 963.3,1086.2 963.9,1086.7 964.4,1088.7 964.9,1087.3 965.4,1085.7 965.9,1084.4 966.5,1086.1 967,1085.2 967.5,1084.9 968,1086 968.5,1085.4 969.1,1084.4 969.6,1084.2 970.1,1085.3 970.6,1084.6 971.1,1084.2 971.7,1084.3 972.2,1083.3 972.7,1083.5 973.2,1082.9 973.7,1083.9 974.3,1083.7 974.8,1080.5 975.3,1080.9 975.8,1082.9 976.3,1081.8 976.9,1080.6 977.4,1081.9 977.9,1079.9 978.4,1079.9 978.9,1080.8 979.5,1081.1 980,1078.8 980.5,1077.3 981,1080.1 981.5,1078.5 982.1,1077.8 982.6,1080.9 983.1,1078.4 983.6,1074.5 984.2,1079.3 984.7,1079.4 985.2,1077.4 985.7,1079.6 986.2,1076.4 986.8,1077.1 987.3,1075.8 987.8,1074.4 988.3,1075 988.8,1075.4 989.4,1075.7 989.9,1075.5 990.4,1073 990.9,1072.3 991.4,1074.6 992,1073.7 992.5,1072 993,1072.9 993.5,1073.3 994,1072.9 994.6,1070.2 995.1,1069 995.6,1070.2 996.1,1071 996.6,1067.9 997.2,1067.2 997.7,1067.5 998.2,1068.9 998.7,1066.6 999.2,1070 999.8,1068.4 1000.3,1067.3 1000.8,1069.4 1001.3,1067.9 1001.8,1066.9 1002.4,1065.5 1002.9,1065.5 1003.4,1063.6 1003.9,1063.8 1004.4,1064.2 1005,1062.7 1005.5,1064.5 1006,1064.7 1006.5,1061.1 1007,1063.1 1007.6,1062.1 1008.1,1062.9 1008.6,1057.1 1009.1,1061.4 1009.7,1062.5 1010.2,1064.8 1010.7,1061 1011.2,1060.4 1011.7,1061 1012.3,1062.8 1012.8,1061.7 1013.3,1061.7 1013.8,1063.2 1014.3,1062.9 1014.9,1060.9 1015.4,1060.2 1015.9,1060.3 1016.4,1060.9 1016.9,1059.7 1017.5,1060.2 1018,1061.4 1018.5,1060.3 1019,1059.7 1019.5,1060.6 1020.1,1061.7 1020.6,1059.1 1021.1,1058.3 1021.6,1061.5 1022.1,1061 1022.7,1058.8 1023.2,1059.7 1023.7,1062.3 1024.2,1060.2 1024.7,1058.4 1025.3,1059.1 1025.8,1061.9 1026.3,1059.9 1026.8,1060.1 1027.3,1061.3 1027.9,1061 1028.4,1059.4 1028.9,1060.1 1029.4,1059.9 1029.9,1060.4 1030.5,1060 1031,1059.3 1031.5,1056.5 1032,1058.5 1032.5,1058.7 1033.1,1055.4 1033.6,1056.9 1034.1,1058.3 1034.6,1057.8 1035.2,1054.2 1035.7,1054.9 1036.2,1055.4 1036.7,1055.9 1037.2,1053.3 1037.8,1055.4 1038.3,1057 1038.8,1057 1039.3,1055.8 1039.8,1055.1 1040.4,1056.3 1040.9,1055.9 1041.4,1054 1041.9,1054.2 1042.4,1054.8 1043,1055.3 1043.5,1054.3 1044,1051.7 1044.5,1051 1045,1051.7 1045.6,1051.8 1046.1,1052.4 1046.6,1048.4 1047.1,1047.8 1047.6,1047.4 1048.2,1049.8 1048.7,1050.2 1049.2,1048.9 1049.7,1048.8 1050.2,1046.6 1050.8,1046.8 1051.3,1046.2 1051.8,1045.4 1052.3,1044.6 1052.8,1045.4 1053.4,1045.6 1053.9,1041.5 1054.4,1040.6 1054.9,1041.4 1055.4,1041.8 1056,1038.3 1056.5,1037.2 1057,1037.9 1057.5,1040.6 1058,1037.3 1058.6,1035.6 1059.1,1035.7 1059.6,1035.1 1060.1,1034.7 1060.7,1033.8 1061.2,1032.6 1061.7,1032.5 1062.2,1031.9 1062.7,1031.3 1063.3,1030.5 1063.8,1027.3 1064.3,1027.5 1064.8,1027.5 1065.3,1027 1065.9,1026.9 1066.4,1027.3 1066.9,1023.3 1067.4,1021.9 1067.9,1021.9 1068.5,1019.9 1069,1018.9 1069.5,1018 1070,1016.8 1070.5,1020.1 1071.1,1017.2 1071.6,1017.1 1072.1,1013.3 1072.6,1012.5 1073.1,1010.7 1073.7,1010.6 1074.2,1012.3 1074.7,1012.6 1075.2,1009.8 1075.7,1007.3 1076.3,1005.2 1076.8,1004.3 1077.3,1005 1077.8,999.5 1078.3,998.3 1078.9,996.9 1079.4,998.4 1079.9,994.8 1080.4,995.3 1080.9,992.1 1081.5,989.4 1082,992.5 1082.5,992.1 1083,987 1083.5,982.6 1084.1,981.8 1084.6,983.5 1085.1,982 1085.6,978.2 1086.2,978.5 1086.7,979.4 1087.2,973.8 1087.7,971.9 1088.2,969.5 1088.8,970.5 1089.3,968.2 1089.8,964 1090.3,959.5 1090.8,960.8 1091.4,958.7 1091.9,956.4 1092.4,953.7 1092.9,952.1 1093.4,946 1094,943.4 1094.5,943.6 1095,944.6 1095.5,938.7 1096,935.1 1096.6,930.6 1097.1,926.8 1097.6,924.4 1098.1,920.2 1098.6,917.9 1099.2,914.8 1099.7,914.9 1100.2,908.5 1100.7,905 1101.2,898.7 1101.8,895.8 1102.3,895.7 1102.8,886 1103.3,877.2 1103.8,876.4 1104.4,871.2 1104.9,864.2 1105.4,860 1105.9,854.7 1106.4,850.9 1107,844 1107.5,834.9 1108,826.5 1108.5,818.1 1109.1,812.4 1109.6,811.6 1110.1,801 1110.6,795.1 1111.1,792.6 1111.7,785.4 1112.2,780 1112.7,772.1 1113.2,766.4 1113.7,755.1 1114.3,745.4 1114.8,745.5 1115.3,737.9 1115.8,729.2 1116.3,721.2 1116.9,720.4 1117.4,714.5 1117.9,708.2 1118.4,700.6 1118.9,697 1119.5,692.8 1120,689.9 1120.5,688.8 1121,679.3 1121.5,662.7 1122.1,675.4 1122.6,681.7 1123.1,686.5 1123.6,690.7 1124.1,684.6 1124.7,691.5 1125.2,691.3 1125.7,697.5 1126.2,698.7 1126.7,704.4 1127.3,705.8 1127.8,713.3 1128.3,719.2 1128.8,728.2 1129.3,733.7 1129.9,734.8 1130.4,742.5 1130.9,747.8 1131.4,755.6 1131.9,766.5 1132.5,774.8 1133,778 1133.5,780.9 1134,788.7 1134.6,801 1135.1,804.3 1135.6,805.3 1136.1,810.4 1136.6,817.1 1137.2,828.5 1137.7,833.3 1138.2,836.7 1138.7,844.3 1139.2,852.1 1139.8,855.4 1140.3,857.9 1140.8,864.4 1141.3,871.3 1141.8,871 1142.4,873.7 1142.9,885.4 1143.4,889.2 1143.9,891.5 1144.4,891.5 1145,894.4 1145.5,899.7 1146,906.9 1146.5,909 1147,907.6 1147.6,915.5 1148.1,921.2 1148.6,922.6 1149.1,920.7 1149.6,922.5 1150.2,926.1 1150.7,929.7 1151.2,935.6 1151.7,935.5 1152.2,942 1152.8,942 1153.3,939.6 1153.8,941.3 1154.3,941.5 1154.8,945.6 1155.4,948.1 1155.9,950.7 1156.4,954.3 1156.9,954.5 1157.4,955.6 1158,958.3 1158.5,959 1159,961.4 1159.5,960 1160.1,961.8 1160.6,966.7 1161.1,968.9 1161.6,971.4 1162.1,969.6 1162.7,971 1163.2,974 1163.7,975.8 1164.2,977.1 1164.7,981.4 1165.3,980.8 1165.8,981.1 1166.3,984.1 1166.8,986 1167.3,986.8 1167.9,990.5 1168.4,991.1 1168.9,990.2 1169.4,989.6 1169.9,994 1170.5,993.6 1171,995.2 1171.5,995.5 1172,1000.3 1172.5,1000.9 1173.1,996.8 1173.6,999.4 1174.1,999 1174.6,1000.1 1175.1,1003.8 1175.7,1002.1 1176.2,1004.1 1176.7,1005.3 1177.2,1007.1 1177.7,1005.5 1178.3,1007.5 1178.8,1007.6 1179.3,1009.7 1179.8,1009.6 1180.3,1010.4 1180.9,1012.3 1181.4,1012.8 1181.9,1011.1 1182.4,1011.9 1182.9,1011.5 1183.5,1012 1184,1014.4 1184.5,1011.4 1185,1009.3 1185.6,1011.9 1186.1,1011.4 1186.6,1013.6 1187.1,1014.3 1187.6,1013.6 1188.2,1012.4 1188.7,1011.1 1189.2,1010 1189.7,1010.1 1190.2,1011 1190.8,1009.7 1191.3,1012.1 1191.8,1012.6 1192.3,1009 1192.8,1005.1 1193.4,1010 1193.9,1008.6 1194.4,1004 1194.9,1004.5 1195.4,1008.1 1196,1010.9 1196.5,1010.7 1197,1011 1197.5,1011.5 1198,1011.6 1198.6,1006.7 1199.1,1005.6 1199.6,1005.1 1200.1,1005.6 1200.6,1005 1201.2,1005.4 1201.7,1008.1 1202.2,1004.7 1202.7,1005 1203.2,1002.8 1203.8,1000.7 1204.3,1004 1204.8,1003.4 1205.3,1002.6 1205.8,1004.6 1206.4,1000.6 1206.9,1000.5 1207.4,1003.5 1207.9,999.8 1208.5,999.7 1209,1001.3 1209.5,1001.2 1210,1000.2 1210.5,999.9 1211.1,998.6 1211.6,998 1212.1,996.8 1212.6,993.5 1213.1,993.4 1213.7,992.7 1214.2,993.7 1214.7,992.4 1215.2,990.7 1215.7,988.9 1216.3,988.1 1216.8,986.7 1217.3,983.8 1217.8,981 1218.3,979 1218.9,976 1219.4,979.2 1219.9,976.7 1220.4,970.3 1220.9,967.7 1221.5,966.8 1222,963.1 1222.5,961.7 1223,959 1223.5,956.8 1224.1,946.4 1224.6,946.2 1225.1,944.3 1225.6,941.2 1226.1,934.5 1226.7,928.3 1227.2,922.6 1227.7,920.5 1228.2,916.1 1228.7,906.5 1229.3,901.5 1229.8,897.7 1230.3,889.5 1230.8,883.8 1231.3,878.5 1231.9,870.9 1232.4,861.1 1232.9,859 1233.4,852.3 1234,844.1 1234.5,834.6 1235,827.7 1235.5,818.8 1236,811.6 1236.6,805.2 1237.1,799.1 1237.6,789.6 1238.1,781 1238.6,779.2 1239.2,768.7 1239.7,764.1 1240.2,759.9 1240.7,757 1241.2,751.2 1241.8,745.3 1242.3,745.1 1242.8,740.9 1243.3,739.1 1243.8,741.7 1244.4,743.6 1244.9,740.9 1245.4,747.8 1245.9,749.7 1246.4,754.2 1247,758.3 1247.5,759 1248,760.3 1248.5,761.1 1249,769.8 1249.6,777.4 1250.1,778.3 1250.6,780 1251.1,780.8 1251.6,782.5 1252.2,787.2 1252.7,793.6 1253.2,793.2 1253.7,796 1254.2,797.2 1254.8,796.5 1255.3,795.1 1255.8,796.2 1256.3,795.6 1256.8,800.7 1257.4,803.4 1257.9,801.6 1258.4,803.5 1258.9,805.9 1259.5,813.2 1260,821.1 1260.5,824.4 1261,831.2 1261.5,841.4 1262.1,846.2 1262.6,857.4 1263.1,871.3 1263.6,882 1264.1,887.6 1264.7,895.5 1265.2,906.2 1265.7,915.5 1266.2,925.5 1266.7,931.8 1267.3,938.7 1267.8,946.1 1268.3,955.6 1268.8,958.3 1269.3,966.6 1269.9,972.3 1270.4,977.1 1270.9,980.4 1271.4,985.9 1271.9,989.7 1272.5,990.6 1273,998.4 1273.5,1001.7 1274,1006.6 1274.5,1009 1275.1,1012.9 1275.6,1016.7 1276.1,1017.6 1276.6,1022.4 1277.1,1025.3 1277.7,1024.9 1278.2,1032.6 1278.7,1035.7 1279.2,1037 1279.7,1038.6 1280.3,1041.7 1280.8,1042.3 1281.3,1045.2 1281.8,1048.2 1282.3,1048.1 1282.9,1049.7 1283.4,1051.9 1283.9,1051.3 1284.4,1054.5 1285,1056.5 1285.5,1059.5 1286,1060.2 1286.5,1059.6 1287,1061.7 1287.6,1062.7 1288.1,1061.1 1288.6,1064.1 1289.1,1065.1 1289.6,1068.9 1290.2,1070.2 1290.7,1071.4 1291.2,1072.1 1291.7,1072.1 1292.2,1073.8 1292.8,1072.4 1293.3,1075 1293.8,1076 1294.3,1074 1294.8,1076.1 1295.4,1078.7 1295.9,1078.5 1296.4,1076 1296.9,1082.4 1297.4,1080.7 1298,1080.2 1298.5,1081.3 1299,1081.9 1299.5,1083.7 1300,1085.2 1300.6,1085.3 1301.1,1085.6 1301.6,1085.2 1302.1,1085.1 1302.6,1084.8 1303.2,1088.3 1303.7,1088.5 1304.2,1087.7 1304.7,1086.4 1305.2,1085.1 1305.8,1085.8 1306.3,1086.7 1306.8,1087.1 1307.3,1088.5 1307.8,1088 1308.4,1088.8 1308.9,1089.2 1309.4,1089.5 1309.9,1088.8 1310.5,1089.5 1311,1089.3 1311.5,1089.1 1312,1088.7 1312.5,1088.7 1313.1,1089.1 1313.6,1089.8 1314.1,1088.5 1314.6,1088.3 1315.1,1088.9 1315.7,1090.2 1316.2,1089.4 1316.7,1089.6 1317.2,1090.2 1317.7,1089.3 1318.3,1090.5 1318.8,1088.5 1319.3,1086.9 1319.8,1086.9 1320.3,1087.3 1320.9,1087.7 1321.4,1088.1 1321.9,1088.8 1322.4,1088.2 1322.9,1087.7 1323.5,1088.8 1324,1088.5 1324.5,1088.6 1325,1088 1325.5,1086.8 1326.1,1087.7 1326.6,1088.1 1327.1,1088.6 1327.6,1088.4 1328.1,1087.4 1328.7,1089.4 1329.2,1087.6 1329.7,1082.7 1330.2,1086.7 1330.7,1087.3 1331.3,1088.4 1331.8,1087.8 1332.3,1087.9 1332.8,1088.4 1333.3,1089 1333.9,1086.8 1334.4,1087.7 1334.9,1087.1 1335.4,1088.8 1336,1088 1336.5,1087.3 1337,1088.6 1337.5,1088.6 1338,1088.3 1338.6,1089.1 1339.1,1088.3 1339.6,1087.7 1340.1,1089.3 1340.6,1088.5 1341.2,1088.6 1341.7,1087.6 1342.2,1088.2 1342.7,1088.5 1343.2,1089.1 1343.8,1091.3 1344.3,1088 1344.8,1087.3 1345.3,1088.4 1345.8,1089.2 1346.4,1087.9 1346.9,1088.7 1347.4,1088.6 1347.9,1089.2 1348.4,1088.7 1349,1092 1349.5,1091.1 1350,1090.6 1350.5,1087.9 1351,1088.2 1351.6,1089.6 1352.1,1091.8 1352.6,1090.2 1353.1,1090.4 1353.6,1089.7 1354.2,1090 1354.7,1088.7 1355.2,1088.1 1355.7,1089.3 1356.2,1089.3 1356.8,1092.2 1357.3,1091.3 1357.8,1089.9 1358.3,1091.9 1358.9,1091.6 1359.4,1090.5 1359.9,1090.9 1360.4,1091.4 1360.9,1093.4 1361.5,1092.7 1362,1091.6 1362.5,1091.6 1363,1090.7 1363.5,1093 1364.1,1092.1 1364.6,1092.4 1365.1,1091.9 1365.6,1091.7 1366.1,1090.6 1366.7,1092.3 1367.2,1095.4 1367.7,1096 1368.2,1094.6 1368.7,1095.1 1369.3,1093.5 1369.8,1092.4 1370.3,1094.5 1370.8,1093.9 1371.3,1095.9 1371.9,1096.4 1372.4,1093.8 1372.9,1093.7 1373.4,1094.1 1373.9,1095.2 1374.5,1094.7 1375,1094.7 1375.5,1093.6 1376,1096 1376.5,1096.7 1377.1,1095.7 1377.6,1093.9 1378.1,1095 1378.6,1098.4 1379.1,1097.3 1379.7,1097.1 1380.2,1094.4 1380.7,1094.8 1381.2,1095.7 1381.7,1097.1 1382.3,1095.8 1382.8,1096.7 1383.3,1097.8 1383.8,1097 1384.4,1096.5 1384.9,1097 1385.4,1096 1385.9,1094.9 1386.4,1094.7 1387,1096.4 1387.5,1096.8 1388,1096.9 1388.5,1096.6 1389,1096.9 1389.6,1099 1390.1,1097.8 1390.6,1096.5 1391.1,1096 1391.6,1096.2 1392.2,1097.7 1392.7,1097.7 1393.2,1097.3 1393.7,1097.4 1394.2,1096.4 1394.8,1096.5 1395.3,1097.2 1395.8,1097.5 1396.3,1098.1 1396.8,1099 1397.4,1097.9 1397.9,1098.2 1398.4,1098.7 1398.9,1097.9 1399.4,1098.6 1400,1099.5 1400.5,1097.4 1401,1098.2 1401.5,1099.1 1402,1099 1402.6,1097.4 1403.1,1099 1403.6,1099 1404.1,1098 1404.6,1097.1 1405.2,1098.6 1405.7,1098.9 1406.2,1097.6 1406.7,1099.9 1407.2,1098.5 1407.8,1099.1 1408.3,1098.4 1408.8,1098.5 1409.3,1099.6 1409.9,1099.2" fill="none" stroke="#000" stroke-width="1.5" stroke-linejoin="round"/>
<polyline points="833.8,1099.8 834.8,1099.7 835.8,1099.7 836.9,1099.7 837.9,1099.6 839,1099.6 840,1099.6 841,1099.6 842.1,1099.5 843.1,1099.5 844.2,1099.5 845.2,1099.4 846.2,1099.4 847.3,1099.4 848.3,1099.3 849.4,1099.3 850.4,1099.2 851.4,1099.2 852.5,1099.2 853.5,1099.1 854.6,1099.1 855.6,1099 856.6,1099 857.7,1099 858.7,1098.9 859.8,1098.9 860.8,1098.8 861.9,1098.8 862.9,1098.7 863.9,1098.7 865,1098.6 866,1098.6 867.1,1098.5 868.1,1098.5 869.1,1098.4 870.2,1098.4 871.2,1098.3 872.3,1098.3 873.3,1098.2 874.3,1098.2 875.4,1098.1 876.4,1098.1 877.5,1098 878.5,1097.9 879.5,1097.9 880.6,1097.8 881.6,1097.7 882.7,1097.7 883.7,1097.6 884.8,1097.5 885.8,1097.5 886.8,1097.4 887.9,1097.3 888.9,1097.3 890,1097.2 891,1097.1 892,1097 893.1,1097 894.1,1096.9 895.2,1096.8 896.2,1096.7 897.2,1096.6 898.3,1096.6 899.3,1096.5 900.4,1096.4 901.4,1096.3 902.4,1096.2 903.5,1096.1 904.5,1096 905.6,1095.9 906.6,1095.9 907.6,1095.8 908.7,1095.7 909.7,1095.6 910.8,1095.5 911.8,1095.4 912.9,1095.3 913.9,1095.2 914.9,1095.1 916,1095 917,1094.8 918.1,1094.7 919.1,1094.6 920.1,1094.5 921.2,1094.4 922.2,1094.3 923.3,1094.2 924.3,1094 925.3,1093.9 926.4,1093.8 927.4,1093.7 928.5,1093.5 929.5,1093.4 930.5,1093.3 931.6,1093.1 932.6,1093 933.7,1092.9 934.7,1092.7 935.8,1092.6 936.8,1092.4 937.8,1092.3 938.9,1092.1 939.9,1092 941,1091.8 942,1091.6 943,1091.5 944.1,1091.3 945.1,1091.1 946.2,1090.9 947.2,1090.8 948.2,1090.6 949.3,1090.4 950.3,1090.1 951.4,1089.9 952.4,1089.7 953.4,1089.5 954.5,1089.2 955.5,1089 956.6,1088.7 957.6,1088.5 958.6,1088.2 959.7,1087.9 960.7,1087.6 961.8,1087.3 962.8,1087 963.9,1086.7 964.9,1086.3 965.9,1086 967,1085.6 968,1085.2 969.1,1084.8 970.1,1084.4 971.1,1083.9 972.2,1083.5 973.2,1083 974.3,1082.5 975.3,1082 976.3,1081.5 977.4,1080.9 978.4,1080.4 979.5,1079.8 980.5,1079.2 981.5,1078.6 982.6,1078 983.6,1077.4 984.7,1076.7 985.7,1076.1 986.8,1075.4 987.8,1074.7 988.8,1074 989.9,1073.3 990.9,1072.6 992,1071.9 993,1071.2 994,1070.5 995.1,1069.8 996.1,1069.1 997.2,1068.4 998.2,1067.7 999.2,1067.1 1000.3,1066.5 1001.3,1065.8 1002.4,1065.3 1003.4,1064.7 1004.4,1064.2 1005.5,1063.7 1006.5,1063.3 1007.6,1062.9 1008.6,1062.5 1009.7,1062.2 1010.7,1061.9 1011.7,1061.6 1012.8,1061.4 1013.8,1061.2 1014.9,1061 1015.9,1060.9 1016.9,1060.8 1018,1060.7 1019,1060.6 1020.1,1060.5 1021.1,1060.4 1022.1,1060.3 1023.2,1060.2 1024.2,1060.1 1025.3,1060 1026.3,1059.8 1027.3,1059.7 1028.4,1059.5 1029.4,1059.3 1030.5,1059 1031.5,1058.8 1032.5,1058.5 1033.6,1058.1 1034.6,1057.8 1035.7,1057.4 1036.7,1056.9 1037.8,1056.4 1038.8,1055.9 1039.8,1055.3 1040.9,1054.7 1041.9,1054 1043,1053.3 1044,1052.5 1045,1051.7 1046.1,1050.8 1047.1,1049.9 1048.2,1049 1049.2,1048 1050.2,1046.9 1051.3,1045.8 1052.3,1044.6 1053.4,1043.5 1054.4,1042.2 1055.4,1040.9 1056.5,1039.6 1057.5,1038.2 1058.6,1036.7 1059.6,1035.2 1060.7,1033.7 1061.7,1032.1 1062.7,1030.5 1063.8,1028.8 1064.8,1027.1 1065.9,1025.3 1066.9,1023.5 1067.9,1021.6 1069,1019.7 1070,1017.8 1071.1,1015.7 1072.1,1013.7 1073.1,1011.5 1074.2,1009.3 1075.2,1007.1 1076.3,1004.8 1077.3,1002.4 1078.3,999.9 1079.4,997.4 1080.4,994.7 1081.5,992 1082.5,989.2 1083.5,986.2 1084.6,983.1 1085.6,979.8 1086.7,976.4 1087.7,972.8 1088.8,969.1 1089.8,965 1090.8,960.8 1091.9,956.3 1092.9,951.4 1094,946.3 1095,940.8 1096,934.9 1097.1,928.6 1098.1,921.9 1099.2,914.6 1100.2,906.8 1101.2,898.5 1102.3,889.6 1103.3,880.1 1104.4,869.9 1105.4,859.1 1106.4,847.7 1107.5,835.7 1108.5,823 1109.6,809.9 1110.6,796.3 1111.7,782.5 1112.7,768.6 1113.7,754.7 1114.8,741.3 1115.8,728.5 1116.9,716.7 1117.9,706.2 1118.9,697.4 1120,690.5 1121,685.9 1122.1,683.6 1123.1,683.8 1124.1,686.5 1125.2,691.5 1126.2,698.6 1127.3,707.6 1128.3,718.1 1129.3,729.9 1130.4,742.5 1131.4,755.7 1132.5,769.1 1133.5,782.6 1134.6,795.8 1135.6,808.7 1136.6,821.1 1137.7,832.9 1138.7,844.1 1139.8,854.7 1140.8,864.5 1141.8,873.7 1142.9,882.3 1143.9,890.2 1145,897.6 1146,904.4 1147,910.7 1148.1,916.6 1149.1,922 1150.2,927.1 1151.2,931.9 1152.2,936.4 1153.3,940.7 1154.3,944.7 1155.4,948.7 1156.4,952.4 1157.4,956.1 1158.5,959.6 1159.5,963.1 1160.6,966.4 1161.6,969.7 1162.7,972.9 1163.7,976.1 1164.7,979.1 1165.8,982 1166.8,984.8 1167.9,987.6 1168.9,990.1 1169.9,992.6 1171,994.9 1172,997.1 1173.1,999.2 1174.1,1001.1 1175.1,1002.8 1176.2,1004.4 1177.2,1005.9 1178.3,1007.2 1179.3,1008.3 1180.3,1009.3 1181.4,1010.1 1182.4,1010.8 1183.5,1011.3 1184.5,1011.7 1185.6,1012 1186.6,1012.1 1187.6,1012.1 1188.7,1011.9 1189.7,1011.7 1190.8,1011.4 1191.8,1010.9 1192.8,1010.4 1193.9,1009.9 1194.9,1009.3 1196,1008.6 1197,1008 1198,1007.3 1199.1,1006.6 1200.1,1005.9 1201.2,1005.3 1202.2,1004.6 1203.2,1003.9 1204.3,1003.2 1205.3,1002.5 1206.4,1001.8 1207.4,1000.9 1208.5,1000 1209.5,999 1210.5,997.8 1211.6,996.4 1212.6,994.7 1213.7,992.8 1214.7,990.7 1215.7,988.1 1216.8,985.2 1217.8,981.9 1218.9,978.2 1219.9,973.9 1220.9,969.1 1222,963.6 1223,957.5 1224.1,950.7 1225.1,943.2 1226.1,934.8 1227.2,925.5 1228.2,915.3 1229.3,904.1 1230.3,892 1231.3,879 1232.4,865.2 1233.4,850.6 1234.5,835.5 1235.5,820.2 1236.6,805 1237.6,790.4 1238.6,776.9 1239.7,765 1240.7,755.4 1241.8,748.3 1242.8,744.1 1243.8,742.9 1244.9,744.4 1245.9,748.4 1247,754.2 1248,761.2 1249,768.8 1250.1,776.2 1251.1,782.9 1252.2,788.4 1253.2,792.6 1254.2,795.3 1255.3,797.1 1256.3,798.7 1257.4,801.2 1258.4,805.9 1259.5,814 1260.5,825.7 1261.5,840.7 1262.6,858.1 1263.6,876.7 1264.7,895.3 1265.7,913.1 1266.7,929.6 1267.8,944.5 1268.8,958 1269.9,970 1270.9,980.6 1271.9,990.1 1273,998.5 1274,1006.1 1275.1,1012.8 1276.1,1018.9 1277.1,1024.4 1278.2,1029.4 1279.2,1033.9 1280.3,1038 1281.3,1041.9 1282.3,1045.3 1283.4,1048.6 1284.4,1051.6 1285.5,1054.3 1286.5,1056.9 1287.6,1059.3 1288.6,1061.5 1289.6,1063.6 1290.7,1065.5 1291.7,1067.3 1292.8,1069 1293.8,1070.6 1294.8,1072 1295.9,1073.4 1296.9,1074.6 1298,1075.8 1299,1076.8 1300,1077.8 1301.1,1078.7 1302.1,1079.6 1303.2,1080.3 1304.2,1081 1305.2,1081.7 1306.3,1082.3 1307.3,1082.8 1308.4,1083.3 1309.4,1083.8 1310.5,1084.2 1311.5,1084.6 1312.5,1085 1313.6,1085.4 1314.6,1085.7 1315.7,1086 1316.7,1086.3 1317.7,1086.6 1318.8,1086.9 1319.8,1087.2 1320.9,1087.5 1321.9,1087.7 1322.9,1088 1324,1088.3 1325,1088.5 1326.1,1088.8 1327.1,1089 1328.1,1089.3 1329.2,1089.5 1330.2,1089.8 1331.3,1090 1332.3,1090.3 1333.3,1090.5 1334.4,1090.7 1335.4,1091 1336.5,1091.2 1337.5,1091.4 1338.6,1091.6 1339.6,1091.9 1340.6,1092.1 1341.7,1092.3 1342.7,1092.5 1343.8,1092.7 1344.8,1092.9 1345.8,1093.1 1346.9,1093.3 1347.9,1093.4 1349,1093.6 1350,1093.8 1351,1093.9 1352.1,1094.1 1353.1,1094.3 1354.2,1094.4 1355.2,1094.6 1356.2,1094.7 1357.3,1094.9 1358.3,1095 1359.4,1095.1 1360.4,1095.3 1361.5,1095.4 1362.5,1095.5 1363.5,1095.7 1364.6,1095.8 1365.6,1095.9 1366.7,1096 1367.7,1096.1 1368.7,1096.3 1369.8,1096.4 1370.8,1096.5 1371.9,1096.6 1372.9,1096.7 1373.9,1096.8 1375,1096.9 1376,1097 1377.1,1097.1 1378.1,1097.2 1379.1,1097.3 1380.2,1097.4 1381.2,1097.4 1382.3,1097.5 1383.3,1097.6 1384.4,1097.7 1385.4,1097.8 1386.4,1097.9 1387.5,1097.9 1388.5,1098 1389.6,1098.1 1390.6,1098.2 1391.6,1098.2 1392.7,1098.3 1393.7,1098.4 1394.8,1098.4 1395.8,1098.5 1396.8,1098.6 1397.9,1098.6 1398.9,1098.7 1400,1098.8 1401,1098.8 1402,1098.9 1403.1,1099 1404.1,1099 1405.2,1099.1 1406.2,1099.1 1407.2,1099.2 1408.3,1099.2 1409.3,1099.3" fill="none" stroke="#2a2ab0" stroke-width="1.15" stroke-linejoin="round"/>
<polyline points="833.8,1101.8 834.8,1101.8 835.8,1101.8 836.9,1101.8 837.9,1101.8 839,1101.8 840,1101.8 841,1101.8 842.1,1101.8 843.1,1101.8 844.2,1101.8 845.2,1101.8 846.2,1101.8 847.3,1101.8 848.3,1101.8 849.4,1101.8 850.4,1101.8 851.4,1101.8 852.5,1101.7 853.5,1101.7 854.6,1101.7 855.6,1101.7 856.6,1101.7 857.7,1101.7 858.7,1101.7 859.8,1101.7 860.8,1101.7 861.9,1101.7 862.9,1101.7 863.9,1101.7 865,1101.7 866,1101.7 867.1,1101.7 868.1,1101.7 869.1,1101.7 870.2,1101.7 871.2,1101.7 872.3,1101.7 873.3,1101.7 874.3,1101.7 875.4,1101.7 876.4,1101.7 877.5,1101.6 878.5,1101.6 879.5,1101.6 880.6,1101.6 881.6,1101.6 882.7,1101.6 883.7,1101.6 884.8,1101.6 885.8,1101.6 886.8,1101.6 887.9,1101.6 888.9,1101.6 890,1101.6 891,1101.6 892,1101.6 893.1,1101.6 894.1,1101.5 895.2,1101.5 896.2,1101.5 897.2,1101.5 898.3,1101.5 899.3,1101.5 900.4,1101.5 901.4,1101.5 902.4,1101.5 903.5,1101.5 904.5,1101.5 905.6,1101.4 906.6,1101.4 907.6,1101.4 908.7,1101.4 909.7,1101.4 910.8,1101.4 911.8,1101.4 912.9,1101.4 913.9,1101.3 914.9,1101.3 916,1101.3 917,1101.3 918.1,1101.3 919.1,1101.3 920.1,1101.3 921.2,1101.2 922.2,1101.2 923.3,1101.2 924.3,1101.2 925.3,1101.2 926.4,1101.1 927.4,1101.1 928.5,1101.1 929.5,1101.1 930.5,1101.1 931.6,1101 932.6,1101 933.7,1101 934.7,1100.9 935.8,1100.9 936.8,1100.9 937.8,1100.8 938.9,1100.8 939.9,1100.8 941,1100.7 942,1100.7 943,1100.6 944.1,1100.6 945.1,1100.5 946.2,1100.5 947.2,1100.4 948.2,1100.3 949.3,1100.3 950.3,1100.2 951.4,1100.1 952.4,1100 953.4,1099.9 954.5,1099.8 955.5,1099.7 956.6,1099.6 957.6,1099.4 958.6,1099.3 959.7,1099.2 960.7,1099 961.8,1098.8 962.8,1098.7 963.9,1098.5 964.9,1098.3 965.9,1098.1 967,1097.8 968,1097.6 969.1,1097.3 970.1,1097.1 971.1,1096.8 972.2,1096.5 973.2,1096.2 974.3,1095.9 975.3,1095.5 976.3,1095.2 977.4,1094.8 978.4,1094.4 979.5,1094 980.5,1093.6 981.5,1093.2 982.6,1092.8 983.6,1092.3 984.7,1091.8 985.7,1091.4 986.8,1090.9 987.8,1090.4 988.8,1089.9 989.9,1089.5 990.9,1089 992,1088.5 993,1088 994,1087.5 995.1,1087 996.1,1086.6 997.2,1086.2 998.2,1085.7 999.2,1085.4 1000.3,1085 1001.3,1084.7 1002.4,1084.4 1003.4,1084.1 1004.4,1083.9 1005.5,1083.7 1006.5,1083.6 1007.6,1083.5 1008.6,1083.5 1009.7,1083.5 1010.7,1083.6 1011.7,1083.7 1012.8,1083.9 1013.8,1084.1 1014.9,1084.4 1015.9,1084.7 1016.9,1085 1018,1085.4 1019,1085.7 1020.1,1086.2 1021.1,1086.6 1022.1,1087 1023.2,1087.5 1024.2,1088 1025.3,1088.5 1026.3,1089 1027.3,1089.5 1028.4,1089.9 1029.4,1090.4 1030.5,1090.9 1031.5,1091.4 1032.5,1091.8 1033.6,1092.3 1034.6,1092.8 1035.7,1093.2 1036.7,1093.6 1037.8,1094 1038.8,1094.4 1039.8,1094.8 1040.9,1095.2 1041.9,1095.5 1043,1095.9 1044,1096.2 1045,1096.5 1046.1,1096.8 1047.1,1097.1 1048.2,1097.3 1049.2,1097.6 1050.2,1097.8 1051.3,1098.1 1052.3,1098.3 1053.4,1098.5 1054.4,1098.7 1055.4,1098.8 1056.5,1099 1057.5,1099.2 1058.6,1099.3 1059.6,1099.4 1060.7,1099.6 1061.7,1099.7 1062.7,1099.8 1063.8,1099.9 1064.8,1100 1065.9,1100.1 1066.9,1100.2 1067.9,1100.3 1069,1100.3 1070,1100.4 1071.1,1100.5 1072.1,1100.5 1073.1,1100.6 1074.2,1100.6 1075.2,1100.7 1076.3,1100.7 1077.3,1100.8 1078.3,1100.8 1079.4,1100.8 1080.4,1100.9 1081.5,1100.9 1082.5,1100.9 1083.5,1101 1084.6,1101 1085.6,1101 1086.7,1101.1 1087.7,1101.1 1088.8,1101.1 1089.8,1101.1 1090.8,1101.1 1091.9,1101.2 1092.9,1101.2 1094,1101.2 1095,1101.2 1096,1101.2 1097.1,1101.3 1098.1,1101.3 1099.2,1101.3 1100.2,1101.3 1101.2,1101.3 1102.3,1101.3 1103.3,1101.3 1104.4,1101.4 1105.4,1101.4 1106.4,1101.4 1107.5,1101.4 1108.5,1101.4 1109.6,1101.4 1110.6,1101.4 1111.7,1101.4 1112.7,1101.5 1113.7,1101.5 1114.8,1101.5 1115.8,1101.5 1116.9,1101.5 1117.9,1101.5 1118.9,1101.5 1120,1101.5 1121,1101.5 1122.1,1101.5 1123.1,1101.5 1124.1,1101.6 1125.2,1101.6 1126.2,1101.6 1127.3,1101.6 1128.3,1101.6 1129.3,1101.6 1130.4,1101.6 1131.4,1101.6 1132.5,1101.6 1133.5,1101.6 1134.6,1101.6 1135.6,1101.6 1136.6,1101.6 1137.7,1101.6 1138.7,1101.6 1139.8,1101.6 1140.8,1101.7 1141.8,1101.7 1142.9,1101.7 1143.9,1101.7 1145,1101.7 1146,1101.7 1147,1101.7 1148.1,1101.7 1149.1,1101.7 1150.2,1101.7 1151.2,1101.7 1152.2,1101.7 1153.3,1101.7 1154.3,1101.7 1155.4,1101.7 1156.4,1101.7 1157.4,1101.7 1158.5,1101.7 1159.5,1101.7 1160.6,1101.7 1161.6,1101.7 1162.7,1101.7 1163.7,1101.7 1164.7,1101.7 1165.8,1101.8 1166.8,1101.8 1167.9,1101.8 1168.9,1101.8 1169.9,1101.8 1171,1101.8 1172,1101.8" fill="none" stroke="#0000ff" stroke-width="3.6" stroke-linejoin="round"/>
<polyline points="1067.9,1102.9 1069,1102.8 1070,1102.8 1071.1,1102.8 1072.1,1102.8 1073.1,1102.8 1074.2,1102.8 1075.2,1102.8 1076.3,1102.8 1077.3,1102.8 1078.3,1102.7 1079.4,1102.7 1080.4,1102.7 1081.5,1102.7 1082.5,1102.7 1083.5,1102.7 1084.6,1102.7 1085.6,1102.6 1086.7,1102.6 1087.7,1102.6 1088.8,1102.6 1089.8,1102.6 1090.8,1102.6 1091.9,1102.6 1092.9,1102.5 1094,1102.5 1095,1102.5 1096,1102.5 1097.1,1102.5 1098.1,1102.4 1099.2,1102.4 1100.2,1102.4 1101.2,1102.4 1102.3,1102.4 1103.3,1102.3 1104.4,1102.3 1105.4,1102.3 1106.4,1102.3 1107.5,1102.2 1108.5,1102.2 1109.6,1102.2 1110.6,1102.1 1111.7,1102.1 1112.7,1102.1 1113.7,1102.1 1114.8,1102 1115.8,1102 1116.9,1102 1117.9,1101.9 1118.9,1101.9 1120,1101.8 1121,1101.8 1122.1,1101.8 1123.1,1101.7 1124.1,1101.7 1125.2,1101.6 1126.2,1101.6 1127.3,1101.5 1128.3,1101.5 1129.3,1101.4 1130.4,1101.4 1131.4,1101.3 1132.5,1101.2 1133.5,1101.2 1134.6,1101.1 1135.6,1101 1136.6,1101 1137.7,1100.9 1138.7,1100.8 1139.8,1100.7 1140.8,1100.6 1141.8,1100.5 1142.9,1100.4 1143.9,1100.3 1145,1100.2 1146,1100.1 1147,1100 1148.1,1099.9 1149.1,1099.7 1150.2,1099.6 1151.2,1099.4 1152.2,1099.3 1153.3,1099.1 1154.3,1098.9 1155.4,1098.7 1156.4,1098.5 1157.4,1098.3 1158.5,1098 1159.5,1097.8 1160.6,1097.5 1161.6,1097.2 1162.7,1096.9 1163.7,1096.5 1164.7,1096.2 1165.8,1095.8 1166.8,1095.4 1167.9,1095 1168.9,1094.5 1169.9,1094 1171,1093.5 1172,1092.9 1173.1,1092.3 1174.1,1091.7 1175.1,1091.1 1176.2,1090.4 1177.2,1089.7 1178.3,1088.9 1179.3,1088.1 1180.3,1087.2 1181.4,1086.4 1182.4,1085.5 1183.5,1084.5 1184.5,1083.6 1185.6,1082.6 1186.6,1081.6 1187.6,1080.6 1188.7,1079.5 1189.7,1078.5 1190.8,1077.5 1191.8,1076.5 1192.8,1075.5 1193.9,1074.6 1194.9,1073.8 1196,1073.1 1197,1072.4 1198,1071.9 1199.1,1071.4 1200.1,1071.2 1201.2,1071 1202.2,1071 1203.2,1071.2 1204.3,1071.4 1205.3,1071.9 1206.4,1072.4 1207.4,1073.1 1208.5,1073.8 1209.5,1074.6 1210.5,1075.5 1211.6,1076.5 1212.6,1077.5 1213.7,1078.5 1214.7,1079.5 1215.7,1080.6 1216.8,1081.6 1217.8,1082.6 1218.9,1083.6 1219.9,1084.5 1220.9,1085.5 1222,1086.4 1223,1087.2 1224.1,1088.1 1225.1,1088.9 1226.1,1089.7 1227.2,1090.4 1228.2,1091.1 1229.3,1091.7 1230.3,1092.3 1231.3,1092.9 1232.4,1093.5 1233.4,1094 1234.5,1094.5 1235.5,1095 1236.6,1095.4 1237.6,1095.8 1238.6,1096.2 1239.7,1096.5 1240.7,1096.9 1241.8,1097.2 1242.8,1097.5 1243.8,1097.8 1244.9,1098 1245.9,1098.3 1247,1098.5 1248,1098.7 1249,1098.9 1250.1,1099.1 1251.1,1099.3 1252.2,1099.4 1253.2,1099.6 1254.2,1099.7 1255.3,1099.9 1256.3,1100 1257.4,1100.1 1258.4,1100.2 1259.5,1100.3 1260.5,1100.4 1261.5,1100.5 1262.6,1100.6 1263.6,1100.7 1264.7,1100.8 1265.7,1100.9 1266.7,1101 1267.8,1101 1268.8,1101.1 1269.9,1101.2 1270.9,1101.2 1271.9,1101.3 1273,1101.4 1274,1101.4 1275.1,1101.5 1276.1,1101.5 1277.1,1101.6 1278.2,1101.6 1279.2,1101.7 1280.3,1101.7 1281.3,1101.8 1282.3,1101.8 1283.4,1101.8 1284.4,1101.9 1285.5,1101.9 1286.5,1102 1287.6,1102 1288.6,1102 1289.6,1102.1 1290.7,1102.1 1291.7,1102.1 1292.8,1102.1 1293.8,1102.2 1294.8,1102.2 1295.9,1102.2 1296.9,1102.3 1298,1102.3 1299,1102.3 1300,1102.3 1301.1,1102.4 1302.1,1102.4 1303.2,1102.4 1304.2,1102.4 1305.2,1102.4 1306.3,1102.5 1307.3,1102.5 1308.4,1102.5 1309.4,1102.5 1310.5,1102.5 1311.5,1102.6 1312.5,1102.6 1313.6,1102.6 1314.6,1102.6 1315.7,1102.6 1316.7,1102.6 1317.7,1102.6 1318.8,1102.7 1319.8,1102.7 1320.9,1102.7 1321.9,1102.7 1322.9,1102.7 1324,1102.7 1325,1102.7 1326.1,1102.8 1327.1,1102.8 1328.1,1102.8 1329.2,1102.8 1330.2,1102.8 1331.3,1102.8 1332.3,1102.8 1333.3,1102.8 1334.4,1102.8 1335.4,1102.9 1336.5,1102.9 1337.5,1102.9 1338.6,1102.9 1339.6,1102.9 1340.6,1102.9 1341.7,1102.9 1342.7,1102.9 1343.8,1102.9 1344.8,1102.9 1345.8,1102.9 1346.9,1103 1347.9,1103 1349,1103 1350,1103 1351,1103 1352.1,1103 1353.1,1103 1354.2,1103 1355.2,1103 1356.2,1103 1357.3,1103 1358.3,1103 1359.4,1103 1360.4,1103 1361.5,1103 1362.5,1103.1 1363.5,1103.1 1364.6,1103.1 1365.6,1103.1 1366.7,1103.1 1367.7,1103.1 1368.7,1103.1 1369.8,1103.1 1370.8,1103.1 1371.9,1103.1 1372.9,1103.1 1373.9,1103.1 1375,1103.1 1376,1103.1 1377.1,1103.1 1378.1,1103.1 1379.1,1103.1 1380.2,1103.1 1381.2,1103.1 1382.3,1103.1 1383.3,1103.1 1384.4,1103.2 1385.4,1103.2 1386.4,1103.2 1387.5,1103.2 1388.5,1103.2 1389.6,1103.2 1390.6,1103.2 1391.6,1103.2 1392.7,1103.2 1393.7,1103.2 1394.8,1103.2 1395.8,1103.2 1396.8,1103.2 1397.9,1103.2 1398.9,1103.2 1400,1103.2 1401,1103.2 1402,1103.2 1403.1,1103.2 1404.1,1103.2 1405.2,1103.2 1406.2,1103.2 1407.2,1103.2 1408.3,1103.2 1409.3,1103.2" fill="none" stroke="#0000ff" stroke-width="3.6" stroke-linejoin="round"/>
<polyline points="833.8,1102.1 834.8,1102.1 835.8,1102.1 836.9,1102.1 837.9,1102.1 839,1102.1 840,1102.1 841,1102.1 842.1,1102.1 843.1,1102.1 844.2,1102.1 845.2,1102.1 846.2,1102.1 847.3,1102.1 848.3,1102.1 849.4,1102 850.4,1102 851.4,1102 852.5,1102 853.5,1102 854.6,1102 855.6,1102 856.6,1102 857.7,1102 858.7,1102 859.8,1102 860.8,1102 861.9,1102 862.9,1102 863.9,1102 865,1102 866,1102 867.1,1102 868.1,1102 869.1,1102 870.2,1102 871.2,1102 872.3,1101.9 873.3,1101.9 874.3,1101.9 875.4,1101.9 876.4,1101.9 877.5,1101.9 878.5,1101.9 879.5,1101.9 880.6,1101.9 881.6,1101.9 882.7,1101.9 883.7,1101.9 884.8,1101.9 885.8,1101.9 886.8,1101.9 887.9,1101.9 888.9,1101.9 890,1101.8 891,1101.8 892,1101.8 893.1,1101.8 894.1,1101.8 895.2,1101.8 896.2,1101.8 897.2,1101.8 898.3,1101.8 899.3,1101.8 900.4,1101.8 901.4,1101.8 902.4,1101.8 903.5,1101.7 904.5,1101.7 905.6,1101.7 906.6,1101.7 907.6,1101.7 908.7,1101.7 909.7,1101.7 910.8,1101.7 911.8,1101.7 912.9,1101.7 913.9,1101.7 914.9,1101.6 916,1101.6 917,1101.6 918.1,1101.6 919.1,1101.6 920.1,1101.6 921.2,1101.6 922.2,1101.6 923.3,1101.6 924.3,1101.5 925.3,1101.5 926.4,1101.5 927.4,1101.5 928.5,1101.5 929.5,1101.5 930.5,1101.5 931.6,1101.5 932.6,1101.4 933.7,1101.4 934.7,1101.4 935.8,1101.4 936.8,1101.4 937.8,1101.4 938.9,1101.4 939.9,1101.3 941,1101.3 942,1101.3 943,1101.3 944.1,1101.3 945.1,1101.3 946.2,1101.2 947.2,1101.2 948.2,1101.2 949.3,1101.2 950.3,1101.2 951.4,1101.1 952.4,1101.1 953.4,1101.1 954.5,1101.1 955.5,1101.1 956.6,1101 957.6,1101 958.6,1101 959.7,1101 960.7,1100.9 961.8,1100.9 962.8,1100.9 963.9,1100.9 964.9,1100.8 965.9,1100.8 967,1100.8 968,1100.8 969.1,1100.7 970.1,1100.7 971.1,1100.7 972.2,1100.6 973.2,1100.6 974.3,1100.6 975.3,1100.5 976.3,1100.5 977.4,1100.4 978.4,1100.4 979.5,1100.4 980.5,1100.3 981.5,1100.3 982.6,1100.2 983.6,1100.2 984.7,1100.1 985.7,1100.1 986.8,1100 987.8,1099.9 988.8,1099.9 989.9,1099.8 990.9,1099.7 992,1099.7 993,1099.6 994,1099.5 995.1,1099.4 996.1,1099.4 997.2,1099.3 998.2,1099.2 999.2,1099.1 1000.3,1099 1001.3,1098.9 1002.4,1098.7 1003.4,1098.6 1004.4,1098.5 1005.5,1098.4 1006.5,1098.2 1007.6,1098.1 1008.6,1097.9 1009.7,1097.7 1010.7,1097.6 1011.7,1097.4 1012.8,1097.2 1013.8,1097 1014.9,1096.8 1015.9,1096.6 1016.9,1096.3 1018,1096.1 1019,1095.8 1020.1,1095.6 1021.1,1095.3 1022.1,1095 1023.2,1094.7 1024.2,1094.4 1025.3,1094 1026.3,1093.7 1027.3,1093.3 1028.4,1092.9 1029.4,1092.6 1030.5,1092.1 1031.5,1091.7 1032.5,1091.3 1033.6,1090.8 1034.6,1090.4 1035.7,1089.9 1036.7,1089.4 1037.8,1088.9 1038.8,1088.3 1039.8,1087.8 1040.9,1087.2 1041.9,1086.6 1043,1086 1044,1085.4 1045,1084.8 1046.1,1084.2 1047.1,1083.5 1048.2,1082.8 1049.2,1082.2 1050.2,1081.5 1051.3,1080.8 1052.3,1080.1 1053.4,1079.3 1054.4,1078.6 1055.4,1077.9 1056.5,1077.1 1057.5,1076.4 1058.6,1075.7 1059.6,1074.9 1060.7,1074.2 1061.7,1073.4 1062.7,1072.7 1063.8,1072 1064.8,1071.3 1065.9,1070.6 1066.9,1069.9 1067.9,1069.2 1069,1068.6 1070,1068 1071.1,1067.4 1072.1,1066.9 1073.1,1066.3 1074.2,1065.8 1075.2,1065.4 1076.3,1065 1077.3,1064.6 1078.3,1064.3 1079.4,1064 1080.4,1063.8 1081.5,1063.7 1082.5,1063.6 1083.5,1063.5 1084.6,1063.5 1085.6,1063.6 1086.7,1063.7 1087.7,1063.8 1088.8,1064 1089.8,1064.3 1090.8,1064.6 1091.9,1065 1092.9,1065.4 1094,1065.8 1095,1066.3 1096,1066.9 1097.1,1067.4 1098.1,1068 1099.2,1068.6 1100.2,1069.2 1101.2,1069.9 1102.3,1070.6 1103.3,1071.3 1104.4,1072 1105.4,1072.7 1106.4,1073.4 1107.5,1074.2 1108.5,1074.9 1109.6,1075.7 1110.6,1076.4 1111.7,1077.1 1112.7,1077.9 1113.7,1078.6 1114.8,1079.3 1115.8,1080.1 1116.9,1080.8 1117.9,1081.5 1118.9,1082.2 1120,1082.8 1121,1083.5 1122.1,1084.2 1123.1,1084.8 1124.1,1085.4 1125.2,1086 1126.2,1086.6 1127.3,1087.2 1128.3,1087.8 1129.3,1088.3 1130.4,1088.9 1131.4,1089.4 1132.5,1089.9 1133.5,1090.4 1134.6,1090.8 1135.6,1091.3 1136.6,1091.7 1137.7,1092.1 1138.7,1092.6 1139.8,1092.9 1140.8,1093.3 1141.8,1093.7 1142.9,1094 1143.9,1094.4 1145,1094.7 1146,1095 1147,1095.3 1148.1,1095.6 1149.1,1095.8 1150.2,1096.1 1151.2,1096.3 1152.2,1096.6 1153.3,1096.8 1154.3,1097 1155.4,1097.2 1156.4,1097.4 1157.4,1097.6 1158.5,1097.7 1159.5,1097.9 1160.6,1098.1 1161.6,1098.2 1162.7,1098.4 1163.7,1098.5 1164.7,1098.6 1165.8,1098.7 1166.8,1098.9 1167.9,1099 1168.9,1099.1 1169.9,1099.2 1171,1099.3 1172,1099.4 1173.1,1099.4 1174.1,1099.5 1175.1,1099.6 1176.2,1099.7 1177.2,1099.7 1178.3,1099.8 1179.3,1099.9 1180.3,1099.9 1181.4,1100 1182.4,1100.1 1183.5,1100.1 1184.5,1100.2 1185.6,1100.2 1186.6,1100.3 1187.6,1100.3 1188.7,1100.4 1189.7,1100.4 1190.8,1100.4 1191.8,1100.5 1192.8,1100.5 1193.9,1100.6 1194.9,1100.6 1196,1100.6 1197,1100.7 1198,1100.7 1199.1,1100.7 1200.1,1100.8 1201.2,1100.8 1202.2,1100.8 1203.2,1100.8 1204.3,1100.9 1205.3,1100.9 1206.4,1100.9 1207.4,1100.9 1208.5,1101 1209.5,1101 1210.5,1101 1211.6,1101 1212.6,1101.1 1213.7,1101.1 1214.7,1101.1 1215.7,1101.1 1216.8,1101.1 1217.8,1101.2 1218.9,1101.2 1219.9,1101.2 1220.9,1101.2 1222,1101.2 1223,1101.3 1224.1,1101.3 1225.1,1101.3 1226.1,1101.3 1227.2,1101.3 1228.2,1101.3 1229.3,1101.4 1230.3,1101.4 1231.3,1101.4 1232.4,1101.4 1233.4,1101.4 1234.5,1101.4 1235.5,1101.4 1236.6,1101.5 1237.6,1101.5 1238.6,1101.5 1239.7,1101.5 1240.7,1101.5 1241.8,1101.5 1242.8,1101.5 1243.8,1101.5 1244.9,1101.6 1245.9,1101.6 1247,1101.6 1248,1101.6 1249,1101.6 1250.1,1101.6 1251.1,1101.6 1252.2,1101.6 1253.2,1101.6 1254.2,1101.7 1255.3,1101.7 1256.3,1101.7 1257.4,1101.7 1258.4,1101.7 1259.5,1101.7 1260.5,1101.7 1261.5,1101.7 1262.6,1101.7 1263.6,1101.7 1264.7,1101.7 1265.7,1101.8 1266.7,1101.8 1267.8,1101.8 1268.8,1101.8 1269.9,1101.8 1270.9,1101.8 1271.9,1101.8 1273,1101.8 1274,1101.8 1275.1,1101.8 1276.1,1101.8 1277.1,1101.8 1278.2,1101.8 1279.2,1101.9 1280.3,1101.9 1281.3,1101.9 1282.3,1101.9 1283.4,1101.9 1284.4,1101.9 1285.5,1101.9 1286.5,1101.9 1287.6,1101.9 1288.6,1101.9 1289.6,1101.9 1290.7,1101.9 1291.7,1101.9 1292.8,1101.9 1293.8,1101.9 1294.8,1101.9 1295.9,1101.9 1296.9,1102 1298,1102 1299,1102 1300,1102 1301.1,1102 1302.1,1102 1303.2,1102 1304.2,1102 1305.2,1102 1306.3,1102 1307.3,1102 1308.4,1102 1309.4,1102 1310.5,1102 1311.5,1102 1312.5,1102 1313.6,1102 1314.6,1102 1315.7,1102 1316.7,1102 1317.7,1102 1318.8,1102 1319.8,1102.1 1320.9,1102.1 1321.9,1102.1 1322.9,1102.1 1324,1102.1 1325,1102.1 1326.1,1102.1 1327.1,1102.1 1328.1,1102.1 1329.2,1102.1 1330.2,1102.1 1331.3,1102.1 1332.3,1102.1 1333.3,1102.1 1334.4,1102.1 1335.4,1102.1 1336.5,1102.1 1337.5,1102.1 1338.6,1102.1 1339.6,1102.1 1340.6,1102.1 1341.7,1102.1 1342.7,1102.1 1343.8,1102.1 1344.8,1102.1 1345.8,1102.1 1346.9,1102.1 1347.9,1102.1 1349,1102.1 1350,1102.1 1351,1102.1 1352.1,1102.2 1353.1,1102.2 1354.2,1102.2 1355.2,1102.2 1356.2,1102.2 1357.3,1102.2 1358.3,1102.2 1359.4,1102.2 1360.4,1102.2 1361.5,1102.2 1362.5,1102.2 1363.5,1102.2 1364.6,1102.2 1365.6,1102.2 1366.7,1102.2 1367.7,1102.2 1368.7,1102.2 1369.8,1102.2 1370.8,1102.2 1371.9,1102.2 1372.9,1102.2 1373.9,1102.2 1375,1102.2 1376,1102.2 1377.1,1102.2 1378.1,1102.2 1379.1,1102.2 1380.2,1102.2 1381.2,1102.2 1382.3,1102.2 1383.3,1102.2 1384.4,1102.2 1385.4,1102.2 1386.4,1102.2 1387.5,1102.2 1388.5,1102.2 1389.6,1102.2 1390.6,1102.2 1391.6,1102.2 1392.7,1102.2 1393.7,1102.2 1394.8,1102.2 1395.8,1102.2 1396.8,1102.2 1397.9,1102.2 1398.9,1102.2 1400,1102.2 1401,1102.2 1402,1102.3 1403.1,1102.3 1404.1,1102.3 1405.2,1102.3 1406.2,1102.3 1407.2,1102.3 1408.3,1102.3 1409.3,1102.3" fill="none" stroke="#ff0000" stroke-width="4" stroke-linejoin="round"/>
<polyline points="833.8,1103.8 834.8,1103.8 835.8,1103.8 836.9,1103.8 837.9,1103.8 839,1103.8 840,1103.8 841,1103.8 842.1,1103.8 843.1,1103.8 844.2,1103.8 845.2,1103.8 846.2,1103.8 847.3,1103.8 848.3,1103.8 849.4,1103.8 850.4,1103.8 851.4,1103.8 852.5,1103.8 853.5,1103.8 854.6,1103.8 855.6,1103.8 856.6,1103.8 857.7,1103.8 858.7,1103.8 859.8,1103.8 860.8,1103.8 861.9,1103.8 862.9,1103.8 863.9,1103.8 865,1103.8 866,1103.8 867.1,1103.7 868.1,1103.7 869.1,1103.7 870.2,1103.7 871.2,1103.7 872.3,1103.7 873.3,1103.7 874.3,1103.7 875.4,1103.7 876.4,1103.7 877.5,1103.7 878.5,1103.7 879.5,1103.7 880.6,1103.7 881.6,1103.7 882.7,1103.7 883.7,1103.7 884.8,1103.7 885.8,1103.7 886.8,1103.7 887.9,1103.7 888.9,1103.7 890,1103.7 891,1103.7 892,1103.7 893.1,1103.7 894.1,1103.7 895.2,1103.7 896.2,1103.7 897.2,1103.7 898.3,1103.7 899.3,1103.7 900.4,1103.7 901.4,1103.7 902.4,1103.7 903.5,1103.7 904.5,1103.7 905.6,1103.7 906.6,1103.7 907.6,1103.7 908.7,1103.7 909.7,1103.7 910.8,1103.7 911.8,1103.7 912.9,1103.6 913.9,1103.6 914.9,1103.6 916,1103.6 917,1103.6 918.1,1103.6 919.1,1103.6 920.1,1103.6 921.2,1103.6 922.2,1103.6 923.3,1103.6 924.3,1103.6 925.3,1103.6 926.4,1103.6 927.4,1103.6 928.5,1103.6 929.5,1103.6 930.5,1103.6 931.6,1103.6 932.6,1103.6 933.7,1103.6 934.7,1103.6 935.8,1103.6 936.8,1103.6 937.8,1103.6 938.9,1103.6 939.9,1103.6 941,1103.6 942,1103.5 943,1103.5 944.1,1103.5 945.1,1103.5 946.2,1103.5 947.2,1103.5 948.2,1103.5 949.3,1103.5 950.3,1103.5 951.4,1103.5 952.4,1103.5 953.4,1103.5 954.5,1103.5 955.5,1103.5 956.6,1103.5 957.6,1103.5 958.6,1103.5 959.7,1103.5 960.7,1103.5 961.8,1103.5 962.8,1103.4 963.9,1103.4 964.9,1103.4 965.9,1103.4 967,1103.4 968,1103.4 969.1,1103.4 970.1,1103.4 971.1,1103.4 972.2,1103.4 973.2,1103.4 974.3,1103.4 975.3,1103.4 976.3,1103.4 977.4,1103.4 978.4,1103.3 979.5,1103.3 980.5,1103.3 981.5,1103.3 982.6,1103.3 983.6,1103.3 984.7,1103.3 985.7,1103.3 986.8,1103.3 987.8,1103.3 988.8,1103.3 989.9,1103.3 990.9,1103.2 992,1103.2 993,1103.2 994,1103.2 995.1,1103.2 996.1,1103.2 997.2,1103.2 998.2,1103.2 999.2,1103.2 1000.3,1103.2 1001.3,1103.1 1002.4,1103.1 1003.4,1103.1 1004.4,1103.1 1005.5,1103.1 1006.5,1103.1 1007.6,1103.1 1008.6,1103.1 1009.7,1103 1010.7,1103 1011.7,1103 1012.8,1103 1013.8,1103 1014.9,1103 1015.9,1103 1016.9,1102.9 1018,1102.9 1019,1102.9 1020.1,1102.9 1021.1,1102.9 1022.1,1102.9 1023.2,1102.8 1024.2,1102.8 1025.3,1102.8 1026.3,1102.8 1027.3,1102.8 1028.4,1102.8 1029.4,1102.7 1030.5,1102.7 1031.5,1102.7 1032.5,1102.7 1033.6,1102.7 1034.6,1102.6 1035.7,1102.6 1036.7,1102.6 1037.8,1102.6 1038.8,1102.5 1039.8,1102.5 1040.9,1102.5 1041.9,1102.5 1043,1102.4 1044,1102.4 1045,1102.4 1046.1,1102.3 1047.1,1102.3 1048.2,1102.3 1049.2,1102.3 1050.2,1102.2 1051.3,1102.2 1052.3,1102.1 1053.4,1102.1 1054.4,1102.1 1055.4,1102 1056.5,1102 1057.5,1102 1058.6,1101.9 1059.6,1101.9 1060.7,1101.8 1061.7,1101.8 1062.7,1101.7 1063.8,1101.7 1064.8,1101.6 1065.9,1101.6 1066.9,1101.5 1067.9,1101.5 1069,1101.4 1070,1101.4 1071.1,1101.3 1072.1,1101.2 1073.1,1101.2 1074.2,1101.1 1075.2,1101 1076.3,1101 1077.3,1100.9 1078.3,1100.8 1079.4,1100.7 1080.4,1100.7 1081.5,1100.6 1082.5,1100.5 1083.5,1100.4 1084.6,1100.3 1085.6,1100.2 1086.7,1100.1 1087.7,1100 1088.8,1099.9 1089.8,1099.7 1090.8,1099.6 1091.9,1099.5 1092.9,1099.3 1094,1099.2 1095,1099 1096,1098.9 1097.1,1098.7 1098.1,1098.5 1099.2,1098.3 1100.2,1098.1 1101.2,1097.9 1102.3,1097.7 1103.3,1097.5 1104.4,1097.2 1105.4,1097 1106.4,1096.7 1107.5,1096.4 1108.5,1096.1 1109.6,1095.7 1110.6,1095.4 1111.7,1095 1112.7,1094.6 1113.7,1094.2 1114.8,1093.7 1115.8,1093.2 1116.9,1092.7 1117.9,1092.2 1118.9,1091.6 1120,1091 1121,1090.4 1122.1,1089.7 1123.1,1089 1124.1,1088.2 1125.2,1087.5 1126.2,1086.6 1127.3,1085.8 1128.3,1084.8 1129.3,1083.9 1130.4,1082.9 1131.4,1081.9 1132.5,1080.8 1133.5,1079.7 1134.6,1078.5 1135.6,1077.3 1136.6,1076.1 1137.7,1074.8 1138.7,1073.5 1139.8,1072.2 1140.8,1070.8 1141.8,1069.5 1142.9,1068.2 1143.9,1066.8 1145,1065.5 1146,1064.3 1147,1063.1 1148.1,1061.9 1149.1,1060.8 1150.2,1059.9 1151.2,1059 1152.2,1058.3 1153.3,1057.8 1154.3,1057.3 1155.4,1057.1 1156.4,1057 1157.4,1057.1 1158.5,1057.3 1159.5,1057.8 1160.6,1058.3 1161.6,1059 1162.7,1059.9 1163.7,1060.8 1164.7,1061.9 1165.8,1063.1 1166.8,1064.3 1167.9,1065.5 1168.9,1066.8 1169.9,1068.2 1171,1069.5 1172,1070.8 1173.1,1072.2 1174.1,1073.5 1175.1,1074.8 1176.2,1076.1 1177.2,1077.3 1178.3,1078.5 1179.3,1079.7 1180.3,1080.8 1181.4,1081.9 1182.4,1082.9 1183.5,1083.9 1184.5,1084.8 1185.6,1085.8 1186.6,1086.6 1187.6,1087.5 1188.7,1088.2 1189.7,1089 1190.8,1089.7 1191.8,1090.4 1192.8,1091 1193.9,1091.6 1194.9,1092.2 1196,1092.7 1197,1093.2 1198,1093.7 1199.1,1094.2 1200.1,1094.6 1201.2,1095 1202.2,1095.4 1203.2,1095.7 1204.3,1096.1 1205.3,1096.4 1206.4,1096.7 1207.4,1097 1208.5,1097.2 1209.5,1097.5 1210.5,1097.7 1211.6,1097.9 1212.6,1098.1 1213.7,1098.3 1214.7,1098.5 1215.7,1098.7 1216.8,1098.9 1217.8,1099 1218.9,1099.2 1219.9,1099.3 1220.9,1099.5 1222,1099.6 1223,1099.7 1224.1,1099.9 1225.1,1100 1226.1,1100.1 1227.2,1100.2 1228.2,1100.3 1229.3,1100.4 1230.3,1100.5 1231.3,1100.6 1232.4,1100.7 1233.4,1100.7 1234.5,1100.8 1235.5,1100.9 1236.6,1101 1237.6,1101 1238.6,1101.1 1239.7,1101.2 1240.7,1101.2 1241.8,1101.3 1242.8,1101.4 1243.8,1101.4 1244.9,1101.5 1245.9,1101.5 1247,1101.6 1248,1101.6 1249,1101.7 1250.1,1101.7 1251.1,1101.8 1252.2,1101.8 1253.2,1101.9 1254.2,1101.9 1255.3,1102 1256.3,1102 1257.4,1102 1258.4,1102.1 1259.5,1102.1 1260.5,1102.1 1261.5,1102.2 1262.6,1102.2 1263.6,1102.3 1264.7,1102.3 1265.7,1102.3 1266.7,1102.3 1267.8,1102.4 1268.8,1102.4 1269.9,1102.4 1270.9,1102.5 1271.9,1102.5 1273,1102.5 1274,1102.5 1275.1,1102.6 1276.1,1102.6 1277.1,1102.6 1278.2,1102.6 1279.2,1102.7 1280.3,1102.7 1281.3,1102.7 1282.3,1102.7 1283.4,1102.7 1284.4,1102.8 1285.5,1102.8 1286.5,1102.8 1287.6,1102.8 1288.6,1102.8 1289.6,1102.8 1290.7,1102.9 1291.7,1102.9 1292.8,1102.9 1293.8,1102.9 1294.8,1102.9 1295.9,1102.9 1296.9,1103 1298,1103 1299,1103 1300,1103 1301.1,1103 1302.1,1103 1303.2,1103 1304.2,1103.1 1305.2,1103.1 1306.3,1103.1 1307.3,1103.1 1308.4,1103.1 1309.4,1103.1 1310.5,1103.1 1311.5,1103.1 1312.5,1103.2 1313.6,1103.2 1314.6,1103.2 1315.7,1103.2 1316.7,1103.2 1317.7,1103.2 1318.8,1103.2 1319.8,1103.2 1320.9,1103.2 1321.9,1103.2 1322.9,1103.3 1324,1103.3 1325,1103.3 1326.1,1103.3 1327.1,1103.3 1328.1,1103.3 1329.2,1103.3 1330.2,1103.3 1331.3,1103.3 1332.3,1103.3 1333.3,1103.3 1334.4,1103.3 1335.4,1103.4 1336.5,1103.4 1337.5,1103.4 1338.6,1103.4 1339.6,1103.4 1340.6,1103.4 1341.7,1103.4 1342.7,1103.4 1343.8,1103.4 1344.8,1103.4 1345.8,1103.4 1346.9,1103.4 1347.9,1103.4 1349,1103.4 1350,1103.4 1351,1103.5 1352.1,1103.5 1353.1,1103.5 1354.2,1103.5 1355.2,1103.5 1356.2,1103.5 1357.3,1103.5 1358.3,1103.5 1359.4,1103.5 1360.4,1103.5 1361.5,1103.5 1362.5,1103.5 1363.5,1103.5 1364.6,1103.5 1365.6,1103.5 1366.7,1103.5 1367.7,1103.5 1368.7,1103.5 1369.8,1103.5 1370.8,1103.5 1371.9,1103.6 1372.9,1103.6 1373.9,1103.6 1375,1103.6 1376,1103.6 1377.1,1103.6 1378.1,1103.6 1379.1,1103.6 1380.2,1103.6 1381.2,1103.6 1382.3,1103.6 1383.3,1103.6 1384.4,1103.6 1385.4,1103.6 1386.4,1103.6 1387.5,1103.6 1388.5,1103.6 1389.6,1103.6 1390.6,1103.6 1391.6,1103.6 1392.7,1103.6 1393.7,1103.6 1394.8,1103.6 1395.8,1103.6 1396.8,1103.6 1397.9,1103.6 1398.9,1103.6 1400,1103.6 1401,1103.7 1402,1103.7 1403.1,1103.7 1404.1,1103.7 1405.2,1103.7 1406.2,1103.7 1407.2,1103.7 1408.3,1103.7 1409.3,1103.7" fill="none" stroke="#ff0000" stroke-width="4" stroke-linejoin="round"/>
<polyline points="833.8,1103.4 834.8,1103.4 835.8,1103.4 836.9,1103.4 837.9,1103.4 839,1103.4 840,1103.4 841,1103.4 842.1,1103.4 843.1,1103.4 844.2,1103.4 845.2,1103.4 846.2,1103.4 847.3,1103.4 848.3,1103.4 849.4,1103.4 850.4,1103.4 851.4,1103.4 852.5,1103.4 853.5,1103.4 854.6,1103.4 855.6,1103.4 856.6,1103.4 857.7,1103.4 858.7,1103.4 859.8,1103.4 860.8,1103.4 861.9,1103.4 862.9,1103.4 863.9,1103.4 865,1103.4 866,1103.4 867.1,1103.4 868.1,1103.4 869.1,1103.4 870.2,1103.4 871.2,1103.4 872.3,1103.4 873.3,1103.4 874.3,1103.4 875.4,1103.4 876.4,1103.4 877.5,1103.4 878.5,1103.4 879.5,1103.4 880.6,1103.4 881.6,1103.4 882.7,1103.4 883.7,1103.4 884.8,1103.4 885.8,1103.4 886.8,1103.4 887.9,1103.4 888.9,1103.4 890,1103.4 891,1103.4 892,1103.4 893.1,1103.4 894.1,1103.4 895.2,1103.4 896.2,1103.4 897.2,1103.4 898.3,1103.4 899.3,1103.4 900.4,1103.4 901.4,1103.4 902.4,1103.4 903.5,1103.4 904.5,1103.4 905.6,1103.4 906.6,1103.4 907.6,1103.4 908.7,1103.4 909.7,1103.4 910.8,1103.4 911.8,1103.4 912.9,1103.4 913.9,1103.4 914.9,1103.4 916,1103.4 917,1103.4 918.1,1103.4 919.1,1103.4 920.1,1103.4 921.2,1103.4 922.2,1103.4 923.3,1103.4 924.3,1103.4 925.3,1103.4 926.4,1103.4 927.4,1103.4 928.5,1103.4 929.5,1103.4 930.5,1103.4 931.6,1103.4 932.6,1103.4 933.7,1103.4 934.7,1103.4 935.8,1103.4 936.8,1103.4 937.8,1103.4 938.9,1103.4 939.9,1103.4 941,1103.4 942,1103.4 943,1103.4 944.1,1103.4 945.1,1103.4 946.2,1103.4 947.2,1103.4 948.2,1103.4 949.3,1103.4 950.3,1103.4 951.4,1103.4 952.4,1103.4 953.4,1103.4 954.5,1103.4 955.5,1103.4 956.6,1103.4 957.6,1103.4 958.6,1103.4 959.7,1103.4 960.7,1103.4 961.8,1103.4 962.8,1103.4 963.9,1103.4 964.9,1103.4 965.9,1103.4 967,1103.4 968,1103.4 969.1,1103.4 970.1,1103.4 971.1,1103.4 972.2,1103.4 973.2,1103.4 974.3,1103.4 975.3,1103.4 976.3,1103.4 977.4,1103.4 978.4,1103.4 979.5,1103.4 980.5,1103.4 981.5,1103.4 982.6,1103.4 983.6,1103.4 984.7,1103.4 985.7,1103.4 986.8,1103.4 987.8,1103.4 988.8,1103.4 989.9,1103.4 990.9,1103.4 992,1103.4 993,1103.4 994,1103.4 995.1,1103.4 996.1,1103.4 997.2,1103.4 998.2,1103.4 999.2,1103.4 1000.3,1103.3 1001.3,1103.3 1002.4,1103.3 1003.4,1103.3 1004.4,1103.3 1005.5,1103.3 1006.5,1103.3 1007.6,1103.3 1008.6,1103.3 1009.7,1103.3 1010.7,1103.3 1011.7,1103.3 1012.8,1103.3 1013.8,1103.3 1014.9,1103.3 1015.9,1103.3 1016.9,1103.3 1018,1103.3 1019,1103.3 1020.1,1103.3 1021.1,1103.3 1022.1,1103.3 1023.2,1103.3 1024.2,1103.3 1025.3,1103.3 1026.3,1103.3 1027.3,1103.3 1028.4,1103.3 1029.4,1103.3 1030.5,1103.3 1031.5,1103.3 1032.5,1103.3 1033.6,1103.3 1034.6,1103.3 1035.7,1103.3 1036.7,1103.3 1037.8,1103.3 1038.8,1103.3 1039.8,1103.3 1040.9,1103.3 1041.9,1103.3 1043,1103.3 1044,1103.3 1045,1103.3 1046.1,1103.3 1047.1,1103.3 1048.2,1103.3 1049.2,1103.3 1050.2,1103.3 1051.3,1103.3 1052.3,1103.3 1053.4,1103.3 1054.4,1103.3 1055.4,1103.3 1056.5,1103.3 1057.5,1103.3 1058.6,1103.2 1059.6,1103.2 1060.7,1103.2 1061.7,1103.2 1062.7,1103.2 1063.8,1103.2 1064.8,1103.2 1065.9,1103.2 1066.9,1103.2 1067.9,1103.2 1069,1103.2 1070,1103.2 1071.1,1103.2 1072.1,1103.2 1073.1,1103.2 1074.2,1103.2 1075.2,1103.2 1076.3,1103.2 1077.3,1103.2 1078.3,1103.2 1079.4,1103.2 1080.4,1103.2 1081.5,1103.2 1082.5,1103.2 1083.5,1103.2 1084.6,1103.2 1085.6,1103.2 1086.7,1103.2 1087.7,1103.2 1088.8,1103.2 1089.8,1103.1 1090.8,1103.1 1091.9,1103.1 1092.9,1103.1 1094,1103.1 1095,1103.1 1096,1103.1 1097.1,1103.1 1098.1,1103.1 1099.2,1103.1 1100.2,1103.1 1101.2,1103.1 1102.3,1103.1 1103.3,1103.1 1104.4,1103.1 1105.4,1103.1 1106.4,1103.1 1107.5,1103.1 1108.5,1103.1 1109.6,1103.1 1110.6,1103 1111.7,1103 1112.7,1103 1113.7,1103 1114.8,1103 1115.8,1103 1116.9,1103 1117.9,1103 1118.9,1103 1120,1103 1121,1103 1122.1,1103 1123.1,1103 1124.1,1102.9 1125.2,1102.9 1126.2,1102.9 1127.3,1102.9 1128.3,1102.9 1129.3,1102.9 1130.4,1102.9 1131.4,1102.9 1132.5,1102.9 1133.5,1102.9 1134.6,1102.9 1135.6,1102.8 1136.6,1102.8 1137.7,1102.8 1138.7,1102.8 1139.8,1102.8 1140.8,1102.8 1141.8,1102.8 1142.9,1102.8 1143.9,1102.7 1145,1102.7 1146,1102.7 1147,1102.7 1148.1,1102.7 1149.1,1102.7 1150.2,1102.7 1151.2,1102.6 1152.2,1102.6 1153.3,1102.6 1154.3,1102.6 1155.4,1102.6 1156.4,1102.6 1157.4,1102.5 1158.5,1102.5 1159.5,1102.5 1160.6,1102.5 1161.6,1102.5 1162.7,1102.4 1163.7,1102.4 1164.7,1102.4 1165.8,1102.4 1166.8,1102.3 1167.9,1102.3 1168.9,1102.3 1169.9,1102.2 1171,1102.2 1172,1102.2 1173.1,1102.2 1174.1,1102.1 1175.1,1102.1 1176.2,1102.1 1177.2,1102 1178.3,1102 1179.3,1101.9 1180.3,1101.9 1181.4,1101.9 1182.4,1101.8 1183.5,1101.8 1184.5,1101.7 1185.6,1101.7 1186.6,1101.6 1187.6,1101.6 1188.7,1101.5 1189.7,1101.4 1190.8,1101.4 1191.8,1101.3 1192.8,1101.3 1193.9,1101.2 1194.9,1101.1 1196,1101 1197,1100.9 1198,1100.9 1199.1,1100.8 1200.1,1100.7 1201.2,1100.6 1202.2,1100.5 1203.2,1100.4 1204.3,1100.2 1205.3,1100.1 1206.4,1100 1207.4,1099.9 1208.5,1099.7 1209.5,1099.6 1210.5,1099.4 1211.6,1099.2 1212.6,1099 1213.7,1098.8 1214.7,1098.6 1215.7,1098.4 1216.8,1098.1 1217.8,1097.9 1218.9,1097.6 1219.9,1097.3 1220.9,1097 1222,1096.6 1223,1096.3 1224.1,1095.8 1225.1,1095.4 1226.1,1094.9 1227.2,1094.4 1228.2,1093.8 1229.3,1093.2 1230.3,1092.5 1231.3,1091.7 1232.4,1090.9 1233.4,1089.9 1234.5,1088.9 1235.5,1087.7 1236.6,1086.4 1237.6,1085 1238.6,1083.4 1239.7,1081.5 1240.7,1079.4 1241.8,1077 1242.8,1074.3 1243.8,1071.2 1244.9,1067.6 1245.9,1063.4 1247,1058.6 1248,1053 1249,1046.5 1250.1,1039.1 1251.1,1030.5 1252.2,1020.8 1253.2,1010.1 1254.2,998.5 1255.3,986.7 1256.3,975.5 1257.4,966.1 1258.4,959.7 1259.5,957.5 1260.5,959.7 1261.5,966.1 1262.6,975.5 1263.6,986.7 1264.7,998.5 1265.7,1010.1 1266.7,1020.8 1267.8,1030.5 1268.8,1039.1 1269.9,1046.5 1270.9,1053 1271.9,1058.6 1273,1063.4 1274,1067.6 1275.1,1071.2 1276.1,1074.3 1277.1,1077 1278.2,1079.4 1279.2,1081.5 1280.3,1083.4 1281.3,1085 1282.3,1086.4 1283.4,1087.7 1284.4,1088.9 1285.5,1089.9 1286.5,1090.9 1287.6,1091.7 1288.6,1092.5 1289.6,1093.2 1290.7,1093.8 1291.7,1094.4 1292.8,1094.9 1293.8,1095.4 1294.8,1095.8 1295.9,1096.3 1296.9,1096.6 1298,1097 1299,1097.3 1300,1097.6 1301.1,1097.9 1302.1,1098.1 1303.2,1098.4 1304.2,1098.6 1305.2,1098.8 1306.3,1099 1307.3,1099.2 1308.4,1099.4 1309.4,1099.6 1310.5,1099.7 1311.5,1099.9 1312.5,1100 1313.6,1100.1 1314.6,1100.2 1315.7,1100.4 1316.7,1100.5 1317.7,1100.6 1318.8,1100.7 1319.8,1100.8 1320.9,1100.9 1321.9,1100.9 1322.9,1101 1324,1101.1 1325,1101.2 1326.1,1101.3 1327.1,1101.3 1328.1,1101.4 1329.2,1101.4 1330.2,1101.5 1331.3,1101.6 1332.3,1101.6 1333.3,1101.7 1334.4,1101.7 1335.4,1101.8 1336.5,1101.8 1337.5,1101.9 1338.6,1101.9 1339.6,1101.9 1340.6,1102 1341.7,1102 1342.7,1102.1 1343.8,1102.1 1344.8,1102.1 1345.8,1102.2 1346.9,1102.2 1347.9,1102.2 1349,1102.2 1350,1102.3 1351,1102.3 1352.1,1102.3 1353.1,1102.4 1354.2,1102.4 1355.2,1102.4 1356.2,1102.4 1357.3,1102.5 1358.3,1102.5 1359.4,1102.5 1360.4,1102.5 1361.5,1102.5 1362.5,1102.6 1363.5,1102.6 1364.6,1102.6 1365.6,1102.6 1366.7,1102.6 1367.7,1102.6 1368.7,1102.7 1369.8,1102.7 1370.8,1102.7 1371.9,1102.7 1372.9,1102.7 1373.9,1102.7 1375,1102.7 1376,1102.8 1377.1,1102.8 1378.1,1102.8 1379.1,1102.8 1380.2,1102.8 1381.2,1102.8 1382.3,1102.8 1383.3,1102.8 1384.4,1102.9 1385.4,1102.9 1386.4,1102.9 1387.5,1102.9 1388.5,1102.9 1389.6,1102.9 1390.6,1102.9 1391.6,1102.9 1392.7,1102.9 1393.7,1102.9 1394.8,1102.9 1395.8,1103 1396.8,1103 1397.9,1103 1398.9,1103 1400,1103 1401,1103 1402,1103 1403.1,1103 1404.1,1103 1405.2,1103 1406.2,1103 1407.2,1103 1408.3,1103 1409.3,1103.1" fill="none" stroke="#ff0000" stroke-width="4" stroke-linejoin="round"/>
<polyline points="833.8,1101 834.3,1101 834.8,1101 835.3,1101 835.8,1101 836.4,1101 836.9,1101 837.4,1101 837.9,1101 838.4,1101 839,1101 839.5,1101 840,1101 840.5,1101 841,1101 841.6,1101 842.1,1100.9 842.6,1100.9 843.1,1100.9 843.6,1100.9 844.2,1100.9 844.7,1100.9 845.2,1100.9 845.7,1100.9 846.2,1100.9 846.8,1100.9 847.3,1100.9 847.8,1100.9 848.3,1100.9 848.8,1100.9 849.4,1100.9 849.9,1100.9 850.4,1100.9 850.9,1100.8 851.4,1100.8 852,1100.8 852.5,1100.8 853,1100.8 853.5,1100.8 854,1100.8 854.6,1100.8 855.1,1100.8 855.6,1100.8 856.1,1100.8 856.6,1100.8 857.2,1100.8 857.7,1100.8 858.2,1100.8 858.7,1100.7 859.3,1100.7 859.8,1100.7 860.3,1100.7 860.8,1100.7 861.3,1100.7 861.9,1100.7 862.4,1100.7 862.9,1100.7 863.4,1100.7 863.9,1100.7 864.5,1100.7 865,1100.7 865.5,1100.7 866,1100.6 866.5,1100.6 867.1,1100.6 867.6,1100.6 868.1,1100.6 868.6,1100.6 869.1,1100.6 869.7,1100.6 870.2,1100.6 870.7,1100.6 871.2,1100.6 871.7,1100.6 872.3,1100.6 872.8,1100.5 873.3,1100.5 873.8,1100.5 874.3,1100.5 874.9,1100.5 875.4,1100.5 875.9,1100.5 876.4,1100.5 876.9,1100.5 877.5,1100.5 878,1100.5 878.5,1100.5 879,1100.4 879.5,1100.4 880.1,1100.4 880.6,1100.4 881.1,1100.4 881.6,1100.4 882.1,1100.4 882.7,1100.4 883.2,1100.4 883.7,1100.4 884.2,1100.4 884.8,1100.3 885.3,1100.3 885.8,1100.3 886.3,1100.3 886.8,1100.3 887.4,1100.3 887.9,1100.3 888.4,1100.3 888.9,1100.3 889.4,1100.3 890,1100.2 890.5,1100.2 891,1100.2 891.5,1100.2 892,1100.2 892.6,1100.2 893.1,1100.2 893.6,1100.2 894.1,1100.2 894.6,1100.2 895.2,1100.1 895.7,1100.1 896.2,1100.1 896.7,1100.1 897.2,1100.1 897.8,1100.1 898.3,1100.1 898.8,1100.1 899.3,1100.1 899.8,1100 900.4,1100 900.9,1100 901.4,1100 901.9,1100 902.4,1100 903,1100 903.5,1100 904,1100 904.5,1099.9 905,1099.9 905.6,1099.9 906.1,1099.9 906.6,1099.9 907.1,1099.9 907.6,1099.9 908.2,1099.9 908.7,1099.8 909.2,1099.8 909.7,1099.8 910.3,1099.8 910.8,1099.8 911.3,1099.8 911.8,1099.8 912.3,1099.7 912.9,1099.7 913.4,1099.7 913.9,1099.7 914.4,1099.7 914.9,1099.7 915.5,1099.7 916,1099.6 916.5,1099.6 917,1099.6 917.5,1099.6 918.1,1099.6 918.6,1099.6 919.1,1099.6 919.6,1099.5 920.1,1099.5 920.7,1099.5 921.2,1099.5 921.7,1099.5 922.2,1099.5 922.7,1099.5 923.3,1099.4 923.8,1099.4 924.3,1099.4 924.8,1099.4 925.3,1099.4 925.9,1099.4 926.4,1099.3 926.9,1099.3 927.4,1099.3 927.9,1099.3 928.5,1099.3 929,1099.3 929.5,1099.2 930,1099.2 930.5,1099.2 931.1,1099.2 931.6,1099.2 932.1,1099.2 932.6,1099.1 933.1,1099.1 933.7,1099.1 934.2,1099.1 934.7,1099.1 935.2,1099 935.8,1099 936.3,1099 936.8,1099 937.3,1099 937.8,1098.9 938.4,1098.9 938.9,1098.9 939.4,1098.9 939.9,1098.9 940.4,1098.8 941,1098.8 941.5,1098.8 942,1098.8 942.5,1098.8 943,1098.7 943.6,1098.7 944.1,1098.7 944.6,1098.7 945.1,1098.6 945.6,1098.6 946.2,1098.6 946.7,1098.6 947.2,1098.6 947.7,1098.5 948.2,1098.5 948.8,1098.5 949.3,1098.5 949.8,1098.4 950.3,1098.4 950.8,1098.4 951.4,1098.4 951.9,1098.3 952.4,1098.3 952.9,1098.3 953.4,1098.3 954,1098.2 954.5,1098.2 955,1098.2 955.5,1098.2 956,1098.1 956.6,1098.1 957.1,1098.1 957.6,1098 958.1,1098 958.6,1098 959.2,1098 959.7,1097.9 960.2,1097.9 960.7,1097.9 961.3,1097.8 961.8,1097.8 962.3,1097.8 962.8,1097.8 963.3,1097.7 963.9,1097.7 964.4,1097.7 964.9,1097.6 965.4,1097.6 965.9,1097.6 966.5,1097.5 967,1097.5 967.5,1097.5 968,1097.4 968.5,1097.4 969.1,1097.4 969.6,1097.3 970.1,1097.3 970.6,1097.3 971.1,1097.2 971.7,1097.2 972.2,1097.2 972.7,1097.1 973.2,1097.1 973.7,1097 974.3,1097 974.8,1097 975.3,1096.9 975.8,1096.9 976.3,1096.9 976.9,1096.8 977.4,1096.8 977.9,1096.7 978.4,1096.7 978.9,1096.6 979.5,1096.6 980,1096.6 980.5,1096.5 981,1096.5 981.5,1096.4 982.1,1096.4 982.6,1096.3 983.1,1096.3 983.6,1096.3 984.2,1096.2 984.7,1096.2 985.2,1096.1 985.7,1096.1 986.2,1096 986.8,1096 987.3,1095.9 987.8,1095.9 988.3,1095.8 988.8,1095.8 989.4,1095.7 989.9,1095.7 990.4,1095.6 990.9,1095.6 991.4,1095.5 992,1095.4 992.5,1095.4 993,1095.3 993.5,1095.3 994,1095.2 994.6,1095.2 995.1,1095.1 995.6,1095 996.1,1095 996.6,1094.9 997.2,1094.9 997.7,1094.8 998.2,1094.7 998.7,1094.7 999.2,1094.6 999.8,1094.5 1000.3,1094.5 1000.8,1094.4 1001.3,1094.3 1001.8,1094.3 1002.4,1094.2 1002.9,1094.1 1003.4,1094.1 1003.9,1094 1004.4,1093.9 1005,1093.8 1005.5,1093.8 1006,1093.7 1006.5,1093.6 1007,1093.5 1007.6,1093.4 1008.1,1093.4 1008.6,1093.3 1009.1,1093.2 1009.7,1093.1 1010.2,1093 1010.7,1092.9 1011.2,1092.9 1011.7,1092.8 1012.3,1092.7 1012.8,1092.6 1013.3,1092.5 1013.8,1092.4 1014.3,1092.3 1014.9,1092.2 1015.4,1092.1 1015.9,1092 1016.4,1091.9 1016.9,1091.8 1017.5,1091.7 1018,1091.6 1018.5,1091.5 1019,1091.4 1019.5,1091.3 1020.1,1091.2 1020.6,1091.1 1021.1,1090.9 1021.6,1090.8 1022.1,1090.7 1022.7,1090.6 1023.2,1090.5 1023.7,1090.3 1024.2,1090.2 1024.7,1090.1 1025.3,1090 1025.8,1089.8 1026.3,1089.7 1026.8,1089.6 1027.3,1089.4 1027.9,1089.3 1028.4,1089.1 1028.9,1089 1029.4,1088.9 1029.9,1088.7 1030.5,1088.6 1031,1088.4 1031.5,1088.3 1032,1088.1 1032.5,1087.9 1033.1,1087.8 1033.6,1087.6 1034.1,1087.4 1034.6,1087.3 1035.2,1087.1 1035.7,1086.9 1036.2,1086.7 1036.7,1086.5 1037.2,1086.4 1037.8,1086.2 1038.3,1086 1038.8,1085.8 1039.3,1085.6 1039.8,1085.4 1040.4,1085.2 1040.9,1084.9 1041.4,1084.7 1041.9,1084.5 1042.4,1084.3 1043,1084.1 1043.5,1083.8 1044,1083.6 1044.5,1083.4 1045,1083.1 1045.6,1082.9 1046.1,1082.6 1046.6,1082.3 1047.1,1082.1 1047.6,1081.8 1048.2,1081.5 1048.7,1081.3 1049.2,1081 1049.7,1080.7 1050.2,1080.4 1050.8,1080.1 1051.3,1079.8 1051.8,1079.5 1052.3,1079.1 1052.8,1078.8 1053.4,1078.5 1053.9,1078.1 1054.4,1077.8 1054.9,1077.4 1055.4,1077.1 1056,1076.7 1056.5,1076.3 1057,1075.9 1057.5,1075.5 1058,1075.1 1058.6,1074.7 1059.1,1074.3 1059.6,1073.8 1060.1,1073.4 1060.7,1072.9 1061.2,1072.5 1061.7,1072 1062.2,1071.5 1062.7,1071 1063.3,1070.5 1063.8,1070 1064.3,1069.4 1064.8,1068.9 1065.3,1068.3 1065.9,1067.8 1066.4,1067.2 1066.9,1066.6 1067.4,1066 1067.9,1065.3 1068.5,1064.7 1069,1064 1069.5,1063.3 1070,1062.6 1070.5,1061.9 1071.1,1061.2 1071.6,1060.4 1072.1,1059.6 1072.6,1058.8 1073.1,1058 1073.7,1057.2 1074.2,1056.3 1074.7,1055.4 1075.2,1054.5 1075.7,1053.6 1076.3,1052.6 1076.8,1051.6 1077.3,1050.6 1077.8,1049.6 1078.3,1048.5 1078.9,1047.4 1079.4,1046.2 1079.9,1045.1 1080.4,1043.9 1080.9,1042.6 1081.5,1041.3 1082,1040 1082.5,1038.6 1083,1037.2 1083.5,1035.8 1084.1,1034.3 1084.6,1032.8 1085.1,1031.2 1085.6,1029.5 1086.2,1027.8 1086.7,1026.1 1087.2,1024.3 1087.7,1022.4 1088.2,1020.5 1088.8,1018.5 1089.3,1016.5 1089.8,1014.3 1090.3,1012.1 1090.8,1009.9 1091.4,1007.5 1091.9,1005.1 1092.4,1002.6 1092.9,1000 1093.4,997.3 1094,994.5 1094.5,991.7 1095,988.7 1095.5,985.6 1096,982.5 1096.6,979.2 1097.1,975.8 1097.6,972.2 1098.1,968.6 1098.6,964.8 1099.2,960.9 1099.7,956.9 1100.2,952.7 1100.7,948.4 1101.2,944 1101.8,939.3 1102.3,934.6 1102.8,929.7 1103.3,924.6 1103.8,919.4 1104.4,914 1104.9,908.5 1105.4,902.8 1105.9,897 1106.4,890.9 1107,884.8 1107.5,878.5 1108,872 1108.5,865.5 1109.1,858.8 1109.6,851.9 1110.1,845 1110.6,838 1111.1,831 1111.7,823.9 1112.2,816.8 1112.7,809.7 1113.2,802.6 1113.7,795.6 1114.3,788.7 1114.8,781.9 1115.3,775.3 1115.8,768.9 1116.3,762.8 1116.9,757 1117.4,751.5 1117.9,746.4 1118.4,741.7 1118.9,737.5 1119.5,733.8 1120,730.7 1120.5,728.1 1121,726.1 1121.5,724.7 1122.1,723.9 1122.6,723.8 1123.1,724.3 1123.6,725.4 1124.1,727.1 1124.7,729.5 1125.2,732.4 1125.7,735.9 1126.2,739.9 1126.7,744.4 1127.3,749.3 1127.8,754.6 1128.3,760.3 1128.8,766.3 1129.3,772.6 1129.9,779.1 1130.4,785.8 1130.9,792.6 1131.4,799.6 1131.9,806.7 1132.5,813.8 1133,820.9 1133.5,828 1134,835.1 1134.6,842.1 1135.1,849.1 1135.6,855.9 1136.1,862.7 1136.6,869.3 1137.2,875.8 1137.7,882.2 1138.2,888.4 1138.7,894.4 1139.2,900.4 1139.8,906.1 1140.3,911.7 1140.8,917.2 1141.3,922.5 1141.8,927.6 1142.4,932.6 1142.9,937.4 1143.4,942 1143.9,946.6 1144.4,950.9 1145,955.2 1145.5,959.2 1146,963.2 1146.5,967 1147,970.7 1147.6,974.3 1148.1,977.7 1148.6,981.1 1149.1,984.3 1149.6,987.4 1150.2,990.4 1150.7,993.4 1151.2,996.2 1151.7,998.9 1152.2,1001.5 1152.8,1004.1 1153.3,1006.5 1153.8,1008.9 1154.3,1011.2 1154.8,1013.4 1155.4,1015.6 1155.9,1017.7 1156.4,1019.7 1156.9,1021.6 1157.4,1023.5 1158,1025.3 1158.5,1027.1 1159,1028.8 1159.5,1030.5 1160.1,1032.1 1160.6,1033.7 1161.1,1035.2 1161.6,1036.6 1162.1,1038.1 1162.7,1039.4 1163.2,1040.8 1163.7,1042.1 1164.2,1043.3 1164.7,1044.6 1165.3,1045.8 1165.8,1046.9 1166.3,1048 1166.8,1049.1 1167.3,1050.2 1167.9,1051.2 1168.4,1052.2 1168.9,1053.2 1169.4,1054.1 1169.9,1055.1 1170.5,1056 1171,1056.8 1171.5,1057.7 1172,1058.5 1172.5,1059.3 1173.1,1060.1 1173.6,1060.9 1174.1,1061.6 1174.6,1062.3 1175.1,1063 1175.7,1063.7 1176.2,1064.4 1176.7,1065.1 1177.2,1065.7 1177.7,1066.3 1178.3,1066.9 1178.8,1067.5 1179.3,1068.1 1179.8,1068.7 1180.3,1069.2 1180.9,1069.8 1181.4,1070.3 1181.9,1070.8 1182.4,1071.3 1182.9,1071.8 1183.5,1072.3 1184,1072.7 1184.5,1073.2 1185,1073.6 1185.6,1074.1 1186.1,1074.5 1186.6,1074.9 1187.1,1075.3 1187.6,1075.7 1188.2,1076.1 1188.7,1076.5 1189.2,1076.9 1189.7,1077.3 1190.2,1077.6 1190.8,1078 1191.3,1078.3 1191.8,1078.7 1192.3,1079 1192.8,1079.3 1193.4,1079.6 1193.9,1079.9 1194.4,1080.3 1194.9,1080.6 1195.4,1080.8 1196,1081.1 1196.5,1081.4 1197,1081.7 1197.5,1082 1198,1082.2 1198.6,1082.5 1199.1,1082.8 1199.6,1083 1200.1,1083.3 1200.6,1083.5 1201.2,1083.7 1201.7,1084 1202.2,1084.2 1202.7,1084.4 1203.2,1084.6 1203.8,1084.9 1204.3,1085.1 1204.8,1085.3 1205.3,1085.5 1205.8,1085.7 1206.4,1085.9 1206.9,1086.1 1207.4,1086.3 1207.9,1086.5 1208.5,1086.7 1209,1086.8 1209.5,1087 1210,1087.2 1210.5,1087.4 1211.1,1087.5 1211.6,1087.7 1212.1,1087.9 1212.6,1088 1213.1,1088.2 1213.7,1088.3 1214.2,1088.5 1214.7,1088.6 1215.2,1088.8 1215.7,1088.9 1216.3,1089.1 1216.8,1089.2 1217.3,1089.4 1217.8,1089.5 1218.3,1089.6 1218.9,1089.8 1219.4,1089.9 1219.9,1090 1220.4,1090.2 1220.9,1090.3 1221.5,1090.4 1222,1090.5 1222.5,1090.7 1223,1090.8 1223.5,1090.9 1224.1,1091 1224.6,1091.1 1225.1,1091.2 1225.6,1091.3 1226.1,1091.5 1226.7,1091.6 1227.2,1091.7 1227.7,1091.8 1228.2,1091.9 1228.7,1092 1229.3,1092.1 1229.8,1092.2 1230.3,1092.3 1230.8,1092.4 1231.3,1092.5 1231.9,1092.5 1232.4,1092.6 1232.9,1092.7 1233.4,1092.8 1234,1092.9 1234.5,1093 1235,1093.1 1235.5,1093.2 1236,1093.2 1236.6,1093.3 1237.1,1093.4 1237.6,1093.5 1238.1,1093.6 1238.6,1093.6 1239.2,1093.7 1239.7,1093.8 1240.2,1093.9 1240.7,1093.9 1241.2,1094 1241.8,1094.1 1242.3,1094.2 1242.8,1094.2 1243.3,1094.3 1243.8,1094.4 1244.4,1094.4 1244.9,1094.5 1245.4,1094.6 1245.9,1094.6 1246.4,1094.7 1247,1094.8 1247.5,1094.8 1248,1094.9 1248.5,1095 1249,1095 1249.6,1095.1 1250.1,1095.1 1250.6,1095.2 1251.1,1095.3 1251.6,1095.3 1252.2,1095.4 1252.7,1095.4 1253.2,1095.5 1253.7,1095.5 1254.2,1095.6 1254.8,1095.6 1255.3,1095.7 1255.8,1095.7 1256.3,1095.8 1256.8,1095.8 1257.4,1095.9 1257.9,1095.9 1258.4,1096 1258.9,1096 1259.5,1096.1 1260,1096.1 1260.5,1096.2 1261,1096.2 1261.5,1096.3 1262.1,1096.3 1262.6,1096.4 1263.1,1096.4 1263.6,1096.5 1264.1,1096.5 1264.7,1096.5 1265.2,1096.6 1265.7,1096.6 1266.2,1096.7 1266.7,1096.7 1267.3,1096.8 1267.8,1096.8 1268.3,1096.8 1268.8,1096.9 1269.3,1096.9 1269.9,1097 1270.4,1097 1270.9,1097 1271.4,1097.1 1271.9,1097.1 1272.5,1097.1 1273,1097.2 1273.5,1097.2 1274,1097.2 1274.5,1097.3 1275.1,1097.3 1275.6,1097.4 1276.1,1097.4 1276.6,1097.4 1277.1,1097.5 1277.7,1097.5 1278.2,1097.5 1278.7,1097.6 1279.2,1097.6 1279.7,1097.6 1280.3,1097.6 1280.8,1097.7 1281.3,1097.7 1281.8,1097.7 1282.3,1097.8 1282.9,1097.8 1283.4,1097.8 1283.9,1097.9 1284.4,1097.9 1285,1097.9 1285.5,1098 1286,1098 1286.5,1098 1287,1098 1287.6,1098.1 1288.1,1098.1 1288.6,1098.1 1289.1,1098.1 1289.6,1098.2 1290.2,1098.2 1290.7,1098.2 1291.2,1098.3 1291.7,1098.3 1292.2,1098.3 1292.8,1098.3 1293.3,1098.4 1293.8,1098.4 1294.3,1098.4 1294.8,1098.4 1295.4,1098.5 1295.9,1098.5 1296.4,1098.5 1296.9,1098.5 1297.4,1098.5 1298,1098.6 1298.5,1098.6 1299,1098.6 1299.5,1098.6 1300,1098.7 1300.6,1098.7 1301.1,1098.7 1301.6,1098.7 1302.1,1098.7 1302.6,1098.8 1303.2,1098.8 1303.7,1098.8 1304.2,1098.8 1304.7,1098.9 1305.2,1098.9 1305.8,1098.9 1306.3,1098.9 1306.8,1098.9 1307.3,1099 1307.8,1099 1308.4,1099 1308.9,1099 1309.4,1099 1309.9,1099.1 1310.5,1099.1 1311,1099.1 1311.5,1099.1 1312,1099.1 1312.5,1099.1 1313.1,1099.2 1313.6,1099.2 1314.1,1099.2 1314.6,1099.2 1315.1,1099.2 1315.7,1099.2 1316.2,1099.3 1316.7,1099.3 1317.2,1099.3 1317.7,1099.3 1318.3,1099.3 1318.8,1099.4 1319.3,1099.4 1319.8,1099.4 1320.3,1099.4 1320.9,1099.4 1321.4,1099.4 1321.9,1099.4 1322.4,1099.5 1322.9,1099.5 1323.5,1099.5 1324,1099.5 1324.5,1099.5 1325,1099.5 1325.5,1099.6 1326.1,1099.6 1326.6,1099.6 1327.1,1099.6 1327.6,1099.6 1328.1,1099.6 1328.7,1099.6 1329.2,1099.7 1329.7,1099.7 1330.2,1099.7 1330.7,1099.7 1331.3,1099.7 1331.8,1099.7 1332.3,1099.7 1332.8,1099.8 1333.3,1099.8 1333.9,1099.8 1334.4,1099.8 1334.9,1099.8 1335.4,1099.8 1336,1099.8 1336.5,1099.8 1337,1099.9 1337.5,1099.9 1338,1099.9 1338.6,1099.9 1339.1,1099.9 1339.6,1099.9 1340.1,1099.9 1340.6,1099.9 1341.2,1100 1341.7,1100 1342.2,1100 1342.7,1100 1343.2,1100 1343.8,1100 1344.3,1100 1344.8,1100 1345.3,1100.1 1345.8,1100.1 1346.4,1100.1 1346.9,1100.1 1347.4,1100.1 1347.9,1100.1 1348.4,1100.1 1349,1100.1 1349.5,1100.1 1350,1100.2 1350.5,1100.2 1351,1100.2 1351.6,1100.2 1352.1,1100.2 1352.6,1100.2 1353.1,1100.2 1353.6,1100.2 1354.2,1100.2 1354.7,1100.2 1355.2,1100.3 1355.7,1100.3 1356.2,1100.3 1356.8,1100.3 1357.3,1100.3 1357.8,1100.3 1358.3,1100.3 1358.9,1100.3 1359.4,1100.3 1359.9,1100.3 1360.4,1100.4 1360.9,1100.4 1361.5,1100.4 1362,1100.4 1362.5,1100.4 1363,1100.4 1363.5,1100.4 1364.1,1100.4 1364.6,1100.4 1365.1,1100.4 1365.6,1100.4 1366.1,1100.5 1366.7,1100.5 1367.2,1100.5 1367.7,1100.5 1368.2,1100.5 1368.7,1100.5 1369.3,1100.5 1369.8,1100.5 1370.3,1100.5 1370.8,1100.5 1371.3,1100.5 1371.9,1100.5 1372.4,1100.6 1372.9,1100.6 1373.4,1100.6 1373.9,1100.6 1374.5,1100.6 1375,1100.6 1375.5,1100.6 1376,1100.6 1376.5,1100.6 1377.1,1100.6 1377.6,1100.6 1378.1,1100.6 1378.6,1100.6 1379.1,1100.7 1379.7,1100.7 1380.2,1100.7 1380.7,1100.7 1381.2,1100.7 1381.7,1100.7 1382.3,1100.7 1382.8,1100.7 1383.3,1100.7 1383.8,1100.7 1384.4,1100.7 1384.9,1100.7 1385.4,1100.7 1385.9,1100.7 1386.4,1100.8 1387,1100.8 1387.5,1100.8 1388,1100.8 1388.5,1100.8 1389,1100.8 1389.6,1100.8 1390.1,1100.8 1390.6,1100.8 1391.1,1100.8 1391.6,1100.8 1392.2,1100.8 1392.7,1100.8 1393.2,1100.8 1393.7,1100.8 1394.2,1100.9 1394.8,1100.9 1395.3,1100.9 1395.8,1100.9 1396.3,1100.9 1396.8,1100.9 1397.4,1100.9 1397.9,1100.9 1398.4,1100.9 1398.9,1100.9 1399.4,1100.9 1400,1100.9 1400.5,1100.9 1401,1100.9 1401.5,1100.9 1402,1100.9 1402.6,1100.9 1403.1,1101 1403.6,1101 1404.1,1101 1404.6,1101 1405.2,1101 1405.7,1101 1406.2,1101 1406.7,1101 1407.2,1101 1407.8,1101 1408.3,1101 1408.8,1101 1409.3,1101 1409.9,1101" fill="none" stroke="#2a2a2a" stroke-width="1.7" stroke-linejoin="round" stroke-dasharray="0.1 6.9" stroke-linecap="round"/>
<polyline points="963.9,1101.7 964.4,1101.7 964.9,1101.7 965.4,1101.7 965.9,1101.7 966.5,1101.7 967,1101.7 967.5,1101.7 968,1101.7 968.5,1101.7 969.1,1101.7 969.6,1101.7 970.1,1101.7 970.6,1101.7 971.1,1101.7 971.7,1101.7 972.2,1101.6 972.7,1101.6 973.2,1101.6 973.7,1101.6 974.3,1101.6 974.8,1101.6 975.3,1101.6 975.8,1101.6 976.3,1101.6 976.9,1101.6 977.4,1101.6 977.9,1101.6 978.4,1101.6 978.9,1101.6 979.5,1101.6 980,1101.6 980.5,1101.6 981,1101.6 981.5,1101.6 982.1,1101.6 982.6,1101.6 983.1,1101.6 983.6,1101.6 984.2,1101.6 984.7,1101.6 985.2,1101.6 985.7,1101.6 986.2,1101.6 986.8,1101.6 987.3,1101.5 987.8,1101.5 988.3,1101.5 988.8,1101.5 989.4,1101.5 989.9,1101.5 990.4,1101.5 990.9,1101.5 991.4,1101.5 992,1101.5 992.5,1101.5 993,1101.5 993.5,1101.5 994,1101.5 994.6,1101.5 995.1,1101.5 995.6,1101.5 996.1,1101.5 996.6,1101.5 997.2,1101.5 997.7,1101.5 998.2,1101.5 998.7,1101.5 999.2,1101.5 999.8,1101.4 1000.3,1101.4 1000.8,1101.4 1001.3,1101.4 1001.8,1101.4 1002.4,1101.4 1002.9,1101.4 1003.4,1101.4 1003.9,1101.4 1004.4,1101.4 1005,1101.4 1005.5,1101.4 1006,1101.4 1006.5,1101.4 1007,1101.4 1007.6,1101.4 1008.1,1101.4 1008.6,1101.4 1009.1,1101.4 1009.7,1101.4 1010.2,1101.4 1010.7,1101.3 1011.2,1101.3 1011.7,1101.3 1012.3,1101.3 1012.8,1101.3 1013.3,1101.3 1013.8,1101.3 1014.3,1101.3 1014.9,1101.3 1015.4,1101.3 1015.9,1101.3 1016.4,1101.3 1016.9,1101.3 1017.5,1101.3 1018,1101.3 1018.5,1101.3 1019,1101.3 1019.5,1101.3 1020.1,1101.2 1020.6,1101.2 1021.1,1101.2 1021.6,1101.2 1022.1,1101.2 1022.7,1101.2 1023.2,1101.2 1023.7,1101.2 1024.2,1101.2 1024.7,1101.2 1025.3,1101.2 1025.8,1101.2 1026.3,1101.2 1026.8,1101.2 1027.3,1101.2 1027.9,1101.2 1028.4,1101.1 1028.9,1101.1 1029.4,1101.1 1029.9,1101.1 1030.5,1101.1 1031,1101.1 1031.5,1101.1 1032,1101.1 1032.5,1101.1 1033.1,1101.1 1033.6,1101.1 1034.1,1101.1 1034.6,1101.1 1035.2,1101.1 1035.7,1101.1 1036.2,1101 1036.7,1101 1037.2,1101 1037.8,1101 1038.3,1101 1038.8,1101 1039.3,1101 1039.8,1101 1040.4,1101 1040.9,1101 1041.4,1101 1041.9,1101 1042.4,1101 1043,1100.9 1043.5,1100.9 1044,1100.9 1044.5,1100.9 1045,1100.9 1045.6,1100.9 1046.1,1100.9 1046.6,1100.9 1047.1,1100.9 1047.6,1100.9 1048.2,1100.9 1048.7,1100.9 1049.2,1100.8 1049.7,1100.8 1050.2,1100.8 1050.8,1100.8 1051.3,1100.8 1051.8,1100.8 1052.3,1100.8 1052.8,1100.8 1053.4,1100.8 1053.9,1100.8 1054.4,1100.8 1054.9,1100.7 1055.4,1100.7 1056,1100.7 1056.5,1100.7 1057,1100.7 1057.5,1100.7 1058,1100.7 1058.6,1100.7 1059.1,1100.7 1059.6,1100.7 1060.1,1100.6 1060.7,1100.6 1061.2,1100.6 1061.7,1100.6 1062.2,1100.6 1062.7,1100.6 1063.3,1100.6 1063.8,1100.6 1064.3,1100.6 1064.8,1100.5 1065.3,1100.5 1065.9,1100.5 1066.4,1100.5 1066.9,1100.5 1067.4,1100.5 1067.9,1100.5 1068.5,1100.5 1069,1100.4 1069.5,1100.4 1070,1100.4 1070.5,1100.4 1071.1,1100.4 1071.6,1100.4 1072.1,1100.4 1072.6,1100.4 1073.1,1100.3 1073.7,1100.3 1074.2,1100.3 1074.7,1100.3 1075.2,1100.3 1075.7,1100.3 1076.3,1100.3 1076.8,1100.3 1077.3,1100.2 1077.8,1100.2 1078.3,1100.2 1078.9,1100.2 1079.4,1100.2 1079.9,1100.2 1080.4,1100.2 1080.9,1100.1 1081.5,1100.1 1082,1100.1 1082.5,1100.1 1083,1100.1 1083.5,1100.1 1084.1,1100 1084.6,1100 1085.1,1100 1085.6,1100 1086.2,1100 1086.7,1100 1087.2,1099.9 1087.7,1099.9 1088.2,1099.9 1088.8,1099.9 1089.3,1099.9 1089.8,1099.9 1090.3,1099.8 1090.8,1099.8 1091.4,1099.8 1091.9,1099.8 1092.4,1099.8 1092.9,1099.7 1093.4,1099.7 1094,1099.7 1094.5,1099.7 1095,1099.7 1095.5,1099.6 1096,1099.6 1096.6,1099.6 1097.1,1099.6 1097.6,1099.6 1098.1,1099.5 1098.6,1099.5 1099.2,1099.5 1099.7,1099.5 1100.2,1099.5 1100.7,1099.4 1101.2,1099.4 1101.8,1099.4 1102.3,1099.4 1102.8,1099.3 1103.3,1099.3 1103.8,1099.3 1104.4,1099.3 1104.9,1099.3 1105.4,1099.2 1105.9,1099.2 1106.4,1099.2 1107,1099.2 1107.5,1099.1 1108,1099.1 1108.5,1099.1 1109.1,1099.1 1109.6,1099 1110.1,1099 1110.6,1099 1111.1,1098.9 1111.7,1098.9 1112.2,1098.9 1112.7,1098.9 1113.2,1098.8 1113.7,1098.8 1114.3,1098.8 1114.8,1098.7 1115.3,1098.7 1115.8,1098.7 1116.3,1098.6 1116.9,1098.6 1117.4,1098.6 1117.9,1098.6 1118.4,1098.5 1118.9,1098.5 1119.5,1098.5 1120,1098.4 1120.5,1098.4 1121,1098.3 1121.5,1098.3 1122.1,1098.3 1122.6,1098.2 1123.1,1098.2 1123.6,1098.2 1124.1,1098.1 1124.7,1098.1 1125.2,1098.1 1125.7,1098 1126.2,1098 1126.7,1097.9 1127.3,1097.9 1127.8,1097.9 1128.3,1097.8 1128.8,1097.8 1129.3,1097.7 1129.9,1097.7 1130.4,1097.6 1130.9,1097.6 1131.4,1097.6 1131.9,1097.5 1132.5,1097.5 1133,1097.4 1133.5,1097.4 1134,1097.3 1134.6,1097.3 1135.1,1097.2 1135.6,1097.2 1136.1,1097.1 1136.6,1097.1 1137.2,1097 1137.7,1097 1138.2,1096.9 1138.7,1096.8 1139.2,1096.8 1139.8,1096.7 1140.3,1096.7 1140.8,1096.6 1141.3,1096.6 1141.8,1096.5 1142.4,1096.4 1142.9,1096.4 1143.4,1096.3 1143.9,1096.2 1144.4,1096.2 1145,1096.1 1145.5,1096.1 1146,1096 1146.5,1095.9 1147,1095.8 1147.6,1095.8 1148.1,1095.7 1148.6,1095.6 1149.1,1095.6 1149.6,1095.5 1150.2,1095.4 1150.7,1095.3 1151.2,1095.2 1151.7,1095.2 1152.2,1095.1 1152.8,1095 1153.3,1094.9 1153.8,1094.8 1154.3,1094.7 1154.8,1094.6 1155.4,1094.6 1155.9,1094.5 1156.4,1094.4 1156.9,1094.3 1157.4,1094.2 1158,1094.1 1158.5,1094 1159,1093.9 1159.5,1093.8 1160.1,1093.7 1160.6,1093.5 1161.1,1093.4 1161.6,1093.3 1162.1,1093.2 1162.7,1093.1 1163.2,1093 1163.7,1092.8 1164.2,1092.7 1164.7,1092.6 1165.3,1092.5 1165.8,1092.3 1166.3,1092.2 1166.8,1092.1 1167.3,1091.9 1167.9,1091.8 1168.4,1091.6 1168.9,1091.5 1169.4,1091.3 1169.9,1091.2 1170.5,1091 1171,1090.9 1171.5,1090.7 1172,1090.5 1172.5,1090.4 1173.1,1090.2 1173.6,1090 1174.1,1089.8 1174.6,1089.6 1175.1,1089.5 1175.7,1089.3 1176.2,1089.1 1176.7,1088.9 1177.2,1088.7 1177.7,1088.4 1178.3,1088.2 1178.8,1088 1179.3,1087.8 1179.8,1087.5 1180.3,1087.3 1180.9,1087.1 1181.4,1086.8 1181.9,1086.6 1182.4,1086.3 1182.9,1086 1183.5,1085.8 1184,1085.5 1184.5,1085.2 1185,1084.9 1185.6,1084.6 1186.1,1084.3 1186.6,1084 1187.1,1083.6 1187.6,1083.3 1188.2,1083 1188.7,1082.6 1189.2,1082.2 1189.7,1081.9 1190.2,1081.5 1190.8,1081.1 1191.3,1080.7 1191.8,1080.3 1192.3,1079.8 1192.8,1079.4 1193.4,1079 1193.9,1078.5 1194.4,1078 1194.9,1077.5 1195.4,1077 1196,1076.5 1196.5,1076 1197,1075.4 1197.5,1074.8 1198,1074.2 1198.6,1073.6 1199.1,1073 1199.6,1072.4 1200.1,1071.7 1200.6,1071 1201.2,1070.3 1201.7,1069.6 1202.2,1068.8 1202.7,1068 1203.2,1067.2 1203.8,1066.4 1204.3,1065.5 1204.8,1064.6 1205.3,1063.7 1205.8,1062.8 1206.4,1061.8 1206.9,1060.7 1207.4,1059.7 1207.9,1058.6 1208.5,1057.4 1209,1056.2 1209.5,1055 1210,1053.7 1210.5,1052.4 1211.1,1051 1211.6,1049.6 1212.1,1048.1 1212.6,1046.5 1213.1,1044.9 1213.7,1043.3 1214.2,1041.5 1214.7,1039.7 1215.2,1037.8 1215.7,1035.8 1216.3,1033.8 1216.8,1031.6 1217.3,1029.4 1217.8,1027.1 1218.3,1024.7 1218.9,1022.1 1219.4,1019.5 1219.9,1016.7 1220.4,1013.8 1220.9,1010.8 1221.5,1007.7 1222,1004.4 1222.5,1001 1223,997.4 1223.5,993.7 1224.1,989.8 1224.6,985.7 1225.1,981.5 1225.6,977 1226.1,972.4 1226.7,967.6 1227.2,962.6 1227.7,957.3 1228.2,951.9 1228.7,946.3 1229.3,940.4 1229.8,934.3 1230.3,928.1 1230.8,921.6 1231.3,914.9 1231.9,908.1 1232.4,901 1232.9,893.9 1233.4,886.6 1234,879.2 1234.5,871.7 1235,864.3 1235.5,856.8 1236,849.5 1236.6,842.2 1237.1,835.2 1237.6,828.4 1238.1,822 1238.6,815.9 1239.2,810.3 1239.7,805.3 1240.2,800.9 1240.7,797.2 1241.2,794.2 1241.8,792 1242.3,790.6 1242.8,790 1243.3,790.3 1243.8,791.4 1244.4,793.3 1244.9,796.1 1245.4,799.5 1245.9,803.7 1246.4,808.5 1247,813.9 1247.5,819.8 1248,826.1 1248.5,832.8 1249,839.8 1249.6,847 1250.1,854.3 1250.6,861.7 1251.1,869.2 1251.6,876.6 1252.2,884.1 1252.7,891.4 1253.2,898.6 1253.7,905.7 1254.2,912.6 1254.8,919.3 1255.3,925.9 1255.8,932.2 1256.3,938.3 1256.8,944.3 1257.4,950 1257.9,955.5 1258.4,960.8 1258.9,965.9 1259.5,970.8 1260,975.5 1260.5,980 1261,984.3 1261.5,988.4 1262.1,992.4 1262.6,996.2 1263.1,999.8 1263.6,1003.3 1264.1,1006.6 1264.7,1009.8 1265.2,1012.8 1265.7,1015.7 1266.2,1018.5 1266.7,1021.2 1267.3,1023.8 1267.8,1026.3 1268.3,1028.6 1268.8,1030.9 1269.3,1033.1 1269.9,1035.1 1270.4,1037.1 1270.9,1039.1 1271.4,1040.9 1271.9,1042.7 1272.5,1044.4 1273,1046 1273.5,1047.6 1274,1049.1 1274.5,1050.5 1275.1,1051.9 1275.6,1053.3 1276.1,1054.6 1276.6,1055.8 1277.1,1057 1277.7,1058.2 1278.2,1059.3 1278.7,1060.4 1279.2,1061.4 1279.7,1062.4 1280.3,1063.4 1280.8,1064.3 1281.3,1065.2 1281.8,1066.1 1282.3,1066.9 1282.9,1067.8 1283.4,1068.6 1283.9,1069.3 1284.4,1070.1 1285,1070.8 1285.5,1071.5 1286,1072.1 1286.5,1072.8 1287,1073.4 1287.6,1074 1288.1,1074.6 1288.6,1075.2 1289.1,1075.8 1289.6,1076.3 1290.2,1076.8 1290.7,1077.3 1291.2,1077.8 1291.7,1078.3 1292.2,1078.8 1292.8,1079.2 1293.3,1079.7 1293.8,1080.1 1294.3,1080.5 1294.8,1080.9 1295.4,1081.3 1295.9,1081.7 1296.4,1082.1 1296.9,1082.5 1297.4,1082.8 1298,1083.2 1298.5,1083.5 1299,1083.8 1299.5,1084.2 1300,1084.5 1300.6,1084.8 1301.1,1085.1 1301.6,1085.4 1302.1,1085.7 1302.6,1085.9 1303.2,1086.2 1303.7,1086.5 1304.2,1086.7 1304.7,1087 1305.2,1087.2 1305.8,1087.5 1306.3,1087.7 1306.8,1087.9 1307.3,1088.1 1307.8,1088.4 1308.4,1088.6 1308.9,1088.8 1309.4,1089 1309.9,1089.2 1310.5,1089.4 1311,1089.6 1311.5,1089.8 1312,1090 1312.5,1090.1 1313.1,1090.3 1313.6,1090.5 1314.1,1090.6 1314.6,1090.8 1315.1,1091 1315.7,1091.1 1316.2,1091.3 1316.7,1091.4 1317.2,1091.6 1317.7,1091.7 1318.3,1091.9 1318.8,1092 1319.3,1092.2 1319.8,1092.3 1320.3,1092.4 1320.9,1092.6 1321.4,1092.7 1321.9,1092.8 1322.4,1092.9 1322.9,1093 1323.5,1093.2 1324,1093.3 1324.5,1093.4 1325,1093.5 1325.5,1093.6 1326.1,1093.7 1326.6,1093.8 1327.1,1093.9 1327.6,1094 1328.1,1094.1 1328.7,1094.2 1329.2,1094.3 1329.7,1094.4 1330.2,1094.5 1330.7,1094.6 1331.3,1094.7 1331.8,1094.8 1332.3,1094.9 1332.8,1095 1333.3,1095 1333.9,1095.1 1334.4,1095.2 1334.9,1095.3 1335.4,1095.4 1336,1095.4 1336.5,1095.5 1337,1095.6 1337.5,1095.7 1338,1095.7 1338.6,1095.8 1339.1,1095.9 1339.6,1096 1340.1,1096 1340.6,1096.1 1341.2,1096.2 1341.7,1096.2 1342.2,1096.3 1342.7,1096.4 1343.2,1096.4 1343.8,1096.5 1344.3,1096.5 1344.8,1096.6 1345.3,1096.7 1345.8,1096.7 1346.4,1096.8 1346.9,1096.8 1347.4,1096.9 1347.9,1096.9 1348.4,1097 1349,1097 1349.5,1097.1 1350,1097.1 1350.5,1097.2 1351,1097.2 1351.6,1097.3 1352.1,1097.3 1352.6,1097.4 1353.1,1097.4 1353.6,1097.5 1354.2,1097.5 1354.7,1097.6 1355.2,1097.6 1355.7,1097.7 1356.2,1097.7 1356.8,1097.8 1357.3,1097.8 1357.8,1097.8 1358.3,1097.9 1358.9,1097.9 1359.4,1098 1359.9,1098 1360.4,1098 1360.9,1098.1 1361.5,1098.1 1362,1098.2 1362.5,1098.2 1363,1098.2 1363.5,1098.3 1364.1,1098.3 1364.6,1098.3 1365.1,1098.4 1365.6,1098.4 1366.1,1098.4 1366.7,1098.5 1367.2,1098.5 1367.7,1098.5 1368.2,1098.6 1368.7,1098.6 1369.3,1098.6 1369.8,1098.7 1370.3,1098.7 1370.8,1098.7 1371.3,1098.8 1371.9,1098.8 1372.4,1098.8 1372.9,1098.8 1373.4,1098.9 1373.9,1098.9 1374.5,1098.9 1375,1099 1375.5,1099 1376,1099 1376.5,1099 1377.1,1099.1 1377.6,1099.1 1378.1,1099.1 1378.6,1099.1 1379.1,1099.2 1379.7,1099.2 1380.2,1099.2 1380.7,1099.2 1381.2,1099.3 1381.7,1099.3 1382.3,1099.3 1382.8,1099.3 1383.3,1099.4 1383.8,1099.4 1384.4,1099.4 1384.9,1099.4 1385.4,1099.5 1385.9,1099.5 1386.4,1099.5 1387,1099.5 1387.5,1099.5 1388,1099.6 1388.5,1099.6 1389,1099.6 1389.6,1099.6 1390.1,1099.6 1390.6,1099.7 1391.1,1099.7 1391.6,1099.7 1392.2,1099.7 1392.7,1099.7 1393.2,1099.8 1393.7,1099.8 1394.2,1099.8 1394.8,1099.8 1395.3,1099.8 1395.8,1099.9 1396.3,1099.9 1396.8,1099.9 1397.4,1099.9 1397.9,1099.9 1398.4,1099.9 1398.9,1100 1399.4,1100 1400,1100 1400.5,1100 1401,1100 1401.5,1100 1402,1100.1 1402.6,1100.1 1403.1,1100.1 1403.6,1100.1 1404.1,1100.1 1404.6,1100.1 1405.2,1100.1 1405.7,1100.2 1406.2,1100.2 1406.7,1100.2 1407.2,1100.2 1407.8,1100.2 1408.3,1100.2 1408.8,1100.2 1409.3,1100.3 1409.9,1100.3" fill="none" stroke="#2a2a2a" stroke-width="1.7" stroke-linejoin="round" stroke-dasharray="0.1 6.9" stroke-linecap="round"/>
<rect x="833.8" y="623" width="624.5" height="494.6" fill="none" stroke="#424242" stroke-width="2"/>
<path d="M833.8 1117.6v10M885.8 1117.6v3.5M937.8 1117.6v10M989.9 1117.6v3.5M1041.9 1117.6v10M1094 1117.6v3.5M1146 1117.6v10M1198 1117.6v3.5M1250.1 1117.6v10M1302.1 1117.6v3.5M1354.2 1117.6v10M1406.2 1117.6v3.5M1458.2 1117.6v10" stroke="#424242" stroke-width="2" fill="none"/>
<text x="812.06" y="1152.60" font-size="24.3" font-weight="normal" fill="#000" stroke="#000" stroke-width="1.3" stroke-linejoin="round" letter-spacing="1.4">800</text>
<text x="908.27" y="1152.60" font-size="24.3" font-weight="normal" fill="#000" stroke="#000" stroke-width="1.3" stroke-linejoin="round" letter-spacing="1.4">1000</text>
<text x="1012.36" y="1152.60" font-size="24.3" font-weight="normal" fill="#000" stroke="#000" stroke-width="1.3" stroke-linejoin="round" letter-spacing="1.4">1200</text>
<text x="1116.44" y="1152.60" font-size="24.3" font-weight="normal" fill="#000" stroke="#000" stroke-width="1.3" stroke-linejoin="round" letter-spacing="1.4">1400</text>
<text x="1220.52" y="1152.60" font-size="24.3" font-weight="normal" fill="#000" stroke="#000" stroke-width="1.3" stroke-linejoin="round" letter-spacing="1.4">1600</text>
<text x="1324.61" y="1152.60" font-size="24.3" font-weight="normal" fill="#000" stroke="#000" stroke-width="1.3" stroke-linejoin="round" letter-spacing="1.4">1800</text>
<text x="1428.99" y="1152.60" font-size="24.3" font-weight="normal" fill="#000" stroke="#000" stroke-width="1.3" stroke-linejoin="round" letter-spacing="1.4">2000</text>
<text transform="translate(1020.17 1201.20) scale(0.9557 1.0000)" font-size="29.5" font-weight="bold" fill="#000" xml:space="preserve">Raman shift (cm<tspan font-size="14.8"> </tspan><tspan font-size="19.5" dy="-11.8">-1</tspan><tspan dy="11.8">)</tspan></text>
<text transform="translate(792.00 944.01) rotate(-90) scale(0.9577 0.9600)" font-size="29" font-weight="bold" fill="#000" xml:space="preserve">Intensity (a.u.)</text>
<text transform="translate(1406.27 677.50) scale(1.0231 1.0000)" font-size="30" font-weight="bold" fill="#000" xml:space="preserve">d</text>
<text transform="translate(862.01 682.50) scale(0.9473 1.0000)" font-size="30" font-weight="bold" fill="#000" xml:space="preserve">24 Hours</text>
</g>
<g>
<circle cx="1651.5" cy="142" r="11.2" fill="#000"/>
<circle cx="1671" cy="177" r="11.2" fill="#000"/>
<circle cx="1759.2" cy="190" r="11.2" fill="#000"/>
<circle cx="1877.2" cy="197.5" r="11.2" fill="#000"/>
<rect x="1644" y="265.8" width="15.8" height="232.2" fill="#ff0000"/>
<rect x="1663.5" y="285" width="15.8" height="213" fill="#ff0000"/>
<rect x="1751.5" y="234.2" width="16" height="263.8" fill="#ff0000"/>
<rect x="1869" y="159.5" width="16" height="338.5" fill="#ff0000"/>
<line x1="1652.25" y1="159.5" x2="1869" y2="201.25" stroke="#ff0000" stroke-width="1.3"/>
<rect x="1593.2" y="13" width="345.2" height="485" fill="none" stroke="#424242" stroke-width="2"/>
<path d="M1592.6 498v4.5M1641.8 498v9M1690.9 498v4.5M1740.1 498v9M1789.3 498v4.5M1838.5 498v9M1887.6 498v4.5M1936.8 498v9M1593.2 498h-10M1593.2 363.4h-5M1593.2 228.8h-10M1593.2 94.1h-5" stroke="#424242" stroke-width="2" fill="none"/>
<text transform="translate(1635.31 532.80) scale(1.0000 1.0000)" font-size="23.2" font-weight="normal" fill="#000" stroke="#000" stroke-width="0.5" stroke-linejoin="round" xml:space="preserve">0</text>
<text transform="translate(1726.82 532.80) scale(1.0000 1.0000)" font-size="23.2" font-weight="normal" fill="#000" stroke="#000" stroke-width="0.5" stroke-linejoin="round" xml:space="preserve">10</text>
<text transform="translate(1825.46 532.80) scale(1.0000 1.0000)" font-size="23.2" font-weight="normal" fill="#000" stroke="#000" stroke-width="0.5" stroke-linejoin="round" xml:space="preserve">20</text>
<text transform="translate(1923.92 532.80) scale(1.0000 1.0000)" font-size="23.2" font-weight="normal" fill="#000" stroke="#000" stroke-width="0.5" stroke-linejoin="round" xml:space="preserve">30</text>
<text transform="translate(1560.91 235.60) scale(0.9400 1.0000)" font-size="24" font-weight="normal" fill="#000" stroke="#000" stroke-width="0.5" stroke-linejoin="round" xml:space="preserve">1</text>
<text transform="translate(1562.58 503.80) scale(0.9400 1.0000)" font-size="24" font-weight="normal" fill="#000" stroke="#000" stroke-width="0.5" stroke-linejoin="round" xml:space="preserve">0</text>
<text transform="translate(1646.14 576.80) scale(1.0053 1.0000)" font-size="27.5" font-weight="bold" fill="#000" xml:space="preserve">Oxidation time (h)</text>
<text transform="translate(1535.80 395.53) rotate(-90) scale(0.9802 1.0500)" font-size="28" font-weight="bold" fill="#000" xml:space="preserve">Relative Raman Ratio</text>
<text transform="translate(1605.28 83.75) scale(1.1227 1.0000)" font-size="34" font-weight="normal" fill="#000" xml:space="preserve">e</text>
<circle cx="1829" cy="37" r="11.5" fill="#000"/>
<text transform="translate(1865.22 46.00) scale(1.1137 1.0000)" font-size="28" font-weight="bold" fill="#000" xml:space="preserve">I<tspan font-size="17.4" dy="5.6">D</tspan><tspan dy="-5.6">/I</tspan><tspan font-size="17.4" dy="5.6">G</tspan></text>
<rect x="1794" y="67" width="63.25" height="31.25" fill="#ff0000"/>
<text transform="translate(1864.40 91.75) scale(0.9988 1.0000)" font-size="27.5" font-weight="bold" fill="#000" xml:space="preserve">CFD</text>
</g>
<g>
<polyline points="1638,869.2 1662.2,848 1768.5,738.2 1911,690.5" fill="none" stroke="#ff3030" stroke-width="1.3" stroke-dasharray="9.5 9" stroke-dashoffset="-4"/>
<path d="M1638 859.5V878M1633.5 859.5h9M1633.5 878h9" stroke="#222" stroke-width="1.7" fill="none"/>
<path d="M1662.2 828V867.5M1657.8 828h9M1657.8 867.5h9" stroke="#222" stroke-width="1.7" fill="none"/>
<path d="M1768.5 695.5V780.8M1764 695.5h9M1764 780.8h9" stroke="#222" stroke-width="1.7" fill="none"/>
<path d="M1911 655.5V725.5M1906.5 655.5h9M1906.5 725.5h9" stroke="#222" stroke-width="1.7" fill="none"/>
<circle cx="1638" cy="869.2" r="7.4" fill="#000"/>
<circle cx="1662.2" cy="848" r="7.4" fill="#000"/>
<circle cx="1768.5" cy="738.2" r="7.4" fill="#000"/>
<circle cx="1911" cy="690.5" r="7.4" fill="#000"/>
<path d="M1638 986.2V1042.8M1633.5 986.2h9M1633.5 1042.8h9" stroke="#222" stroke-width="1.7" fill="none"/>
<path d="M1661.5 1031.2V1080M1657 1031.2h9M1657 1080h9" stroke="#222" stroke-width="1.7" fill="none"/>
<path d="M1768.5 970V1021.5M1764 970h9M1764 1021.5h9" stroke="#222" stroke-width="1.7" fill="none"/>
<path d="M1911 993V1052.2M1906.5 993h9M1906.5 1052.2h9" stroke="#222" stroke-width="1.7" fill="none"/>
<line x1="1636.5" y1="1031.75" x2="1912.25" y2="1010.75" stroke="#ff0000" stroke-width="4.2"/>
<rect x="1630.5" y="1006.8" width="15" height="15" fill="#fff" stroke="#111" stroke-width="1.6"/>
<rect x="1654" y="1048.2" width="15" height="15" fill="#fff" stroke="#111" stroke-width="1.6"/>
<rect x="1761" y="990" width="15" height="15" fill="#fff" stroke="#111" stroke-width="1.6"/>
<rect x="1903.5" y="1015.2" width="15" height="15" fill="#fff" stroke="#111" stroke-width="1.6"/>
<rect x="1596.3" y="624.5" width="356.5" height="485.5" fill="none" stroke="#424242" stroke-width="2"/>
<path d="M1596.3 1110v4.5M1626 1110v9M1655.7 1110v4.5M1685.4 1110v9M1715.1 1110v4.5M1744.8 1110v9M1774.5 1110v4.5M1804.2 1110v9M1833.9 1110v4.5M1863.6 1110v9M1893.3 1110v4.5M1923 1110v9M1952.7 1110v4.5M1596.3 1099.9h-5M1596.3 1053.2h-9M1596.3 1006.6h-5M1596.3 960h-9M1596.3 913.3h-5M1596.3 866.6h-9M1596.3 820h-5M1596.3 773.4h-9M1596.3 726.7h-5M1596.3 680h-9M1596.3 633.4h-5" stroke="#424242" stroke-width="2" fill="none"/>
<text transform="translate(1619.34 1145.30) scale(1.0000 1.0000)" font-size="24" font-weight="normal" fill="#000" stroke="#000" stroke-width="0.5" stroke-linejoin="round" xml:space="preserve">0</text>
<text transform="translate(1678.74 1145.30) scale(1.0000 1.0000)" font-size="24" font-weight="normal" fill="#000" stroke="#000" stroke-width="0.5" stroke-linejoin="round" xml:space="preserve">5</text>
<text transform="translate(1731.06 1145.30) scale(1.0000 1.0000)" font-size="24" font-weight="normal" fill="#000" stroke="#000" stroke-width="0.5" stroke-linejoin="round" xml:space="preserve">10</text>
<text transform="translate(1790.46 1145.30) scale(1.0000 1.0000)" font-size="24" font-weight="normal" fill="#000" stroke="#000" stroke-width="0.5" stroke-linejoin="round" xml:space="preserve">15</text>
<text transform="translate(1850.16 1145.30) scale(1.0000 1.0000)" font-size="24" font-weight="normal" fill="#000" stroke="#000" stroke-width="0.5" stroke-linejoin="round" xml:space="preserve">20</text>
<text transform="translate(1909.56 1145.30) scale(1.0000 1.0000)" font-size="24" font-weight="normal" fill="#000" stroke="#000" stroke-width="0.5" stroke-linejoin="round" xml:space="preserve">25</text>
<text transform="translate(1552.06 1059.65) scale(1.0200 1.0000)" font-size="24.5" font-weight="normal" fill="#000" stroke="#000" stroke-width="0.5" stroke-linejoin="round" xml:space="preserve">50</text>
<text transform="translate(1552.06 966.35) scale(1.0200 1.0000)" font-size="24.5" font-weight="normal" fill="#000" stroke="#000" stroke-width="0.5" stroke-linejoin="round" xml:space="preserve">55</text>
<text transform="translate(1552.06 873.05) scale(1.0200 1.0000)" font-size="24.5" font-weight="normal" fill="#000" stroke="#000" stroke-width="0.5" stroke-linejoin="round" xml:space="preserve">60</text>
<text transform="translate(1552.06 779.75) scale(1.0200 1.0000)" font-size="24.5" font-weight="normal" fill="#000" stroke="#000" stroke-width="0.5" stroke-linejoin="round" xml:space="preserve">65</text>
<text transform="translate(1552.06 686.45) scale(1.0200 1.0000)" font-size="24.5" font-weight="normal" fill="#000" stroke="#000" stroke-width="0.5" stroke-linejoin="round" xml:space="preserve">70</text>
<text transform="translate(1646.15 1189.50) scale(0.9861 1.0000)" font-size="28" font-weight="bold" fill="#000" xml:space="preserve">Oxidization time (h)</text>
<text transform="translate(1514.75 950.56) rotate(-90) scale(0.9941 1.0000)" font-size="28" font-weight="bold" fill="#000" xml:space="preserve">FWHM (cm<tspan font-size="18.5" dy="-10.1">-1</tspan><tspan dy="10.1">)</tspan></text>
<text transform="translate(1628.32 749.25) scale(1.2938 1.0000)" font-size="35" font-weight="normal" fill="#000" xml:space="preserve">f</text>
<path d="M1606 647h9.5M1644.5 647h9" stroke="#ff3030" stroke-width="1.3" fill="none"/>
<circle cx="1635.25" cy="647" r="7.4" fill="#000"/>
<text transform="translate(1670.61 655.00) scale(1.0354 1.0000)" font-size="24.4" font-weight="bold" fill="#000" xml:space="preserve">D-band</text>
<rect x="1627.75" y="670.5" width="15" height="15" fill="#fff" stroke="#111" stroke-width="1.6"/>
<text transform="translate(1671.25 685.50) scale(1.0231 1.0000)" font-size="24.4" font-weight="bold" fill="#000" xml:space="preserve">G-band</text>
</g>
</svg></body></html>
